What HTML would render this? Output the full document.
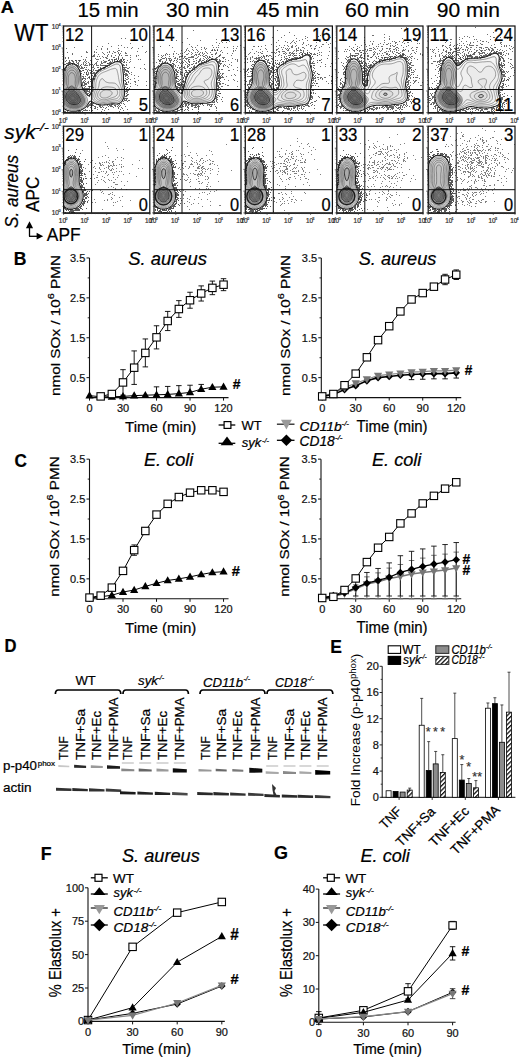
<!DOCTYPE html>
<html><head><meta charset="utf-8"><style>
html,body{margin:0;padding:0;background:#fff;}
body{width:520px;height:1059px;overflow:hidden;}
svg{display:block;}
text{font-family:"Liberation Sans", sans-serif;}
</style></head><body>
<svg width="520" height="1059" viewBox="0 0 520 1059" font-family='"Liberation Sans", sans-serif'>
<rect width="520" height="1059" fill="#fff"/>
<clipPath id="cp1"><rect x="63.60" y="26.00" width="86.20" height="86.70"/></clipPath>
<g clip-path="url(#cp1)"><g transform="translate(63.60 26.00)">
<path d="M12.0 85.2 10.8 85.3 9.6 85.3 8.4 85.3 7.4 85.2 6.4 85.0 5.3 84.8 4.4 84.5 3.6 84.3 2.8 83.9 2.0 83.5 1.2 83.1 0.4 82.6 -0.0 82.0 -0.1 80.8 -0.2 79.6 -0.2 78.4 -0.3 77.2 -0.3 76.0 -0.3 74.8 -0.3 73.6 -0.3 72.4 -0.3 71.2 -0.3 70.0 -0.3 68.8 -0.3 67.6 -0.3 66.4 -0.3 65.2 -0.3 64.0 -0.2 62.8 -0.2 61.6 -0.2 60.4 -0.2 59.2 -0.2 58.0 -0.1 56.8 -0.1 55.6 -0.1 54.4 -0.1 53.2 -0.1 52.0 -0.1 50.8 -0.1 49.6 -0.1 48.4 -0.0 47.2 -0.0 46.0 0.2 45.2 0.5 44.4 0.8 43.6 1.2 42.8 1.7 42.0 2.2 41.2 2.8 40.4 3.2 40.0 4.0 39.2 4.6 38.8 5.2 38.4 6.0 38.0 7.2 37.7 8.0 37.6 8.8 37.6 10.0 37.9 10.8 38.2 11.6 38.7 12.3 39.2 12.8 39.6 13.5 40.4 14.0 41.0 14.4 41.6 14.9 42.4 15.3 43.2 15.7 44.0 16.0 44.8 16.4 46.0 16.6 46.8 16.8 47.6 17.0 48.8 17.2 50.0 17.2 50.8 17.3 52.0 17.4 53.2 17.4 54.4 17.5 55.6 17.5 56.8 17.6 57.6 17.8 58.8 18.0 59.6 18.4 60.7 18.8 61.6 19.1 62.4 19.6 63.2 20.0 64.0 20.4 64.6 20.8 65.3 21.3 66.0 21.9 66.8 22.4 67.4 22.9 68.0 23.6 68.8 24.1 69.2 24.8 69.7 25.8 69.6 26.4 68.9 26.8 68.1 27.2 67.2 27.5 66.4 27.8 65.6 28.1 64.8 28.3 63.6 28.5 62.8 28.5 61.6 28.6 60.4 28.6 59.2 28.6 58.0 28.8 56.8 28.9 56.0 29.2 54.8 29.4 54.0 29.6 53.2 30.0 52.1 30.3 51.2 30.7 50.4 31.0 49.6 31.4 48.8 31.9 48.0 32.4 47.2 32.8 46.7 33.4 46.0 34.0 45.4 34.8 44.8 35.3 44.4 36.0 43.9 36.8 43.4 37.6 43.0 38.4 42.6 39.2 42.2 40.0 41.8 40.8 41.4 41.6 41.0 42.4 40.6 43.2 40.2 44.0 39.8 44.8 39.3 45.6 38.9 46.4 38.5 47.2 38.0 48.0 37.6 48.7 37.2 49.6 36.8 50.4 36.4 51.2 36.1 52.0 35.8 53.2 35.6 54.0 35.5 54.8 35.6 56.0 35.9 56.8 36.3 57.4 36.8 58.0 37.5 58.4 38.2 58.8 39.2 58.9 40.0 59.1 41.2 59.2 42.4 59.2 43.2 59.3 44.4 59.4 45.6 59.6 46.8 59.7 47.6 59.8 48.8 59.8 50.0 59.8 51.2 59.8 52.4 59.8 53.6 59.8 54.8 59.9 56.0 60.0 57.0 60.2 58.0 60.4 59.2 60.5 60.0 60.7 61.2 60.8 62.0 60.9 63.2 61.0 64.4 61.0 65.6 61.0 66.8 60.9 68.0 60.8 68.8 60.6 70.0 60.4 70.8 60.0 72.0 59.7 72.8 59.3 73.6 58.9 74.4 58.4 75.1 58.0 75.6 57.2 76.4 56.6 76.8 55.9 77.2 54.9 77.6 54.0 77.8 52.8 78.0 51.6 78.0 50.4 77.9 49.2 77.9 48.0 77.9 47.1 78.0 46.0 78.1 44.8 78.3 44.0 78.5 42.8 78.7 42.0 78.8 40.8 78.9 39.6 79.0 38.4 79.0 37.2 78.9 36.4 78.8 35.2 78.6 34.4 78.4 33.2 78.0 32.4 77.8 31.6 77.5 30.8 77.1 30.0 76.7 29.2 76.2 28.4 75.8 27.6 75.3 26.8 75.2 26.0 75.6 25.6 76.1 25.2 76.8 24.7 77.6 24.2 78.4 23.6 79.2 23.2 79.8 22.7 80.4 22.0 81.1 21.4 81.6 20.8 82.1 20.0 82.6 19.2 83.1 18.4 83.5 17.6 83.9 16.8 84.2 16.0 84.4 14.8 84.8 14.0 84.9 12.8 85.1 12.0 85.2Z" stroke="#1a1a1a" stroke-width="1.1" fill="#000" fill-opacity="0.02"/>
<path d="M41.2 77.6 40.0 77.7 38.8 77.7 37.6 77.6 36.8 77.5 35.6 77.3 34.8 77.1 33.9 76.8 32.9 76.4 32.1 76.0 31.4 75.6 30.8 75.1 30.0 74.4 29.6 74.0 29.1 73.2 28.7 72.4 28.5 71.2 28.5 70.0 28.7 68.8 28.9 68.0 29.2 66.8 29.4 66.0 29.7 65.2 30.0 64.0 30.1 63.2 30.3 62.0 30.3 60.8 30.3 59.6 30.3 58.4 30.4 57.2 30.5 56.4 30.8 55.2 31.0 54.4 31.2 53.6 31.6 52.5 31.9 51.6 32.3 50.8 32.7 50.0 33.1 49.2 33.6 48.5 34.0 47.9 34.6 47.2 35.2 46.7 36.0 46.0 36.6 45.6 37.2 45.2 38.0 44.8 38.8 44.4 39.6 44.0 40.5 43.6 41.3 43.2 42.2 42.8 43.0 42.4 43.8 42.0 44.6 41.6 45.5 41.2 46.3 40.8 47.1 40.4 47.9 40.0 48.7 39.6 49.5 39.2 50.4 38.8 51.2 38.5 52.0 38.2 53.2 38.0 54.4 38.1 55.2 38.5 56.0 39.2 56.4 39.9 56.7 40.8 56.8 41.6 57.0 42.8 57.1 44.0 57.2 45.2 57.3 46.0 57.5 47.2 57.6 48.2 57.7 49.2 57.8 50.4 57.8 51.6 57.8 52.8 57.8 54.0 57.9 55.2 58.0 56.0 58.3 57.2 58.4 58.0 58.7 59.2 58.9 60.0 59.2 61.2 59.3 62.0 59.5 63.2 59.6 64.4 59.6 65.2 59.6 66.4 59.6 67.2 59.4 68.4 59.2 69.5 59.0 70.4 58.7 71.2 58.4 72.1 58.0 72.9 57.6 73.6 56.9 74.4 56.4 74.9 55.6 75.5 54.8 75.9 54.0 76.2 52.8 76.4 52.0 76.5 50.8 76.5 49.6 76.5 48.4 76.5 47.2 76.6 46.1 76.8 45.2 77.0 44.0 77.2 43.2 77.4 42.0 77.5 41.2 77.6ZM12.4 84.0 11.2 84.1 10.0 84.1 8.8 84.1 8.0 84.0 6.8 83.8 5.8 83.6 4.8 83.3 4.0 83.0 3.2 82.7 2.4 82.2 1.6 81.8 0.8 81.2 0.3 80.8 -0.0 80.0 -0.1 78.8 -0.2 77.6 -0.2 76.4 -0.2 75.2 -0.2 74.0 -0.3 72.8 -0.3 71.6 -0.3 70.4 -0.3 69.2 -0.3 68.0 -0.2 66.8 -0.2 65.6 -0.2 64.4 -0.2 63.2 -0.1 62.0 -0.1 60.8 -0.1 59.6 -0.0 58.4 0.0 57.2 0.1 56.4 0.2 55.2 0.2 54.0 0.3 52.8 0.3 51.6 0.4 50.8 0.6 49.6 0.8 48.4 1.0 47.6 1.2 46.7 1.6 45.6 1.9 44.8 2.3 44.0 2.8 43.2 3.2 42.6 3.7 42.0 4.4 41.3 5.0 40.8 5.6 40.4 6.4 40.0 7.6 39.7 8.8 39.7 9.9 40.0 10.8 40.4 11.4 40.8 12.0 41.3 12.7 42.0 13.2 42.6 13.6 43.2 14.1 44.0 14.4 44.8 14.8 45.7 15.2 46.8 15.4 47.6 15.6 48.5 15.8 49.6 15.9 50.8 16.0 51.8 16.0 52.8 16.1 54.0 16.1 55.2 16.1 56.4 16.2 57.6 16.4 58.8 16.6 59.6 16.8 60.4 17.2 61.5 17.6 62.4 18.0 63.2 18.4 63.9 18.8 64.6 19.2 65.3 19.7 66.0 20.2 66.8 20.7 67.6 21.2 68.3 21.6 68.9 22.1 69.6 22.5 70.4 23.0 71.2 23.3 72.0 23.6 72.8 23.8 74.0 23.7 75.2 23.6 76.0 23.2 77.1 22.8 77.9 22.4 78.6 22.0 79.2 21.3 80.0 20.8 80.5 20.0 81.2 19.4 81.6 18.8 82.0 18.0 82.4 17.1 82.8 16.1 83.2 15.2 83.5 14.4 83.7 13.2 83.9 12.4 84.0Z" stroke="#444" stroke-width="0.6" fill="#000" fill-opacity="0.02"/>
<path d="M13.2 82.8 12.0 83.0 10.8 83.1 9.6 83.0 8.4 82.9 7.5 82.8 6.4 82.6 5.6 82.3 4.6 82.0 3.7 81.6 3.0 81.2 2.3 80.8 1.6 80.3 0.8 79.6 0.4 79.2 -0.0 78.4 -0.1 77.2 -0.1 76.0 -0.2 74.8 -0.2 73.6 -0.2 72.4 -0.2 71.2 -0.2 70.0 -0.2 68.8 -0.2 67.6 -0.2 66.4 -0.1 65.2 -0.1 64.0 -0.1 62.8 0.0 61.6 0.4 60.8 0.7 60.0 1.0 59.2 1.2 58.2 1.3 57.2 1.4 56.0 1.5 54.8 1.5 53.6 1.5 52.4 1.6 51.6 1.7 50.4 1.9 49.2 2.1 48.4 2.4 47.3 2.7 46.4 3.1 45.6 3.5 44.8 4.0 44.1 4.4 43.6 5.2 42.8 5.8 42.4 6.6 42.0 7.6 41.7 8.8 41.7 9.8 42.0 10.5 42.4 11.2 42.9 11.9 43.6 12.4 44.2 12.8 44.8 13.3 45.6 13.6 46.4 14.0 47.5 14.3 48.4 14.4 49.2 14.6 50.4 14.7 51.6 14.8 52.7 14.8 53.6 14.8 54.8 14.8 56.0 14.8 57.2 15.0 58.4 15.2 59.6 15.4 60.4 15.7 61.2 16.0 62.0 16.4 62.8 16.8 63.6 17.3 64.4 17.8 65.2 18.3 66.0 18.8 66.8 19.2 67.4 19.6 68.1 20.1 68.8 20.6 69.6 21.0 70.4 21.5 71.2 21.8 72.0 22.1 72.8 22.3 74.0 22.3 75.2 22.0 76.4 21.8 77.2 21.4 78.0 20.8 78.8 20.4 79.3 19.7 80.0 19.2 80.4 18.4 81.0 17.6 81.4 16.8 81.8 16.0 82.1 15.2 82.4 14.0 82.7 13.2 82.8ZM41.6 76.4 40.4 76.5 39.2 76.5 38.0 76.4 37.2 76.3 36.0 76.0 35.2 75.8 34.4 75.5 33.6 75.2 32.8 74.7 32.0 74.1 31.5 73.6 31.0 72.8 30.6 72.0 30.3 71.2 30.2 70.0 30.3 68.8 30.5 68.0 30.8 66.8 31.0 66.0 31.3 65.2 31.6 64.2 31.9 63.2 32.0 62.4 32.2 61.2 32.2 60.0 32.2 58.8 32.2 57.6 32.4 56.4 32.6 55.6 32.8 54.6 33.1 53.6 33.4 52.8 33.8 52.0 34.1 51.2 34.6 50.4 35.1 49.6 35.6 49.0 36.2 48.4 36.8 47.9 37.6 47.4 38.4 46.9 39.2 46.6 40.0 46.2 40.8 45.9 41.7 45.6 42.7 45.2 43.6 44.8 44.4 44.5 45.2 44.1 46.0 43.8 46.8 43.5 47.7 43.2 48.8 42.9 49.6 42.7 50.8 42.4 52.0 42.5 52.8 43.1 53.2 43.7 53.6 44.8 53.8 45.6 54.0 46.5 54.3 47.6 54.4 48.4 54.7 49.6 54.8 50.4 55.0 51.6 55.1 52.8 55.3 53.6 55.5 54.8 55.7 55.6 56.0 56.6 56.3 57.6 56.6 58.4 56.9 59.2 57.2 60.2 57.5 61.2 57.7 62.0 58.0 63.2 58.1 64.0 58.2 65.2 58.2 66.4 58.1 67.6 58.0 68.4 57.7 69.6 57.5 70.4 57.1 71.2 56.7 72.0 56.2 72.8 55.6 73.4 54.8 74.0 54.0 74.4 53.2 74.7 52.4 74.8 51.2 75.0 50.0 75.0 48.8 75.1 48.0 75.2 46.8 75.4 45.8 75.6 44.8 75.8 44.0 76.0 42.8 76.2 41.6 76.4Z" stroke="#555" stroke-width="0.55" fill="#000" fill-opacity="0.02"/>
<path d="M13.6 81.7 12.4 81.9 11.2 81.9 10.0 81.9 8.8 81.8 7.6 81.6 6.8 81.5 6.0 81.2 4.9 80.8 4.1 80.4 3.4 80.0 2.8 79.6 2.0 79.0 1.4 78.4 0.8 77.8 0.3 77.2 -0.0 76.4 -0.1 75.2 -0.1 74.0 -0.1 72.8 -0.1 71.6 -0.1 70.4 -0.1 69.2 -0.1 68.0 -0.1 66.8 -0.0 65.6 0.0 64.5 0.4 63.8 0.8 63.1 1.2 62.3 1.6 61.6 2.0 60.7 2.4 59.7 2.7 58.8 2.8 58.0 2.9 56.8 2.9 55.6 2.9 54.4 3.0 53.2 3.0 52.0 3.1 50.8 3.3 50.0 3.6 48.8 3.8 48.0 4.2 47.2 4.6 46.4 5.2 45.6 5.6 45.1 6.4 44.5 7.2 44.2 8.4 44.0 9.6 44.3 10.4 44.8 10.8 45.2 11.5 46.0 12.0 46.8 12.4 47.6 12.7 48.4 12.9 49.2 13.2 50.4 13.3 51.2 13.4 52.4 13.4 53.6 13.4 54.8 13.3 56.0 13.3 57.2 13.4 58.4 13.6 59.5 13.8 60.4 14.1 61.2 14.5 62.0 14.9 62.8 15.3 63.6 15.8 64.4 16.3 65.2 16.8 66.0 17.2 66.6 17.6 67.2 18.1 68.0 18.6 68.8 19.1 69.6 19.6 70.4 20.0 71.2 20.4 72.0 20.6 72.8 20.8 73.6 20.9 74.8 20.8 75.7 20.5 76.8 20.1 77.6 19.6 78.3 19.2 78.8 18.4 79.5 17.8 80.0 17.1 80.4 16.3 80.8 15.3 81.2 14.4 81.5 13.6 81.7ZM43.2 74.8 42.0 75.0 40.8 75.1 39.6 75.2 38.4 75.1 37.2 74.9 36.4 74.6 35.6 74.3 34.8 73.9 34.0 73.4 33.3 72.8 32.8 72.1 32.4 71.4 32.1 70.4 32.1 69.2 32.2 68.0 32.5 67.2 32.8 66.2 33.2 65.2 33.6 64.4 33.9 63.6 34.3 62.8 34.6 62.0 34.9 61.2 35.2 60.1 35.4 59.2 35.5 58.0 35.7 57.2 35.9 56.0 36.2 55.2 36.6 54.4 37.1 53.6 37.6 53.0 38.4 52.6 39.2 52.8 40.0 53.6 40.4 54.2 40.9 54.8 41.6 55.4 42.4 55.9 43.2 56.3 44.0 56.5 45.2 56.8 46.0 56.9 47.2 56.9 48.4 56.9 49.6 57.0 50.8 57.1 51.6 57.4 52.4 57.9 53.0 58.4 53.6 59.0 54.1 59.6 54.7 60.4 55.1 61.2 55.5 62.0 55.8 62.8 56.1 63.6 56.3 64.8 56.4 66.0 56.3 67.2 56.2 68.4 55.9 69.2 55.6 70.0 55.1 70.8 54.5 71.6 54.0 72.0 53.2 72.5 52.4 72.8 51.2 73.1 50.4 73.2 49.2 73.4 48.2 73.6 47.2 73.8 46.4 74.0 45.2 74.3 44.4 74.5 43.3 74.8Z" stroke="#555" stroke-width="0.55" fill="#000" fill-opacity="0.02"/>
<path d="M12.4 80.8 11.2 80.9 10.0 80.9 9.1 80.8 8.0 80.6 7.1 80.4 6.0 80.0 5.2 79.7 4.4 79.3 3.7 78.8 3.1 78.4 2.4 77.8 1.9 77.2 1.2 76.4 0.8 75.7 0.4 75.0 0.0 74.0 -0.0 73.2 -0.0 72.0 -0.0 70.8 -0.0 69.6 -0.0 68.4 0.0 67.6 0.4 66.6 0.8 65.7 1.2 64.9 1.6 64.3 2.0 63.6 2.5 62.8 3.0 62.0 3.5 61.2 3.9 60.4 4.2 59.6 4.4 58.8 4.6 57.6 4.6 56.4 4.6 55.2 4.6 54.0 4.6 52.8 4.7 51.6 4.8 50.8 5.1 49.6 5.5 48.8 5.9 48.0 6.4 47.4 7.2 46.9 8.0 46.6 9.0 46.8 9.7 47.2 10.4 47.9 10.8 48.6 11.2 49.5 11.5 50.4 11.6 51.2 11.7 52.4 11.8 53.6 11.7 54.8 11.6 56.0 11.6 56.9 11.6 57.6 11.7 58.8 12.0 60.0 12.3 60.8 12.7 61.6 13.1 62.4 13.6 63.2 14.0 63.8 14.4 64.5 14.9 65.2 15.4 66.0 16.0 66.8 16.4 67.4 16.8 68.0 17.3 68.8 17.8 69.6 18.3 70.4 18.7 71.2 19.1 72.0 19.4 72.8 19.6 74.0 19.6 74.8 19.5 75.6 19.2 76.6 18.8 77.4 18.3 78.0 17.6 78.7 17.0 79.2 16.3 79.6 15.5 80.0 14.4 80.4 13.6 80.6 12.5 80.8ZM42.4 73.6 41.2 73.8 40.0 73.8 38.8 73.7 38.0 73.5 37.0 73.2 36.2 72.8 35.6 72.4 34.8 71.6 34.4 71.0 34.0 70.0 34.0 69.2 34.0 68.4 34.3 67.2 34.7 66.4 35.1 65.6 35.6 64.9 36.0 64.3 36.7 63.6 37.2 63.1 38.0 62.4 38.7 62.0 39.5 61.6 40.4 61.3 41.2 61.1 42.4 60.9 43.6 60.8 44.8 60.9 46.0 61.0 47.2 61.1 48.0 61.2 49.2 61.4 50.0 61.6 51.0 62.0 51.8 62.4 52.4 62.9 53.1 63.6 53.5 64.4 53.8 65.2 54.0 66.4 53.9 67.6 53.6 68.5 53.2 69.2 52.4 70.0 51.9 70.4 51.1 70.8 50.1 71.2 49.2 71.5 48.4 71.8 47.6 72.0 46.5 72.4 45.6 72.7 44.8 73.0 44.0 73.2 42.8 73.5Z" stroke="#555" stroke-width="0.55" fill="#000" fill-opacity="0.025"/>
<path d="M12.8 79.6 11.6 79.8 10.4 79.8 9.2 79.7 8.4 79.5 7.2 79.2 6.4 78.9 5.6 78.5 4.8 78.1 4.1 77.6 3.6 77.2 2.9 76.4 2.4 75.8 2.0 75.2 1.6 74.4 1.2 73.5 0.9 72.4 0.8 71.4 0.8 70.4 0.9 69.6 1.1 68.4 1.4 67.6 1.8 66.8 2.2 66.0 2.7 65.2 3.2 64.4 3.6 63.9 4.2 63.2 4.8 62.5 5.3 62.0 6.0 61.2 6.4 60.8 7.2 60.1 8.0 59.8 8.8 60.1 9.6 60.8 10.0 61.2 10.7 62.0 11.2 62.6 11.7 63.2 12.3 64.0 12.8 64.6 13.3 65.2 13.9 66.0 14.4 66.7 14.8 67.2 15.3 68.0 15.9 68.8 16.4 69.6 16.8 70.2 17.2 70.9 17.6 71.7 18.0 72.8 18.2 73.6 18.2 74.8 18.0 75.9 17.6 76.7 17.2 77.3 16.5 78.0 16.0 78.4 15.2 78.8 14.4 79.2 13.2 79.5ZM41.2 72.0 40.0 72.0 39.2 71.9 38.4 71.6 37.6 71.2 36.9 70.4 36.5 69.6 36.4 68.8 36.5 68.0 36.8 67.2 37.3 66.4 38.0 65.7 38.6 65.2 39.3 64.8 40.1 64.4 41.2 64.1 42.0 63.9 43.2 63.9 44.4 64.0 45.2 64.2 46.0 64.4 46.8 64.8 47.6 65.4 48.2 66.0 48.6 66.8 48.4 68.0 48.0 68.7 47.6 69.2 46.8 69.8 46.0 70.4 45.3 70.8 44.4 71.2 43.6 71.5 42.8 71.8 41.6 72.0Z" stroke="#555" stroke-width="0.55" fill="#000" fill-opacity="0.03"/>
<path d="M12.8 78.4 11.6 78.6 10.4 78.6 9.2 78.5 8.4 78.3 7.3 78.0 6.4 77.6 5.7 77.2 5.1 76.8 4.4 76.2 3.9 75.6 3.3 74.8 2.8 74.0 2.5 73.2 2.3 72.4 2.1 71.2 2.2 70.0 2.4 68.9 2.7 68.0 3.1 67.2 3.6 66.4 4.0 65.9 4.6 65.2 5.2 64.6 6.0 64.0 6.8 63.6 7.6 63.4 8.8 63.6 9.6 63.9 10.4 64.4 10.9 64.8 11.6 65.5 12.1 66.0 12.8 66.8 13.2 67.2 13.8 68.0 14.4 68.8 14.8 69.4 15.2 70.0 15.7 70.8 16.1 71.6 16.5 72.4 16.8 73.6 16.8 74.4 16.7 75.2 16.4 76.0 15.8 76.8 15.2 77.3 14.4 77.8 13.6 78.2 12.8 78.4Z" stroke="#2a2a2a" stroke-width="0.9" fill="#000" fill-opacity="0.12"/>
<path d="M11.6 77.6 10.4 77.7 9.6 77.6 8.4 77.3 7.6 77.0 6.8 76.7 6.0 76.2 5.3 75.6 4.8 75.1 4.3 74.4 3.8 73.6 3.5 72.8 3.3 71.6 3.3 70.4 3.5 69.2 3.8 68.4 4.3 67.6 4.8 66.9 5.3 66.4 6.0 65.8 6.8 65.4 8.0 65.2 9.2 65.5 10.0 65.8 10.8 66.4 11.3 66.8 12.0 67.5 12.5 68.0 13.1 68.8 13.6 69.4 14.0 70.0 14.5 70.8 15.0 71.6 15.3 72.4 15.6 73.6 15.6 74.1 15.4 75.2 14.9 76.0 14.4 76.5 13.6 77.0 12.8 77.4 11.7 77.6Z" stroke="#444" stroke-width="0.6" fill="#000" fill-opacity="0.1"/>
<path d="M12.0 76.4 10.8 76.6 9.6 76.5 8.8 76.4 7.8 76.0 7.1 75.6 6.4 75.1 5.7 74.4 5.2 73.7 4.8 72.9 4.5 72.0 4.5 70.8 4.7 69.6 5.1 68.8 5.6 68.0 6.1 67.6 6.8 67.1 8.0 66.9 9.2 67.1 10.0 67.4 10.8 68.0 11.3 68.4 12.0 69.1 12.4 69.6 13.0 70.4 13.5 71.2 13.9 72.0 14.2 72.8 14.3 74.0 14.0 74.9 13.5 75.6 12.8 76.1 12.0 76.4Z" stroke="#444" stroke-width="0.6" fill="#000" fill-opacity="0.08"/>
<path d="M10.8 75.2 9.6 75.2 8.8 75.0 8.0 74.7 7.2 74.1 6.7 73.6 6.2 72.8 6.0 72.0 5.9 70.8 6.2 70.0 6.8 69.2 7.4 68.8 8.4 68.6 9.3 68.8 10.1 69.2 10.8 69.8 11.4 70.4 12.0 71.2 12.4 71.9 12.7 72.8 12.6 74.0 12.0 74.7 11.2 75.2Z" stroke="#555" stroke-width="0.55" fill="#000" fill-opacity="0.05"/>
<path d="M10.4 74.1 9.2 74.1 8.4 73.7 7.8 73.2 7.3 72.4 7.1 71.6 7.3 70.8 8.0 70.1 9.2 70.1 10.0 70.5 10.7 71.2 11.2 72.0 11.4 72.8 11.1 73.6 10.4 74.1Z" stroke="#666" stroke-width="0.5" fill="#000" fill-opacity="0.0"/>
<path d="M11.2 82.8 10.0 82.8 9.2 82.8 8.0 82.6 6.8 82.4 6.0 82.2 5.2 81.9 4.4 81.6 3.6 81.2 2.8 80.8 2.0 80.2 1.2 79.6 0.8 79.2 0.0 78.4 -0.0 77.6 -0.1 76.4 -0.1 75.2 -0.2 74.0 -0.2 72.8 -0.2 71.6 -0.2 70.4 -0.2 69.2 -0.2 68.0 -0.1 66.8 -0.1 65.6 -0.0 64.4 0.1 63.6 0.8 62.9 1.5 62.4 2.0 62.0 2.8 61.5 3.6 61.1 4.4 60.8 5.6 60.5 6.4 60.3 7.6 60.3 8.8 60.3 9.6 60.4 10.8 60.7 11.6 61.0 12.4 61.4 13.2 61.8 14.0 62.4 14.6 62.8 15.2 63.3 15.9 64.0 16.4 64.5 17.0 65.2 17.6 66.0 18.0 66.5 18.5 67.2 19.1 68.0 19.6 68.8 20.0 69.4 20.4 70.1 20.8 70.9 21.2 71.8 21.6 72.8 21.7 73.6 21.8 74.8 21.7 76.0 21.5 76.8 21.2 77.6 20.7 78.4 20.1 79.2 19.6 79.7 18.8 80.4 18.2 80.8 17.5 81.2 16.7 81.6 15.7 82.0 14.8 82.3 14.0 82.5 12.8 82.7 11.6 82.8Z" fill="#000" fill-opacity="0.3"/>
<path d="M10.0 64.0 8.8 64.4 7.6 64.4 6.4 64.1 5.6 63.7 4.9 63.2 4.4 62.8 3.6 62.0 3.2 61.5 2.7 60.8 2.3 60.0 1.9 59.2 1.5 58.4 1.2 57.4 0.9 56.4 0.8 55.6 0.6 54.4 0.5 53.2 0.4 52.0 0.5 50.8 0.6 49.6 0.8 48.4 0.9 47.6 1.2 46.7 1.6 45.6 1.9 44.8 2.3 44.0 2.7 43.2 3.2 42.5 3.6 42.0 4.4 41.2 4.9 40.8 5.6 40.4 6.4 40.0 7.6 39.7 8.8 39.7 10.0 40.0 10.8 40.4 11.4 40.8 12.0 41.3 12.7 42.0 13.2 42.6 13.6 43.2 14.1 44.0 14.5 44.8 14.8 45.6 15.2 46.8 15.4 47.6 15.6 48.5 15.8 49.6 15.9 50.8 15.9 52.0 15.9 53.2 15.8 54.4 15.6 55.6 15.4 56.4 15.2 57.2 14.8 58.4 14.5 59.2 14.1 60.0 13.6 60.8 13.2 61.4 12.8 62.0 12.0 62.8 11.5 63.2 10.8 63.7 10.0 64.0Z" fill="#000" fill-opacity="0.2"/>
<path d="M57 35h1M13 37h1M6 38h1M57 34h1M7 34h1M5 38h1M50 34h1M59 36h1M27 79h1M26 67h1M18 85h1M27 53h1M4 36h1M27 60h1M34 44h1M61 44h1M45 37h1M12 36h1M34 44h1M53 80h1M51 79h1M7 37h1M19 50h1M17 47h1M22 65h1M62 70h1M25 66h1M36 42h1M1 85h1M3 85h1M30 46h1M24 63h1M35 79h1M62 65h1M23 68h1M62 57h1M64 68h1M26 68h1M19 56h1M63 44h1M60 46h1M20 86h1M56 34h1M60 44h1M25 69h1M27 58h1M62 48h1M62 67h1M23 62h1M23 65h1M11 86h1M49 81h1M43 40h1M62 38h1M44 80h1M17 87h1M46 80h1M36 80h1M60 43h1M13 37h1M30 47h1M19 84h1M26 68h1M21 62h1M60 39h1M27 62h1M42 81h1M23 67h1M63 66h1M27 57h1M63 42h1M31 49h1M25 65h1M62 62h1M24 62h1M9 35h1M61 57h1M20 61h1M7 37h1M20 65h1M3 37h1M18 53h1M28 77h1M30 49h1M27 80h1M63 68h1M33 81h1M59 75h1M27 76h1M5 37h1M18 57h1M46 36h1M6 36h1M30 80h1M28 57h1M64 64h1M21 62h1M32 46h1M61 43h1M29 52h1M43 39h1M28 78h1M61 41h1M55 35h1M36 42h1M60 41h1M8 38h1M20 84h1M20 59h1M24 67h1M18 58h1M29 77h1M55 35h1M47 78h1M4 38h1M13 39h1M28 56h1M62 36h1M60 42h1M55 78h1M56 79h1M24 67h1M55 34h1M28 60h1M30 52h1M61 74h1M24 80h1M62 74h1M62 73h1M20 52h1M22 63h1M25 68h1M59 43h1M28 60h1M30 52h1M52 33h1M63 49h1M20 62h1M63 49h1M21 58h1M62 65h1M61 49h1M9 36h1M39 42h1M21 64h1M48 78h1M61 63h1M56 33h1M0 42h1M19 51h1M18 52h1M31 50h1M23 84h1M26 68h1M42 39h1M6 36h1M61 58h1M37 81h1M19 59h1M22 65h1M59 77h1M29 53h1M54 33h1M3 37h1M26 60h1M14 39h1M24 67h1M0 38h1M50 35h1M63 58h1M14 37h1M22 62h1M24 62h1M60 74h1M3 39h1M22 62h1M5 35h1M32 78h1M25 64h1M35 80h1M20 84h1M21 84h1M39 81h1M1 86h1M9 87h1M16 45h1M61 47h1M61 49h1M28 52h1M57 77h1M20 56h1M15 43h1M20 63h1M30 53h1M61 60h1M63 69h1M61 49h1M1 38h1M62 47h1M51 80h1M23 65h1M28 65h1M62 63h1M19 62h1M25 66h1M18 59h1M60 35h1M25 65h1M4 86h1M26 79h1M62 72h1M24 79h1M38 42h1M46 35h1M44 37h1M54 79h1M31 80h1M50 33h1M13 39h1M4 36h1M42 40h1M60 45h1M27 59h1M60 46h1M45 79h1M63 64h1M2 41h1M63 65h1M60 54h1M47 37h1M57 33h1M28 79h1M21 64h1M11 34h1M61 72h1M60 42h1M46 79h1M23 64h1M62 47h1M17 45h1M22 63h1M25 62h1M62 69h1M25 65h1M34 45h1M27 60h1M26 77h1M62 70h1M60 44h1M61 70h1M21 83h1M46 79h1M62 56h1M17 40h1M27 66h1M40 42h1M25 61h1M50 79h1M24 67h1M21 65h1M38 42h1M46 79h1M47 80h1M63 69h1M28 59h1M60 78h1M25 78h1M5 86h1M40 39h1M54 81h1M32 78h1M16 86h1M5 38h1M13 86h1M63 61h1M8 87h1M50 79h1M48 80h1M30 53h1M54 35h1M27 65h1M9 36h1M17 47h1M41 39h1M60 72h1M62 65h1M39 42h1M61 55h1M14 38h1M27 80h1M62 65h1M27 67h1M61 54h1M22 84h1M28 78h1M30 47h1M29 50h1M59 34h1M20 84h1M21 60h1M50 79h1M28 52h1M33 46h1M26 78h1M0 44h1M59 43h1M35 44h1M28 64h1M32 44h1M54 79h1M27 60h1M9 86h1M8 34h1M41 82h1M19 86h1M53 34h1M19 52h1M20 64h1M12 34h1M61 52h1M18 58h1M60 48h1M62 67h1M26 78h1M5 37h1M4 39h1M35 80h1M62 49h1M47 78h1M42 39h1M29 61h1M3 39h1M39 41h1M7 87h1M11 38h1M29 79h1M20 58h1M62 64h1M23 80h1M5 34h1M43 79h1M61 55h1M37 43h1M12 38h1M14 39h1M17 47h1M56 34h1M28 56h1M15 86h1M50 33h1M0 42h1M19 44h1M21 84h1M33 45h1M51 33h1M33 45h1M63 51h1M59 41h1M2 37h1M25 65h1M11 34h1M26 68h1M61 70h1M4 37h1M23 64h1M29 47h1M59 38h1M38 80h1M17 42h1M61 70h1M15 85h1M16 39h1M55 80h1M36 81h1M55 35h1M3 39h1M27 59h1M5 37h1M36 43h1M61 50h1M57 77h1M62 45h1M14 85h1M26 81h1M62 44h1M62 49h1M26 79h1M63 45h1M2 37h1M22 64h1M20 54h1M17 41h1M0 85h1M54 32h1M25 60h1M30 48h1M1 42h1M62 72h1M25 70h1M43 37h1M4 38h1M44 80h1M4 39h1M41 39h1M9 36h1M61 49h1M1 44h1M32 46h1M7 37h1M23 65h1M18 53h1M20 84h1M10 37h1M62 53h1M47 80h1M8 35h1M24 62h1M38 39h1M47 79h1M63 48h1M41 41h1M27 60h1M16 44h1M62 56h1M21 65h1M46 79h1M22 66h1M62 39h1M1 43h1M45 79h1M60 36h1M62 49h1M24 65h1M25 69h1M36 41h1M21 65h1M12 36h1M23 68h1M4 37h1M61 65h1M5 36h1M25 79h1M62 58h1M19 52h1M26 78h1M16 85h1M35 80h1M28 49h1M16 85h1M60 74h1M27 56h1M25 69h1M53 78h1M17 41h1M28 57h1M2 39h1M20 56h1M32 47h1M46 37h1M27 65h1M60 73h1M63 72h1M23 81h1M28 60h1M11 86h1M20 59h1M46 79h1M28 63h1M18 50h1M16 42h1M46 37h1M31 44h1M19 55h1M28 53h1M59 33h1M59 38h1M8 34h1M28 61h1M36 79h1M28 54h1M24 60h1M57 29h1M47 30h1M33 41h1M30 38h1M28 84h1M34 41h1M64 46h1M2 22h1M23 45h1M21 52h1M59 84h1M27 82h1M54 82h1M37 85h1M63 75h1M21 55h1M38 83h1M1 31h1M51 29h1M22 57h1M22 48h1M57 81h1M58 82h1M29 41h1M43 29h1M26 55h1M58 32h1M33 83h1M64 45h1M41 36h1M3 26h1M63 83h1M55 85h1M54 31h1M56 83h1M32 36h1M8 28h1M1 35h1M44 34h1M30 82h1M30 42h1M20 41h1M28 86h1M65 47h1M63 34h1M24 55h1M39 39h1M44 83h1M61 80h1M30 82h1M66 60h1M65 74h1M26 53h1M4 31h1M15 34h1M64 52h1M64 42h1M37 36h1M26 53h1M2 34h1M24 51h1M21 57h1M64 56h1M31 81h1M58 32h1M31 82h1M42 35h1M54 32h1M20 46h1M45 34h1M1 32h1M26 46h1M0 87h1M22 48h1M55 28h1M22 58h1M27 52h1M23 39h1M25 84h1M22 47h1M41 35h1M65 62h1M60 33h1M28 84h1M64 74h1M22 46h1M40 84h1M20 52h1M25 51h1" stroke="#333" stroke-width="1" stroke-opacity="0.75" shape-rendering="crispEdges"/>
<path d="M19 44h1M23 56h1M15 40h1M18 41h1M80 38h1M82 55h1M49 31h1M17 30h1M23 48h1M34 43h1M36 38h1M35 43h1M59 33h1M22 31h1M33 35h1M23 44h1M29 43h1M22 46h1M19 33h1M23 49h1M25 60h1M61 12h1M28 41h1M71 56h1M63 29h1M66 57h1M30 28h1M32 33h1M33 39h1M19 37h1M86 38h1M24 48h1M47 29h1M32 23h1M39 31h1M29 39h1M68 21h1M38 42h1M66 35h1M36 32h1M20 41h1M31 32h1M44 34h1M61 26h1M28 55h1M47 33h1M70 52h1M18 56h1M45 25h1M25 38h1M24 47h1M30 30h1M36 39h1M47 20h1M29 44h1M20 35h1M18 53h1M65 41h1M63 61h1M29 30h1M38 37h1M5 36h1M41 31h1M44 17h1M34 33h1M32 26h1M76 42h1M21 43h1M16 34h1M10 21h1M34 28h1M57 19h1M33 44h1M66 31h1M29 39h1M45 36h1M22 48h1M56 27h1M19 42h1M37 39h1M36 32h1M42 31h1M43 23h1M29 46h1M48 35h1M74 50h1M44 28h1M13 39h1M54 27h1M33 30h1M71 55h1M72 30h1M20 35h1M42 32h1M33 33h1M21 36h1M25 51h1M19 36h1M54 26h1M38 37h1M18 44h1M65 36h1M74 33h1M61 29h1M47 36h1M48 27h1M46 38h1M54 19h1M41 39h1M21 34h1M27 54h1M48 34h1M58 35h1M24 36h1M15 41h1M60 21h1M52 32h1M70 49h1M46 38h1M24 56h1M48 33h1M18 42h1M19 42h1M47 29h1M39 27h1M55 35h1M14 40h1M80 42h1M30 25h1M67 22h1M21 50h1M26 38h1M22 26h1M38 30h1M25 39h1M53 25h1M73 25h1M55 24h1M31 49h1M23 52h1M47 37h1M39 36h1M43 30h1M59 39h1M40 35h1M47 33h1M22 37h1M27 45h1M45 33h1M32 38h1M8 27h1M63 53h1M50 26h1M29 40h1M74 22h1M74 50h1M39 42h1M28 41h1M21 33h1M57 33h1M49 25h1M29 29h1M43 37h1M33 35h1M28 47h1M37 23h1M22 35h1M38 26h1M61 48h1M34 45h1M14 34h1M36 39h1M32 39h1M43 32h1M30 52h1M30 26h1M54 22h1M11 34h1M67 46h1M70 55h1M40 28h1M74 29h1M22 39h1M62 27h1M25 50h1M56 35h1M27 35h1M58 31h1M62 29h1M66 53h1M35 30h1M61 27h1M66 17h1M71 58h1M51 26h1M26 47h1M50 33h1M55 28h1M33 44h1M30 30h1M62 58h1M57 34h1M64 45h1M22 41h1M27 39h1M21 38h1M28 30h1M33 20h1M76 33h1M31 48h1M66 29h1M22 25h1M20 39h1M82 59h1M31 37h1M45 26h1M36 44h1M64 50h1M81 26h1M66 33h1M37 37h1M33 44h1M21 53h1M57 25h1M67 48h1M15 34h1M38 20h1M26 34h1M43 22h1M62 56h1M24 46h1M20 57h1M23 26h1M25 52h1M78 20h1M73 59h1M14 36h1M45 36h1M21 39h1M25 37h1M17 38h1M16 39h1M37 35h1M1 41h1M22 35h1M24 57h1M57 12h1M81 43h1M82 25h1M55 29h1M22 43h1M41 39h1M26 44h1M28 41h1M12 39h1M28 45h1M43 26h1M51 26h1M54 30h1M63 21h1M86 41h1M4 32h1M70 41h1M34 39h1M34 45h1M53 34h1M19 48h1M25 44h1M39 27h1M54 24h1M40 36h1M48 34h1M12 35h1M37 22h1M20 35h1M54 32h1M36 42h1M28 38h1M32 37h1M62 41h1M72 29h1M64 55h1M50 31h1M74 54h1M27 64h1M27 36h1M37 37h1M23 52h1M15 35h1M19 38h1M24 43h1M30 29h1M45 39h1M39 34h1" stroke="#333" stroke-width="1" stroke-opacity="0.7" shape-rendering="crispEdges"/>
</g></g>
<rect x="63.60" y="26.00" width="86.20" height="86.70" fill="none" stroke="#111" stroke-width="1.2"/>
<line x1="63.00" y1="113.10" x2="150.40" y2="113.10" stroke="#111" stroke-width="1.0"/>
<line x1="91.60" y1="26.00" x2="91.60" y2="112.70" stroke="#111" stroke-width="1.0"/>
<line x1="63.60" y1="89.50" x2="149.80" y2="89.50" stroke="#111" stroke-width="1.0"/>
<path d="M63.6 112.7h-2.0M63.6 112.7v2.0M63.6 106.2h-1.2M70.1 112.7v1.2M63.6 102.4h-1.2M73.9 112.7v1.2M63.6 99.7h-1.2M76.6 112.7v1.2M63.6 97.6h-1.2M78.7 112.7v1.2M63.6 95.9h-1.2M80.4 112.7v1.2M63.6 94.5h-1.2M81.8 112.7v1.2M63.6 93.2h-1.2M83.1 112.7v1.2M63.6 92.1h-1.2M84.2 112.7v1.2M63.6 91.2h-2.0M85.2 112.7v2.0M63.6 84.7h-1.2M91.6 112.7v1.2M63.6 80.9h-1.2M95.4 112.7v1.2M63.6 78.2h-1.2M98.1 112.7v1.2M63.6 76.1h-1.2M100.2 112.7v1.2M63.6 74.4h-1.2M101.9 112.7v1.2M63.6 72.9h-1.2M103.4 112.7v1.2M63.6 71.7h-1.2M104.6 112.7v1.2M63.6 70.6h-1.2M105.7 112.7v1.2M63.6 69.6h-2.0M106.7 112.7v2.0M63.6 63.1h-1.2M113.2 112.7v1.2M63.6 59.3h-1.2M117.0 112.7v1.2M63.6 56.6h-1.2M119.7 112.7v1.2M63.6 54.5h-1.2M121.8 112.7v1.2M63.6 52.8h-1.2M123.5 112.7v1.2M63.6 51.4h-1.2M124.9 112.7v1.2M63.6 50.1h-1.2M126.2 112.7v1.2M63.6 49.0h-1.2M127.3 112.7v1.2M63.6 48.0h-2.0M128.2 112.7v2.0M63.6 41.6h-1.2M134.7 112.7v1.2M63.6 37.8h-1.2M138.5 112.7v1.2M63.6 35.1h-1.2M141.2 112.7v1.2M63.6 33.0h-1.2M143.3 112.7v1.2M63.6 31.3h-1.2M145.0 112.7v1.2M63.6 29.8h-1.2M146.5 112.7v1.2M63.6 28.6h-1.2M147.7 112.7v1.2M63.6 27.5h-1.2M148.8 112.7v1.2M63.6 26.0h-2M149.8 112.7v2" stroke="#333" stroke-width=".7"/>
<text x="58.80" y="115.10" font-size="6.4" text-anchor="end" fill="#333" stroke="#333" stroke-width="0.22">10</text>
<text x="58.60" y="111.90" font-size="3.8" fill="#333" stroke="#333" stroke-width="0.22">0</text>
<text x="62.40" y="123.10" font-size="6.4" text-anchor="middle" fill="#333" stroke="#333" stroke-width="0.22">10</text>
<text x="65.20" y="119.50" font-size="3.8" fill="#333" stroke="#333" stroke-width="0.22">0</text>
<text x="58.80" y="93.55" font-size="6.4" text-anchor="end" fill="#333" stroke="#333" stroke-width="0.22">10</text>
<text x="58.60" y="90.35" font-size="3.8" fill="#333" stroke="#333" stroke-width="0.22">1</text>
<text x="83.95" y="123.10" font-size="6.4" text-anchor="middle" fill="#333" stroke="#333" stroke-width="0.22">10</text>
<text x="86.75" y="119.50" font-size="3.8" fill="#333" stroke="#333" stroke-width="0.22">1</text>
<text x="58.80" y="72.00" font-size="6.4" text-anchor="end" fill="#333" stroke="#333" stroke-width="0.22">10</text>
<text x="58.60" y="68.80" font-size="3.8" fill="#333" stroke="#333" stroke-width="0.22">2</text>
<text x="105.50" y="123.10" font-size="6.4" text-anchor="middle" fill="#333" stroke="#333" stroke-width="0.22">10</text>
<text x="108.30" y="119.50" font-size="3.8" fill="#333" stroke="#333" stroke-width="0.22">2</text>
<text x="58.80" y="50.45" font-size="6.4" text-anchor="end" fill="#333" stroke="#333" stroke-width="0.22">10</text>
<text x="58.60" y="47.25" font-size="3.8" fill="#333" stroke="#333" stroke-width="0.22">3</text>
<text x="127.05" y="123.10" font-size="6.4" text-anchor="middle" fill="#333" stroke="#333" stroke-width="0.22">10</text>
<text x="129.85" y="119.50" font-size="3.8" fill="#333" stroke="#333" stroke-width="0.22">3</text>
<text x="58.80" y="28.90" font-size="6.4" text-anchor="end" fill="#333" stroke="#333" stroke-width="0.22">10</text>
<text x="58.60" y="25.70" font-size="3.8" fill="#333" stroke="#333" stroke-width="0.22">4</text>
<text x="148.60" y="123.10" font-size="6.4" text-anchor="middle" fill="#333" stroke="#333" stroke-width="0.22">10</text>
<text x="151.40" y="119.50" font-size="3.8" fill="#333" stroke="#333" stroke-width="0.22">4</text>
<text x="64.90" y="41.20" font-size="18.33" stroke="#000" stroke-width="0.22" textLength="18.96" lengthAdjust="spacingAndGlyphs">12</text>
<text x="129.26" y="41.02" font-size="18.08" stroke="#000" stroke-width="0.22" textLength="18.70" lengthAdjust="spacingAndGlyphs">10</text>
<text x="138.73" y="111.13" font-size="17.91" stroke="#000" stroke-width="0.22" textLength="9.27" lengthAdjust="spacingAndGlyphs">5</text>
<clipPath id="cp2"><rect x="154.00" y="26.00" width="87.00" height="86.70"/></clipPath>
<g clip-path="url(#cp2)"><g transform="translate(154.00 26.00)">
<path d="M15.2 85.2 14.0 85.3 12.8 85.4 11.6 85.3 10.7 85.2 9.6 85.0 8.6 84.8 7.6 84.5 6.8 84.2 6.0 83.9 5.2 83.5 4.4 83.0 3.6 82.5 2.9 82.0 2.4 81.6 1.6 80.8 1.2 80.4 0.6 79.6 0.0 78.8 -0.1 78.0 -0.1 76.8 -0.2 75.6 -0.2 74.4 -0.2 73.2 -0.2 72.0 -0.2 70.8 -0.2 69.6 -0.2 68.4 -0.2 67.2 -0.2 66.0 -0.1 64.8 -0.1 63.6 -0.0 62.4 0.3 61.6 0.6 60.8 0.9 60.0 1.2 59.2 1.5 58.0 1.7 57.2 1.8 56.0 1.9 54.8 1.9 53.6 1.9 52.4 2.0 51.2 2.0 50.4 2.2 49.2 2.3 48.0 2.5 47.2 2.8 46.0 3.0 45.2 3.3 44.4 3.6 43.6 4.0 42.8 4.4 42.0 4.9 41.2 5.5 40.4 6.0 39.8 6.6 39.2 7.2 38.6 8.0 38.1 8.8 37.7 9.6 37.4 10.4 37.2 11.6 37.1 12.7 37.2 13.6 37.4 14.4 37.8 15.2 38.3 15.9 38.8 16.4 39.2 17.1 40.0 17.6 40.6 18.1 41.2 18.5 42.0 19.0 42.8 19.3 43.6 19.7 44.4 20.0 45.4 20.3 46.4 20.5 47.2 20.7 48.4 20.8 49.2 20.9 50.4 21.0 51.6 21.0 52.8 21.0 54.0 21.0 55.2 21.0 56.4 21.1 57.6 21.2 58.4 21.5 59.6 21.7 60.4 22.0 61.2 22.4 62.0 22.8 62.8 23.2 63.6 23.8 64.4 24.3 65.2 24.8 65.7 25.4 66.4 26.0 66.9 26.8 67.3 27.6 67.2 28.3 66.4 28.6 65.6 28.9 64.8 29.2 63.8 29.4 62.8 29.7 62.0 29.9 60.8 30.1 60.0 30.4 58.9 30.6 58.0 30.9 57.2 31.2 56.0 31.4 55.2 31.6 54.4 32.0 53.2 32.2 52.4 32.4 51.6 32.8 50.4 33.1 49.6 33.4 48.8 33.9 48.0 34.4 47.4 34.9 46.8 35.6 46.1 36.2 45.6 36.8 45.1 37.6 44.5 38.3 44.0 38.8 43.6 39.6 43.0 40.4 42.4 40.9 42.0 41.6 41.5 42.4 40.8 42.9 40.4 43.6 39.8 44.4 39.2 45.0 38.8 45.7 38.4 46.4 38.0 47.2 37.6 48.2 37.2 49.2 36.8 50.0 36.6 50.8 36.3 51.7 36.0 52.6 35.6 53.5 35.2 54.3 34.8 55.1 34.4 56.0 34.0 56.8 33.7 57.6 33.5 58.8 33.3 60.0 33.4 60.8 33.6 61.6 34.0 62.4 34.7 62.9 35.2 63.4 36.0 63.8 36.8 64.1 37.6 64.4 38.8 64.4 39.6 64.5 40.8 64.4 42.0 64.3 42.8 64.2 44.0 64.0 45.1 63.8 46.0 63.6 47.2 63.5 48.0 63.3 49.2 63.1 50.0 63.0 51.2 62.8 52.4 62.7 53.2 62.6 54.4 62.5 55.6 62.4 56.8 62.4 57.6 62.3 58.8 62.3 60.0 62.3 61.2 62.3 62.4 62.3 63.6 62.2 64.8 62.1 66.0 62.0 67.0 61.9 68.0 61.7 69.2 61.5 70.0 61.2 71.2 61.0 72.0 60.6 72.8 60.2 73.6 59.6 74.3 59.2 74.8 58.4 75.4 57.6 75.9 56.8 76.3 56.0 76.5 54.9 76.8 54.0 76.9 52.8 77.1 51.6 77.2 50.8 77.2 49.6 77.3 48.4 77.4 47.2 77.5 46.2 77.6 45.2 77.7 44.0 77.8 42.8 77.8 41.6 77.8 40.4 77.8 39.2 77.7 38.4 77.6 37.2 77.4 36.4 77.2 35.2 76.8 34.4 76.5 33.6 76.2 32.8 75.8 32.0 75.5 31.2 75.2 30.0 75.1 29.2 75.6 28.8 76.2 28.4 76.8 27.9 77.6 27.5 78.4 26.9 79.2 26.4 79.9 26.0 80.4 25.2 81.2 24.7 81.6 24.0 82.2 23.2 82.7 22.4 83.2 21.6 83.6 20.8 83.9 20.0 84.2 19.2 84.5 18.0 84.8 17.2 85.0 16.0 85.1 15.2 85.2Z" stroke="#1a1a1a" stroke-width="1.1" fill="#000" fill-opacity="0.02"/>
<path d="M45.2 76.4 44.0 76.5 42.8 76.6 41.6 76.6 40.4 76.5 39.2 76.4 38.4 76.3 37.2 76.0 36.4 75.8 35.6 75.4 34.8 75.1 34.0 74.6 33.2 74.1 32.5 73.6 32.0 73.1 31.3 72.4 30.8 71.6 30.4 70.8 30.2 70.0 30.1 68.8 30.2 67.6 30.3 66.4 30.4 65.6 30.7 64.4 30.9 63.6 31.1 62.4 31.3 61.6 31.6 60.6 31.9 59.6 32.1 58.8 32.4 58.0 32.8 56.9 33.2 56.0 33.5 55.2 33.8 54.4 34.1 53.6 34.5 52.8 34.8 52.0 35.2 51.0 35.6 50.2 36.0 49.4 36.4 48.8 37.0 48.0 37.6 47.3 38.1 46.8 38.8 46.1 39.4 45.6 40.0 45.1 40.8 44.4 41.3 44.0 42.0 43.4 42.7 42.8 43.2 42.3 44.0 41.6 44.5 41.2 45.2 40.6 46.0 40.1 46.8 39.6 47.5 39.2 48.4 38.8 49.2 38.5 50.0 38.3 51.0 38.0 52.0 37.7 52.8 37.5 53.6 37.2 54.6 36.8 55.5 36.4 56.4 36.1 57.2 35.8 58.4 35.6 59.6 35.8 60.4 36.1 61.2 36.8 61.6 37.3 62.0 38.1 62.3 39.2 62.5 40.0 62.6 41.2 62.5 42.4 62.4 43.6 62.4 44.4 62.2 45.6 62.0 46.8 61.9 47.6 61.7 48.8 61.5 49.6 61.3 50.8 61.1 51.6 60.9 52.8 60.7 53.6 60.5 54.8 60.3 55.6 60.2 56.8 60.1 58.0 60.2 59.2 60.2 60.4 60.3 61.6 60.4 62.8 60.4 64.0 60.3 65.2 60.2 66.4 60.1 67.6 59.9 68.4 59.7 69.6 59.4 70.4 59.1 71.2 58.7 72.0 58.2 72.8 57.6 73.4 56.9 74.0 56.2 74.4 55.3 74.8 54.4 75.1 53.6 75.3 52.4 75.5 51.6 75.6 50.4 75.8 49.2 76.0 48.4 76.1 47.2 76.2 46.0 76.3 45.2 76.4ZM15.6 84.0 14.4 84.1 13.2 84.1 12.0 84.1 11.2 84.0 10.0 83.8 9.1 83.6 8.0 83.3 7.2 83.0 6.4 82.6 5.6 82.2 4.8 81.7 4.1 81.2 3.6 80.8 2.8 80.1 2.4 79.6 1.7 78.8 1.2 78.1 0.8 77.5 0.4 76.8 0.0 75.9 -0.0 74.8 -0.1 73.6 -0.1 72.4 -0.1 71.2 -0.1 70.0 -0.1 68.8 -0.1 67.6 -0.0 66.4 0.0 65.6 0.4 64.6 0.8 63.7 1.2 62.9 1.6 62.1 2.0 61.2 2.3 60.4 2.6 59.6 2.8 58.8 3.1 57.6 3.2 56.5 3.2 55.6 3.3 54.4 3.3 53.2 3.3 52.0 3.4 50.8 3.5 49.6 3.6 48.8 3.8 47.6 4.0 46.8 4.4 45.6 4.7 44.8 5.1 44.0 5.5 43.2 6.0 42.5 6.4 41.9 7.1 41.2 7.6 40.7 8.4 40.1 9.2 39.7 10.0 39.4 10.9 39.2 12.0 39.2 12.8 39.3 13.6 39.6 14.4 40.0 15.2 40.6 15.9 41.2 16.4 41.8 16.9 42.4 17.4 43.2 17.9 44.0 18.2 44.8 18.5 45.6 18.8 46.4 19.1 47.6 19.3 48.4 19.5 49.6 19.6 50.8 19.6 51.6 19.6 52.8 19.6 54.0 19.6 55.0 19.6 56.0 19.6 56.8 19.7 58.0 19.9 59.2 20.1 60.0 20.4 61.1 20.8 62.0 21.2 62.8 21.6 63.6 22.0 64.3 22.4 65.0 22.8 65.6 23.4 66.4 23.9 67.2 24.4 67.9 24.8 68.4 25.4 69.2 25.9 70.0 26.4 70.8 26.8 71.6 27.1 72.4 27.2 73.3 27.2 74.2 27.1 75.2 26.8 76.3 26.5 77.2 26.1 78.0 25.6 78.8 25.2 79.3 24.6 80.0 24.0 80.6 23.3 81.2 22.7 81.6 22.0 82.0 21.2 82.5 20.4 82.8 19.4 83.2 18.4 83.5 17.6 83.7 16.4 83.9 15.6 84.0Z" stroke="#444" stroke-width="0.6" fill="#000" fill-opacity="0.02"/>
<path d="M45.2 75.2 44.0 75.3 42.8 75.4 41.6 75.4 40.4 75.3 39.3 75.2 38.4 75.0 37.5 74.8 36.5 74.4 35.6 74.0 35.0 73.6 34.4 73.2 33.6 72.5 33.2 72.0 32.6 71.2 32.3 70.4 32.0 69.6 31.8 68.4 31.7 67.2 31.8 66.0 32.0 65.0 32.2 64.0 32.4 63.2 32.8 62.0 33.0 61.2 33.3 60.4 33.6 59.6 34.0 58.7 34.4 57.9 34.8 57.1 35.2 56.4 35.7 55.6 36.1 54.8 36.6 54.0 37.0 53.2 37.4 52.4 37.8 51.6 38.2 50.8 38.6 50.0 39.1 49.2 39.6 48.6 40.1 48.0 40.8 47.2 41.2 46.8 42.0 46.1 42.5 45.6 43.2 44.9 43.8 44.4 44.4 43.7 44.9 43.2 45.6 42.6 46.2 42.0 46.8 41.6 47.6 41.1 48.4 40.6 49.2 40.3 50.1 40.0 51.2 39.7 52.0 39.5 53.2 39.3 54.0 39.2 55.2 38.9 56.0 38.8 57.2 38.7 58.2 38.8 59.0 39.2 59.6 39.9 60.0 40.7 60.2 41.6 60.4 42.8 60.4 43.6 60.4 44.8 60.4 45.6 60.3 46.8 60.1 48.0 59.9 48.8 59.6 50.0 59.4 50.8 59.1 51.6 58.8 52.5 58.4 53.5 58.1 54.4 57.8 55.2 57.5 56.0 57.3 57.2 57.3 58.4 57.5 59.6 57.6 60.4 57.9 61.6 58.1 62.4 58.2 63.6 58.3 64.8 58.2 66.0 58.1 67.2 58.0 68.0 57.6 69.2 57.3 70.0 56.9 70.8 56.4 71.6 56.0 72.0 55.2 72.6 54.4 73.1 53.6 73.5 52.8 73.8 52.0 74.0 50.8 74.3 50.0 74.5 48.8 74.7 48.0 74.8 46.8 75.0 45.6 75.2ZM16.8 82.8 15.6 83.0 14.4 83.1 13.2 83.1 12.0 83.0 10.8 82.8 10.0 82.7 9.0 82.4 8.0 82.0 7.2 81.7 6.4 81.3 5.6 80.8 5.0 80.4 4.4 79.9 3.7 79.2 3.2 78.7 2.6 78.0 2.1 77.2 1.6 76.4 1.2 75.6 0.9 74.8 0.6 74.0 0.4 72.8 0.3 72.0 0.2 70.8 0.3 69.6 0.4 68.8 0.7 67.6 0.9 66.8 1.2 65.9 1.6 65.0 2.0 64.1 2.4 63.3 2.8 62.5 3.2 61.7 3.6 60.8 3.9 60.0 4.2 59.2 4.4 58.2 4.5 57.2 4.6 56.0 4.6 54.8 4.6 53.6 4.6 52.4 4.6 51.2 4.8 50.0 4.9 49.2 5.1 48.0 5.3 47.2 5.6 46.4 6.0 45.5 6.4 44.7 6.8 44.0 7.5 43.2 8.0 42.6 8.8 42.0 9.5 41.6 10.4 41.3 11.2 41.2 12.0 41.2 13.2 41.5 14.0 41.9 14.7 42.4 15.2 42.9 15.8 43.6 16.4 44.4 16.8 45.2 17.2 46.0 17.5 46.8 17.7 47.6 18.0 48.8 18.1 49.6 18.3 50.8 18.3 52.0 18.3 53.2 18.3 54.4 18.3 55.6 18.2 56.8 18.3 58.0 18.4 59.0 18.6 60.0 18.9 60.8 19.2 61.6 19.6 62.5 20.0 63.3 20.4 64.0 20.9 64.8 21.4 65.6 21.9 66.4 22.4 67.2 22.8 67.8 23.2 68.4 23.7 69.2 24.2 70.0 24.7 70.8 25.1 71.6 25.3 72.4 25.6 73.6 25.7 74.4 25.6 75.3 25.4 76.4 25.1 77.2 24.7 78.0 24.1 78.8 23.6 79.4 23.0 80.0 22.4 80.5 21.6 81.1 20.8 81.5 20.0 81.9 19.2 82.2 18.4 82.4 17.2 82.7Z" stroke="#555" stroke-width="0.55" fill="#000" fill-opacity="0.02"/>
<path d="M44.0 74.0 42.8 74.1 41.6 74.1 40.4 74.0 39.6 73.9 38.4 73.6 37.6 73.3 36.8 72.9 36.0 72.5 35.4 72.0 34.8 71.4 34.4 70.8 33.9 70.0 33.6 69.1 33.4 68.0 33.4 66.8 33.5 65.6 33.7 64.8 34.0 63.7 34.3 62.8 34.7 62.0 35.1 61.2 35.6 60.4 36.0 59.8 36.5 59.2 37.2 58.4 37.6 57.9 38.3 57.2 38.8 56.7 39.3 56.0 39.9 55.2 40.4 54.4 40.8 53.6 41.2 52.8 41.6 52.1 42.0 51.4 42.5 50.8 43.2 50.0 43.6 49.6 44.4 48.8 44.8 48.3 45.3 47.6 45.8 46.8 46.3 46.0 46.8 45.2 47.2 44.6 47.7 44.0 48.4 43.4 49.2 42.8 50.0 42.5 50.8 42.2 51.6 42.0 52.8 41.9 54.0 41.9 54.8 42.0 56.0 42.4 56.6 42.8 57.2 43.5 57.6 44.3 57.8 45.2 57.9 46.4 57.8 47.6 57.6 48.4 57.2 49.5 56.8 50.3 56.4 51.0 55.9 51.6 55.2 52.4 54.7 52.8 54.0 53.3 53.2 53.7 52.4 54.0 51.3 54.4 50.6 54.8 50.2 55.6 50.4 56.4 50.9 57.2 51.5 58.0 52.0 58.7 52.4 59.2 53.1 60.0 53.6 60.7 54.0 61.3 54.4 62.0 54.8 62.8 55.2 63.8 55.5 64.8 55.6 66.0 55.5 67.2 55.2 68.4 54.9 69.2 54.4 70.0 54.0 70.5 53.2 71.2 52.7 71.6 52.0 72.0 51.1 72.4 50.0 72.8 49.2 73.0 48.4 73.3 47.2 73.5 46.4 73.7 45.2 73.9 44.2 74.0ZM17.2 81.6 16.0 81.8 14.8 81.9 13.6 82.0 12.4 81.9 11.2 81.7 10.4 81.5 9.2 81.2 8.4 80.9 7.6 80.5 6.8 80.1 6.1 79.6 5.5 79.2 4.8 78.5 4.3 78.0 3.6 77.2 3.2 76.6 2.8 75.9 2.4 75.1 2.0 74.0 1.8 73.2 1.6 72.1 1.5 71.2 1.6 70.0 1.7 69.2 1.9 68.0 2.1 67.2 2.4 66.4 2.8 65.5 3.2 64.7 3.6 63.9 4.0 63.2 4.5 62.4 4.9 61.6 5.3 60.8 5.6 60.0 6.0 58.8 6.1 58.0 6.2 56.8 6.2 55.6 6.1 54.4 6.1 53.2 6.1 52.0 6.2 50.8 6.3 49.6 6.5 48.8 6.8 47.9 7.2 46.9 7.6 46.1 8.0 45.5 8.6 44.8 9.2 44.3 10.0 43.8 10.8 43.6 12.0 43.5 12.8 43.8 13.6 44.2 14.3 44.8 14.8 45.3 15.3 46.0 15.7 46.8 16.1 47.6 16.4 48.7 16.6 49.6 16.8 50.8 16.8 51.6 16.8 52.8 16.8 53.8 16.7 54.8 16.7 56.0 16.6 57.2 16.7 58.4 16.8 59.3 17.1 60.4 17.4 61.2 17.8 62.0 18.2 62.8 18.6 63.6 19.1 64.4 19.6 65.2 20.0 65.8 20.4 66.4 20.9 67.2 21.5 68.0 22.0 68.8 22.4 69.4 22.8 70.1 23.2 70.8 23.6 71.7 24.0 72.8 24.2 73.6 24.2 74.8 24.1 76.0 23.8 76.8 23.4 77.6 22.9 78.4 22.4 78.9 21.6 79.6 21.1 80.0 20.4 80.4 19.6 80.8 18.7 81.2 17.6 81.5Z" stroke="#555" stroke-width="0.55" fill="#000" fill-opacity="0.02"/>
<path d="M15.6 80.8 14.4 80.9 13.2 80.9 12.3 80.8 11.2 80.6 10.4 80.4 9.2 80.0 8.4 79.7 7.6 79.2 7.0 78.8 6.4 78.4 5.6 77.7 5.1 77.2 4.5 76.4 4.0 75.6 3.6 74.8 3.3 74.0 3.0 73.2 2.8 72.0 2.8 71.2 2.8 70.0 2.9 69.2 3.2 68.0 3.4 67.2 3.8 66.4 4.1 65.6 4.6 64.8 5.1 64.0 5.6 63.2 6.0 62.6 6.4 62.0 6.9 61.2 7.3 60.4 7.6 59.6 8.0 58.4 8.0 57.6 8.0 56.4 8.0 55.6 7.9 54.4 7.8 53.2 7.8 52.0 7.9 50.8 8.0 50.0 8.4 48.8 8.8 48.0 9.2 47.4 9.8 46.8 10.4 46.4 11.6 46.1 12.6 46.4 13.2 46.8 13.9 47.6 14.4 48.4 14.7 49.2 14.9 50.0 15.1 51.2 15.2 52.4 15.1 53.6 15.0 54.8 14.8 56.0 14.8 56.8 14.7 58.0 14.8 58.8 15.1 60.0 15.4 60.8 15.9 61.6 16.3 62.4 16.8 63.2 17.2 63.8 17.6 64.4 18.2 65.2 18.7 66.0 19.2 66.7 19.6 67.3 20.1 68.0 20.6 68.8 21.2 69.6 21.6 70.3 22.0 71.1 22.4 72.0 22.7 72.8 22.9 73.6 22.9 74.8 22.8 75.7 22.4 76.8 22.0 77.5 21.6 78.0 20.8 78.8 20.3 79.2 19.6 79.6 18.8 80.0 17.7 80.4 16.8 80.6 15.9 80.8ZM45.6 72.4 44.4 72.6 43.2 72.7 42.0 72.7 40.8 72.7 39.6 72.5 38.8 72.2 38.0 71.9 37.2 71.4 36.5 70.8 36.0 70.2 35.6 69.6 35.2 68.5 35.1 67.6 35.1 66.4 35.3 65.6 35.6 64.7 36.0 63.9 36.4 63.2 37.1 62.4 37.6 62.0 38.4 61.5 39.2 61.1 40.0 60.8 41.2 60.5 42.0 60.3 43.2 60.2 44.4 60.1 45.6 60.2 46.7 60.4 47.6 60.6 48.4 60.9 49.2 61.3 50.0 61.8 50.7 62.4 51.2 62.8 51.8 63.6 52.3 64.4 52.6 65.2 52.8 66.4 52.7 67.6 52.4 68.4 52.0 69.2 51.2 70.0 50.7 70.4 50.0 70.9 49.2 71.3 48.4 71.6 47.3 72.0 46.4 72.2 45.6 72.4Z" stroke="#555" stroke-width="0.55" fill="#000" fill-opacity="0.025"/>
<path d="M16.0 79.6 14.8 79.8 13.6 79.8 12.4 79.7 11.6 79.5 10.4 79.2 9.6 78.9 8.8 78.5 8.0 78.0 7.4 77.6 6.8 77.1 6.1 76.4 5.6 75.7 5.2 75.1 4.8 74.3 4.4 73.2 4.2 72.4 4.1 71.2 4.1 70.0 4.3 68.8 4.6 68.0 4.9 67.2 5.3 66.4 5.7 65.6 6.3 64.8 6.8 64.1 7.3 63.6 8.0 62.8 8.4 62.4 9.2 61.7 9.8 61.2 10.6 60.8 11.6 60.7 12.4 61.0 13.2 61.6 13.6 62.0 14.4 62.8 14.8 63.2 15.5 64.0 16.0 64.6 16.5 65.2 17.2 66.0 17.6 66.6 18.1 67.2 18.6 68.0 19.2 68.8 19.6 69.4 20.0 70.0 20.5 70.8 20.9 71.6 21.2 72.4 21.5 73.6 21.5 74.8 21.3 76.0 20.9 76.8 20.4 77.4 19.8 78.0 19.2 78.5 18.4 78.9 17.6 79.2 16.4 79.6ZM44.0 70.9 42.8 71.0 41.6 70.9 40.7 70.8 39.6 70.4 38.8 70.0 38.4 69.6 37.8 68.8 37.5 68.0 37.5 66.8 37.8 66.0 38.4 65.2 38.8 64.8 39.6 64.3 40.6 64.0 41.6 63.8 42.8 63.6 43.6 63.6 44.8 63.6 45.6 63.6 46.8 63.9 47.6 64.2 48.4 64.7 48.9 65.2 49.4 66.0 49.5 67.2 49.2 68.1 48.7 68.8 48.0 69.4 47.2 69.9 46.4 70.2 45.6 70.5 44.4 70.8Z" stroke="#555" stroke-width="0.55" fill="#000" fill-opacity="0.03"/>
<path d="M16.0 78.5 14.8 78.6 13.6 78.6 12.4 78.5 11.6 78.3 10.6 78.0 9.7 77.6 9.0 77.2 8.4 76.8 7.6 76.1 7.1 75.6 6.5 74.8 6.1 74.0 5.8 73.2 5.6 72.4 5.4 71.2 5.5 70.0 5.6 69.2 6.0 68.1 6.4 67.3 6.8 66.6 7.3 66.0 8.0 65.2 8.5 64.8 9.2 64.3 10.0 63.9 11.2 63.7 12.4 63.9 13.2 64.3 14.0 64.8 14.5 65.2 15.2 65.8 15.7 66.4 16.4 67.1 16.8 67.6 17.4 68.4 18.0 69.2 18.4 69.8 18.8 70.4 19.3 71.2 19.6 72.0 20.0 73.1 20.1 74.0 20.0 75.2 19.7 76.0 19.2 76.7 18.7 77.2 18.0 77.7 17.2 78.1 16.2 78.4Z" stroke="#2a2a2a" stroke-width="0.9" fill="#000" fill-opacity="0.12"/>
<path d="M14.8 77.6 13.6 77.7 12.8 77.6 11.6 77.3 10.8 77.0 10.0 76.6 9.2 76.1 8.6 75.6 8.0 75.0 7.6 74.4 7.1 73.6 6.8 72.8 6.6 71.6 6.6 70.4 6.8 69.3 7.1 68.4 7.6 67.6 8.0 67.1 8.7 66.4 9.2 66.0 10.0 65.6 11.2 65.4 12.4 65.6 13.2 65.9 14.0 66.4 14.5 66.8 15.2 67.4 15.7 68.0 16.4 68.8 16.8 69.3 17.3 70.0 17.8 70.8 18.3 71.6 18.6 72.4 18.8 73.2 18.9 74.4 18.7 75.2 18.2 76.0 17.6 76.6 16.8 77.1 16.0 77.4 15.1 77.6Z" stroke="#444" stroke-width="0.6" fill="#000" fill-opacity="0.1"/>
<path d="M15.2 76.5 14.0 76.6 12.8 76.5 12.0 76.3 11.1 76.0 10.3 75.6 9.6 75.0 9.0 74.4 8.4 73.6 8.0 72.8 7.8 72.0 7.8 70.8 8.0 69.6 8.4 68.8 8.8 68.2 9.5 67.6 10.2 67.2 11.2 67.0 12.4 67.1 13.2 67.5 14.0 68.0 14.5 68.4 15.2 69.1 15.7 69.6 16.3 70.4 16.8 71.2 17.2 72.0 17.5 72.8 17.6 73.6 17.5 74.4 17.1 75.2 16.4 75.9 15.6 76.3Z" stroke="#444" stroke-width="0.6" fill="#000" fill-opacity="0.08"/>
<path d="M14.4 75.2 13.2 75.3 12.4 75.2 11.5 74.8 10.8 74.4 10.0 73.6 9.6 73.0 9.3 72.0 9.2 71.2 9.4 70.4 9.8 69.6 10.4 69.0 11.2 68.7 12.4 68.8 13.2 69.2 13.8 69.6 14.4 70.1 15.0 70.8 15.5 71.6 15.9 72.4 16.0 73.2 15.9 74.0 15.3 74.8 14.4 75.2Z" stroke="#555" stroke-width="0.55" fill="#000" fill-opacity="0.05"/>
<path d="M14.0 74.0 12.8 74.1 12.0 73.9 11.2 73.3 10.8 72.8 10.4 71.6 10.8 70.6 11.6 70.1 12.8 70.3 13.6 70.8 14.0 71.2 14.5 72.0 14.7 73.2 14.0 74.0Z" stroke="#666" stroke-width="0.5" fill="#000" fill-opacity="0.0"/>
<path d="M14.4 82.8 13.2 82.8 12.4 82.8 11.2 82.6 10.1 82.4 9.2 82.2 8.4 81.9 7.6 81.6 6.8 81.2 6.0 80.7 5.2 80.2 4.5 79.6 4.0 79.1 3.3 78.4 2.8 77.7 2.4 77.2 1.9 76.4 1.5 75.6 1.2 74.7 0.9 73.6 0.7 72.8 0.6 71.6 0.6 70.4 0.7 69.2 0.9 68.4 1.2 67.3 1.6 66.4 2.0 65.6 2.4 64.9 2.8 64.4 3.4 63.6 4.0 63.0 4.7 62.4 5.3 62.0 6.0 61.6 6.8 61.2 7.7 60.8 8.8 60.5 9.6 60.4 10.8 60.3 12.0 60.3 12.8 60.4 14.0 60.7 14.8 61.0 15.6 61.3 16.4 61.8 17.2 62.3 17.9 62.8 18.4 63.2 19.2 64.0 19.6 64.4 20.3 65.2 20.8 65.9 21.2 66.4 21.8 67.2 22.4 68.0 22.8 68.6 23.2 69.3 23.6 70.0 24.1 70.8 24.4 71.6 24.8 72.6 25.0 73.6 25.1 74.8 25.0 76.0 24.8 76.8 24.4 77.8 24.0 78.4 23.4 79.2 22.8 79.8 22.1 80.4 21.5 80.8 20.8 81.2 20.0 81.6 18.9 82.0 18.0 82.3 17.2 82.5 16.0 82.7 14.8 82.8Z" fill="#000" fill-opacity="0.3"/>
<path d="M13.2 63.6 12.0 63.9 10.8 63.9 9.7 63.6 8.8 63.2 8.2 62.8 7.6 62.4 6.8 61.6 6.4 61.1 5.9 60.4 5.4 59.6 5.0 58.8 4.6 58.0 4.3 57.2 4.0 56.1 3.8 55.2 3.6 54.1 3.5 53.2 3.4 52.0 3.4 50.8 3.5 49.6 3.6 48.8 3.8 47.6 4.0 46.8 4.4 45.6 4.7 44.8 5.1 44.0 5.5 43.2 6.0 42.4 6.4 41.9 7.0 41.2 7.6 40.7 8.4 40.1 9.2 39.7 10.0 39.4 10.8 39.2 12.0 39.2 12.8 39.3 13.6 39.6 14.4 40.0 15.2 40.6 15.9 41.2 16.4 41.7 16.9 42.4 17.4 43.2 17.9 44.0 18.2 44.8 18.5 45.6 18.8 46.4 19.1 47.6 19.3 48.4 19.4 49.6 19.5 50.8 19.5 52.0 19.5 53.2 19.3 54.4 19.2 55.2 18.9 56.4 18.6 57.2 18.3 58.0 18.0 58.8 17.6 59.6 17.1 60.4 16.5 61.2 16.0 61.8 15.3 62.4 14.8 62.8 14.0 63.3 13.2 63.6Z" fill="#000" fill-opacity="0.2"/>
<path d="M1 58h1M40 41h1M63 33h1M62 75h1M65 65h1M35 78h1M65 53h1M28 55h1M29 59h1M31 76h1M53 33h1M63 57h1M34 78h1M65 50h1M38 78h1M64 69h1M30 58h1M22 51h1M63 59h1M8 36h1M21 85h1M44 79h1M1 50h1M43 78h1M29 60h1M63 31h1M41 41h1M13 36h1M66 67h1M24 50h1M0 46h1M44 80h1M28 66h1M1 51h1M22 45h1M39 41h1M1 59h1M1 58h1M8 85h1M22 44h1M63 60h1M24 57h1M22 60h1M6 40h1M5 85h1M4 41h1M65 36h1M12 86h1M64 60h1M2 50h1M65 46h1M53 78h1M22 51h1M27 81h1M29 59h1M23 84h1M26 60h1M30 76h1M23 50h1M65 51h1M7 86h1M3 43h1M22 51h1M52 36h1M46 38h1M65 67h1M31 79h1M65 37h1M60 78h1M23 55h1M66 58h1M29 51h1M62 33h1M23 62h1M65 39h1M62 35h1M65 45h1M19 38h1M22 56h1M58 32h1M63 64h1M21 44h1M37 78h1M64 63h1M21 52h1M65 67h1M66 47h1M41 79h1M62 74h1M48 37h1M65 53h1M63 63h1M60 33h1M2 57h1M56 78h1M31 76h1M1 57h1M41 78h1M65 34h1M3 40h1M26 62h1M23 61h1M66 35h1M65 52h1M68 43h1M41 41h1M24 84h1M60 75h1M22 86h1M13 86h1M24 58h1M19 40h1M56 80h1M2 84h1M22 55h1M59 33h1M23 50h1M19 40h1M58 30h1M65 35h1M16 35h1M32 48h1M0 61h1M37 44h1M29 60h1M28 79h1M2 42h1M67 37h1M23 45h1M16 87h1M47 36h1M63 71h1M7 39h1M31 80h1M24 57h1M1 42h1M47 37h1M3 85h1M60 76h1M28 67h1M64 67h1M27 64h1M23 46h1M2 45h1M66 62h1M64 67h1M63 76h1M21 57h1M38 80h1M47 35h1M55 33h1M34 79h1M62 71h1M12 33h1M37 79h1M28 65h1M40 79h1M5 85h1M32 78h1M64 49h1M19 86h1M3 41h1M22 44h1M26 58h1M63 63h1M24 65h1M38 79h1M62 34h1M48 34h1M53 79h1M25 59h1M39 43h1M64 47h1M25 84h1M64 69h1M37 79h1M62 73h1M19 41h1M63 35h1M66 34h1M64 51h1M10 36h1M25 63h1M30 55h1M13 37h1M30 49h1M48 36h1M31 77h1M62 70h1M34 48h1M32 79h1M11 87h1M16 34h1M23 46h1M27 66h1M3 85h1M21 51h1M62 70h1M65 53h1M46 78h1M49 79h1M53 78h1M63 52h1M21 51h1M21 57h1M65 43h1M66 55h1M15 87h1M63 69h1M3 85h1M65 43h1M66 50h1M40 42h1M1 45h1M1 83h1M2 52h1M21 57h1M19 85h1M63 56h1M35 78h1M32 51h1M23 58h1M20 85h1M31 76h1M55 78h1M63 57h1M48 78h1M19 41h1M20 46h1M62 68h1M65 49h1M55 79h1M6 38h1M23 57h1M20 85h1M23 63h1M22 50h1M0 84h1M44 38h1M66 50h1M63 56h1M65 48h1M31 56h1M36 46h1M1 61h1M22 85h1M16 39h1M42 78h1M66 62h1M57 78h1M33 49h1M27 66h1M66 47h1M22 52h1M58 33h1M65 37h1M3 41h1M11 86h1M64 64h1M64 35h1M6 86h1M23 84h1M8 37h1M63 63h1M52 36h1M30 57h1M29 63h1M65 40h1M64 59h1M66 51h1M16 38h1M1 84h1M2 56h1M35 44h1M25 63h1M18 85h1M28 80h1M30 77h1M34 77h1M29 58h1M28 66h1M18 41h1M23 52h1M42 79h1M28 64h1M52 36h1M23 84h1M4 84h1M41 41h1M0 55h1M32 79h1M41 41h1M63 64h1M50 35h1M26 81h1M25 58h1M22 47h1M18 37h1M63 52h1M59 76h1M42 41h1M27 58h1M25 64h1M22 55h1M4 39h1M1 82h1M55 79h1M65 58h1M25 61h1M29 80h1M19 37h1M13 86h1M1 80h1M37 79h1M16 35h1M2 85h1M54 32h1M63 73h1M31 52h1M1 51h1M33 50h1M64 54h1M0 84h1M65 33h1M1 55h1M8 35h1M27 83h1M3 45h1M29 63h1M64 61h1M1 57h1M28 61h1M9 85h1M65 48h1M1 56h1M64 62h1M18 40h1M57 80h1M1 61h1M2 41h1M33 46h1M66 35h1M25 64h1M29 80h1M28 58h1M65 57h1M64 59h1M22 47h1M35 45h1M23 48h1M33 77h1M58 30h1M62 32h1M52 35h1M2 48h1M58 78h1M62 72h1M28 53h1M42 41h1M64 36h1M64 56h1M40 43h1M23 60h1M43 80h1M65 54h1M15 34h1M21 43h1M0 51h1M3 82h1M18 39h1M63 69h1M52 34h1M26 80h1M23 48h1M37 41h1M30 59h1M24 59h1M20 85h1M53 78h1M35 44h1M39 79h1M66 38h1M66 47h1M58 33h1M40 40h1M5 37h1M4 40h1M23 62h1M65 56h1M1 43h1M28 83h1M1 47h1M29 56h1M65 34h1M65 35h1M66 37h1M63 71h1M64 49h1M66 51h1M44 79h1M57 79h1M58 76h1M54 78h1M65 63h1M5 87h1M1 45h1M67 49h1M2 50h1M66 52h1M56 31h1M29 52h1M24 59h1M11 35h1M31 77h1M19 86h1M63 62h1M25 62h1M23 50h1M7 86h1M16 38h1M10 86h1M65 58h1M57 32h1M22 48h1M29 61h1M24 64h1M31 53h1M24 55h1M31 78h1M3 44h1M48 78h1M31 77h1M27 59h1M17 39h1M10 86h1M62 72h1M44 80h1M64 49h1M17 87h1M42 79h1M28 60h1M28 79h1M63 58h1M23 83h1M45 80h1M31 54h1M64 62h1M26 83h1M33 80h1M63 59h1M67 43h1M0 55h1M4 85h1M18 85h1M7 37h1M26 59h1M42 79h1M65 40h1M29 78h1M24 63h1M15 86h1M31 55h1M32 77h1M23 85h1M23 58h1M32 45h1M40 79h1M24 61h1M31 51h1M11 36h1M26 61h1M23 60h1M1 52h1M16 38h1M29 78h1M27 58h1M28 49h1M64 59h1M17 38h1M61 72h1M31 50h1M0 80h1M28 58h1M41 80h1M7 38h1M29 60h1M62 31h1M38 44h1M0 52h1M64 50h1M63 53h1M65 54h1M65 61h1M54 35h1M21 86h1M65 70h1M1 60h1M42 37h1M27 67h1M63 33h1M22 50h1M49 37h1M22 48h1M41 80h1M29 55h1M3 41h1M51 36h1M16 39h1M2 41h1M64 52h1M62 71h1M24 53h1M30 48h1M21 85h1M8 36h1M55 31h1M63 73h1M37 80h1M61 32h1M9 86h1M62 82h1M61 80h1M4 33h1M12 32h1M63 76h1M25 42h1M7 31h1M62 81h1M9 32h1M42 34h1M44 81h1M8 32h1M26 37h1M34 40h1M4 30h1M6 33h1M33 83h1M38 38h1M40 81h1M49 30h1M35 36h1M31 44h1M39 86h1M27 40h1M6 35h1M42 81h1M34 82h1M45 34h1M69 39h1M30 84h1M68 48h1M12 27h1M26 47h1M20 34h1M68 35h1M34 84h1M67 73h1M27 57h1M19 30h1M24 44h1M68 75h1M11 28h1M63 24h1M65 29h1M33 41h1M10 32h1M35 38h1M25 41h1M30 42h1M46 29h1M6 20h1M8 30h1M33 81h1M17 33h1M6 34h1M4 28h1M55 30h1M68 50h1M61 28h1M71 63h1M67 60h1M44 85h1M29 41h1M31 83h1M2 36h1M58 24h1M44 83h1M26 53h1M44 35h1M68 71h1M42 36h1M7 33h1M62 84h1M68 51h1M56 26h1M15 19h1M10 32h1M71 39h1M0 42h1M57 28h1M44 82h1M16 32h1M69 51h1M67 51h1M28 53h1M35 39h1M73 40h1M5 34h1M34 81h1M27 46h1M23 41h1M38 83h1M45 34h1M41 81h1M69 32h1M52 32h1M69 40h1M25 54h1M11 31h1M55 83h1" stroke="#333" stroke-width="1" stroke-opacity="0.75" shape-rendering="crispEdges"/>
<path d="M24 57h1M29 36h1M27 30h1M28 30h1M26 48h1M58 19h1M22 52h1M51 36h1M39 4h1M21 31h1M69 31h1M86 19h1M35 33h1M32 36h1M41 32h1M50 33h1M78 32h1M81 24h1M42 23h1M27 24h1M63 24h1M21 39h1M47 23h1M44 36h1M68 57h1M72 16h1M18 37h1M83 55h1M51 31h1M36 42h1M69 35h1M32 23h1M65 54h1M37 26h1M46 26h1M73 59h1M39 40h1M25 31h1M25 33h1M73 21h1M40 29h1M41 21h1M30 26h1M15 30h1M43 31h1M23 33h1M67 24h1M15 28h1M35 31h1M67 15h1M26 46h1M77 49h1M64 21h1M31 30h1M25 30h1M81 49h1M16 36h1M27 36h1M53 30h1M37 38h1M22 27h1M74 34h1M22 51h1M30 31h1M21 46h1M40 39h1M27 48h1M19 28h1M44 39h1M50 22h1M24 46h1M83 35h1M49 34h1M83 34h1M38 42h1M32 32h1M40 42h1M34 35h1M29 55h1M41 26h1M60 24h1M42 28h1M44 39h1M38 23h1M43 40h1M70 53h1M41 28h1M39 30h1M22 14h1M65 30h1M26 30h1M22 49h1M30 60h1M41 37h1M52 26h1M32 28h1M39 31h1M5 35h1M68 16h1M63 23h1M53 27h1M31 44h1M33 37h1M1 42h1M55 31h1M37 31h1M71 33h1M47 21h1M30 41h1M51 29h1M62 27h1M34 31h1M26 56h1M38 30h1M44 35h1M43 19h1M25 36h1M26 43h1M24 39h1M46 14h1M37 28h1M19 27h1M39 35h1M30 26h1M37 30h1M26 30h1M52 22h1M51 25h1M26 41h1M44 25h1M33 40h1M35 36h1M79 43h1M28 27h1M48 29h1M64 21h1M26 27h1M31 25h1M67 14h1M64 19h1M44 28h1M66 52h1M75 15h1M32 24h1M66 29h1M62 26h1M44 30h1M71 35h1M33 32h1M31 38h1M22 43h1M41 28h1M53 27h1M0 40h1M52 29h1M79 22h1M43 24h1M58 19h1M68 35h1M83 20h1M22 36h1M68 26h1M45 33h1M29 54h1M21 40h1M28 35h1M17 34h1M60 23h1M55 34h1M63 24h1M66 25h1M52 34h1M33 48h1M68 60h1M26 43h1M11 29h1M13 28h1M35 35h1M65 29h1M27 57h1M31 35h1M43 26h1M77 36h1M37 20h1M9 29h1M34 31h1M74 41h1M22 48h1M19 39h1M66 57h1M25 57h1M29 61h1M25 36h1M80 48h1M50 27h1M20 25h1M58 23h1M75 44h1M37 30h1M74 59h1M66 67h1M58 23h1M26 45h1M24 28h1M26 33h1M61 33h1M47 37h1M64 30h1M74 54h1M27 40h1M18 21h1M69 57h1M15 33h1M5 34h1M79 20h1M33 46h1M70 21h1M81 33h1M70 38h1M73 27h1M68 31h1M22 51h1M39 37h1M20 38h1M21 32h1M47 38h1M45 35h1M46 32h1M31 46h1M31 32h1M83 41h1M34 34h1M34 31h1M62 13h1M23 35h1M65 17h1M51 31h1M79 53h1M14 32h1M29 36h1M20 32h1M33 28h1M57 24h1M71 33h1M32 44h1M35 25h1M72 50h1M75 38h1M3 44h1M22 54h1M59 21h1M34 27h1M30 49h1M28 29h1M58 24h1M42 28h1M61 24h1M83 60h1M22 34h1M31 42h1M40 35h1M39 24h1M38 42h1M46 34h1M37 38h1M36 31h1M29 54h1M83 44h1M27 30h1M66 29h1M48 26h1M35 18h1M51 23h1M60 33h1M30 50h1M42 29h1M34 38h1M19 35h1M71 58h1M30 30h1M51 23h1M62 61h1M46 33h1M42 32h1M77 29h1M38 27h1M35 42h1M77 39h1M66 28h1M50 30h1M38 21h1M45 28h1M32 33h1M62 21h1M32 46h1M16 38h1M86 45h1M33 12h1M25 59h1M58 28h1M58 23h1M28 37h1M61 27h1M30 34h1M83 33h1M74 44h1M39 33h1M50 21h1M30 40h1M68 47h1M27 39h1M29 32h1M27 43h1M45 37h1M34 44h1M34 33h1M33 39h1M32 28h1M28 46h1M53 31h1M49 32h1M20 45h1M80 54h1M79 25h1M23 46h1M23 32h1M23 33h1M35 33h1M21 32h1M26 53h1M12 34h1M18 37h1M64 60h1M15 32h1M34 24h1M69 47h1M78 27h1M79 24h1M22 52h1M38 27h1M22 51h1M34 27h1M38 31h1M30 47h1M20 34h1M45 27h1M70 31h1M19 27h1M7 29h1M49 28h1M82 22h1M28 16h1M62 16h1M48 27h1M20 42h1M33 22h1" stroke="#333" stroke-width="1" stroke-opacity="0.7" shape-rendering="crispEdges"/>
</g></g>
<rect x="154.00" y="26.00" width="87.00" height="86.70" fill="none" stroke="#111" stroke-width="1.2"/>
<line x1="153.40" y1="113.10" x2="241.60" y2="113.10" stroke="#111" stroke-width="1.0"/>
<line x1="182.00" y1="26.00" x2="182.00" y2="112.70" stroke="#111" stroke-width="1.0"/>
<line x1="154.00" y1="89.50" x2="241.00" y2="89.50" stroke="#111" stroke-width="1.0"/>
<path d="M154.0 112.7h-2.0M154.0 112.7v2.0M154.0 106.2h-1.2M160.5 112.7v1.2M154.0 102.3h-1.2M164.4 112.7v1.2M154.0 99.6h-1.2M167.1 112.7v1.2M154.0 97.5h-1.2M169.2 112.7v1.2M154.0 95.8h-1.2M170.9 112.7v1.2M154.0 94.3h-1.2M172.4 112.7v1.2M154.0 93.1h-1.2M173.6 112.7v1.2M154.0 91.9h-1.2M174.8 112.7v1.2M154.0 91.0h-2.0M175.8 112.7v2.0M154.0 84.4h-1.2M182.3 112.7v1.2M154.0 80.6h-1.2M186.1 112.7v1.2M154.0 77.9h-1.2M188.8 112.7v1.2M154.0 75.7h-1.2M191.0 112.7v1.2M154.0 74.0h-1.2M192.7 112.7v1.2M154.0 72.6h-1.2M194.1 112.7v1.2M154.0 71.3h-1.2M195.4 112.7v1.2M154.0 70.2h-1.2M196.5 112.7v1.2M154.0 69.2h-2.0M197.5 112.7v2.0M154.0 62.7h-1.2M204.0 112.7v1.2M154.0 58.8h-1.2M207.9 112.7v1.2M154.0 56.1h-1.2M210.6 112.7v1.2M154.0 54.0h-1.2M212.7 112.7v1.2M154.0 52.3h-1.2M214.4 112.7v1.2M154.0 50.8h-1.2M215.9 112.7v1.2M154.0 49.6h-1.2M217.1 112.7v1.2M154.0 48.4h-1.2M218.3 112.7v1.2M154.0 47.5h-2.0M219.2 112.7v2.0M154.0 40.9h-1.2M225.8 112.7v1.2M154.0 37.1h-1.2M229.6 112.7v1.2M154.0 34.4h-1.2M232.3 112.7v1.2M154.0 32.2h-1.2M234.5 112.7v1.2M154.0 30.5h-1.2M236.2 112.7v1.2M154.0 29.1h-1.2M237.6 112.7v1.2M154.0 27.8h-1.2M238.9 112.7v1.2M154.0 26.7h-1.2M240.0 112.7v1.2M154.0 26.0h-2M241.0 112.7v2" stroke="#333" stroke-width=".7"/>
<text x="152.80" y="123.10" font-size="6.4" text-anchor="middle" fill="#333" stroke="#333" stroke-width="0.22">10</text>
<text x="155.60" y="119.50" font-size="3.8" fill="#333" stroke="#333" stroke-width="0.22">0</text>
<text x="174.55" y="123.10" font-size="6.4" text-anchor="middle" fill="#333" stroke="#333" stroke-width="0.22">10</text>
<text x="177.35" y="119.50" font-size="3.8" fill="#333" stroke="#333" stroke-width="0.22">1</text>
<text x="196.30" y="123.10" font-size="6.4" text-anchor="middle" fill="#333" stroke="#333" stroke-width="0.22">10</text>
<text x="199.10" y="119.50" font-size="3.8" fill="#333" stroke="#333" stroke-width="0.22">2</text>
<text x="218.05" y="123.10" font-size="6.4" text-anchor="middle" fill="#333" stroke="#333" stroke-width="0.22">10</text>
<text x="220.85" y="119.50" font-size="3.8" fill="#333" stroke="#333" stroke-width="0.22">3</text>
<text x="239.80" y="123.10" font-size="6.4" text-anchor="middle" fill="#333" stroke="#333" stroke-width="0.22">10</text>
<text x="242.60" y="119.50" font-size="3.8" fill="#333" stroke="#333" stroke-width="0.22">4</text>
<text x="155.28" y="41.20" font-size="18.6" stroke="#000" stroke-width="0.22" textLength="19.25" lengthAdjust="spacingAndGlyphs">14</text>
<text x="220.54" y="41.02" font-size="18.08" stroke="#000" stroke-width="0.22" textLength="18.70" lengthAdjust="spacingAndGlyphs">13</text>
<text x="230.09" y="111.13" font-size="17.66" stroke="#000" stroke-width="0.22" textLength="9.13" lengthAdjust="spacingAndGlyphs">6</text>
<clipPath id="cp3"><rect x="245.30" y="26.00" width="87.10" height="86.70"/></clipPath>
<g clip-path="url(#cp3)"><g transform="translate(245.30 26.00)">
<path d="M19.6 85.2 18.4 85.3 17.2 85.4 16.0 85.3 14.8 85.2 14.0 85.1 12.8 84.9 12.0 84.7 11.2 84.4 10.2 84.0 9.3 83.6 8.6 83.2 8.0 82.8 7.2 82.2 6.4 81.6 6.0 81.2 5.2 80.4 4.8 79.9 4.3 79.2 3.7 78.4 3.3 77.6 2.9 76.8 2.5 76.0 2.3 75.2 2.0 74.2 1.8 73.2 1.7 72.0 1.6 70.8 1.7 69.6 1.9 68.4 2.0 67.6 2.4 66.4 2.6 65.6 3.0 64.8 3.3 64.0 3.8 63.2 4.2 62.4 4.7 61.6 5.2 60.8 5.6 60.1 6.0 59.3 6.4 58.4 6.7 57.6 6.9 56.8 7.0 55.6 7.1 54.4 7.1 53.2 7.1 52.0 7.1 50.8 7.1 49.6 7.1 48.4 7.2 47.4 7.3 46.4 7.5 45.2 7.6 44.4 7.9 43.2 8.1 42.4 8.4 41.4 8.8 40.4 9.1 39.6 9.5 38.8 9.9 38.0 10.4 37.3 10.8 36.8 11.5 36.0 12.0 35.5 12.8 35.0 13.6 34.5 14.4 34.3 15.6 34.2 16.8 34.4 17.6 34.7 18.4 35.2 19.0 35.6 19.6 36.2 20.1 36.8 20.7 37.6 21.2 38.4 21.6 39.2 22.0 40.0 22.3 40.8 22.6 41.6 22.8 42.4 23.2 43.6 23.3 44.4 23.6 45.6 23.7 46.4 23.8 47.6 23.8 48.8 23.9 50.0 23.8 51.2 23.8 52.4 23.8 53.6 23.8 54.8 23.8 56.0 23.9 57.2 24.1 58.0 24.4 59.0 24.8 60.0 25.2 60.7 25.6 61.3 26.1 62.0 26.7 62.8 27.2 63.3 28.0 63.9 28.8 64.2 30.0 64.2 30.8 63.9 31.6 63.3 32.1 62.8 32.7 62.0 33.2 61.2 33.5 60.4 33.7 59.6 33.9 58.4 34.0 57.2 34.0 56.0 33.9 54.8 33.7 53.6 33.6 52.8 33.3 51.6 33.1 50.8 32.8 49.8 32.5 48.8 32.2 48.0 32.0 46.9 31.9 46.0 31.9 44.8 32.0 44.0 32.4 42.8 32.8 42.0 33.2 41.5 33.8 40.8 34.4 40.2 35.1 39.6 35.7 39.2 36.4 38.7 37.2 38.2 38.0 37.8 38.8 37.3 39.6 36.9 40.4 36.4 41.1 36.0 41.9 35.6 42.7 35.2 43.6 34.8 44.4 34.4 45.2 34.1 46.0 33.9 46.8 33.6 48.0 33.3 48.8 33.1 50.0 32.9 50.8 32.8 52.0 32.6 53.1 32.4 54.0 32.2 54.8 32.0 55.7 31.6 56.5 31.2 57.2 30.8 58.0 30.3 58.8 29.8 59.6 29.4 60.4 29.1 61.6 28.8 62.8 29.0 63.6 29.4 64.2 30.0 64.7 30.8 64.9 31.6 65.0 32.8 64.9 34.0 64.8 34.8 64.6 36.0 64.6 37.2 64.7 38.4 64.9 39.2 65.2 40.4 65.4 41.2 65.6 42.0 66.0 43.2 66.2 44.0 66.4 44.8 66.7 46.0 66.9 46.8 67.0 48.0 67.1 49.2 67.0 50.4 66.8 51.6 66.7 52.4 66.4 53.6 66.2 54.4 66.0 55.6 65.9 56.4 65.7 57.6 65.6 58.7 65.5 59.6 65.5 60.8 65.4 62.0 65.4 63.2 65.3 64.4 65.3 65.6 65.2 66.8 65.2 67.6 65.1 68.8 65.0 70.0 64.8 71.2 64.7 72.0 64.4 73.2 64.2 74.0 63.9 74.8 63.4 75.6 62.8 76.4 62.4 76.8 61.6 77.5 60.8 77.9 60.0 78.2 59.2 78.5 58.0 78.7 57.2 78.8 56.0 79.0 54.8 79.1 54.0 79.2 52.8 79.4 51.6 79.6 50.8 79.8 49.6 80.0 48.8 80.1 47.6 80.3 46.4 80.4 45.6 80.4 44.4 80.4 43.2 80.4 42.4 80.4 41.2 80.3 40.0 80.2 38.8 80.1 37.9 80.0 36.8 80.0 35.6 80.0 34.8 80.0 33.6 80.1 32.4 80.4 31.6 80.6 30.8 81.0 30.0 81.3 29.2 81.8 28.4 82.2 27.6 82.6 26.8 83.0 26.0 83.4 25.2 83.8 24.4 84.1 23.4 84.4 22.4 84.7 21.6 84.9 20.4 85.1 19.6 85.2Z" stroke="#1a1a1a" stroke-width="1.1" fill="#000" fill-opacity="0.02"/>
<path d="M19.6 84.0 18.4 84.1 17.2 84.2 16.0 84.1 15.1 84.0 14.0 83.8 13.0 83.6 12.0 83.3 11.2 83.0 10.4 82.6 9.6 82.2 8.8 81.7 8.1 81.2 7.6 80.8 6.8 80.1 6.3 79.6 5.7 78.8 5.2 78.2 4.8 77.5 4.4 76.8 4.0 75.9 3.6 74.8 3.4 74.0 3.2 73.2 3.0 72.0 3.0 70.8 3.1 69.6 3.2 68.7 3.4 67.6 3.7 66.8 4.0 65.9 4.4 65.0 4.8 64.2 5.2 63.5 5.6 62.8 6.1 62.0 6.6 61.2 7.0 60.4 7.5 59.6 7.8 58.8 8.1 58.0 8.3 56.8 8.4 55.6 8.4 54.8 8.4 54.0 8.3 52.8 8.3 51.6 8.3 50.4 8.3 49.2 8.4 48.0 8.4 47.2 8.6 46.0 8.8 44.8 9.0 44.0 9.2 43.2 9.6 42.0 9.9 41.2 10.3 40.4 10.8 39.6 11.2 39.0 11.7 38.4 12.4 37.7 13.0 37.2 13.7 36.8 14.8 36.4 15.6 36.4 16.4 36.5 17.2 36.8 18.0 37.3 18.8 37.9 19.2 38.4 19.8 39.2 20.3 40.0 20.8 40.8 21.1 41.6 21.4 42.4 21.7 43.2 22.0 44.3 22.2 45.2 22.4 46.4 22.5 47.2 22.6 48.4 22.6 49.6 22.6 50.8 22.6 52.0 22.5 53.2 22.4 54.4 22.4 55.6 22.4 56.8 22.6 58.0 22.8 58.9 23.2 60.0 23.6 60.8 24.0 61.6 24.4 62.2 24.8 62.8 25.4 63.6 26.0 64.3 26.4 64.8 27.2 65.6 27.8 66.0 28.5 66.4 29.6 66.6 30.7 66.4 31.4 66.0 32.0 65.6 32.8 64.8 33.2 64.4 33.9 63.6 34.4 62.9 34.8 62.4 35.3 61.6 35.7 60.8 36.0 60.0 36.2 58.8 36.3 57.6 36.2 56.4 36.1 55.2 36.0 54.2 35.8 53.2 35.6 52.1 35.3 51.2 35.1 50.4 34.8 49.6 34.4 48.4 34.2 47.6 34.0 46.8 33.9 45.6 34.0 44.4 34.3 43.6 34.7 42.8 35.2 42.1 35.7 41.6 36.4 40.9 37.1 40.4 37.7 40.0 38.4 39.6 39.2 39.1 40.0 38.6 40.8 38.1 41.6 37.7 42.4 37.3 43.2 36.9 44.0 36.5 44.8 36.2 45.6 35.9 46.6 35.6 47.6 35.4 48.8 35.2 49.6 35.1 50.8 35.1 52.0 35.1 53.2 35.0 54.4 34.9 55.2 34.7 56.4 34.4 57.2 34.2 58.0 34.0 59.2 33.7 60.4 33.7 61.2 34.4 61.5 35.2 61.8 36.0 62.0 36.8 62.3 38.0 62.6 38.8 62.9 39.6 63.2 40.5 63.6 41.6 63.9 42.4 64.2 43.2 64.4 44.0 64.8 45.1 65.0 46.0 65.2 46.8 65.4 48.0 65.4 49.2 65.4 50.4 65.2 51.4 65.0 52.4 64.8 53.2 64.4 54.4 64.2 55.2 64.0 56.2 63.8 57.2 63.6 58.4 63.6 59.2 63.5 60.4 63.5 61.6 63.5 62.8 63.5 64.0 63.5 65.2 63.5 66.4 63.4 67.6 63.3 68.8 63.2 69.9 63.1 70.8 62.8 72.0 62.6 72.8 62.3 73.6 61.8 74.4 61.2 75.2 60.8 75.6 60.0 76.1 59.2 76.5 58.4 76.8 57.2 77.1 56.4 77.3 55.2 77.5 54.4 77.6 53.2 77.8 52.2 78.0 51.2 78.2 50.2 78.4 49.2 78.6 48.0 78.8 47.2 78.9 46.0 79.0 44.8 79.1 43.6 79.1 42.4 79.0 41.2 78.9 40.1 78.8 39.2 78.7 38.0 78.6 36.8 78.5 35.6 78.5 34.4 78.5 33.2 78.6 32.2 78.8 31.2 79.2 30.4 79.5 29.6 80.0 28.9 80.4 28.3 80.8 27.6 81.2 26.8 81.7 26.0 82.1 25.2 82.5 24.4 82.9 23.4 83.2 22.4 83.5 21.6 83.7 20.4 83.9 19.6 84.0Z" stroke="#444" stroke-width="0.6" fill="#000" fill-opacity="0.02"/>
<path d="M20.8 82.8 19.6 83.0 18.4 83.1 17.2 83.1 16.0 83.0 14.8 82.8 14.0 82.7 13.0 82.4 12.0 82.1 11.2 81.7 10.4 81.3 9.6 80.8 9.0 80.4 8.4 79.9 7.6 79.2 7.2 78.8 6.6 78.0 6.0 77.2 5.6 76.4 5.2 75.6 4.9 74.8 4.6 74.0 4.4 72.9 4.3 72.0 4.2 70.8 4.3 69.6 4.4 68.8 4.7 67.6 5.0 66.8 5.3 66.0 5.7 65.2 6.1 64.4 6.5 63.6 7.1 62.8 7.6 62.0 8.0 61.3 8.4 60.7 8.8 59.9 9.2 59.0 9.5 58.0 9.6 57.2 9.7 56.0 9.7 54.8 9.6 53.8 9.5 52.8 9.5 51.6 9.4 50.4 9.4 49.2 9.5 48.0 9.6 47.2 9.8 46.0 10.0 45.0 10.3 44.0 10.6 43.2 10.9 42.4 11.3 41.6 11.8 40.8 12.4 40.0 12.9 39.6 13.6 39.0 14.4 38.7 15.6 38.5 16.8 38.8 17.5 39.2 18.0 39.6 18.8 40.4 19.2 41.0 19.6 41.6 20.0 42.4 20.4 43.4 20.7 44.4 20.9 45.2 21.2 46.4 21.3 47.2 21.4 48.4 21.5 49.6 21.4 50.8 21.4 52.0 21.3 53.2 21.2 54.4 21.1 55.2 21.1 56.4 21.1 57.6 21.2 58.4 21.6 59.6 21.9 60.4 22.3 61.2 22.8 62.0 23.2 62.7 23.6 63.3 24.1 64.0 24.7 64.8 25.2 65.4 25.7 66.0 26.4 66.8 26.9 67.2 27.6 67.8 28.4 68.4 29.2 68.7 30.0 68.8 30.8 68.7 31.6 68.2 32.4 67.6 32.8 67.2 33.6 66.4 34.0 66.0 34.7 65.2 35.2 64.6 35.7 64.0 36.4 63.2 36.8 62.7 37.3 62.0 37.8 61.2 38.2 60.4 38.5 59.6 38.6 58.4 38.6 57.2 38.4 56.0 38.3 55.2 38.2 54.0 38.0 52.8 37.8 52.0 37.6 51.0 37.3 50.0 37.0 49.2 36.7 48.4 36.4 47.2 36.3 46.4 36.3 45.2 36.5 44.4 36.9 43.6 37.6 42.8 38.0 42.4 38.8 41.7 39.6 41.2 40.2 40.8 40.8 40.4 41.6 39.9 42.4 39.4 43.2 39.0 44.0 38.6 44.8 38.3 46.0 38.0 46.8 37.9 48.0 37.9 48.9 38.0 50.0 38.4 50.8 38.8 51.3 39.2 52.0 39.7 52.8 40.3 53.6 40.5 54.4 40.3 55.2 39.9 56.0 39.5 56.8 39.2 58.0 39.1 58.8 39.3 59.6 39.8 60.1 40.4 60.7 41.2 61.2 41.9 61.6 42.6 62.0 43.4 62.4 44.2 62.8 45.1 63.1 46.0 63.4 46.8 63.6 48.0 63.7 48.8 63.6 50.0 63.5 50.8 63.2 52.0 63.0 52.8 62.7 53.6 62.4 54.4 62.0 55.3 61.6 56.4 61.4 57.2 61.2 58.0 61.1 59.2 61.0 60.4 61.1 61.6 61.2 62.4 61.3 63.6 61.4 64.8 61.5 66.0 61.5 67.2 61.5 68.4 61.4 69.6 61.2 70.5 60.9 71.6 60.6 72.4 60.1 73.2 59.6 73.8 59.0 74.4 58.3 74.8 57.5 75.2 56.4 75.6 55.6 75.8 54.7 76.0 53.6 76.2 52.8 76.4 51.6 76.7 50.8 76.9 49.6 77.1 48.8 77.3 47.6 77.5 46.8 77.6 45.6 77.7 44.4 77.8 43.2 77.7 42.0 77.7 41.2 77.6 40.0 77.5 38.8 77.3 38.0 77.2 36.8 77.0 35.6 76.9 34.4 76.8 33.2 76.8 32.0 77.0 31.2 77.3 30.4 77.8 29.6 78.3 29.0 78.8 28.4 79.3 27.6 79.9 26.8 80.4 26.2 80.8 25.5 81.2 24.7 81.6 23.7 82.0 22.8 82.3 22.0 82.6 20.8 82.8Z" stroke="#555" stroke-width="0.55" fill="#000" fill-opacity="0.02"/>
<path d="M21.2 81.6 20.0 81.8 18.8 81.9 17.6 82.0 16.4 81.9 15.2 81.7 14.4 81.6 13.2 81.2 12.4 80.9 11.6 80.5 10.8 80.1 10.0 79.6 9.5 79.2 8.8 78.6 8.2 78.0 7.6 77.2 7.2 76.6 6.8 76.0 6.4 75.1 6.0 74.1 5.8 73.2 5.6 72.1 5.5 71.2 5.6 70.0 5.7 69.2 5.9 68.0 6.2 67.2 6.5 66.4 6.9 65.6 7.4 64.8 7.9 64.0 8.4 63.2 8.8 62.6 9.3 62.0 9.8 61.2 10.3 60.4 10.7 59.6 11.0 58.8 11.2 58.0 11.3 56.8 11.2 55.6 11.2 54.8 11.0 53.6 10.9 52.4 10.8 51.3 10.8 50.4 10.8 49.2 10.8 48.4 11.0 47.2 11.2 46.1 11.4 45.2 11.7 44.4 12.1 43.6 12.6 42.8 13.2 42.0 13.7 41.6 14.4 41.2 15.6 41.0 16.5 41.2 17.2 41.6 18.0 42.4 18.4 42.9 18.8 43.6 19.2 44.5 19.6 45.6 19.8 46.4 20.0 47.6 20.1 48.4 20.1 49.6 20.1 50.8 20.0 52.0 19.9 52.8 19.8 54.0 19.6 55.2 19.5 56.0 19.5 57.2 19.5 58.4 19.7 59.2 20.0 60.0 20.4 60.8 20.9 61.6 21.4 62.4 21.9 63.2 22.4 63.8 22.8 64.4 23.4 65.2 24.0 66.0 24.4 66.5 25.0 67.2 25.6 67.9 26.0 68.4 26.7 69.2 27.2 69.7 27.9 70.4 28.4 70.9 29.2 71.6 29.7 72.0 30.4 72.8 30.6 73.6 30.3 74.4 29.9 75.2 29.3 76.0 28.8 76.7 28.4 77.2 27.7 78.0 27.2 78.5 26.4 79.2 25.8 79.6 25.2 80.0 24.4 80.5 23.6 80.9 22.7 81.2 21.6 81.5ZM47.2 76.0 46.0 76.2 44.8 76.3 43.6 76.3 42.4 76.2 41.2 76.1 40.4 76.0 39.2 75.7 38.4 75.6 37.2 75.3 36.4 75.1 35.6 74.8 34.4 74.4 33.6 74.0 32.9 73.6 32.4 73.2 32.3 72.0 32.7 71.2 33.2 70.4 33.6 69.7 34.0 69.1 34.5 68.4 35.0 67.6 35.6 66.9 36.0 66.4 36.7 65.6 37.2 65.0 37.8 64.4 38.4 63.9 39.1 63.2 39.6 62.8 40.4 62.0 40.8 61.6 41.4 60.8 41.8 60.0 41.9 58.8 41.7 57.6 41.5 56.8 41.3 55.6 41.2 54.6 41.2 53.6 41.2 52.4 41.2 51.2 41.2 50.6 41.2 49.6 41.0 48.4 40.8 47.3 40.8 46.4 40.9 45.6 41.3 44.8 42.0 44.1 42.6 43.6 43.3 43.2 44.4 42.9 45.6 43.2 46.0 43.7 46.4 44.6 46.7 45.6 47.0 46.4 47.4 47.2 48.0 47.8 48.8 48.3 49.6 48.6 50.8 48.8 52.0 48.7 53.0 48.4 54.0 48.0 54.8 47.7 55.6 47.3 56.4 46.9 57.2 46.5 58.0 46.3 58.8 46.4 59.6 46.8 60.2 47.6 60.6 48.4 60.7 49.6 60.5 50.8 60.3 51.6 59.8 52.4 59.2 53.2 58.8 53.6 58.0 54.2 57.2 54.5 56.0 54.7 54.8 54.5 54.0 54.3 52.8 54.2 51.6 54.3 50.8 54.7 50.3 55.2 49.7 56.0 49.2 56.8 48.8 57.5 48.5 58.4 48.4 59.2 48.6 60.0 49.2 60.6 50.0 61.2 50.8 61.5 51.6 61.8 52.5 62.0 53.6 62.2 54.4 62.4 55.6 62.8 56.4 63.1 57.0 63.6 57.6 64.2 58.0 64.8 58.4 65.7 58.7 66.8 58.8 67.6 58.8 68.8 58.8 69.6 58.4 70.8 58.0 71.6 57.6 72.1 56.9 72.8 56.3 73.2 55.6 73.6 54.7 74.0 53.6 74.4 52.8 74.6 52.0 74.9 50.8 75.2 50.0 75.4 49.2 75.6 48.0 75.9 47.2 76.0Z" stroke="#555" stroke-width="0.55" fill="#000" fill-opacity="0.02"/>
<path d="M19.6 80.8 18.4 80.9 17.2 80.9 16.2 80.8 15.2 80.6 14.3 80.4 13.2 80.0 12.4 79.7 11.6 79.2 10.9 78.8 10.4 78.4 9.6 77.7 9.1 77.2 8.5 76.4 8.0 75.6 7.6 74.9 7.3 74.0 7.0 73.2 6.8 72.0 6.8 71.2 6.8 70.0 6.9 69.2 7.2 68.1 7.5 67.2 7.9 66.4 8.3 65.6 8.8 64.9 9.2 64.3 9.7 63.6 10.4 62.8 10.8 62.3 11.4 61.6 12.0 60.9 12.4 60.3 12.9 59.6 13.3 58.8 13.5 57.6 13.4 56.4 13.2 55.5 12.9 54.4 12.7 53.6 12.5 52.4 12.4 51.6 12.3 50.4 12.3 49.2 12.4 48.1 12.6 47.2 12.8 46.4 13.2 45.5 13.7 44.8 14.4 44.1 15.2 43.8 16.3 44.0 16.9 44.4 17.5 45.2 17.9 46.0 18.2 46.8 18.4 47.6 18.6 48.8 18.6 50.0 18.6 51.2 18.4 52.4 18.2 53.2 18.0 54.2 17.7 55.2 17.5 56.0 17.2 57.2 17.3 58.4 17.6 59.4 18.0 60.1 18.4 60.8 19.0 61.6 19.6 62.3 20.0 62.8 20.6 63.6 21.2 64.3 21.6 64.8 22.2 65.6 22.8 66.3 23.2 66.8 23.8 67.6 24.4 68.4 24.8 68.9 25.4 69.6 26.0 70.4 26.4 71.0 26.8 71.6 27.2 72.4 27.6 73.6 27.7 74.4 27.5 75.2 27.2 76.1 26.8 76.8 26.2 77.6 25.6 78.3 25.0 78.8 24.4 79.2 23.6 79.7 22.8 80.0 21.8 80.4 20.8 80.7 19.9 80.8ZM47.2 74.4 46.0 74.6 44.8 74.7 43.6 74.7 42.4 74.6 41.2 74.4 40.4 74.2 39.6 74.0 38.6 73.6 37.8 73.2 37.2 72.7 36.6 72.0 36.3 71.2 36.3 70.0 36.6 69.2 37.0 68.4 37.5 67.6 38.0 66.9 38.5 66.4 39.2 65.7 39.9 65.2 40.5 64.8 41.2 64.4 42.0 64.0 43.2 63.6 44.0 63.4 45.2 63.4 46.4 63.5 47.2 63.6 48.4 63.9 49.2 64.1 50.1 64.4 51.2 64.8 52.0 65.2 52.8 65.6 53.5 66.0 54.0 66.4 54.7 67.2 55.2 68.0 55.3 68.8 55.2 69.9 54.8 70.7 54.4 71.2 53.6 71.9 52.9 72.4 52.1 72.8 51.2 73.2 50.4 73.5 49.6 73.8 48.8 74.0 47.6 74.3Z" stroke="#555" stroke-width="0.55" fill="#000" fill-opacity="0.025"/>
<path d="M20.0 79.7 18.8 79.8 17.6 79.8 16.4 79.7 15.6 79.5 14.4 79.2 13.6 78.9 12.8 78.5 12.0 78.1 11.4 77.6 10.8 77.1 10.1 76.4 9.6 75.8 9.2 75.1 8.8 74.4 8.4 73.3 8.2 72.4 8.1 71.2 8.1 70.0 8.4 68.8 8.6 68.0 9.0 67.2 9.4 66.4 10.0 65.6 10.4 65.0 11.0 64.4 11.6 63.8 12.3 63.2 12.8 62.8 13.6 62.3 14.4 62.0 15.6 61.9 16.4 62.1 17.2 62.5 18.0 63.1 18.6 63.6 19.2 64.2 19.8 64.8 20.4 65.4 20.9 66.0 21.6 66.8 22.0 67.3 22.6 68.0 23.2 68.8 23.6 69.4 24.1 70.0 24.6 70.8 25.1 71.6 25.4 72.4 25.7 73.2 25.9 74.4 25.7 75.6 25.3 76.4 24.8 77.1 24.4 77.6 23.6 78.2 22.8 78.7 22.0 79.1 21.2 79.4 20.3 79.6ZM46.4 72.4 45.2 72.6 44.0 72.6 42.8 72.5 42.0 72.2 41.2 71.9 40.4 71.3 40.0 70.8 39.8 69.6 40.0 68.8 40.5 68.0 41.2 67.4 42.0 66.9 42.8 66.5 43.6 66.3 44.8 66.1 46.0 66.2 47.2 66.3 48.0 66.6 48.8 66.9 49.6 67.4 50.3 68.0 50.7 68.8 50.6 70.0 50.0 70.8 49.5 71.2 48.8 71.6 47.9 72.0 46.8 72.3Z" stroke="#555" stroke-width="0.55" fill="#000" fill-opacity="0.03"/>
<path d="M20.0 78.5 18.8 78.6 17.6 78.7 16.4 78.5 15.6 78.3 14.5 78.0 13.6 77.6 12.9 77.2 12.4 76.8 11.6 76.1 11.1 75.6 10.5 74.8 10.1 74.0 9.8 73.2 9.5 72.4 9.4 71.2 9.5 70.0 9.7 69.2 10.0 68.3 10.4 67.5 10.8 66.8 11.5 66.0 12.0 65.5 12.8 64.9 13.6 64.5 14.4 64.2 15.6 64.2 16.6 64.4 17.4 64.8 18.0 65.2 18.8 65.8 19.5 66.4 20.0 66.9 20.6 67.6 21.2 68.3 21.6 68.8 22.2 69.6 22.8 70.4 23.2 71.0 23.6 71.8 24.0 72.7 24.2 73.6 24.2 74.8 24.0 75.6 23.5 76.4 22.8 77.2 22.2 77.6 21.4 78.0 20.4 78.4Z" stroke="#2a2a2a" stroke-width="0.9" fill="#000" fill-opacity="0.12"/>
<path d="M19.2 77.6 18.0 77.7 16.8 77.6 16.0 77.5 15.2 77.2 14.3 76.8 13.6 76.4 12.8 75.8 12.1 75.2 11.6 74.5 11.2 73.8 10.8 72.9 10.6 72.0 10.5 70.8 10.7 69.6 11.0 68.8 11.5 68.0 12.0 67.3 12.5 66.8 13.2 66.3 14.0 65.9 15.2 65.7 16.4 65.8 17.2 66.2 18.0 66.7 18.7 67.2 19.2 67.6 20.0 68.4 20.4 68.9 21.0 69.6 21.6 70.4 22.0 71.1 22.4 71.8 22.8 72.8 23.0 73.6 22.9 74.8 22.6 75.6 22.0 76.3 21.4 76.8 20.6 77.2 19.6 77.5Z" stroke="#444" stroke-width="0.6" fill="#000" fill-opacity="0.1"/>
<path d="M19.2 76.5 18.0 76.6 16.8 76.6 16.0 76.4 15.0 76.0 14.3 75.6 13.6 75.1 12.9 74.4 12.4 73.7 12.0 72.8 11.8 72.0 11.8 70.8 12.0 69.8 12.4 68.9 12.8 68.4 13.6 67.7 14.4 67.3 15.2 67.2 16.0 67.2 17.1 67.6 17.8 68.0 18.4 68.4 19.2 69.2 19.6 69.6 20.2 70.4 20.8 71.2 21.2 72.0 21.5 72.8 21.6 73.6 21.5 74.4 21.2 75.2 20.4 75.9 19.6 76.3Z" stroke="#444" stroke-width="0.6" fill="#000" fill-opacity="0.08"/>
<path d="M18.4 75.2 17.2 75.3 16.4 75.2 15.4 74.8 14.8 74.4 14.0 73.7 13.6 73.0 13.2 72.0 13.2 71.4 13.4 70.4 13.9 69.6 14.4 69.2 15.6 68.8 16.8 69.1 17.6 69.5 18.2 70.0 18.8 70.6 19.3 71.2 19.7 72.0 20.0 73.0 20.0 73.7 19.6 74.5 18.8 75.1Z" stroke="#555" stroke-width="0.55" fill="#000" fill-opacity="0.05"/>
<path d="M18.0 74.0 16.8 74.2 16.0 73.9 15.2 73.4 14.7 72.8 14.4 71.6 14.8 70.7 15.6 70.2 16.8 70.4 17.5 70.8 18.0 71.3 18.5 72.0 18.7 73.2 18.1 74.0Z" stroke="#666" stroke-width="0.5" fill="#000" fill-opacity="0.0"/>
<path d="M18.4 82.8 17.2 82.8 16.4 82.8 15.2 82.6 14.1 82.4 13.2 82.2 12.4 81.9 11.6 81.6 10.8 81.2 10.0 80.7 9.2 80.2 8.5 79.6 8.0 79.1 7.3 78.4 6.8 77.8 6.4 77.2 5.9 76.4 5.5 75.6 5.2 74.8 4.9 73.6 4.7 72.8 4.6 71.6 4.6 70.4 4.7 69.2 4.9 68.4 5.2 67.3 5.6 66.4 6.0 65.6 6.4 64.9 6.8 64.3 7.4 63.6 8.0 63.0 8.7 62.4 9.3 62.0 10.0 61.6 10.8 61.2 11.7 60.8 12.8 60.5 13.6 60.3 14.8 60.3 16.0 60.3 16.8 60.4 18.0 60.7 18.8 61.0 19.6 61.3 20.4 61.8 21.2 62.3 21.8 62.8 22.4 63.3 23.2 64.0 23.6 64.5 24.2 65.2 24.8 65.9 25.2 66.4 25.8 67.2 26.3 68.0 26.8 68.7 27.2 69.3 27.6 70.0 28.0 70.8 28.4 71.6 28.8 72.8 29.0 73.6 29.1 74.8 29.0 76.0 28.8 76.8 28.4 77.7 28.0 78.4 27.4 79.2 26.8 79.8 26.0 80.4 25.5 80.8 24.8 81.2 23.9 81.6 22.9 82.0 22.0 82.3 21.2 82.5 20.0 82.7 18.8 82.8Z" fill="#000" fill-opacity="0.3"/>
<path d="M16.8 62.4 15.6 62.7 14.4 62.5 13.6 62.2 12.8 61.7 12.2 61.2 11.6 60.6 11.1 60.0 10.6 59.2 10.2 58.4 9.8 57.6 9.5 56.8 9.2 55.8 8.9 54.8 8.8 54.0 8.6 52.8 8.4 51.6 8.4 50.8 8.3 49.6 8.4 48.4 8.4 47.6 8.5 46.4 8.7 45.2 8.9 44.4 9.2 43.2 9.5 42.4 9.8 41.6 10.1 40.8 10.5 40.0 11.0 39.2 11.6 38.5 12.0 38.0 12.8 37.3 13.6 36.8 14.4 36.5 15.2 36.4 16.0 36.4 17.2 36.8 17.9 37.2 18.4 37.6 19.2 38.4 19.6 38.9 20.1 39.6 20.6 40.4 21.0 41.2 21.3 42.0 21.6 42.9 21.9 44.0 22.1 44.8 22.3 46.0 22.4 46.8 22.5 48.0 22.6 49.2 22.5 50.4 22.5 51.6 22.4 52.4 22.2 53.6 22.0 54.6 21.8 55.6 21.5 56.4 21.2 57.3 20.8 58.2 20.4 59.0 20.0 59.6 19.4 60.4 18.8 61.1 18.3 61.6 17.6 62.1 16.8 62.4Z" fill="#000" fill-opacity="0.2"/>
<path d="M26 85h1M3 77h1M28 62h1M41 82h1M7 38h1M28 61h1M20 35h1M4 61h1M44 34h1M34 59h1M19 34h1M28 84h1M67 37h1M31 40h1M2 77h1M29 52h1M8 42h1M68 52h1M68 59h1M28 56h1M16 87h1M32 41h1M46 83h1M29 64h1M25 48h1M33 59h1M32 58h1M33 41h1M63 79h1M35 80h1M30 46h1M68 54h1M34 81h1M3 63h1M6 49h1M27 57h1M6 49h1M25 44h1M66 40h1M46 82h1M24 49h1M38 37h1M2 66h1M31 59h1M9 36h1M1 74h1M11 85h1M29 85h1M33 55h1M33 57h1M30 82h1M27 58h1M68 56h1M6 59h1M27 49h1M32 47h1M7 83h1M35 81h1M23 39h1M19 86h1M6 54h1M68 35h1M66 66h1M10 37h1M5 42h1M24 54h1M26 59h1M31 55h1M65 35h1M25 85h1M0 70h1M66 37h1M6 39h1M17 31h1M33 50h1M0 67h1M32 82h1M28 64h1M42 83h1M50 33h1M4 81h1M67 52h1M31 51h1M17 86h1M52 32h1M32 83h1M57 28h1M67 50h1M68 67h1M8 83h1M23 87h1M60 28h1M34 37h1M62 26h1M25 86h1M3 60h1M52 32h1M5 60h1M33 38h1M7 42h1M33 62h1M67 64h1M57 28h1M39 82h1M17 34h1M14 33h1M29 85h1M62 78h1M5 50h1M44 34h1M10 85h1M33 59h1M51 33h1M3 61h1M32 58h1M8 38h1M55 31h1M57 30h1M53 80h1M23 85h1M5 60h1M23 86h1M49 31h1M31 50h1M31 83h1M32 45h1M52 32h1M32 45h1M28 57h1M67 70h1M66 39h1M30 54h1M31 64h1M6 56h1M30 64h1M7 48h1M62 79h1M4 84h1M40 37h1M68 66h1M70 49h1M7 55h1M32 51h1M8 83h1M12 34h1M65 69h1M33 57h1M1 74h1M26 41h1M66 56h1M32 84h1M44 34h1M6 52h1M29 46h1M7 44h1M32 55h1M69 46h1M68 28h1M61 79h1M14 34h1M5 42h1M65 70h1M64 80h1M49 82h1M9 35h1M16 30h1M67 57h1M24 49h1M66 67h1M65 29h1M65 73h1M26 46h1M39 81h1M18 34h1M69 47h1M47 32h1M6 50h1M68 49h1M68 64h1M26 45h1M13 35h1M43 83h1M63 77h1M4 54h1M17 31h1M31 62h1M65 71h1M59 80h1M68 48h1M26 51h1M65 27h1M41 33h1M64 28h1M52 32h1M6 56h1M1 76h1M7 45h1M68 52h1M6 53h1M57 79h1M30 59h1M70 52h1M68 53h1M27 43h1M28 64h1M19 32h1M65 77h1M54 82h1M57 27h1M62 78h1M32 62h1M67 36h1M33 84h1M18 35h1M6 47h1M32 48h1M2 64h1M66 67h1M12 34h1M28 45h1M6 42h1M29 44h1M7 38h1M70 54h1M33 59h1M57 29h1M32 57h1M52 80h1M62 27h1M1 66h1M25 47h1M44 83h1M33 58h1M67 59h1M29 46h1M36 81h1M5 45h1M11 32h1M2 79h1M24 85h1M66 40h1M3 60h1M69 50h1M32 52h1M58 82h1M68 37h1M32 51h1M44 33h1M40 35h1M15 86h1M44 82h1M13 31h1M30 64h1M11 35h1M28 45h1M24 51h1M25 59h1M36 38h1M26 42h1M20 33h1M65 36h1M16 34h1M50 80h1M68 56h1M0 69h1M68 54h1M38 81h1M2 75h1M5 80h1M6 85h1M2 78h1M43 81h1M52 31h1M25 45h1M46 33h1M22 35h1M56 82h1M66 31h1M66 71h1M6 49h1M33 81h1M7 86h1M6 47h1M68 51h1M13 31h1M33 58h1M8 41h1M34 38h1M46 83h1M14 31h1M31 50h1M6 52h1M25 46h1M40 82h1M26 58h1M2 79h1M32 61h1M6 58h1M56 81h1M69 57h1M51 32h1M69 52h1M6 56h1M50 81h1M29 62h1M30 43h1M44 82h1M38 38h1M63 80h1M28 47h1M52 32h1M44 82h1M32 63h1M12 85h1M7 50h1M1 71h1M52 82h1M66 59h1M68 54h1M65 72h1M31 41h1M39 82h1M47 33h1M7 83h1M56 80h1M31 50h1M67 71h1M33 82h1M2 75h1M3 82h1M66 69h1M2 78h1M44 34h1M57 28h1M41 81h1M39 81h1M26 54h1M1 66h1M65 27h1M66 70h1M2 79h1M23 39h1M14 85h1M50 31h1M66 43h1M38 35h1M67 54h1M57 29h1M68 44h1M26 61h1M2 76h1M25 47h1M38 36h1M31 61h1M56 81h1M31 44h1M25 53h1M66 76h1M28 43h1M66 61h1M36 81h1M61 28h1M11 36h1M12 34h1M36 38h1M34 59h1M2 64h1M67 72h1M1 78h1M67 70h1M26 41h1M60 79h1M25 52h1M54 80h1M18 30h1M31 43h1M30 48h1M14 34h1M30 58h1M65 30h1M1 75h1M63 77h1M25 42h1M4 57h1M49 33h1M32 54h1M25 53h1M29 63h1M11 87h1M16 32h1M32 63h1M50 32h1M64 29h1M66 73h1M48 33h1M12 32h1M54 80h1M30 54h1M56 28h1M45 33h1M26 61h1M7 49h1M66 32h1M7 43h1M68 41h1M18 34h1M37 35h1M69 57h1M24 48h1M4 58h1M5 53h1M27 86h1M55 30h1M68 66h1M12 87h1M46 82h1M41 34h1M68 51h1M41 81h1M34 56h1M21 33h1M65 35h1M65 29h1M17 34h1M24 47h1M4 55h1M28 60h1M6 59h1M68 32h1M15 34h1M5 82h1M6 59h1M68 67h1M25 59h1M24 39h1M65 27h1M26 44h1M42 82h1M12 32h1M55 32h1M2 63h1M45 33h1M15 31h1M67 45h1M50 32h1M33 82h1M26 45h1M13 33h1M66 39h1M67 30h1M3 63h1M33 82h1M25 59h1M25 56h1M1 68h1M2 69h1M67 52h1M3 62h1M70 51h1M66 31h1M65 31h1M46 82h1M23 42h1M28 85h1M66 32h1M63 28h1M68 49h1M53 80h1M43 33h1M28 61h1M43 82h1M48 81h1M68 63h1M66 28h1M30 53h1M30 50h1M44 82h1M1 79h1M3 80h1M52 81h1M23 40h1M67 72h1M5 54h1M65 37h1M31 59h1M11 35h1M29 62h1M69 42h1M48 82h1M6 43h1M46 34h1M26 50h1M11 31h1M49 81h1M39 82h1M2 80h1M48 82h1M3 66h1M44 31h1M23 86h1M59 29h1M5 81h1M20 86h1M63 79h1M5 55h1M11 36h1M21 37h1M18 35h1M69 42h1M6 54h1M25 60h1M66 60h1M5 50h1M24 41h1M32 82h1M66 41h1M24 56h1M43 83h1M68 39h1M49 31h1M67 76h1M24 43h1M5 53h1M58 80h1M54 31h1M4 58h1M54 29h1M14 34h1M5 58h1M65 71h1M7 40h1M67 64h1M6 45h1M34 40h1M66 73h1M66 70h1M57 31h1M33 41h1M13 86h1M68 39h1M27 63h1M67 70h1M62 27h1M68 64h1M31 63h1M32 62h1M63 29h1M23 40h1M62 79h1M33 54h1M30 63h1M50 33h1M66 27h1M7 54h1M28 64h1M27 55h1M20 35h1M48 32h1M26 54h1M32 53h1M37 86h1M9 27h1M77 52h1M3 46h1M7 35h1M30 86h1M28 36h1M73 53h1M73 70h1M27 38h1M28 42h1M52 83h1M72 47h1M18 29h1M69 75h1M24 37h1M69 82h1M30 34h1M28 35h1M70 28h1M70 67h1M2 86h1M72 29h1M23 33h1M55 26h1M27 42h1M2 58h1M48 84h1M74 34h1M70 45h1M45 28h1M72 51h1M13 20h1M3 58h1M39 86h1M30 36h1M48 84h1M76 36h1M45 84h1M32 37h1M70 75h1M72 57h1M49 29h1M73 48h1M25 37h1M19 30h1M31 38h1M69 39h1M67 78h1M65 20h1M53 84h1M2 59h1M13 26h1M69 37h1M13 29h1M20 19h1M4 56h1M1 87h1M3 43h1M4 85h1M73 60h1M71 57h1M75 52h1M5 35h1M2 50h1M66 79h1M50 84h1M1 55h1M36 33h1M4 54h1M3 58h1M3 46h1M69 22h1M54 27h1M2 43h1M1 45h1M4 50h1M2 58h1M70 75h1M71 74h1M10 32h1M21 29h1M26 32h1M71 74h1M2 44h1M60 84h1M67 78h1M27 41h1M57 83h1M71 63h1M42 32h1M72 27h1M37 85h1M72 34h1M3 42h1M30 36h1M47 86h1M58 25h1M51 24h1M69 79h1M38 84h1M72 36h1M56 24h1M2 36h1M21 30h1M4 50h1M69 75h1M74 71h1M62 86h1M30 85h1" stroke="#333" stroke-width="1" stroke-opacity="0.75" shape-rendering="crispEdges"/>
<path d="M47 29h1M28 50h1M77 53h1M50 17h1M49 24h1M87 27h1M39 33h1M9 36h1M40 28h1M44 31h1M45 17h1M65 27h1M2 32h1M3 28h1M54 31h1M75 15h1M70 22h1M71 16h1M79 51h1M35 34h1M33 29h1M49 27h1M24 52h1M82 32h1M55 23h1M32 37h1M62 24h1M66 22h1M75 9h1M27 26h1M38 27h1M36 11h1M26 60h1M83 29h1M52 24h1M47 27h1M62 11h1M39 25h1M23 36h1M51 25h1M80 51h1M43 33h1M36 33h1M69 27h1M46 21h1M15 23h1M60 10h1M51 29h1M57 18h1M27 11h1M75 34h1M32 48h1M66 19h1M16 20h1M73 48h1M74 21h1M24 39h1M3 50h1M32 34h1M26 40h1M75 40h1M5 32h1M36 21h1M66 40h1M73 24h1M9 32h1M62 27h1M58 16h1M58 17h1M11 25h1M60 27h1M26 30h1M36 29h1M80 38h1M61 19h1M17 27h1M39 27h1M46 27h1M77 18h1M65 27h1M76 51h1M82 13h1M24 37h1M74 15h1M57 21h1M48 28h1M22 25h1M31 26h1M59 27h1M51 31h1M72 47h1M40 28h1M85 40h1M60 10h1M41 27h1M33 38h1M5 33h1M5 31h1M2 44h1M15 26h1M71 19h1M19 31h1M71 57h1M45 26h1M17 25h1M34 36h1M58 21h1M53 24h1M70 59h1M44 29h1M86 57h1M67 30h1M58 24h1M47 19h1M49 29h1M59 22h1M39 30h1M48 27h1M46 16h1M86 54h1M24 36h1M43 33h1M7 31h1M83 18h1M43 20h1M33 25h1M85 17h1M53 24h1M70 20h1M74 48h1M4 27h1M34 28h1M13 32h1M43 23h1M43 29h1M65 19h1M48 14h1M25 29h1M76 26h1M30 37h1M28 31h1M76 29h1M75 51h1M37 23h1M0 32h1M43 29h1M24 49h1M36 38h1M8 34h1M51 12h1M32 49h1M40 15h1M66 33h1M81 55h1M2 48h1M51 19h1M31 20h1M47 21h1M38 25h1M14 32h1M43 20h1M31 16h1M44 6h1M48 27h1M22 36h1M26 57h1M83 57h1M74 34h1M62 11h1M21 29h1M49 9h1M55 24h1M73 10h1M31 45h1M24 44h1M51 33h1M29 39h1M11 33h1M46 32h1M23 34h1M40 32h1M28 49h1M21 23h1M29 44h1M50 29h1M86 50h1M66 19h1M13 20h1M22 29h1M70 55h1M65 29h1M84 49h1M62 26h1M62 14h1M49 16h1M27 32h1M47 29h1M86 55h1M20 4h1M32 4h1M73 51h1M54 14h1M57 28h1M72 29h1M34 25h1M49 9h1M33 22h1M42 19h1M51 27h1M62 28h1M39 31h1M42 16h1M51 15h1M8 20h1M51 23h1M44 29h1M81 16h1M50 20h1M53 21h1M41 32h1M59 22h1M1 30h1M7 30h1M20 22h1M30 52h1M63 18h1M36 31h1M39 9h1M11 36h1M47 15h1M43 29h1M5 26h1M44 27h1M41 35h1M30 34h1M29 40h1M86 37h1M33 25h1M10 35h1M40 22h1M31 24h1M69 23h1M78 18h1M19 35h1M53 22h1M84 25h1M74 28h1M44 26h1M46 20h1M57 13h1M16 27h1M81 16h1M26 26h1M44 22h1M60 12h1M66 60h1M27 37h1M29 26h1M23 30h1M28 46h1M47 26h1M30 27h1M7 43h1M69 28h1M27 46h1M74 26h1M80 40h1M24 29h1M85 11h1M51 22h1M33 14h1M37 25h1M48 30h1M35 34h1M42 24h1M56 26h1M34 19h1M43 23h1M43 29h1M34 26h1M32 23h1M47 32h1M9 20h1M45 29h1M49 29h1M28 39h1M76 33h1M33 57h1M84 21h1M22 34h1M27 41h1M42 34h1M43 24h1M5 35h1M11 25h1M41 23h1M42 22h1M48 25h1M64 26h1M27 33h1M31 23h1M47 20h1M0 35h1M7 23h1M40 26h1M7 30h1M58 26h1M68 46h1M26 35h1M41 30h1M39 19h1M36 36h1M38 21h1M26 18h1M57 27h1M54 29h1M47 26h1M31 56h1M28 31h1M30 30h1M55 23h1M76 20h1M18 34h1M2 33h1M26 45h1M86 50h1" stroke="#333" stroke-width="1" stroke-opacity="0.7" shape-rendering="crispEdges"/>
</g></g>
<rect x="245.30" y="26.00" width="87.10" height="86.70" fill="none" stroke="#111" stroke-width="1.2"/>
<line x1="244.70" y1="113.10" x2="333.00" y2="113.10" stroke="#111" stroke-width="1.0"/>
<line x1="273.30" y1="26.00" x2="273.30" y2="112.70" stroke="#111" stroke-width="1.0"/>
<line x1="245.30" y1="89.50" x2="332.40" y2="89.50" stroke="#111" stroke-width="1.0"/>
<path d="M245.3 112.7h-2.0M245.3 112.7v2.0M245.3 106.1h-1.2M251.9 112.7v1.2M245.3 102.3h-1.2M255.7 112.7v1.2M245.3 99.6h-1.2M258.4 112.7v1.2M245.3 97.5h-1.2M260.5 112.7v1.2M245.3 95.8h-1.2M262.2 112.7v1.2M245.3 94.3h-1.2M263.7 112.7v1.2M245.3 93.0h-1.2M265.0 112.7v1.2M245.3 91.9h-1.2M266.1 112.7v1.2M245.3 90.9h-2.0M267.1 112.7v2.0M245.3 84.4h-1.2M273.6 112.7v1.2M245.3 80.5h-1.2M277.5 112.7v1.2M245.3 77.8h-1.2M280.2 112.7v1.2M245.3 75.7h-1.2M282.3 112.7v1.2M245.3 74.0h-1.2M284.0 112.7v1.2M245.3 72.5h-1.2M285.5 112.7v1.2M245.3 71.3h-1.2M286.7 112.7v1.2M245.3 70.1h-1.2M287.9 112.7v1.2M245.3 69.2h-2.0M288.9 112.7v2.0M245.3 62.6h-1.2M295.4 112.7v1.2M245.3 58.8h-1.2M299.2 112.7v1.2M245.3 56.0h-1.2M302.0 112.7v1.2M245.3 53.9h-1.2M304.1 112.7v1.2M245.3 52.2h-1.2M305.8 112.7v1.2M245.3 50.7h-1.2M307.3 112.7v1.2M245.3 49.5h-1.2M308.5 112.7v1.2M245.3 48.4h-1.2M309.6 112.7v1.2M245.3 47.4h-2.0M310.6 112.7v2.0M245.3 40.8h-1.2M317.2 112.7v1.2M245.3 37.0h-1.2M321.0 112.7v1.2M245.3 34.3h-1.2M323.7 112.7v1.2M245.3 32.2h-1.2M325.8 112.7v1.2M245.3 30.4h-1.2M327.6 112.7v1.2M245.3 29.0h-1.2M329.0 112.7v1.2M245.3 27.7h-1.2M330.3 112.7v1.2M245.3 26.6h-1.2M331.4 112.7v1.2M245.3 26.0h-2M332.4 112.7v2" stroke="#333" stroke-width=".7"/>
<text x="244.10" y="123.10" font-size="6.4" text-anchor="middle" fill="#333" stroke="#333" stroke-width="0.22">10</text>
<text x="246.90" y="119.50" font-size="3.8" fill="#333" stroke="#333" stroke-width="0.22">0</text>
<text x="265.88" y="123.10" font-size="6.4" text-anchor="middle" fill="#333" stroke="#333" stroke-width="0.22">10</text>
<text x="268.68" y="119.50" font-size="3.8" fill="#333" stroke="#333" stroke-width="0.22">1</text>
<text x="287.65" y="123.10" font-size="6.4" text-anchor="middle" fill="#333" stroke="#333" stroke-width="0.22">10</text>
<text x="290.45" y="119.50" font-size="3.8" fill="#333" stroke="#333" stroke-width="0.22">2</text>
<text x="309.43" y="123.10" font-size="6.4" text-anchor="middle" fill="#333" stroke="#333" stroke-width="0.22">10</text>
<text x="312.23" y="119.50" font-size="3.8" fill="#333" stroke="#333" stroke-width="0.22">3</text>
<text x="331.20" y="123.10" font-size="6.4" text-anchor="middle" fill="#333" stroke="#333" stroke-width="0.22">10</text>
<text x="334.00" y="119.50" font-size="3.8" fill="#333" stroke="#333" stroke-width="0.22">4</text>
<text x="246.62" y="41.02" font-size="18.08" stroke="#000" stroke-width="0.22" textLength="18.70" lengthAdjust="spacingAndGlyphs">16</text>
<text x="311.94" y="41.02" font-size="18.08" stroke="#000" stroke-width="0.22" textLength="18.70" lengthAdjust="spacingAndGlyphs">16</text>
<text x="321.35" y="111.30" font-size="18.17" stroke="#000" stroke-width="0.22" textLength="9.40" lengthAdjust="spacingAndGlyphs">7</text>
<clipPath id="cp4"><rect x="336.80" y="26.00" width="86.20" height="86.70"/></clipPath>
<g clip-path="url(#cp4)"><g transform="translate(336.80 26.00)">
<path d="M20.8 85.2 19.6 85.3 18.4 85.4 17.2 85.3 16.2 85.2 15.2 85.1 14.1 84.8 13.2 84.6 12.4 84.3 11.6 84.0 10.8 83.6 10.0 83.1 9.2 82.6 8.4 82.0 7.9 81.6 7.2 80.9 6.7 80.4 6.1 79.6 5.6 79.0 5.2 78.3 4.8 77.6 4.4 76.8 4.0 75.8 3.7 74.8 3.5 74.0 3.3 72.8 3.2 72.0 3.1 70.8 3.2 69.7 3.3 68.8 3.5 67.6 3.7 66.8 4.0 66.0 4.4 65.0 4.8 64.1 5.2 63.3 5.6 62.6 6.0 61.9 6.5 61.2 6.9 60.4 7.4 59.6 7.7 58.8 8.1 58.0 8.4 56.8 8.5 56.0 8.6 54.8 8.6 53.6 8.6 52.4 8.6 51.2 8.6 50.0 8.6 48.8 8.7 47.6 8.7 46.4 8.8 45.6 9.0 44.4 9.2 43.2 9.4 42.4 9.6 41.5 9.9 40.4 10.2 39.6 10.5 38.8 10.9 38.0 11.3 37.2 11.7 36.4 12.3 35.6 12.8 35.0 13.3 34.4 14.0 33.8 14.8 33.3 15.6 33.0 16.6 32.8 17.3 32.8 18.4 33.0 19.2 33.4 20.0 33.9 20.6 34.4 21.2 35.0 21.6 35.6 22.2 36.4 22.7 37.2 23.1 38.0 23.4 38.8 23.8 39.6 24.0 40.4 24.4 41.6 24.6 42.4 24.8 43.2 25.1 44.4 25.2 45.2 25.4 46.4 25.5 47.6 25.6 48.8 25.6 49.6 25.6 50.8 25.6 51.8 25.6 52.8 25.5 54.0 25.6 55.2 25.6 56.0 25.8 57.2 26.1 58.0 26.5 58.8 27.1 59.6 27.6 60.0 28.8 60.2 29.6 59.6 30.0 58.9 30.4 58.0 30.6 57.2 30.8 56.0 30.8 55.2 30.8 54.3 30.7 53.2 30.7 52.0 30.7 50.8 30.8 49.6 30.9 48.8 31.2 47.6 31.4 46.8 31.7 46.0 32.0 45.2 32.5 44.4 32.9 43.6 33.5 42.8 34.0 42.1 34.4 41.6 35.1 40.8 35.6 40.3 36.3 39.6 36.8 39.2 37.6 38.5 38.2 38.0 38.8 37.6 39.6 37.0 40.4 36.6 41.2 36.1 42.0 35.8 42.8 35.4 43.6 35.1 44.7 34.8 45.6 34.6 46.4 34.4 47.6 34.1 48.4 34.0 49.6 33.8 50.8 33.6 51.6 33.5 52.8 33.2 53.6 33.1 54.8 32.8 55.6 32.6 56.4 32.4 57.6 32.0 58.4 31.8 59.2 31.5 60.4 31.2 61.2 31.0 62.2 30.8 63.2 30.7 64.4 30.8 65.2 31.0 66.0 31.3 66.8 31.8 67.6 32.4 68.0 32.8 68.6 33.6 69.1 34.4 69.5 35.2 69.8 36.0 70.1 36.8 70.3 38.0 70.4 39.0 70.4 40.0 70.4 41.2 70.4 42.4 70.4 43.2 70.4 44.0 70.4 45.2 70.5 46.4 70.5 47.6 70.4 48.8 70.3 49.6 70.2 50.8 70.0 51.6 69.7 52.8 69.5 53.6 69.2 54.8 69.0 55.6 68.9 56.8 68.8 57.6 68.8 58.8 68.8 59.6 69.0 60.8 69.2 62.0 69.4 62.8 69.6 63.7 69.9 64.8 70.1 65.6 70.4 66.6 70.6 67.6 70.8 68.8 70.9 69.6 70.8 70.8 70.7 71.6 70.4 72.6 70.0 73.5 69.6 74.2 69.1 74.8 68.4 75.6 67.9 76.0 67.2 76.4 66.4 76.9 65.6 77.2 64.4 77.6 63.6 77.8 62.4 78.0 61.6 78.1 60.4 78.2 59.2 78.3 58.4 78.4 57.2 78.6 56.0 78.8 55.2 78.9 54.0 79.1 53.2 79.2 52.0 79.3 50.8 79.4 49.6 79.4 48.4 79.4 47.2 79.3 46.0 79.3 44.8 79.2 44.0 79.2 42.8 79.2 41.7 79.2 40.8 79.2 39.6 79.3 38.4 79.5 37.4 79.6 36.4 79.7 35.2 80.0 34.4 80.2 33.6 80.4 32.6 80.8 31.8 81.2 31.0 81.6 30.3 82.0 29.6 82.4 28.8 82.8 28.0 83.2 27.1 83.6 26.1 84.0 25.2 84.3 24.4 84.6 23.4 84.8 22.4 85.0 21.2 85.2Z" stroke="#1a1a1a" stroke-width="1.1" fill="#000" fill-opacity="0.02"/>
<path d="M21.2 84.0 20.0 84.1 18.8 84.1 17.6 84.1 16.7 84.0 15.6 83.8 14.6 83.6 13.6 83.3 12.8 83.0 12.0 82.7 11.2 82.3 10.4 81.8 9.6 81.2 9.1 80.8 8.4 80.2 7.8 79.6 7.2 78.8 6.8 78.3 6.4 77.6 5.9 76.8 5.5 76.0 5.2 75.1 4.9 74.0 4.7 73.2 4.6 72.0 4.5 70.8 4.6 69.6 4.8 68.4 4.9 67.6 5.2 66.7 5.6 65.7 6.0 64.8 6.4 64.0 6.8 63.3 7.2 62.6 7.6 62.0 8.1 61.2 8.5 60.4 9.0 59.6 9.3 58.8 9.6 57.9 9.8 56.8 9.9 55.6 10.0 54.4 9.9 53.2 9.9 52.0 9.8 50.8 9.8 49.6 9.8 48.4 9.9 47.2 10.0 46.1 10.1 45.2 10.3 44.0 10.5 43.2 10.8 42.1 11.1 41.2 11.4 40.4 11.7 39.6 12.1 38.8 12.6 38.0 13.2 37.2 13.6 36.8 14.4 36.1 15.1 35.6 16.0 35.3 16.8 35.1 17.6 35.2 18.8 35.6 19.4 36.0 20.0 36.5 20.7 37.2 21.2 37.9 21.6 38.5 22.0 39.2 22.4 40.1 22.8 41.1 23.1 42.0 23.3 42.8 23.6 43.9 23.8 44.8 24.0 46.0 24.1 46.8 24.2 48.0 24.2 49.2 24.2 50.4 24.2 51.6 24.1 52.8 24.0 54.0 24.0 54.8 24.0 56.0 24.0 56.8 24.2 58.0 24.4 58.8 24.8 59.7 25.2 60.5 25.7 61.2 26.3 62.0 26.8 62.6 27.4 63.2 28.0 63.6 28.8 64.0 29.9 64.0 30.5 63.6 31.1 62.8 31.5 62.0 31.9 61.2 32.3 60.4 32.6 59.6 33.0 58.8 33.2 58.0 33.5 56.8 33.5 55.6 33.3 54.4 33.2 53.6 33.0 52.4 32.9 51.2 32.8 50.0 33.0 48.8 33.2 47.6 33.4 46.8 33.7 46.0 34.1 45.2 34.6 44.4 35.1 43.6 35.6 42.9 36.0 42.4 36.7 41.6 37.2 41.0 37.9 40.4 38.4 39.9 39.2 39.3 39.8 38.8 40.4 38.4 41.2 38.0 42.0 37.5 42.8 37.2 43.8 36.8 44.8 36.5 45.6 36.3 46.8 36.1 47.6 35.9 48.8 35.8 50.0 35.6 50.8 35.5 52.0 35.4 53.2 35.2 54.0 35.1 55.2 34.8 56.0 34.6 56.9 34.4 58.0 34.1 58.8 33.8 59.6 33.5 60.7 33.2 61.6 33.0 62.8 32.8 64.0 32.9 65.0 33.2 65.7 33.6 66.4 34.1 67.0 34.8 67.6 35.6 68.0 36.4 68.2 37.2 68.4 38.0 68.6 39.2 68.6 40.4 68.6 41.6 68.5 42.8 68.5 44.0 68.6 45.2 68.6 46.4 68.5 47.6 68.4 48.8 68.3 49.6 68.0 50.8 67.8 51.6 67.6 52.5 67.3 53.6 67.1 54.4 67.0 55.6 66.9 56.8 67.0 58.0 67.1 59.2 67.2 60.0 67.4 61.2 67.6 62.0 67.9 63.2 68.1 64.0 68.4 65.0 68.7 66.0 68.9 66.8 69.1 68.0 69.2 68.8 69.3 70.0 69.2 70.8 68.9 72.0 68.5 72.8 68.0 73.6 67.6 74.1 66.8 74.8 66.1 75.2 65.3 75.6 64.4 75.9 63.6 76.1 62.4 76.3 61.6 76.4 60.4 76.6 59.2 76.7 58.4 76.9 57.2 77.1 56.4 77.2 55.2 77.5 54.4 77.6 53.2 77.8 52.0 78.0 51.2 78.0 50.0 78.1 48.8 78.1 47.6 78.0 46.8 78.0 45.6 77.9 44.4 77.8 43.2 77.8 42.0 77.7 40.8 77.7 39.6 77.8 38.4 77.9 37.2 78.0 36.4 78.1 35.2 78.3 34.4 78.5 33.4 78.8 32.5 79.2 31.7 79.6 31.1 80.0 30.4 80.4 29.6 80.9 28.8 81.4 28.0 81.9 27.2 82.3 26.4 82.7 25.6 83.0 24.8 83.2 23.6 83.6 22.8 83.8 21.6 84.0Z" stroke="#444" stroke-width="0.6" fill="#000" fill-opacity="0.02"/>
<path d="M22.0 82.9 20.8 83.0 19.6 83.1 18.4 83.1 17.2 83.0 16.2 82.8 15.2 82.6 14.4 82.4 13.4 82.0 12.5 81.6 11.7 81.2 11.1 80.8 10.4 80.3 9.6 79.6 9.1 79.2 8.4 78.4 8.0 77.9 7.5 77.2 7.1 76.4 6.7 75.6 6.4 74.8 6.0 73.6 5.9 72.8 5.8 71.6 5.8 70.4 5.9 69.2 6.0 68.4 6.3 67.2 6.6 66.4 7.0 65.6 7.4 64.8 7.8 64.0 8.3 63.2 8.8 62.4 9.2 61.8 9.6 61.2 10.0 60.4 10.4 59.6 10.8 58.7 11.1 57.6 11.2 56.8 11.3 55.6 11.2 54.4 11.2 53.6 11.1 52.4 11.0 51.2 11.0 50.0 11.0 48.8 11.0 47.6 11.1 46.4 11.3 45.6 11.5 44.4 11.7 43.6 12.0 42.6 12.4 41.6 12.7 40.8 13.2 40.0 13.6 39.4 14.1 38.8 14.8 38.2 15.6 37.7 16.4 37.4 17.6 37.4 18.4 37.7 19.2 38.2 19.8 38.8 20.4 39.5 20.8 40.1 21.2 40.8 21.6 41.7 22.0 42.8 22.2 43.6 22.4 44.4 22.7 45.6 22.8 46.4 22.9 47.6 23.0 48.8 23.0 50.0 22.9 51.2 22.9 52.4 22.8 53.2 22.7 54.4 22.6 55.6 22.6 56.8 22.7 58.0 22.9 58.8 23.2 59.7 23.6 60.6 24.0 61.3 24.4 62.0 25.0 62.8 25.6 63.6 26.0 64.1 26.6 64.8 27.2 65.5 27.7 66.0 28.4 66.6 29.2 67.2 30.0 67.6 30.8 67.7 31.6 67.4 32.2 66.8 32.6 66.0 33.0 65.2 33.3 64.4 33.7 63.6 34.0 62.8 34.5 62.0 35.1 61.2 35.6 60.5 36.1 60.0 36.8 59.2 37.2 58.7 37.8 58.0 38.2 57.2 38.4 56.2 38.4 55.6 38.0 54.6 37.6 54.0 36.9 53.2 36.4 52.4 36.0 51.7 35.7 50.8 35.5 50.0 35.5 48.8 35.6 47.9 35.9 46.8 36.2 46.0 36.6 45.2 37.0 44.4 37.6 43.6 38.0 43.0 38.5 42.4 39.2 41.7 39.7 41.2 40.4 40.6 41.2 40.1 42.0 39.6 42.8 39.2 43.6 38.9 44.4 38.6 45.2 38.4 46.4 38.2 47.6 38.1 48.8 38.0 49.7 38.0 50.8 38.0 52.0 38.0 53.2 37.9 54.4 37.8 55.4 37.6 56.4 37.3 57.2 37.1 58.0 36.8 59.0 36.4 60.0 36.0 60.8 35.7 61.6 35.6 62.8 35.5 63.7 35.6 64.6 36.0 65.2 36.6 65.7 37.2 66.0 38.0 66.3 39.2 66.4 40.4 66.4 41.2 66.4 42.0 66.4 43.2 66.4 44.4 66.4 45.6 66.3 46.8 66.2 48.0 66.0 48.8 65.7 50.0 65.4 50.8 65.1 51.6 64.8 52.6 64.6 53.6 64.5 54.8 64.6 56.0 64.8 56.9 65.0 58.0 65.2 58.8 65.5 60.0 65.7 60.8 66.0 61.9 66.2 62.8 66.4 63.6 66.7 64.8 67.0 65.6 67.2 66.5 67.4 67.6 67.6 68.8 67.6 69.6 67.5 70.4 67.2 71.5 66.8 72.2 66.3 72.8 65.6 73.4 64.8 73.9 64.0 74.2 63.2 74.5 62.0 74.7 61.2 74.8 60.0 75.0 58.8 75.2 58.0 75.4 57.0 75.6 56.0 75.9 55.2 76.1 54.0 76.3 53.2 76.5 52.0 76.7 50.8 76.8 50.0 76.8 48.8 76.9 47.6 76.8 46.8 76.8 45.6 76.7 44.4 76.6 43.2 76.4 42.4 76.4 41.2 76.3 40.0 76.2 38.8 76.2 37.6 76.2 36.4 76.3 35.2 76.4 34.4 76.5 33.4 76.8 32.6 77.2 32.0 77.6 31.2 78.2 30.5 78.8 30.0 79.2 29.2 79.8 28.4 80.3 27.7 80.8 27.0 81.2 26.2 81.6 25.2 82.0 24.4 82.3 23.6 82.5 22.4 82.8Z" stroke="#555" stroke-width="0.55" fill="#000" fill-opacity="0.02"/>
<path d="M22.4 81.7 21.2 81.9 20.0 82.0 18.8 81.9 17.6 81.9 16.4 81.7 15.6 81.5 14.7 81.2 13.7 80.8 12.9 80.4 12.2 80.0 11.6 79.6 10.8 79.0 10.1 78.4 9.6 77.8 9.1 77.2 8.6 76.4 8.1 75.6 7.8 74.8 7.5 74.0 7.2 72.8 7.1 72.0 7.0 70.8 7.1 69.6 7.3 68.8 7.6 67.6 7.9 66.8 8.2 66.0 8.6 65.2 9.1 64.4 9.6 63.6 10.0 63.0 10.5 62.4 11.0 61.6 11.5 60.8 12.0 60.0 12.4 59.2 12.6 58.4 12.8 57.5 12.9 56.4 12.8 55.3 12.7 54.4 12.6 53.2 12.4 52.0 12.4 51.2 12.3 50.0 12.3 48.8 12.4 47.6 12.5 46.8 12.7 45.6 12.9 44.8 13.2 43.8 13.6 42.8 14.0 42.1 14.4 41.5 15.1 40.8 15.6 40.4 16.8 40.0 18.0 40.2 18.8 40.7 19.3 41.2 19.9 42.0 20.3 42.8 20.7 43.6 20.9 44.4 21.2 45.4 21.4 46.4 21.5 47.6 21.6 48.4 21.6 49.6 21.6 50.5 21.5 51.6 21.4 52.8 21.2 54.0 21.1 54.8 21.0 56.0 20.9 57.2 21.1 58.4 21.3 59.2 21.6 60.1 22.0 60.9 22.4 61.6 23.0 62.4 23.5 63.2 24.0 63.8 24.4 64.4 25.1 65.2 25.6 65.9 26.0 66.4 26.7 67.2 27.2 67.8 27.7 68.4 28.4 69.1 28.8 69.6 29.6 70.4 30.0 70.9 30.7 71.6 31.2 72.3 31.5 73.2 31.4 74.4 31.1 75.2 30.7 76.0 30.2 76.8 29.6 77.5 29.2 78.0 28.4 78.8 27.9 79.2 27.2 79.7 26.4 80.2 25.6 80.6 24.8 81.0 24.0 81.3 22.8 81.6ZM52.0 75.2 50.8 75.4 49.6 75.5 48.4 75.5 47.2 75.4 46.0 75.3 45.2 75.2 44.0 75.0 42.8 74.8 42.0 74.7 40.8 74.4 40.0 74.3 38.8 74.0 38.0 73.8 37.1 73.6 36.2 73.2 35.5 72.8 34.9 72.0 34.8 71.2 34.8 70.4 35.1 69.2 35.3 68.4 35.6 67.3 36.0 66.4 36.4 65.6 36.8 64.9 37.2 64.4 38.0 63.6 38.4 63.2 39.2 62.5 39.9 62.0 40.4 61.5 41.2 60.8 41.7 60.4 42.4 59.7 43.0 59.2 43.6 58.8 44.4 58.2 45.2 57.8 46.0 57.6 47.2 57.4 48.4 57.4 49.6 57.4 50.8 57.4 51.8 57.2 52.4 56.7 52.7 55.6 52.5 54.4 52.4 53.6 52.2 52.4 52.4 51.3 52.8 50.5 53.3 50.0 54.0 49.5 54.8 49.1 55.6 48.8 56.8 48.4 57.6 48.1 58.4 47.7 59.1 47.2 59.6 46.8 60.4 46.3 60.5 47.2 60.3 48.0 60.0 49.1 59.8 50.0 59.6 51.2 59.5 52.0 59.6 53.2 59.7 54.0 60.0 54.8 60.5 55.6 61.0 56.4 61.6 57.2 62.0 57.8 62.4 58.4 62.8 59.2 63.2 60.0 63.6 61.0 63.9 62.0 64.2 62.8 64.4 63.6 64.7 64.8 64.9 65.6 65.1 66.8 65.2 67.6 65.3 68.8 65.2 69.6 64.8 70.5 64.2 71.2 63.6 71.7 62.8 72.1 61.8 72.4 60.8 72.7 60.0 72.9 58.9 73.2 58.0 73.5 57.2 73.7 56.4 74.0 55.3 74.4 54.4 74.7 53.6 74.9 52.4 75.2Z" stroke="#555" stroke-width="0.55" fill="#000" fill-opacity="0.02"/>
<path d="M21.2 80.8 20.0 80.9 18.8 80.9 17.8 80.8 16.8 80.6 15.8 80.4 14.8 80.1 14.0 79.7 13.2 79.3 12.4 78.8 11.9 78.4 11.2 77.8 10.6 77.2 10.0 76.4 9.6 75.8 9.2 75.0 8.8 74.1 8.5 73.2 8.4 72.4 8.3 71.2 8.3 70.0 8.4 69.2 8.7 68.0 9.0 67.2 9.4 66.4 9.8 65.6 10.3 64.8 10.8 64.1 11.2 63.6 11.9 62.8 12.4 62.1 12.9 61.6 13.5 60.8 14.0 60.1 14.4 59.5 14.8 58.8 15.1 57.6 15.1 56.4 14.8 55.3 14.6 54.4 14.4 53.6 14.1 52.4 14.0 51.6 13.9 50.4 13.8 49.2 13.9 48.0 14.0 47.1 14.3 46.0 14.6 45.2 15.0 44.4 15.6 43.6 16.1 43.2 17.2 43.0 18.0 43.3 18.7 44.0 19.2 44.8 19.5 45.6 19.8 46.4 20.0 47.6 20.1 48.4 20.1 49.6 20.0 50.8 19.9 51.6 19.7 52.8 19.5 53.6 19.2 54.8 19.0 55.6 18.8 56.4 18.7 57.6 18.8 58.5 19.2 59.5 19.6 60.2 20.0 60.8 20.6 61.6 21.2 62.4 21.6 62.9 22.2 63.6 22.8 64.3 23.2 64.8 23.8 65.6 24.4 66.3 24.8 66.8 25.4 67.6 26.0 68.4 26.4 68.9 26.9 69.6 27.5 70.4 28.0 71.1 28.4 71.8 28.8 72.7 29.1 73.6 29.1 74.8 28.8 75.8 28.4 76.7 28.0 77.3 27.4 78.0 26.8 78.5 26.0 79.1 25.2 79.6 24.4 80.0 23.6 80.3 22.8 80.5 21.6 80.8ZM50.0 74.0 48.8 74.1 47.6 74.0 46.8 73.9 45.6 73.8 44.8 73.6 43.6 73.3 42.8 73.0 42.0 72.7 41.2 72.4 40.4 71.9 39.6 71.2 39.2 70.6 38.8 69.6 38.9 68.4 39.2 67.3 39.6 66.5 40.0 65.9 40.6 65.2 41.2 64.5 41.7 64.0 42.4 63.4 43.1 62.8 43.7 62.4 44.4 61.9 45.2 61.6 46.4 61.2 47.2 61.1 48.4 61.1 49.2 61.2 50.4 61.4 51.3 61.6 52.4 61.8 53.6 61.9 54.8 61.9 56.0 61.8 56.8 61.6 58.0 61.3 59.2 61.3 60.0 61.7 60.8 62.4 61.2 63.1 61.6 64.0 61.8 64.8 62.0 66.0 61.9 67.2 61.6 68.2 61.2 68.8 60.4 69.6 59.8 70.0 59.2 70.4 58.4 70.9 57.6 71.4 56.8 71.8 56.0 72.2 55.2 72.6 54.4 73.0 53.6 73.3 52.5 73.6 51.6 73.8 50.4 74.0Z" stroke="#555" stroke-width="0.55" fill="#000" fill-opacity="0.025"/>
<path d="M21.6 79.6 20.4 79.8 19.2 79.8 18.0 79.7 17.2 79.6 16.0 79.2 15.2 78.9 14.4 78.6 13.6 78.1 12.9 77.6 12.4 77.2 11.6 76.4 11.2 75.9 10.8 75.2 10.3 74.4 10.0 73.6 9.7 72.4 9.6 71.5 9.6 70.4 9.7 69.6 10.0 68.4 10.3 67.6 10.7 66.8 11.2 66.0 11.6 65.4 12.1 64.8 12.8 64.0 13.2 63.6 14.0 63.0 14.8 62.4 15.6 62.0 16.4 61.8 17.6 61.9 18.4 62.3 19.2 62.8 19.7 63.2 20.4 63.8 21.0 64.4 21.6 65.0 22.1 65.6 22.8 66.4 23.2 66.9 23.8 67.6 24.4 68.4 24.8 68.9 25.3 69.6 25.9 70.4 26.4 71.2 26.8 72.0 27.1 72.8 27.3 73.6 27.3 74.8 27.1 75.6 26.8 76.4 26.2 77.2 25.6 77.8 24.8 78.4 24.1 78.8 23.2 79.2 22.4 79.5 21.6 79.6ZM50.8 72.1 49.6 72.3 48.4 72.3 47.2 72.2 46.2 72.0 45.2 71.7 44.4 71.3 43.6 70.8 43.2 70.4 42.6 69.6 42.4 68.4 42.7 67.2 43.2 66.4 43.6 65.8 44.2 65.2 44.8 64.8 45.6 64.3 46.4 64.0 47.6 63.8 48.8 63.8 50.0 63.9 50.8 64.1 51.7 64.4 52.8 64.8 53.6 65.1 54.4 65.5 55.2 66.0 55.6 66.4 56.0 67.2 56.0 68.2 55.6 69.1 55.2 69.6 54.4 70.4 53.9 70.8 53.2 71.2 52.4 71.6 51.2 72.0Z" stroke="#555" stroke-width="0.55" fill="#000" fill-opacity="0.03"/>
<path d="M21.6 78.4 20.4 78.6 19.2 78.6 18.0 78.5 17.2 78.4 16.1 78.0 15.2 77.6 14.5 77.2 13.9 76.8 13.2 76.2 12.6 75.6 12.0 74.8 11.6 74.0 11.3 73.2 11.1 72.4 10.9 71.2 11.0 70.0 11.2 69.1 11.6 68.0 12.0 67.3 12.4 66.7 13.0 66.0 13.6 65.4 14.4 64.8 15.1 64.4 16.0 64.1 17.2 64.1 18.3 64.4 19.1 64.8 19.7 65.2 20.4 65.8 21.0 66.4 21.6 67.0 22.2 67.6 22.8 68.3 23.2 68.8 23.8 69.6 24.3 70.4 24.8 71.2 25.2 71.9 25.5 72.8 25.7 73.6 25.7 74.8 25.5 75.6 25.0 76.4 24.4 77.1 23.7 77.6 22.9 78.0 22.0 78.3ZM49.6 69.2 48.4 69.4 47.5 69.2 46.8 68.4 47.2 67.5 48.0 67.1 49.2 67.1 50.0 67.5 50.4 68.4 50.2 68.8 49.6 69.2Z" stroke="#2a2a2a" stroke-width="0.9" fill="#000" fill-opacity="0.12"/>
<path d="M20.4 77.6 19.2 77.7 18.4 77.6 17.2 77.4 16.4 77.1 15.6 76.7 14.8 76.2 14.1 75.6 13.6 75.1 13.0 74.4 12.6 73.6 12.3 72.8 12.1 71.6 12.1 70.4 12.4 69.2 12.7 68.4 13.2 67.6 13.6 67.1 14.4 66.4 15.1 66.0 16.0 65.7 16.8 65.6 17.6 65.7 18.5 66.0 19.2 66.4 20.0 67.0 20.7 67.6 21.2 68.1 21.9 68.8 22.4 69.5 22.8 70.0 23.3 70.8 23.8 71.6 24.2 72.4 24.4 73.2 24.5 74.4 24.2 75.2 23.8 76.0 23.2 76.5 22.4 77.1 21.6 77.4 20.6 77.6Z" stroke="#444" stroke-width="0.6" fill="#000" fill-opacity="0.1"/>
<path d="M20.8 76.4 19.6 76.6 18.4 76.6 17.6 76.4 16.6 76.0 15.8 75.6 15.2 75.2 14.4 74.4 14.0 73.8 13.6 73.0 13.3 72.0 13.3 70.8 13.6 69.6 14.0 68.8 14.4 68.2 15.2 67.6 16.0 67.2 16.8 67.1 17.7 67.2 18.7 67.6 19.4 68.0 20.0 68.5 20.8 69.2 21.2 69.7 21.8 70.4 22.3 71.2 22.7 72.0 23.0 72.8 23.1 74.0 22.8 75.0 22.3 75.6 21.6 76.1 20.8 76.4Z" stroke="#444" stroke-width="0.6" fill="#000" fill-opacity="0.08"/>
<path d="M19.6 75.3 18.4 75.3 17.6 75.1 16.8 74.7 16.0 74.2 15.5 73.6 15.0 72.8 14.8 72.0 14.8 70.8 15.1 70.0 15.6 69.3 16.4 68.9 17.2 68.8 18.0 68.9 18.8 69.3 19.6 69.9 20.1 70.4 20.8 71.2 21.2 72.0 21.5 72.8 21.4 74.0 20.8 74.8 20.0 75.2Z" stroke="#555" stroke-width="0.55" fill="#000" fill-opacity="0.05"/>
<path d="M19.2 74.1 18.0 74.1 17.2 73.7 16.5 73.2 16.1 72.4 15.9 71.6 16.2 70.8 16.8 70.2 18.0 70.2 18.8 70.6 19.4 71.2 20.0 72.0 20.2 72.8 20.0 73.6 19.2 74.1Z" stroke="#666" stroke-width="0.5" fill="#000" fill-opacity="0.0"/>
<path d="M19.6 82.8 18.6 82.8 17.6 82.7 16.4 82.6 15.6 82.4 14.4 82.1 13.6 81.8 12.8 81.4 12.0 81.0 11.2 80.5 10.5 80.0 10.0 79.6 9.2 78.8 8.8 78.4 8.2 77.6 7.7 76.8 7.2 76.0 6.9 75.2 6.6 74.4 6.4 73.6 6.1 72.4 6.1 71.2 6.1 70.0 6.3 68.8 6.5 68.0 6.8 67.0 7.2 66.1 7.6 65.4 8.0 64.8 8.6 64.0 9.2 63.3 9.7 62.8 10.4 62.3 11.2 61.7 12.0 61.3 12.8 60.9 13.6 60.7 14.8 60.4 15.6 60.3 16.8 60.3 18.0 60.4 18.8 60.5 19.8 60.8 20.8 61.2 21.6 61.6 22.3 62.0 22.8 62.4 23.6 63.0 24.3 63.6 24.8 64.1 25.4 64.8 26.0 65.5 26.4 66.0 27.0 66.8 27.6 67.6 28.0 68.2 28.4 68.8 28.9 69.6 29.3 70.4 29.7 71.2 30.1 72.0 30.4 73.1 30.6 74.0 30.6 75.2 30.4 76.4 30.1 77.2 29.8 78.0 29.2 78.8 28.8 79.3 28.1 80.0 27.6 80.4 26.8 80.9 26.0 81.4 25.2 81.7 24.4 82.0 23.2 82.4 22.4 82.5 21.2 82.7 20.0 82.8Z" fill="#000" fill-opacity="0.3"/>
<path d="M18.0 62.8 16.8 63.0 15.9 62.8 15.0 62.4 14.4 62.0 13.6 61.3 13.2 60.8 12.6 60.0 12.1 59.2 11.7 58.4 11.3 57.6 11.0 56.8 10.8 56.0 10.5 54.8 10.3 54.0 10.1 52.8 10.0 52.0 9.9 50.8 9.8 49.6 9.8 48.4 9.9 47.2 10.0 46.1 10.1 45.2 10.3 44.0 10.5 43.2 10.8 42.0 11.1 41.2 11.4 40.4 11.7 39.6 12.1 38.8 12.6 38.0 13.2 37.2 13.6 36.8 14.4 36.0 15.1 35.6 16.0 35.2 16.8 35.1 17.8 35.2 18.8 35.6 19.5 36.0 20.0 36.4 20.7 37.2 21.2 37.8 21.6 38.5 22.0 39.2 22.4 40.0 22.8 41.1 23.1 42.0 23.3 42.8 23.6 44.0 23.8 44.8 23.9 46.0 24.0 46.9 24.1 48.0 24.1 49.2 24.1 50.4 24.0 51.2 23.9 52.4 23.7 53.6 23.5 54.4 23.2 55.6 23.0 56.4 22.7 57.2 22.4 58.0 22.0 58.9 21.6 59.6 21.1 60.4 20.4 61.2 20.0 61.6 19.2 62.2 18.4 62.7Z" fill="#000" fill-opacity="0.2"/>
<path d="M2 77h1M4 80h1M33 39h1M30 44h1M71 50h1M4 78h1M20 32h1M71 36h1M7 81h1M12 36h1M28 85h1M13 32h1M70 74h1M40 81h1M3 80h1M31 54h1M34 82h1M72 63h1M72 70h1M45 35h1M55 81h1M62 81h1M3 76h1M26 86h1M62 81h1M73 63h1M35 83h1M72 48h1M9 83h1M61 81h1M16 86h1M25 36h1M73 36h1M5 60h1M30 83h1M72 67h1M32 40h1M31 47h1M19 33h1M12 86h1M29 55h1M72 41h1M34 41h1M27 53h1M28 42h1M47 32h1M71 71h1M65 81h1M34 82h1M4 79h1M30 52h1M14 29h1M37 81h1M7 41h1M28 54h1M31 54h1M5 80h1M33 41h1M70 56h1M29 58h1M12 85h1M9 43h1M70 63h1M7 56h1M26 45h1M26 54h1M8 54h1M26 53h1M74 48h1M23 86h1M71 67h1M15 30h1M73 49h1M58 31h1M29 53h1M9 84h1M4 65h1M69 60h1M71 73h1M70 65h1M28 59h1M57 79h1M71 73h1M56 80h1M65 80h1M46 80h1M23 35h1M72 38h1M5 58h1M12 85h1M7 60h1M31 84h1M21 35h1M24 37h1M26 46h1M70 59h1M28 49h1M49 80h1M70 52h1M1 71h1M63 28h1M6 80h1M69 56h1M33 82h1M71 39h1M70 32h1M11 36h1M69 78h1M14 85h1M68 79h1M50 81h1M11 33h1M71 65h1M66 78h1M71 58h1M11 33h1M42 79h1M36 40h1M2 68h1M73 41h1M3 63h1M8 43h1M57 30h1M5 60h1M31 42h1M37 39h1M24 35h1M59 29h1M72 60h1M61 82h1M53 30h1M61 30h1M10 84h1M59 81h1M2 77h1M10 34h1M28 45h1M28 85h1M34 41h1M51 82h1M73 37h1M65 28h1M8 57h1M54 33h1M8 40h1M20 34h1M44 33h1M2 75h1M71 56h1M13 29h1M12 86h1M7 45h1M6 82h1M28 54h1M11 33h1M69 31h1M19 29h1M15 33h1M54 81h1M42 82h1M17 30h1M5 60h1M26 53h1M74 43h1M26 58h1M58 80h1M71 74h1M72 45h1M8 40h1M30 50h1M6 82h1M70 58h1M3 64h1M10 40h1M56 82h1M6 61h1M7 81h1M2 65h1M3 67h1M33 82h1M30 85h1M54 32h1M30 83h1M65 30h1M53 33h1M6 82h1M27 50h1M42 36h1M63 79h1M8 53h1M27 44h1M9 41h1M29 54h1M49 33h1M13 31h1M27 42h1M36 81h1M72 66h1M11 31h1M72 42h1M13 35h1M53 80h1M25 40h1M48 80h1M2 70h1M42 36h1M15 30h1M26 41h1M19 86h1M5 60h1M29 59h1M70 64h1M28 44h1M43 35h1M15 29h1M29 49h1M5 79h1M64 79h1M58 32h1M0 69h1M70 55h1M59 79h1M4 81h1M8 51h1M61 79h1M31 42h1M66 79h1M24 39h1M64 31h1M24 37h1M12 30h1M24 36h1M6 84h1M71 51h1M4 77h1M18 30h1M72 73h1M27 52h1M7 48h1M27 51h1M44 33h1M3 65h1M34 83h1M34 39h1M70 32h1M27 38h1M46 80h1M26 50h1M28 84h1M8 52h1M72 48h1M9 83h1M51 81h1M16 29h1M8 82h1M52 80h1M57 30h1M29 42h1M24 86h1M50 80h1M12 33h1M30 85h1M61 82h1M27 86h1M71 65h1M52 32h1M45 32h1M2 70h1M27 57h1M67 31h1M46 82h1M72 44h1M49 31h1M10 35h1M27 55h1M29 57h1M48 33h1M2 71h1M2 70h1M46 80h1M72 62h1M29 53h1M30 57h1M7 41h1M71 37h1M45 81h1M48 34h1M56 80h1M24 40h1M64 79h1M28 47h1M72 69h1M39 83h1M39 82h1M26 45h1M71 41h1M8 54h1M19 86h1M56 32h1M63 29h1M7 42h1M1 68h1M52 81h1M21 86h1M72 40h1M71 49h1M70 35h1M21 33h1M3 72h1M26 53h1M8 50h1M47 81h1M44 81h1M71 47h1M27 50h1M72 47h1M28 55h1M71 44h1M38 82h1M53 33h1M29 57h1M53 33h1M23 85h1M35 41h1M67 32h1M54 30h1M4 77h1M30 53h1M40 36h1M10 34h1M24 34h1M65 31h1M5 62h1M27 51h1M4 78h1M68 79h1M10 35h1M48 33h1M69 33h1M67 78h1M30 58h1M72 50h1M66 28h1M71 60h1M10 35h1M72 42h1M62 29h1M3 82h1M26 57h1M55 80h1M65 29h1M66 28h1M2 75h1M32 82h1M1 73h1M72 61h1M8 55h1M3 63h1M29 59h1M11 84h1M27 46h1M12 33h1M14 33h1M8 84h1M51 82h1M17 30h1M64 30h1M54 81h1M3 75h1M72 63h1M9 42h1M47 33h1M43 33h1M30 52h1M2 64h1M70 58h1M58 30h1M2 65h1M69 76h1M67 32h1M52 80h1M4 61h1M32 83h1M5 61h1M6 47h1M11 33h1M4 80h1M70 65h1M8 51h1M39 37h1M15 30h1M9 39h1M32 45h1M69 77h1M26 48h1M74 46h1M29 56h1M13 35h1M36 37h1M54 82h1M40 82h1M7 59h1M32 40h1M18 33h1M68 32h1M8 50h1M4 67h1M4 78h1M65 80h1M29 44h1M25 42h1M70 61h1M69 32h1M27 53h1M7 46h1M49 81h1M2 70h1M56 81h1M31 49h1M14 33h1M48 31h1M2 73h1M71 44h1M20 31h1M24 36h1M29 52h1M13 86h1M2 71h1M28 56h1M1 73h1M40 36h1M23 86h1M45 80h1M29 48h1M32 43h1M70 35h1M29 45h1M22 34h1M73 66h1M5 59h1M32 41h1M70 61h1M70 58h1M1 78h1M5 63h1M71 57h1M51 33h1M2 69h1M25 37h1M24 37h1M2 65h1M68 31h1M29 53h1M10 84h1M41 35h1M69 60h1M64 79h1M71 54h1M23 35h1M64 29h1M73 65h1M68 32h1M3 65h1M11 34h1M70 58h1M19 33h1M55 32h1M15 33h1M15 86h1M27 53h1M49 80h1M74 73h1M32 82h1M2 73h1M26 58h1M68 29h1M2 75h1M70 35h1M8 53h1M31 84h1M2 71h1M50 32h1M12 35h1M27 53h1M46 80h1M26 41h1M37 83h1M52 32h1M27 45h1M70 53h1M32 83h1M43 35h1M5 79h1M56 80h1M27 85h1M14 86h1M8 55h1M39 81h1M72 60h1M14 32h1M72 43h1M59 31h1M30 43h1M70 33h1M29 59h1M42 81h1M32 83h1M32 81h1M4 77h1M63 81h1M3 66h1M66 29h1M36 40h1M22 86h1M50 82h1M53 31h1M31 41h1M42 81h1M68 32h1M73 38h1M25 37h1M9 36h1M7 51h1M5 61h1M72 37h1M70 59h1M71 34h1M27 53h1M66 78h1M33 40h1M71 69h1M3 73h1M51 81h1M27 42h1M72 67h1M30 58h1M7 56h1M2 72h1M50 33h1M28 58h1M71 58h1M54 32h1M35 82h1M54 80h1M55 32h1M1 69h1M4 67h1M27 42h1M30 58h1M63 31h1M71 72h1M8 82h1M29 43h1M31 41h1M69 60h1M31 48h1M8 40h1M71 37h1M71 49h1M28 50h1M39 81h1M55 82h1M22 35h1M42 34h1M17 29h1M44 81h1M15 29h1M20 29h1M22 31h1M73 66h1M5 62h1M20 32h1M13 86h1M69 76h1M30 58h1M47 34h1M19 29h1M60 79h1M30 43h1M71 45h1M30 47h1M73 42h1M27 58h1M45 34h1M36 80h1M39 35h1M17 29h1M70 55h1M68 33h1M69 33h1M27 40h1M22 35h1M53 81h1M26 46h1M57 32h1M63 80h1M58 80h1M27 48h1M7 57h1M26 45h1M72 80h1M41 30h1M52 28h1M74 77h1M56 82h1M75 39h1M62 27h1M8 23h1M58 84h1M49 84h1M80 33h1M62 83h1M74 76h1M49 86h1M58 84h1M50 83h1M0 79h1M60 21h1M1 64h1M74 32h1M28 37h1M6 48h1M64 83h1M2 60h1M75 75h1M35 36h1M3 58h1M26 35h1M78 27h1M7 87h1M73 59h1M76 54h1M3 53h1M31 39h1M76 48h1M49 28h1M74 41h1M27 32h1M47 31h1M30 40h1M2 80h1M20 27h1M20 22h1M65 83h1M4 36h1M61 27h1M3 54h1M6 37h1M24 26h1M45 31h1M19 23h1M74 34h1M61 27h1M53 83h1M6 43h1M59 24h1M8 32h1M3 56h1M51 83h1M76 57h1M59 26h1M63 82h1M76 57h1M31 86h1M77 71h1M18 27h1M76 51h1M33 86h1M65 81h1M13 29h1M25 31h1M4 57h1M23 30h1M26 32h1M74 69h1M0 81h1M23 24h1M72 33h1M3 61h1M70 79h1M30 41h1M24 31h1M74 30h1M76 39h1M34 31h1M3 57h1M17 24h1M76 44h1M4 52h1M13 27h1M9 33h1M59 84h1M6 46h1M3 58h1M36 84h1M75 70h1M27 29h1M5 55h1M66 27h1M77 56h1M36 83h1M59 16h1M1 79h1M1 62h1M69 80h1M56 27h1M63 85h1M53 24h1M56 85h1M14 22h1M73 75h1M7 25h1M55 83h1M0 51h1M3 81h1M60 82h1M6 40h1M67 81h1M44 31h1M20 24h1" stroke="#333" stroke-width="1" stroke-opacity="0.75" shape-rendering="crispEdges"/>
<path d="M61 22h1M79 25h1M77 45h1M61 27h1M56 20h1M27 11h1M50 28h1M21 32h1M78 51h1M27 43h1M35 18h1M65 24h1M38 37h1M86 52h1M73 31h1M41 18h1M43 17h1M67 24h1M48 26h1M36 28h1M79 23h1M71 31h1M26 57h1M74 44h1M73 51h1M51 29h1M26 45h1M67 17h1M19 23h1M30 24h1M24 29h1M6 56h1M65 12h1M77 55h1M78 55h1M37 27h1M65 28h1M33 22h1M13 28h1M42 34h1M75 46h1M74 27h1M75 24h1M32 22h1M57 20h1M39 32h1M26 54h1M16 21h1M76 13h1M28 36h1M68 31h1M26 42h1M55 25h1M44 24h1M29 47h1M35 17h1M55 15h1M74 15h1M72 61h1M60 18h1M70 30h1M65 28h1M66 21h1M76 4h1M26 41h1M29 20h1M34 24h1M80 51h1M80 9h1M72 54h1M59 21h1M28 39h1M29 40h1M28 27h1M5 39h1M85 29h1M34 24h1M36 15h1M26 39h1M30 30h1M31 33h1M79 51h1M58 22h1M22 24h1M34 31h1M50 22h1M53 31h1M36 26h1M41 30h1M10 23h1M29 25h1M34 38h1M33 15h1M52 28h1M71 50h1M1 25h1M23 37h1M73 52h1M78 43h1M80 15h1M1 46h1M9 52h1M73 56h1M30 59h1M58 16h1M55 26h1M35 36h1M29 54h1M79 54h1M33 41h1M63 26h1M50 31h1M27 30h1M57 30h1M27 46h1M53 31h1M72 30h1M30 32h1M43 25h1M66 23h1M42 33h1M53 19h1M35 30h1M71 55h1M36 35h1M32 35h1M36 23h1M31 37h1M38 26h1M27 47h1M84 59h1M37 22h1M53 20h1M63 29h1M30 30h1M9 30h1M45 20h1M67 28h1M39 20h1M58 19h1M76 51h1M15 23h1M49 27h1M13 30h1M33 24h1M32 19h1M1 32h1M33 31h1M86 36h1M57 23h1M17 25h1M28 18h1M27 43h1M24 19h1M77 26h1M22 21h1M57 15h1M21 28h1M20 33h1M76 24h1M27 16h1M16 24h1M20 22h1M41 20h1M73 28h1M42 27h1M71 24h1M46 18h1M47 26h1M32 24h1M49 25h1M52 32h1M52 12h1M32 39h1M81 56h1M9 25h1M20 20h1M26 52h1M69 20h1M72 62h1M34 22h1M27 16h1M32 41h1M55 30h1M51 31h1M10 31h1M38 23h1M22 25h1M78 12h1M30 33h1M26 24h1M78 54h1M31 30h1M66 28h1M36 28h1M68 23h1M82 52h1M38 30h1M71 43h1M71 16h1M28 23h1M79 21h1M56 23h1M13 31h1M52 22h1M71 55h1M29 37h1M27 59h1M22 35h1M55 30h1M29 38h1M52 34h1M53 33h1M44 29h1M13 34h1M53 25h1M55 19h1M64 19h1M83 27h1M45 27h1M18 18h1M47 8h1M37 28h1M60 26h1M27 48h1M66 24h1M55 32h1M76 46h1M12 24h1M45 23h1M36 21h1M80 49h1M30 23h1M43 35h1M72 45h1M59 23h1M18 29h1M19 27h1M52 30h1M74 39h1M75 21h1M27 14h1M21 27h1M30 29h1M49 22h1M15 29h1M50 18h1M45 20h1M52 13h1M53 17h1M69 1h1M47 11h1M80 17h1M71 25h1M83 28h1M85 56h1M70 16h1M29 45h1M61 24h1M53 22h1M71 19h1M25 37h1M65 16h1M72 42h1M37 38h1M37 25h1M82 17h1M80 21h1M24 26h1M38 26h1M23 26h1M25 24h1M77 32h1M29 39h1M74 36h1M75 67h1M66 15h1M74 22h1M0 61h1M36 9h1M41 32h1M47 14h1M40 22h1M65 25h1M51 25h1M62 15h1M35 9h1M24 26h1M46 29h1M40 28h1M39 31h1M45 22h1M33 39h1M50 27h1M37 34h1M57 32h1M51 17h1M48 31h1M23 31h1M30 27h1M31 29h1M36 21h1M58 17h1M24 28h1M58 28h1M75 30h1M26 27h1M50 31h1M65 27h1M71 62h1M85 28h1M57 25h1M49 18h1M47 16h1M64 2h1M27 49h1M50 27h1M23 29h1M12 20h1M27 42h1M33 38h1M83 59h1M42 24h1M38 35h1M47 31h1M24 32h1M40 27h1M66 23h1M36 29h1M26 27h1M29 46h1M44 20h1M52 10h1M56 31h1M52 23h1" stroke="#333" stroke-width="1" stroke-opacity="0.7" shape-rendering="crispEdges"/>
</g></g>
<rect x="336.80" y="26.00" width="86.20" height="86.70" fill="none" stroke="#111" stroke-width="1.2"/>
<line x1="336.20" y1="113.10" x2="423.60" y2="113.10" stroke="#111" stroke-width="1.0"/>
<line x1="364.80" y1="26.00" x2="364.80" y2="112.70" stroke="#111" stroke-width="1.0"/>
<line x1="336.80" y1="89.50" x2="423.00" y2="89.50" stroke="#111" stroke-width="1.0"/>
<path d="M336.8 112.7h-2.0M336.8 112.7v2.0M336.8 106.2h-1.2M343.3 112.7v1.2M336.8 102.4h-1.2M347.1 112.7v1.2M336.8 99.7h-1.2M349.8 112.7v1.2M336.8 97.6h-1.2M351.9 112.7v1.2M336.8 95.9h-1.2M353.6 112.7v1.2M336.8 94.5h-1.2M355.0 112.7v1.2M336.8 93.2h-1.2M356.3 112.7v1.2M336.8 92.1h-1.2M357.4 112.7v1.2M336.8 91.2h-2.0M358.4 112.7v2.0M336.8 84.7h-1.2M364.8 112.7v1.2M336.8 80.9h-1.2M368.6 112.7v1.2M336.8 78.2h-1.2M371.3 112.7v1.2M336.8 76.1h-1.2M373.4 112.7v1.2M336.8 74.4h-1.2M375.1 112.7v1.2M336.8 72.9h-1.2M376.6 112.7v1.2M336.8 71.7h-1.2M377.8 112.7v1.2M336.8 70.6h-1.2M378.9 112.7v1.2M336.8 69.6h-2.0M379.9 112.7v2.0M336.8 63.1h-1.2M386.4 112.7v1.2M336.8 59.3h-1.2M390.2 112.7v1.2M336.8 56.6h-1.2M392.9 112.7v1.2M336.8 54.5h-1.2M395.0 112.7v1.2M336.8 52.8h-1.2M396.7 112.7v1.2M336.8 51.4h-1.2M398.1 112.7v1.2M336.8 50.1h-1.2M399.4 112.7v1.2M336.8 49.0h-1.2M400.5 112.7v1.2M336.8 48.0h-2.0M401.5 112.7v2.0M336.8 41.6h-1.2M407.9 112.7v1.2M336.8 37.8h-1.2M411.7 112.7v1.2M336.8 35.1h-1.2M414.4 112.7v1.2M336.8 33.0h-1.2M416.5 112.7v1.2M336.8 31.3h-1.2M418.2 112.7v1.2M336.8 29.8h-1.2M419.7 112.7v1.2M336.8 28.6h-1.2M420.9 112.7v1.2M336.8 27.5h-1.2M422.0 112.7v1.2M336.8 26.0h-2M423.0 112.7v2" stroke="#333" stroke-width=".7"/>
<text x="335.60" y="123.10" font-size="6.4" text-anchor="middle" fill="#333" stroke="#333" stroke-width="0.22">10</text>
<text x="338.40" y="119.50" font-size="3.8" fill="#333" stroke="#333" stroke-width="0.22">0</text>
<text x="357.15" y="123.10" font-size="6.4" text-anchor="middle" fill="#333" stroke="#333" stroke-width="0.22">10</text>
<text x="359.95" y="119.50" font-size="3.8" fill="#333" stroke="#333" stroke-width="0.22">1</text>
<text x="378.70" y="123.10" font-size="6.4" text-anchor="middle" fill="#333" stroke="#333" stroke-width="0.22">10</text>
<text x="381.50" y="119.50" font-size="3.8" fill="#333" stroke="#333" stroke-width="0.22">2</text>
<text x="400.25" y="123.10" font-size="6.4" text-anchor="middle" fill="#333" stroke="#333" stroke-width="0.22">10</text>
<text x="403.05" y="119.50" font-size="3.8" fill="#333" stroke="#333" stroke-width="0.22">3</text>
<text x="421.80" y="123.10" font-size="6.4" text-anchor="middle" fill="#333" stroke="#333" stroke-width="0.22">10</text>
<text x="424.60" y="119.50" font-size="3.8" fill="#333" stroke="#333" stroke-width="0.22">4</text>
<text x="338.08" y="41.20" font-size="18.6" stroke="#000" stroke-width="0.22" textLength="19.25" lengthAdjust="spacingAndGlyphs">14</text>
<text x="402.59" y="41.02" font-size="18.08" stroke="#000" stroke-width="0.22" textLength="18.70" lengthAdjust="spacingAndGlyphs">19</text>
<text x="412.08" y="111.13" font-size="17.66" stroke="#000" stroke-width="0.22" textLength="9.13" lengthAdjust="spacingAndGlyphs">8</text>
<clipPath id="cp5"><rect x="428.20" y="26.00" width="86.80" height="86.70"/></clipPath>
<g clip-path="url(#cp5)"><g transform="translate(428.20 26.00)">
<path d="M24.8 85.2 23.6 85.3 22.4 85.4 21.2 85.3 20.0 85.2 19.2 85.1 18.0 84.9 17.2 84.7 16.2 84.4 15.2 84.0 14.4 83.6 13.6 83.2 13.0 82.8 12.4 82.4 11.6 81.8 11.0 81.2 10.4 80.6 9.9 80.0 9.3 79.2 8.8 78.5 8.4 77.8 8.0 77.0 7.6 76.1 7.3 75.2 7.1 74.4 6.8 73.2 6.7 72.4 6.6 71.2 6.7 70.0 6.8 68.8 6.9 68.0 7.2 67.0 7.5 66.0 7.8 65.2 8.2 64.4 8.6 63.6 9.0 62.8 9.5 62.0 10.0 61.3 10.4 60.6 10.8 60.0 11.2 59.2 11.6 58.4 12.0 57.4 12.3 56.4 12.4 55.4 12.5 54.4 12.5 53.2 12.5 52.0 12.5 50.8 12.4 49.6 12.5 48.4 12.5 47.2 12.6 46.0 12.7 44.8 12.8 43.7 12.9 42.8 13.2 41.6 13.3 40.8 13.6 39.8 13.9 38.8 14.2 38.0 14.5 37.2 14.8 36.4 15.2 35.6 15.7 34.8 16.2 34.0 16.8 33.3 17.3 32.8 18.0 32.2 18.8 31.8 19.6 31.5 20.8 31.4 21.6 31.6 22.5 32.0 23.2 32.5 24.0 33.2 24.4 33.7 25.0 34.4 25.5 35.2 26.0 35.9 26.4 36.5 26.8 37.2 27.4 38.0 28.0 38.8 28.5 39.2 29.5 39.6 30.0 39.5 30.8 39.2 31.6 38.5 32.1 38.0 32.8 37.3 33.2 36.8 34.0 36.0 34.4 35.6 35.2 34.9 35.9 34.4 36.5 34.0 37.2 33.6 38.0 33.2 39.1 32.8 40.0 32.6 41.0 32.4 42.0 32.3 43.2 32.3 44.4 32.3 45.6 32.3 46.8 32.3 48.0 32.2 49.2 32.1 50.3 32.0 51.2 31.9 52.4 31.8 53.6 31.6 54.4 31.5 55.6 31.3 56.4 31.1 57.4 30.8 58.4 30.5 59.2 30.1 60.0 29.8 60.8 29.5 61.6 29.1 62.4 28.7 63.2 28.3 64.0 28.0 65.0 27.6 66.0 27.3 67.2 27.3 68.4 27.5 69.2 27.9 69.7 28.4 70.4 29.2 70.7 30.0 70.9 30.8 71.1 32.0 71.0 33.2 70.9 34.4 70.8 35.2 70.7 36.4 70.6 37.6 70.7 38.8 70.8 39.6 71.1 40.8 71.4 41.6 71.6 42.4 72.0 43.4 72.4 44.4 72.7 45.2 73.0 46.0 73.2 46.8 73.5 48.0 73.7 48.8 73.8 50.0 73.8 51.2 73.7 52.4 73.6 53.2 73.3 54.4 73.0 55.2 72.7 56.0 72.4 56.8 72.0 57.8 71.6 58.7 71.2 59.6 70.9 60.4 70.6 61.2 70.4 62.0 70.2 63.2 70.1 64.4 70.1 65.6 70.2 66.8 70.4 67.8 70.6 68.8 70.9 69.6 71.2 70.7 71.5 71.6 71.7 72.4 71.9 73.6 72.0 74.4 72.0 75.2 71.8 76.4 71.4 77.2 70.9 78.0 70.4 78.5 69.6 79.2 68.8 79.6 68.0 80.0 67.2 80.3 66.4 80.5 65.3 80.8 64.4 81.1 63.6 81.3 62.4 81.6 61.6 81.7 60.4 81.9 59.6 82.0 58.4 82.1 57.2 82.1 56.0 82.0 55.2 82.0 54.0 81.9 52.8 81.9 51.6 81.8 50.4 81.7 49.6 81.6 48.4 81.4 47.2 81.2 46.4 81.1 45.2 80.8 44.4 80.7 43.2 80.6 42.0 80.6 40.9 80.8 40.0 81.0 39.2 81.3 38.4 81.6 37.5 82.0 36.5 82.4 35.6 82.7 34.8 83.0 34.0 83.3 33.0 83.6 32.0 83.9 31.2 84.1 30.0 84.4 29.2 84.5 28.0 84.8 27.2 84.9 26.0 85.1 24.9 85.2Z" stroke="#1a1a1a" stroke-width="1.1" fill="#000" fill-opacity="0.02"/>
<path d="M25.2 84.0 24.0 84.1 22.8 84.1 21.6 84.1 20.4 84.0 19.6 83.9 18.4 83.7 17.6 83.5 16.8 83.2 15.8 82.8 15.0 82.4 14.2 82.0 13.6 81.6 12.8 81.0 12.1 80.4 11.6 79.9 11.0 79.2 10.4 78.4 10.0 77.8 9.6 77.2 9.2 76.4 8.8 75.4 8.5 74.4 8.3 73.6 8.1 72.4 8.0 71.2 8.0 70.0 8.2 68.8 8.4 67.8 8.7 66.8 9.0 66.0 9.3 65.2 9.7 64.4 10.1 63.6 10.6 62.8 11.1 62.0 11.6 61.3 12.0 60.7 12.4 60.0 12.8 59.2 13.2 58.3 13.5 57.2 13.6 56.4 13.7 55.2 13.7 54.0 13.7 52.8 13.7 51.6 13.6 50.4 13.6 49.2 13.6 48.0 13.7 46.8 13.8 45.6 13.9 44.4 14.0 43.6 14.3 42.4 14.4 41.6 14.8 40.4 15.0 39.6 15.3 38.8 15.7 38.0 16.1 37.2 16.6 36.4 17.2 35.6 17.6 35.2 18.4 34.6 19.2 34.1 20.0 33.9 21.2 34.0 22.0 34.3 22.8 34.8 23.2 35.2 24.0 36.0 24.4 36.5 24.9 37.2 25.3 38.0 25.8 38.8 26.2 39.6 26.7 40.4 27.2 41.2 27.6 41.9 28.0 42.4 28.8 43.0 29.6 43.2 30.4 43.0 31.2 42.4 31.7 42.0 32.4 41.2 32.8 40.6 33.3 40.0 33.8 39.2 34.4 38.4 34.8 37.9 35.4 37.2 36.0 36.6 36.7 36.0 37.2 35.6 38.0 35.1 38.8 34.7 39.8 34.4 40.8 34.2 42.0 34.1 43.2 34.1 44.4 34.2 45.6 34.2 46.8 34.3 48.0 34.2 49.2 34.1 50.2 34.0 51.2 33.9 52.4 33.8 53.6 33.6 54.4 33.5 55.6 33.4 56.5 33.2 57.6 33.0 58.4 32.8 59.6 32.5 60.4 32.2 61.2 32.0 62.3 31.6 63.2 31.3 64.0 31.0 64.8 30.8 66.0 30.7 66.8 30.9 67.6 31.6 67.9 32.4 68.0 33.2 68.1 34.4 68.1 35.6 68.2 36.8 68.4 38.0 68.6 38.8 68.8 39.6 69.2 40.6 69.6 41.6 69.9 42.4 70.2 43.2 70.6 44.0 70.9 44.8 71.2 45.7 71.6 46.8 71.8 47.6 72.0 48.7 72.1 49.6 72.2 50.8 72.1 52.0 71.9 52.8 71.6 54.0 71.3 54.8 71.0 55.6 70.6 56.4 70.2 57.2 69.8 58.0 69.4 58.8 69.0 59.6 68.7 60.4 68.4 61.2 68.1 62.4 68.0 63.2 67.9 64.4 68.0 65.4 68.1 66.4 68.3 67.6 68.5 68.4 68.8 69.5 69.1 70.4 69.3 71.2 69.6 72.4 69.7 73.2 69.8 74.4 69.6 75.5 69.2 76.4 68.8 76.9 68.0 77.6 67.3 78.0 66.5 78.4 65.6 78.8 64.8 79.0 64.0 79.3 62.9 79.6 62.0 79.8 61.2 80.0 60.0 80.2 58.8 80.3 57.6 80.4 56.4 80.4 55.2 80.4 54.0 80.4 52.8 80.3 51.6 80.3 50.4 80.2 49.2 80.0 48.4 79.9 47.2 79.6 46.4 79.4 45.5 79.2 44.4 79.0 43.5 78.8 42.4 78.7 41.2 78.7 40.4 78.9 39.5 79.2 38.6 79.6 37.8 80.0 37.0 80.4 36.3 80.8 35.5 81.2 34.6 81.6 33.7 82.0 32.8 82.3 32.0 82.6 31.2 82.8 30.0 83.1 29.2 83.3 28.0 83.6 27.2 83.7 26.0 83.9 25.2 84.0Z" stroke="#444" stroke-width="0.6" fill="#000" fill-opacity="0.02"/>
<path d="M26.4 82.8 25.2 83.0 24.0 83.1 22.8 83.1 21.6 83.0 20.4 82.9 19.6 82.8 18.4 82.5 17.6 82.3 16.8 82.0 16.0 81.6 15.2 81.2 14.4 80.7 13.6 80.1 13.0 79.6 12.4 79.0 11.9 78.4 11.3 77.6 10.8 76.8 10.4 76.0 10.0 75.2 9.8 74.4 9.5 73.6 9.3 72.4 9.2 71.2 9.3 70.0 9.4 68.8 9.6 68.0 10.0 66.8 10.3 66.0 10.7 65.2 11.1 64.4 11.6 63.6 12.0 62.9 12.4 62.3 12.9 61.6 13.4 60.8 13.9 60.0 14.3 59.2 14.6 58.4 14.8 57.5 14.9 56.4 15.0 55.2 14.9 54.0 14.9 52.8 14.8 51.7 14.8 50.8 14.7 49.6 14.7 48.4 14.8 47.2 14.8 46.4 14.9 45.2 15.1 44.0 15.3 43.2 15.6 42.0 15.9 41.2 16.2 40.4 16.5 39.6 17.0 38.8 17.5 38.0 18.0 37.4 18.8 36.8 19.6 36.4 20.4 36.3 21.3 36.4 22.1 36.8 22.8 37.4 23.4 38.0 24.0 38.8 24.4 39.4 24.8 40.2 25.2 41.0 25.6 41.8 26.0 42.7 26.4 43.6 26.7 44.4 26.9 45.2 27.2 46.1 27.4 47.2 27.5 48.4 27.4 49.6 27.2 50.8 27.1 51.6 26.8 52.8 26.7 53.6 26.5 54.8 26.5 56.0 26.5 57.2 26.8 58.2 27.2 59.1 27.6 59.6 28.4 60.4 29.2 60.7 30.4 60.4 30.8 60.0 31.3 59.2 31.7 58.4 32.1 57.6 32.5 56.8 32.9 56.0 33.3 55.2 33.7 54.4 34.0 53.5 34.2 52.4 34.0 51.4 33.6 50.4 33.3 49.6 32.9 48.8 32.7 48.0 32.7 46.8 32.9 46.0 33.2 45.2 33.6 44.4 34.1 43.6 34.5 42.8 34.9 42.0 35.3 41.2 35.8 40.4 36.3 39.6 36.8 38.8 37.2 38.3 37.9 37.6 38.4 37.2 39.2 36.7 40.1 36.4 41.2 36.2 42.4 36.1 43.6 36.2 44.6 36.4 45.6 36.6 46.8 36.7 48.0 36.7 49.2 36.6 50.2 36.4 51.2 36.3 52.4 36.1 53.6 36.0 54.4 35.9 55.6 35.9 56.8 35.8 58.0 35.7 58.9 35.6 60.0 35.6 61.2 35.6 62.0 35.7 62.9 36.0 63.6 36.4 64.4 37.0 65.0 37.6 65.6 38.4 66.0 38.9 66.5 39.6 67.0 40.4 67.4 41.2 67.9 42.0 68.3 42.8 68.6 43.6 69.0 44.4 69.3 45.2 69.6 46.1 69.9 47.2 70.1 48.0 70.2 49.2 70.3 50.4 70.2 51.6 70.0 52.4 69.6 53.6 69.3 54.4 68.9 55.2 68.4 56.0 68.0 56.7 67.6 57.3 67.1 58.0 66.6 58.8 66.1 59.6 65.7 60.4 65.5 61.2 65.3 62.4 65.4 63.6 65.6 64.8 65.8 65.6 66.0 66.6 66.2 67.6 66.4 68.4 66.7 69.6 66.9 70.4 67.1 71.6 67.2 72.4 67.2 73.6 67.1 74.4 66.7 75.2 66.0 76.0 65.4 76.4 64.8 76.8 63.9 77.2 63.0 77.6 62.0 77.9 61.2 78.2 60.2 78.4 59.2 78.6 58.0 78.7 56.9 78.8 56.0 78.8 54.8 78.9 53.6 78.9 52.4 78.9 51.2 78.9 50.4 78.8 49.2 78.6 48.3 78.4 47.2 78.1 46.4 77.9 45.4 77.6 44.4 77.3 43.6 77.1 42.4 76.8 41.6 76.7 40.4 76.8 39.6 76.9 38.8 77.3 38.0 77.7 37.2 78.3 36.5 78.8 36.0 79.2 35.2 79.7 34.4 80.2 33.6 80.6 32.8 81.0 32.0 81.3 31.2 81.6 30.1 82.0 29.2 82.2 28.4 82.4 27.2 82.7 26.4 82.8Z" stroke="#555" stroke-width="0.55" fill="#000" fill-opacity="0.02"/>
<path d="M26.8 81.6 25.6 81.8 24.4 81.9 23.2 82.0 22.0 81.9 20.8 81.8 19.6 81.6 18.8 81.4 18.0 81.1 17.2 80.8 16.3 80.4 15.6 80.0 14.8 79.4 14.0 78.8 13.6 78.4 12.9 77.6 12.4 76.9 12.0 76.3 11.6 75.6 11.2 74.6 10.9 73.6 10.7 72.8 10.6 71.6 10.5 70.4 10.7 69.2 10.8 68.4 11.2 67.2 11.5 66.4 11.9 65.6 12.4 64.8 12.8 64.1 13.2 63.5 13.7 62.8 14.3 62.0 14.8 61.3 15.2 60.7 15.6 60.0 16.0 59.1 16.4 58.0 16.5 57.2 16.5 56.0 16.5 54.8 16.4 54.0 16.2 52.8 16.1 51.6 16.0 50.4 16.0 49.6 16.0 48.4 16.0 47.6 16.1 46.4 16.3 45.2 16.5 44.4 16.8 43.2 17.1 42.4 17.4 41.6 17.9 40.8 18.4 40.1 18.9 39.6 19.6 39.2 20.8 39.1 21.6 39.4 22.4 40.0 22.8 40.4 23.3 41.2 23.8 42.0 24.2 42.8 24.5 43.6 24.8 44.6 25.1 45.6 25.2 46.4 25.4 47.6 25.4 48.8 25.3 50.0 25.2 51.1 25.1 52.0 24.9 53.2 24.7 54.0 24.5 55.2 24.4 56.4 24.5 57.6 24.7 58.8 25.0 59.6 25.5 60.4 26.0 61.2 26.4 61.7 27.1 62.4 27.6 62.9 28.4 63.6 28.9 64.0 29.6 64.5 30.4 64.9 31.2 65.2 32.4 65.4 33.3 65.2 34.0 64.4 34.3 63.6 34.5 62.8 34.8 61.6 35.0 60.8 35.5 60.0 36.0 59.5 36.8 59.2 37.6 59.2 38.4 59.6 39.2 60.1 40.0 60.6 40.8 61.1 41.6 61.4 42.8 61.6 44.0 61.2 44.4 60.4 44.1 59.2 43.9 58.4 43.6 57.3 43.4 56.4 43.3 55.2 43.2 54.0 43.1 53.2 42.8 52.0 42.5 51.2 42.0 50.4 41.6 49.8 41.0 49.2 40.4 48.5 40.0 48.0 39.5 47.2 39.1 46.4 38.9 45.2 38.9 44.0 39.2 42.8 39.5 42.0 39.9 41.2 40.4 40.7 41.2 40.2 42.4 40.0 43.6 40.3 44.4 40.6 45.2 41.0 46.0 41.5 46.7 42.0 47.3 42.4 48.0 43.1 48.5 43.6 49.2 44.4 49.6 44.9 50.3 45.6 51.0 46.0 52.0 46.2 53.0 46.0 53.6 45.6 54.2 44.8 54.7 44.0 55.1 43.2 55.6 42.5 56.0 42.0 56.8 41.4 57.6 40.9 58.4 40.6 59.2 40.4 60.4 40.2 61.6 40.3 62.4 40.4 63.3 40.8 64.0 41.2 64.8 41.8 65.3 42.4 65.9 43.2 66.4 44.0 66.8 44.8 67.1 45.6 67.3 46.4 67.4 47.6 67.5 48.8 67.3 50.0 67.0 50.8 66.6 51.6 66.2 52.4 65.6 53.2 65.2 53.6 64.5 54.4 64.0 55.0 63.6 55.6 63.0 56.4 62.5 57.2 62.1 58.0 61.7 58.8 61.5 59.6 61.3 60.8 61.5 62.0 61.7 62.8 62.1 63.6 62.4 64.4 62.8 65.3 63.2 66.2 63.5 67.2 63.8 68.0 64.0 68.9 64.2 70.0 64.3 71.2 64.2 72.4 64.0 73.2 63.5 74.0 62.8 74.8 62.3 75.2 61.6 75.6 60.8 76.0 59.7 76.4 58.8 76.7 58.0 76.8 56.8 77.1 55.7 77.2 54.8 77.3 53.6 77.4 52.4 77.4 51.2 77.3 50.0 77.2 49.2 77.0 48.2 76.8 47.2 76.5 46.4 76.2 45.6 75.9 44.8 75.6 44.0 75.2 43.0 74.8 42.0 74.4 41.2 74.1 40.4 73.9 39.2 73.7 38.2 74.0 37.6 74.4 36.9 75.2 36.4 75.8 36.0 76.4 35.3 77.2 34.8 77.8 34.2 78.4 33.6 78.9 32.8 79.4 32.0 79.9 31.2 80.3 30.4 80.6 29.6 80.9 28.6 81.2 27.6 81.5 26.8 81.6Z" stroke="#555" stroke-width="0.55" fill="#000" fill-opacity="0.02"/>
<path d="M25.2 80.8 24.0 80.9 22.8 80.9 21.6 80.8 20.8 80.7 19.6 80.5 18.8 80.2 18.0 79.9 17.2 79.6 16.4 79.1 15.6 78.6 14.9 78.0 14.4 77.5 13.8 76.8 13.2 76.0 12.8 75.3 12.4 74.4 12.1 73.6 11.9 72.8 11.8 71.6 11.8 70.4 11.9 69.2 12.1 68.4 12.4 67.5 12.8 66.6 13.2 65.8 13.6 65.1 14.1 64.4 14.7 63.6 15.2 63.0 15.7 62.4 16.4 61.6 16.8 61.1 17.3 60.4 17.9 59.6 18.3 58.8 18.6 58.0 18.7 56.8 18.6 55.6 18.4 54.8 18.1 53.6 17.9 52.8 17.7 51.6 17.6 50.8 17.5 49.6 17.4 48.4 17.5 47.2 17.6 46.4 17.9 45.2 18.2 44.4 18.6 43.6 19.2 42.8 19.6 42.4 20.8 42.2 21.6 42.6 22.1 43.2 22.6 44.0 23.0 44.8 23.2 45.6 23.5 46.8 23.6 47.6 23.7 48.8 23.6 49.9 23.5 50.8 23.3 52.0 23.1 52.8 22.8 53.9 22.5 54.8 22.3 55.6 22.1 56.8 22.1 58.0 22.4 58.9 22.8 59.6 23.3 60.4 23.9 61.2 24.4 61.8 24.9 62.4 25.6 63.2 26.0 63.6 26.8 64.4 27.2 64.8 28.0 65.6 28.4 66.0 29.2 66.7 29.8 67.2 30.4 67.8 31.1 68.4 31.6 68.9 32.3 69.6 32.8 70.2 33.3 70.8 33.7 71.6 34.0 72.4 34.2 73.6 34.1 74.8 33.9 75.6 33.5 76.4 33.0 77.2 32.4 77.8 31.8 78.4 31.2 78.8 30.4 79.3 29.6 79.7 28.8 80.0 27.6 80.4 26.8 80.6 25.6 80.8ZM55.2 75.7 54.0 75.8 52.8 75.9 51.6 75.9 50.4 75.8 49.5 75.6 48.4 75.3 47.6 75.0 46.8 74.6 46.0 74.2 45.2 73.7 44.4 73.2 43.9 72.8 43.2 72.1 42.7 71.6 42.2 70.8 41.9 70.0 41.9 68.8 42.2 68.0 42.8 67.3 43.4 66.8 44.1 66.4 44.9 66.0 45.9 65.6 46.8 65.3 47.6 65.0 48.4 64.7 49.2 64.4 50.2 64.0 51.0 63.6 51.8 63.2 52.5 62.8 53.2 62.3 53.9 61.6 54.0 60.8 53.6 60.1 53.1 59.6 52.4 58.9 51.9 58.4 51.2 57.7 50.7 57.2 50.1 56.4 49.9 55.6 50.0 54.8 50.8 54.0 51.6 53.6 52.4 53.3 53.2 53.1 54.4 52.8 55.2 52.7 56.4 52.7 57.2 52.9 57.9 53.6 58.2 54.4 58.3 55.6 58.1 56.8 57.8 57.6 57.5 58.4 57.1 59.2 56.6 60.0 56.4 61.2 56.9 62.0 57.6 62.7 58.1 63.2 58.8 64.0 59.2 64.4 59.8 65.2 60.3 66.0 60.8 66.8 61.1 67.6 61.4 68.4 61.6 69.4 61.7 70.4 61.6 71.2 61.2 72.3 60.8 73.0 60.2 73.6 59.6 74.1 58.8 74.6 58.0 74.9 57.2 75.2 56.0 75.5 55.2 75.7Z" stroke="#555" stroke-width="0.55" fill="#000" fill-opacity="0.025"/>
<path d="M25.6 79.6 24.4 79.8 23.2 79.8 22.0 79.8 21.0 79.6 20.0 79.4 19.2 79.1 18.4 78.8 17.6 78.4 16.8 77.9 16.0 77.3 15.5 76.8 14.8 76.0 14.4 75.5 14.0 74.8 13.6 73.9 13.3 72.8 13.1 72.0 13.1 70.8 13.2 69.6 13.4 68.8 13.6 68.0 14.0 67.1 14.4 66.4 14.9 65.6 15.5 64.8 16.0 64.3 16.7 63.6 17.2 63.2 18.0 62.5 18.8 62.1 19.6 61.8 20.8 61.7 21.6 62.0 22.4 62.5 23.2 63.1 23.8 63.6 24.4 64.2 25.1 64.8 25.6 65.3 26.3 66.0 26.8 66.6 27.4 67.2 28.0 67.8 28.5 68.4 29.2 69.1 29.6 69.6 30.3 70.4 30.8 71.2 31.2 71.8 31.6 72.8 31.8 73.6 31.8 74.8 31.6 75.8 31.2 76.5 30.7 77.2 30.0 77.8 29.2 78.4 28.4 78.8 27.6 79.1 26.8 79.4 25.7 79.6ZM54.0 74.0 52.8 74.2 51.6 74.2 50.5 74.0 49.6 73.7 48.8 73.4 48.0 73.0 47.2 72.4 46.8 72.0 46.3 71.2 46.0 70.0 46.4 69.0 46.9 68.4 47.6 67.8 48.4 67.3 49.2 66.9 50.0 66.6 50.8 66.3 51.7 66.0 52.8 65.7 53.6 65.6 54.8 65.5 55.6 65.7 56.5 66.0 57.2 66.5 57.9 67.2 58.4 67.9 58.8 68.8 58.9 69.6 58.8 70.5 58.4 71.6 58.0 72.1 57.2 72.8 56.6 73.2 55.7 73.6 54.8 73.9 54.0 74.0Z" stroke="#555" stroke-width="0.55" fill="#000" fill-opacity="0.03"/>
<path d="M25.6 78.4 24.4 78.6 23.2 78.7 22.0 78.6 20.9 78.4 20.0 78.2 19.2 77.9 18.4 77.5 17.6 77.0 16.9 76.4 16.4 75.9 15.8 75.2 15.3 74.4 14.9 73.6 14.6 72.8 14.4 71.6 14.4 70.4 14.7 69.2 14.9 68.4 15.3 67.6 15.8 66.8 16.4 66.0 16.8 65.6 17.6 64.9 18.4 64.4 19.2 64.1 20.0 64.0 20.8 64.0 21.9 64.4 22.6 64.8 23.2 65.2 24.0 65.8 24.7 66.4 25.2 66.9 25.9 67.6 26.4 68.2 27.0 68.8 27.6 69.6 28.0 70.0 28.6 70.8 29.1 71.6 29.5 72.4 29.8 73.2 29.9 74.4 29.6 75.6 29.2 76.3 28.8 76.8 28.0 77.4 27.2 77.9 26.4 78.2 25.6 78.4ZM53.2 71.6 52.0 71.7 51.2 71.4 50.5 70.8 50.4 70.1 50.8 69.4 51.6 68.9 52.4 68.6 53.6 68.5 54.4 68.8 55.1 69.6 54.8 70.7 54.3 71.2 53.3 71.6Z" stroke="#2a2a2a" stroke-width="0.9" fill="#000" fill-opacity="0.12"/>
<path d="M24.4 77.6 23.2 77.7 22.0 77.6 21.2 77.5 20.2 77.2 19.3 76.8 18.6 76.4 18.0 76.0 17.2 75.3 16.8 74.8 16.3 74.0 15.9 73.2 15.6 72.0 15.5 71.2 15.6 70.2 15.8 69.2 16.2 68.4 16.7 67.6 17.2 67.0 17.8 66.4 18.5 66.0 19.6 65.6 20.4 65.5 21.2 65.7 22.1 66.0 22.8 66.4 23.6 67.0 24.3 67.6 24.8 68.1 25.5 68.8 26.0 69.4 26.5 70.0 27.1 70.8 27.6 71.6 28.0 72.3 28.3 73.2 28.4 74.0 28.3 74.8 28.0 75.6 27.3 76.4 26.7 76.8 25.9 77.2 24.8 77.5Z" stroke="#444" stroke-width="0.6" fill="#000" fill-opacity="0.1"/>
<path d="M24.4 76.4 23.2 76.6 22.0 76.6 21.2 76.4 20.0 76.0 19.3 75.6 18.7 75.2 18.0 74.5 17.6 74.0 17.2 73.2 16.8 72.0 16.7 71.2 16.8 70.4 17.2 69.2 17.6 68.5 18.1 68.0 18.8 67.5 19.6 67.1 20.8 67.1 21.6 67.3 22.4 67.7 23.2 68.2 23.9 68.8 24.4 69.3 25.1 70.0 25.6 70.7 26.0 71.3 26.4 72.0 26.8 73.1 26.9 74.0 26.6 74.8 26.1 75.6 25.5 76.0 24.6 76.4Z" stroke="#444" stroke-width="0.6" fill="#000" fill-opacity="0.08"/>
<path d="M23.2 75.3 22.0 75.3 21.2 75.1 20.4 74.8 19.6 74.2 19.0 73.6 18.5 72.8 18.2 72.0 18.2 70.8 18.5 70.0 19.2 69.2 20.0 68.8 20.8 68.7 21.6 68.9 22.4 69.3 23.2 69.9 23.7 70.4 24.3 71.2 24.8 72.0 25.1 72.8 25.0 74.0 24.4 74.8 23.6 75.2Z" stroke="#555" stroke-width="0.55" fill="#000" fill-opacity="0.05"/>
<path d="M22.8 74.1 21.6 74.1 20.8 73.8 20.0 73.2 19.6 72.5 19.4 71.6 19.6 70.8 20.4 70.2 21.6 70.2 22.4 70.7 23.0 71.2 23.5 72.0 23.7 72.8 23.5 73.6 22.8 74.1Z" stroke="#666" stroke-width="0.5" fill="#000" fill-opacity="0.0"/>
<path d="M23.2 82.8 22.0 82.8 21.2 82.7 20.0 82.6 19.0 82.4 18.0 82.1 17.2 81.8 16.4 81.5 15.6 81.1 14.8 80.6 14.0 80.0 13.5 79.6 12.8 79.0 12.3 78.4 11.6 77.6 11.2 76.9 10.8 76.2 10.4 75.4 10.1 74.4 9.8 73.6 9.6 72.4 9.5 71.6 9.5 70.4 9.6 69.6 9.8 68.4 10.1 67.6 10.4 66.7 10.8 65.9 11.2 65.2 11.7 64.4 12.4 63.6 12.8 63.2 13.6 62.5 14.2 62.0 14.9 61.6 15.7 61.2 16.7 60.8 17.6 60.5 18.4 60.4 19.6 60.3 20.8 60.3 21.6 60.4 22.8 60.7 23.6 60.9 24.4 61.3 25.2 61.7 26.0 62.2 26.8 62.8 27.3 63.2 28.0 63.9 28.5 64.4 29.2 65.2 29.6 65.7 30.1 66.4 30.7 67.2 31.2 67.9 31.6 68.5 32.1 69.2 32.5 70.0 33.0 70.8 33.3 71.6 33.6 72.4 33.9 73.6 34.0 74.4 34.0 75.3 33.8 76.4 33.6 77.2 33.2 78.0 32.6 78.8 32.0 79.5 31.5 80.0 30.8 80.5 30.0 81.0 29.2 81.5 28.4 81.8 27.6 82.1 26.4 82.4 25.6 82.6 24.4 82.7 23.4 82.8Z" fill="#000" fill-opacity="0.3"/>
<path d="M20.4 63.2 19.6 63.1 18.8 62.8 18.0 62.3 17.3 61.6 16.8 61.0 16.4 60.4 15.9 59.6 15.5 58.8 15.2 58.0 14.8 56.8 14.6 56.0 14.3 55.2 14.1 54.0 14.0 53.2 13.8 52.0 13.7 50.8 13.6 49.6 13.6 48.4 13.6 47.2 13.7 46.0 13.8 44.8 14.0 43.6 14.1 42.8 14.4 41.7 14.6 40.8 14.9 40.0 15.2 39.1 15.6 38.1 16.0 37.3 16.4 36.7 16.9 36.0 17.6 35.2 18.0 34.8 18.8 34.3 19.6 33.9 20.8 33.9 21.6 34.1 22.4 34.5 23.2 35.1 23.6 35.6 24.2 36.4 24.7 37.2 25.1 38.0 25.5 38.8 25.8 39.6 26.1 40.4 26.4 41.6 26.6 42.4 26.8 43.6 26.9 44.4 27.1 45.6 27.2 46.8 27.2 48.0 27.2 48.8 27.2 49.6 27.1 50.8 27.0 52.0 26.9 53.2 26.7 54.0 26.5 55.2 26.3 56.0 26.0 56.9 25.6 58.0 25.3 58.8 24.9 59.6 24.4 60.4 24.0 61.0 23.5 61.6 22.8 62.3 22.0 62.8 21.2 63.1 20.4 63.2Z" fill="#000" fill-opacity="0.2"/>
<path d="M73 28h1M18 86h1M22 30h1M76 50h1M64 85h1M52 85h1M27 85h1M75 58h1M6 66h1M49 30h1M10 61h1M72 32h1M74 41h1M29 34h1M11 50h1M50 84h1M52 29h1M30 35h1M75 50h1M72 79h1M14 36h1M72 70h1M73 60h1M74 40h1M53 83h1M62 27h1M49 32h1M73 61h1M74 60h1M41 32h1M13 44h1M75 28h1M76 54h1M23 28h1M32 86h1M26 35h1M65 27h1M51 30h1M28 38h1M69 80h1M74 43h1M10 61h1M65 84h1M44 31h1M32 36h1M73 39h1M74 43h1M64 82h1M47 31h1M54 30h1M62 28h1M21 30h1M66 26h1M32 85h1M71 39h1M69 27h1M74 64h1M53 84h1M43 30h1M37 32h1M71 37h1M13 39h1M75 34h1M55 31h1M26 34h1M12 49h1M4 71h1M50 83h1M27 87h1M43 31h1M43 32h1M52 84h1M6 63h1M56 83h1M7 74h1M31 38h1M73 27h1M58 83h1M52 82h1M22 29h1M72 27h1M73 76h1M5 77h1M71 69h1M65 82h1M70 27h1M63 82h1M49 31h1M11 56h1M71 35h1M50 83h1M74 45h1M46 82h1M16 86h1M72 78h1M45 82h1M31 37h1M72 30h1M60 29h1M71 80h1M8 64h1M75 49h1M21 28h1M65 82h1M74 73h1M24 31h1M72 38h1M10 61h1M27 36h1M71 67h1M18 28h1M73 37h1M7 62h1M72 81h1M13 43h1M42 30h1M64 83h1M73 40h1M11 56h1M15 85h1M73 71h1M8 63h1M32 84h1M62 28h1M15 34h1M63 84h1M8 79h1M25 32h1M46 32h1M74 68h1M66 26h1M12 56h1M37 84h1M31 85h1M73 64h1M58 29h1M69 25h1M9 60h1M72 64h1M12 46h1M70 82h1M72 41h1M8 64h1M76 48h1M17 29h1M15 35h1M9 81h1M49 31h1M20 30h1M75 33h1M74 39h1M68 27h1M9 79h1M62 29h1M6 77h1M71 65h1M71 64h1M63 85h1M40 83h1M7 71h1M5 70h1M73 31h1M70 80h1M12 46h1M30 38h1M74 46h1M33 35h1M11 56h1M22 26h1M49 83h1M17 32h1M8 77h1M12 51h1M74 64h1M33 37h1M6 76h1M74 40h1M11 43h1M73 42h1M39 31h1M6 80h1M44 85h1M76 45h1M71 62h1M28 85h1M16 85h1M12 41h1M71 67h1M65 82h1M29 86h1M13 40h1M74 80h1M65 81h1M48 82h1M61 28h1M58 30h1M73 61h1M71 38h1M59 29h1M75 77h1M9 63h1M16 86h1M11 54h1M42 83h1M76 54h1M14 34h1M37 85h1M30 39h1M40 82h1M28 39h1M52 85h1M11 83h1M11 55h1M74 46h1M71 66h1M29 36h1M19 86h1M14 84h1M4 70h1M7 74h1M74 45h1M41 82h1M72 66h1M10 81h1M54 30h1M74 60h1M62 28h1M25 30h1M37 31h1M66 82h1M15 35h1M59 27h1M74 77h1M73 73h1M62 28h1M43 31h1M17 30h1M54 84h1M9 83h1M71 61h1M16 30h1M28 38h1M74 52h1M24 33h1M20 86h1M73 80h1M73 38h1M59 83h1M26 86h1M26 29h1M15 37h1M63 25h1M75 54h1M66 83h1M30 36h1M16 30h1M22 32h1M74 46h1M8 79h1M12 39h1M14 84h1M75 76h1M48 83h1M72 63h1M29 39h1M74 57h1M75 45h1M12 52h1M74 31h1M39 32h1M54 83h1M52 31h1M73 45h1M22 86h1M72 68h1M29 86h1M72 68h1M13 42h1M26 35h1M67 26h1M76 49h1M44 82h1M12 86h1M48 30h1M16 31h1M15 30h1M31 38h1M22 32h1M28 37h1M72 39h1M39 32h1M68 81h1M10 61h1M68 82h1M55 85h1M40 82h1M47 82h1M68 26h1M38 85h1M38 82h1M27 85h1M37 84h1M29 37h1M48 30h1M69 81h1M74 61h1M5 76h1M32 38h1M72 38h1M30 87h1M53 29h1M23 31h1M14 36h1M47 84h1M19 87h1M54 84h1M59 83h1M6 74h1M25 32h1M35 86h1M73 28h1M59 29h1M27 36h1M72 38h1M30 36h1M14 37h1M75 34h1M20 86h1M18 85h1M28 87h1M73 63h1M73 74h1M74 57h1M68 26h1M8 65h1M57 29h1M46 82h1M7 62h1M69 27h1M22 30h1M70 83h1M21 28h1M60 28h1M27 34h1M75 46h1M32 86h1M24 33h1M71 66h1M5 71h1M9 61h1M10 45h1M75 57h1M73 73h1M13 40h1M61 27h1M74 72h1M31 86h1M57 83h1M11 84h1M36 86h1M38 83h1M72 27h1M10 57h1M29 34h1M12 43h1M12 48h1M7 81h1M44 82h1M12 83h1M73 73h1M16 30h1M15 31h1M72 34h1M73 30h1M12 43h1M9 82h1M11 58h1M15 86h1M34 35h1M37 84h1M71 27h1M11 56h1M68 25h1M63 27h1M13 41h1M11 50h1M41 32h1M76 53h1M27 34h1M11 50h1M48 83h1M7 80h1M72 68h1M16 34h1M20 86h1M24 27h1M37 31h1M75 55h1M73 43h1M20 27h1M19 31h1M67 27h1M44 31h1M72 33h1M12 43h1M70 82h1M39 83h1M23 31h1M44 83h1M65 27h1M29 36h1M51 82h1M46 82h1M24 29h1M74 71h1M38 83h1M31 36h1M68 25h1M9 61h1M8 77h1M39 30h1M65 27h1M35 32h1M31 36h1M75 32h1M29 39h1M55 31h1M46 31h1M9 82h1M47 31h1M43 82h1M68 83h1M25 86h1M75 57h1M24 30h1M76 46h1M5 78h1M12 37h1M74 48h1M40 83h1M57 28h1M22 30h1M29 39h1M25 86h1M6 73h1M39 83h1M55 85h1M11 38h1M30 34h1M7 63h1M7 63h1M70 79h1M71 64h1M52 84h1M75 49h1M76 52h1M49 83h1M74 41h1M18 31h1M25 86h1M12 57h1M12 45h1M11 59h1M40 30h1M43 32h1M8 64h1M16 85h1M13 34h1M35 84h1M37 30h1M66 82h1M54 84h1M71 26h1M18 31h1M12 44h1M39 33h1M73 31h1M66 27h1M74 79h1M72 60h1M27 34h1M25 35h1M24 29h1M49 32h1M61 85h1M76 76h1M9 83h1M28 34h1M76 76h1M51 31h1M22 86h1M71 37h1M63 27h1M71 63h1M75 59h1M74 40h1M76 52h1M13 37h1M76 50h1M29 38h1M75 37h1M75 70h1M76 78h1M12 56h1M41 30h1M26 29h1M24 31h1M12 43h1M71 62h1M58 82h1M73 63h1M72 30h1M74 52h1M6 75h1M40 30h1M72 73h1M11 44h1M46 32h1M15 34h1M17 85h1M72 28h1M13 41h1M8 77h1M59 30h1M73 36h1M69 81h1M14 85h1M35 35h1M58 83h1M26 31h1M11 42h1M7 81h1M51 82h1M77 50h1M68 81h1M72 71h1M4 72h1M44 30h1M35 83h1M71 33h1M32 38h1M34 36h1M12 47h1M74 62h1M57 28h1M60 85h1M31 37h1M23 30h1M73 26h1M75 44h1M75 54h1M22 27h1M73 72h1M24 30h1M65 27h1M65 27h1M75 59h1M59 85h1M75 45h1M17 86h1M14 34h1M60 29h1M10 57h1M33 33h1M26 86h1M13 84h1M34 84h1M40 32h1M63 83h1M13 86h1M47 30h1M74 43h1M62 26h1M7 79h1M37 84h1M74 78h1M20 31h1M17 30h1M72 28h1M39 32h1M73 75h1M72 69h1M69 81h1M32 33h1M73 37h1M76 74h1M54 30h1M17 87h1M74 32h1M14 86h1M55 30h1M77 50h1M74 63h1M69 28h1M11 44h1M37 85h1M12 45h1M74 59h1M63 25h1M60 29h1M12 57h1M52 32h1M15 35h1M77 50h1M66 25h1M17 33h1M67 27h1M77 47h1M74 55h1M29 34h1M4 67h1M24 30h1M8 64h1M71 66h1M73 71h1M6 69h1M75 50h1M71 31h1M13 43h1M6 75h1M74 59h1M12 42h1M72 26h1M55 29h1M71 80h1M44 31h1M42 30h1M74 29h1M36 84h1M22 86h1M74 78h1M33 35h1M7 66h1M15 33h1M12 58h1M8 61h1M27 33h1M77 50h1M24 32h1M73 44h1M2 74h1M75 39h1M78 45h1M3 77h1M77 58h1M37 86h1M26 22h1M28 29h1M1 72h1M17 16h1M45 27h1M78 54h1M36 29h1M78 60h1M39 86h1M2 63h1M31 26h1M73 83h1M1 70h1M4 62h1M22 24h1M32 31h1M66 86h1M35 30h1M2 67h1M46 28h1M9 51h1M76 38h1M2 72h1M66 85h1M52 86h1M44 86h1M76 70h1M4 57h1M79 53h1M9 85h1M10 85h1M30 32h1M83 70h1M76 34h1M12 33h1M1 74h1M60 23h1M82 76h1M7 82h1M3 77h1M3 73h1M52 86h1M12 34h1M77 29h1M72 85h1M7 43h1M78 77h1M39 29h1M23 23h1M25 20h1M76 74h1M7 82h1M7 49h1M18 25h1M15 19h1M6 62h1M53 25h1M11 34h1M76 80h1M51 28h1M8 59h1M43 29h1M67 21h1M5 82h1M17 25h1M43 25h1M4 62h1M51 27h1M9 84h1M9 36h1M3 73h1M27 23h1M71 84h1M27 25h1M14 19h1M75 26h1M15 24h1M24 26h1M12 32h1M5 63h1M42 29h1M9 57h1M4 76h1M76 67h1M10 40h1M36 29h1M41 29h1M3 78h1M1 61h1M76 78h1M20 26h1M55 86h1M76 41h1M75 61h1M74 24h1M76 39h1M74 81h1M1 62h1M75 82h1M52 27h1M10 47h1M2 78h1M70 84h1M3 69h1M42 85h1M79 72h1M15 23h1M82 37h1M78 75h1M79 69h1M46 86h1M56 86h1M64 22h1M5 86h1M9 35h1M1 76h1M3 61h1M21 21h1M12 35h1M46 26h1M80 45h1M3 68h1M76 35h1M82 50h1" stroke="#333" stroke-width="1" stroke-opacity="0.75" shape-rendering="crispEdges"/>
<path d="M75 35h1M5 26h1M84 39h1M31 24h1M53 25h1M72 23h1M14 29h1M28 19h1M20 29h1M80 4h1M80 53h1M76 20h1M27 22h1M38 21h1M11 30h1M31 13h1M39 18h1M78 20h1M38 28h1M3 32h1M55 15h1M36 27h1M55 26h1M30 21h1M56 24h1M51 21h1M82 23h1M27 37h1M83 12h1M31 30h1M64 23h1M69 23h1M80 36h1M18 30h1M79 46h1M30 29h1M31 23h1M26 25h1M29 28h1M33 35h1M16 34h1M39 10h1M18 21h1M34 29h1M7 35h1M39 24h1M65 26h1M20 26h1M22 19h1M54 26h1M75 58h1M78 19h1M56 29h1M30 21h1M65 6h1M46 26h1M53 21h1M48 31h1M54 18h1M22 13h1M58 28h1M65 23h1M56 30h1M40 26h1M66 18h1M63 19h1M40 29h1M49 24h1M41 18h1M39 30h1M63 24h1M85 41h1M61 23h1M48 21h1M59 8h1M13 27h1M31 19h1M55 31h1M18 31h1M44 28h1M65 11h1M61 23h1M42 21h1M43 21h1M34 31h1M41 25h1M79 53h1M32 31h1M57 21h1M81 22h1M11 28h1M4 25h1M10 62h1M54 15h1M42 29h1M47 1h1M12 41h1M35 23h1M72 17h1M3 30h1M3 52h1M86 44h1M80 36h1M24 32h1M62 13h1M39 21h1M14 35h1M47 26h1M10 38h1M45 19h1M36 28h1M41 19h1M61 28h1M81 52h1M84 25h1M68 25h1M61 23h1M27 32h1M33 19h1M80 28h1M29 22h1M47 26h1M36 27h1M22 23h1M42 19h1M63 19h1M78 24h1M30 26h1M66 11h1M28 25h1M78 19h1M80 54h1M36 19h1M34 34h1M76 19h1M38 20h1M83 20h1M55 22h1M26 19h1M54 26h1M41 11h1M35 25h1M46 13h1M82 33h1M31 11h1M49 19h1M53 27h1M6 35h1M37 24h1M72 11h1M80 51h1M22 18h1M7 29h1M46 13h1M8 54h1M11 36h1M28 37h1M54 24h1M53 18h1M63 22h1M6 55h1M40 27h1M30 22h1M14 32h1M18 15h1M59 21h1M18 26h1M64 24h1M7 30h1M28 21h1M28 28h1M38 32h1M5 24h1M34 12h1M36 10h1M59 21h1M40 22h1M63 25h1M38 15h1M35 30h1M73 16h1M65 24h1M12 54h1M10 23h1M22 16h1M84 41h1M25 25h1M53 22h1M35 23h1M48 13h1M35 17h1M9 41h1M8 14h1M75 48h1M30 37h1M34 23h1M23 13h1M67 15h1M22 22h1M7 30h1M31 32h1M83 33h1M48 25h1M62 10h1M17 20h1M30 24h1M52 17h1M35 35h1M3 37h1M76 38h1M10 25h1M51 23h1M37 24h1M58 21h1M50 26h1M29 26h1M80 59h1M43 19h1M35 23h1M67 21h1M49 15h1M44 28h1M19 22h1M4 23h1M85 21h1M46 27h1M48 31h1M73 18h1M53 30h1M81 19h1M57 24h1M45 10h1M86 46h1M13 41h1M40 32h1M25 26h1M29 18h1M61 24h1M28 27h1M72 16h1M37 23h1M28 23h1M52 21h1M28 22h1M38 20h1M71 24h1M36 34h1M56 27h1M70 26h1M42 16h1M58 23h1M6 23h1M33 21h1M74 39h1M38 29h1M66 21h1M84 22h1M5 35h1M41 29h1M46 23h1M53 24h1M42 28h1M44 19h1M4 37h1M76 25h1M54 26h1M14 26h1M18 32h1M32 22h1M14 20h1M0 35h1M39 23h1M42 23h1M8 39h1M78 27h1M51 26h1M24 27h1M19 22h1M83 38h1M45 16h1M29 24h1M35 30h1M83 42h1M28 23h1M48 24h1M79 12h1M58 15h1M29 28h1M71 38h1M36 27h1M86 14h1M42 28h1M48 19h1M34 26h1M7 27h1M60 22h1M60 16h1M52 14h1M37 23h1M32 27h1M33 15h1M54 27h1M60 16h1M62 21h1M32 32h1M31 32h1M11 29h1M62 28h1M49 32h1M2 23h1M42 17h1M11 35h1M56 26h1M33 33h1M78 54h1M10 35h1M18 24h1M45 28h1M73 20h1M8 21h1M21 19h1M80 27h1M80 32h1M52 24h1M85 49h1M31 17h1M21 26h1M82 40h1M30 28h1M80 27h1" stroke="#333" stroke-width="1" stroke-opacity="0.7" shape-rendering="crispEdges"/>
</g></g>
<rect x="428.20" y="26.00" width="86.80" height="86.70" fill="none" stroke="#111" stroke-width="1.2"/>
<line x1="427.60" y1="113.10" x2="515.60" y2="113.10" stroke="#111" stroke-width="1.0"/>
<line x1="456.20" y1="26.00" x2="456.20" y2="112.70" stroke="#111" stroke-width="1.0"/>
<line x1="428.20" y1="89.50" x2="515.00" y2="89.50" stroke="#111" stroke-width="1.0"/>
<path d="M428.2 112.7h-2.0M428.2 112.7v2.0M428.2 106.2h-1.2M434.7 112.7v1.2M428.2 102.3h-1.2M438.6 112.7v1.2M428.2 99.6h-1.2M441.3 112.7v1.2M428.2 97.5h-1.2M443.4 112.7v1.2M428.2 95.8h-1.2M445.1 112.7v1.2M428.2 94.4h-1.2M446.5 112.7v1.2M428.2 93.1h-1.2M447.8 112.7v1.2M428.2 92.0h-1.2M448.9 112.7v1.2M428.2 91.0h-2.0M449.9 112.7v2.0M428.2 84.5h-1.2M456.4 112.7v1.2M428.2 80.6h-1.2M460.3 112.7v1.2M428.2 77.9h-1.2M463.0 112.7v1.2M428.2 75.8h-1.2M465.1 112.7v1.2M428.2 74.1h-1.2M466.8 112.7v1.2M428.2 72.7h-1.2M468.2 112.7v1.2M428.2 71.4h-1.2M469.5 112.7v1.2M428.2 70.3h-1.2M470.6 112.7v1.2M428.2 69.3h-2.0M471.6 112.7v2.0M428.2 62.8h-1.2M478.1 112.7v1.2M428.2 58.9h-1.2M482.0 112.7v1.2M428.2 56.2h-1.2M484.7 112.7v1.2M428.2 54.1h-1.2M486.8 112.7v1.2M428.2 52.4h-1.2M488.5 112.7v1.2M428.2 51.0h-1.2M489.9 112.7v1.2M428.2 49.7h-1.2M491.2 112.7v1.2M428.2 48.6h-1.2M492.3 112.7v1.2M428.2 47.6h-2.0M493.3 112.7v2.0M428.2 41.1h-1.2M499.8 112.7v1.2M428.2 37.2h-1.2M503.7 112.7v1.2M428.2 34.5h-1.2M506.4 112.7v1.2M428.2 32.4h-1.2M508.5 112.7v1.2M428.2 30.7h-1.2M510.2 112.7v1.2M428.2 29.3h-1.2M511.6 112.7v1.2M428.2 28.0h-1.2M512.9 112.7v1.2M428.2 26.9h-1.2M514.0 112.7v1.2M428.2 26.0h-2M515.0 112.7v2" stroke="#333" stroke-width=".7"/>
<text x="427.00" y="123.10" font-size="6.4" text-anchor="middle" fill="#333" stroke="#333" stroke-width="0.22">10</text>
<text x="429.80" y="119.50" font-size="3.8" fill="#333" stroke="#333" stroke-width="0.22">0</text>
<text x="448.70" y="123.10" font-size="6.4" text-anchor="middle" fill="#333" stroke="#333" stroke-width="0.22">10</text>
<text x="451.50" y="119.50" font-size="3.8" fill="#333" stroke="#333" stroke-width="0.22">1</text>
<text x="470.40" y="123.10" font-size="6.4" text-anchor="middle" fill="#333" stroke="#333" stroke-width="0.22">10</text>
<text x="473.20" y="119.50" font-size="3.8" fill="#333" stroke="#333" stroke-width="0.22">2</text>
<text x="492.10" y="123.10" font-size="6.4" text-anchor="middle" fill="#333" stroke="#333" stroke-width="0.22">10</text>
<text x="494.90" y="119.50" font-size="3.8" fill="#333" stroke="#333" stroke-width="0.22">3</text>
<text x="513.80" y="123.10" font-size="6.4" text-anchor="middle" fill="#333" stroke="#333" stroke-width="0.22">10</text>
<text x="516.60" y="119.50" font-size="3.8" fill="#333" stroke="#333" stroke-width="0.22">4</text>
<text x="429.48" y="41.20" font-size="18.6" stroke="#000" stroke-width="0.22" textLength="19.25" lengthAdjust="spacingAndGlyphs">11</text>
<text x="494.04" y="41.20" font-size="18.33" stroke="#000" stroke-width="0.22" textLength="18.96" lengthAdjust="spacingAndGlyphs">24</text>
<text x="494.53" y="111.30" font-size="18.17" stroke="#000" stroke-width="0.22" textLength="18.79" lengthAdjust="spacingAndGlyphs">11</text>
<clipPath id="cp6"><rect x="63.60" y="126.20" width="86.20" height="86.70"/></clipPath>
<g clip-path="url(#cp6)"><g transform="translate(63.60 126.20)">
<path d="M8.8 82.8 7.6 82.9 6.4 82.9 5.6 82.8 4.4 82.5 3.6 82.2 2.8 81.9 2.0 81.5 1.2 81.0 0.4 80.5 -0.0 80.0 -0.1 78.8 -0.2 77.6 -0.2 76.4 -0.3 75.2 -0.3 74.0 -0.3 72.8 -0.3 71.6 -0.3 70.4 -0.3 69.2 -0.3 68.0 -0.3 66.8 -0.3 65.6 -0.3 64.4 -0.3 63.2 -0.2 62.0 -0.2 60.8 -0.2 59.6 -0.1 58.4 -0.1 57.2 -0.1 56.0 -0.1 54.8 -0.1 53.6 -0.1 52.4 -0.1 51.2 -0.1 50.0 -0.1 48.8 -0.1 47.6 -0.1 46.4 -0.1 45.2 -0.1 44.0 -0.1 42.8 -0.1 41.6 -0.0 40.4 0.1 39.6 0.4 38.6 0.8 37.6 1.1 36.8 1.6 36.0 2.0 35.3 2.4 34.7 3.0 34.0 3.6 33.4 4.4 32.8 5.1 32.4 6.0 32.0 6.8 31.8 8.0 31.8 9.2 32.0 10.0 32.2 10.8 32.7 11.6 33.2 12.1 33.6 12.8 34.4 13.2 34.9 13.7 35.6 14.1 36.4 14.5 37.2 14.8 38.0 15.2 39.1 15.4 40.0 15.6 40.9 15.8 42.0 15.9 43.2 15.9 44.4 15.9 45.6 15.9 46.8 15.8 48.0 15.8 49.2 15.7 50.4 15.6 51.4 15.5 52.4 15.5 53.6 15.5 54.8 15.6 56.0 15.7 56.8 15.9 58.0 16.2 58.8 16.4 59.6 16.8 60.4 17.2 61.3 17.6 62.2 18.0 63.0 18.4 64.0 18.7 64.8 19.0 65.6 19.2 66.5 19.4 67.6 19.6 68.8 19.6 69.6 19.6 70.4 19.5 71.6 19.3 72.8 19.1 73.6 18.8 74.6 18.4 75.6 18.0 76.4 17.6 77.1 17.2 77.7 16.7 78.4 16.0 79.2 15.6 79.6 14.8 80.3 14.1 80.8 13.5 81.2 12.8 81.6 12.0 82.0 10.9 82.4 10.0 82.6 9.2 82.8Z" stroke="#1a1a1a" stroke-width="1.1" fill="#000" fill-opacity="0.02"/>
<path d="M8.4 81.6 7.2 81.6 6.4 81.6 5.2 81.4 4.4 81.2 3.4 80.8 2.6 80.4 1.9 80.0 1.2 79.5 0.4 78.8 -0.0 78.4 -0.1 77.2 -0.2 76.0 -0.2 74.8 -0.2 73.6 -0.2 72.4 -0.3 71.2 -0.3 70.0 -0.3 68.8 -0.2 67.6 -0.2 66.4 -0.2 65.2 -0.2 64.0 -0.2 62.8 -0.1 61.6 -0.1 60.4 -0.0 59.2 0.1 58.4 0.4 57.2 0.5 56.4 0.6 55.2 0.6 54.0 0.6 52.8 0.5 51.6 0.5 50.4 0.4 49.2 0.4 48.4 0.4 47.2 0.4 46.0 0.4 44.8 0.4 44.0 0.6 42.8 0.7 41.6 0.9 40.8 1.2 39.7 1.5 38.8 1.8 38.0 2.2 37.2 2.7 36.4 3.2 35.7 3.7 35.2 4.4 34.5 5.2 34.0 6.0 33.6 6.8 33.4 8.0 33.3 9.2 33.5 10.0 33.9 10.8 34.3 11.4 34.8 12.0 35.4 12.5 36.0 13.0 36.8 13.4 37.6 13.8 38.4 14.1 39.2 14.4 40.3 14.6 41.2 14.8 42.4 14.9 43.2 14.9 44.4 14.9 45.6 14.9 46.8 14.8 48.0 14.8 48.8 14.7 50.0 14.6 51.2 14.5 52.4 14.5 53.6 14.4 54.8 14.5 56.0 14.6 57.2 14.8 58.2 15.1 59.2 15.4 60.0 15.7 60.8 16.1 61.6 16.4 62.4 16.8 63.2 17.2 64.1 17.6 65.2 17.9 66.0 18.1 66.8 18.3 68.0 18.4 69.2 18.4 70.0 18.4 70.8 18.2 72.0 18.0 73.1 17.7 74.0 17.4 74.8 17.0 75.6 16.6 76.4 16.0 77.2 15.6 77.8 15.0 78.4 14.4 79.0 13.6 79.6 13.1 80.0 12.4 80.4 11.6 80.8 10.5 81.2 9.6 81.4 8.4 81.6Z" stroke="#444" stroke-width="0.6" fill="#000" fill-opacity="0.02"/>
<path d="M8.8 80.4 7.6 80.5 6.4 80.4 5.6 80.3 4.5 80.0 3.6 79.6 2.8 79.2 2.1 78.8 1.6 78.4 0.8 77.7 0.3 77.2 -0.0 76.4 -0.1 75.2 -0.1 74.0 -0.2 72.8 -0.2 71.6 -0.2 70.4 -0.2 69.2 -0.2 68.0 -0.2 66.8 -0.2 65.6 -0.1 64.4 -0.1 63.2 -0.0 62.0 0.2 61.2 0.6 60.4 0.9 59.6 1.2 58.4 1.4 57.6 1.5 56.4 1.6 55.2 1.6 54.0 1.5 52.8 1.5 51.6 1.4 50.4 1.3 49.2 1.3 48.0 1.3 46.8 1.3 45.6 1.3 44.4 1.4 43.2 1.6 42.2 1.8 41.2 2.0 40.4 2.4 39.3 2.8 38.4 3.2 37.7 3.6 37.1 4.2 36.4 4.8 35.9 5.6 35.3 6.4 35.0 7.2 34.8 8.3 34.8 9.2 35.0 10.0 35.4 10.8 36.0 11.2 36.4 11.9 37.2 12.4 38.0 12.8 38.8 13.1 39.6 13.4 40.4 13.6 41.2 13.8 42.4 13.9 43.6 14.0 44.5 14.0 45.6 14.0 46.5 14.0 47.6 13.9 48.8 13.8 50.0 13.7 51.2 13.6 52.1 13.5 53.2 13.5 54.4 13.5 55.6 13.5 56.8 13.6 57.6 13.9 58.8 14.1 59.6 14.4 60.4 14.8 61.3 15.2 62.2 15.6 63.1 16.0 63.9 16.4 64.8 16.6 65.6 16.9 66.4 17.2 67.6 17.3 68.4 17.4 69.6 17.3 70.8 17.2 71.7 17.0 72.8 16.7 73.6 16.4 74.4 16.0 75.3 15.6 76.0 15.0 76.8 14.4 77.5 13.8 78.0 13.2 78.5 12.4 79.1 11.6 79.5 10.8 79.9 10.0 80.2 8.8 80.4Z" stroke="#555" stroke-width="0.55" fill="#000" fill-opacity="0.02"/>
<path d="M8.4 79.2 7.2 79.3 6.2 79.2 5.2 79.0 4.4 78.7 3.6 78.3 2.8 77.8 2.0 77.2 1.5 76.8 0.8 76.0 0.4 75.4 0.0 74.8 -0.1 73.6 -0.1 72.4 -0.1 71.2 -0.1 70.0 -0.1 68.8 -0.1 67.6 -0.1 66.4 -0.0 65.2 0.0 64.3 0.4 63.4 0.8 62.6 1.2 61.8 1.6 60.9 1.9 60.0 2.2 59.2 2.4 58.4 2.6 57.2 2.7 56.0 2.7 54.8 2.6 53.6 2.5 52.4 2.5 51.2 2.4 50.2 2.3 49.2 2.3 48.0 2.3 46.8 2.3 45.6 2.3 44.4 2.4 43.6 2.6 42.4 2.8 41.6 3.2 40.4 3.5 39.6 4.0 38.8 4.4 38.2 4.9 37.6 5.6 37.1 6.4 36.6 7.2 36.4 8.2 36.4 9.2 36.7 10.0 37.2 10.5 37.6 11.2 38.4 11.6 39.1 12.0 39.9 12.4 40.8 12.6 41.6 12.8 42.7 12.9 43.6 13.0 44.8 13.0 46.0 13.0 47.2 12.9 48.4 12.8 49.5 12.7 50.4 12.6 51.6 12.5 52.8 12.4 54.0 12.4 54.8 12.3 56.0 12.4 57.1 12.5 58.0 12.8 59.2 13.0 60.0 13.3 60.8 13.7 61.6 14.1 62.4 14.5 63.2 14.8 64.0 15.2 64.9 15.6 65.9 15.9 66.8 16.0 67.6 16.2 68.8 16.3 70.0 16.2 71.2 16.0 72.1 15.7 73.2 15.4 74.0 14.9 74.8 14.4 75.6 14.0 76.2 13.4 76.8 12.8 77.4 12.0 77.9 11.2 78.4 10.4 78.8 9.6 79.0 8.7 79.2Z" stroke="#555" stroke-width="0.55" fill="#000" fill-opacity="0.02"/>
<path d="M8.8 78.0 7.6 78.2 6.4 78.1 5.6 77.9 4.7 77.6 3.9 77.2 3.2 76.8 2.4 76.1 1.9 75.6 1.3 74.8 0.8 74.0 0.4 73.2 0.1 72.4 -0.0 71.6 -0.0 70.4 -0.0 69.2 -0.0 68.0 0.1 67.2 0.4 66.0 0.7 65.2 1.1 64.4 1.5 63.6 1.9 62.8 2.3 62.0 2.7 61.2 3.0 60.4 3.3 59.6 3.6 58.5 3.7 57.6 3.8 56.4 3.8 55.2 3.7 54.0 3.6 52.8 3.6 52.0 3.5 50.8 3.4 49.6 3.3 48.4 3.3 47.2 3.3 46.0 3.3 44.8 3.5 43.6 3.6 42.8 4.0 41.6 4.3 40.8 4.7 40.0 5.2 39.3 5.7 38.8 6.4 38.3 7.6 38.0 8.8 38.2 9.6 38.7 10.1 39.2 10.7 40.0 11.1 40.8 11.4 41.6 11.7 42.4 11.9 43.6 12.0 44.8 12.0 45.6 12.0 46.5 11.9 47.6 11.9 48.8 11.7 50.0 11.6 51.2 11.5 52.0 11.4 53.2 11.3 54.4 11.2 55.2 11.2 56.4 11.2 57.2 11.4 58.4 11.6 59.4 12.0 60.4 12.3 61.2 12.7 62.0 13.1 62.8 13.5 63.6 13.9 64.4 14.2 65.2 14.6 66.0 14.8 66.8 15.1 68.0 15.2 69.1 15.2 70.0 15.2 70.8 14.9 72.0 14.7 72.8 14.4 73.6 13.9 74.4 13.4 75.2 12.8 75.9 12.2 76.4 11.6 76.9 10.8 77.4 10.0 77.7 9.0 78.0Z" stroke="#555" stroke-width="0.55" fill="#000" fill-opacity="0.025"/>
<path d="M8.8 76.8 7.6 77.0 6.4 76.9 5.6 76.7 4.8 76.3 4.0 75.9 3.2 75.3 2.8 74.8 2.1 74.0 1.7 73.2 1.3 72.4 1.1 71.6 0.9 70.4 0.9 69.2 1.0 68.0 1.2 67.1 1.6 66.0 1.9 65.2 2.3 64.4 2.7 63.6 3.2 62.8 3.6 62.1 4.0 61.4 4.4 60.6 4.8 59.8 5.2 58.8 5.4 58.0 5.5 56.8 5.4 55.6 5.3 54.4 5.2 53.6 5.0 52.4 4.8 51.2 4.7 50.4 4.6 49.2 4.5 48.0 4.5 46.8 4.5 45.6 4.6 44.4 4.8 43.5 5.1 42.4 5.5 41.6 6.0 40.9 6.7 40.4 7.6 40.1 8.8 40.4 9.3 40.8 9.9 41.6 10.2 42.4 10.5 43.2 10.7 44.4 10.8 45.6 10.8 46.0 10.8 47.2 10.7 48.4 10.5 49.6 10.4 50.5 10.2 51.6 10.0 52.8 9.9 53.6 9.7 54.8 9.6 55.6 9.5 56.8 9.6 57.8 9.8 58.8 10.1 59.6 10.4 60.4 10.9 61.2 11.3 62.0 11.8 62.8 12.2 63.6 12.7 64.4 13.1 65.2 13.4 66.0 13.7 66.8 14.0 68.0 14.1 68.8 14.1 70.0 14.0 71.0 13.8 72.0 13.5 72.8 13.1 73.6 12.5 74.4 12.0 75.0 11.4 75.6 10.8 76.0 10.0 76.4 8.8 76.8Z" stroke="#555" stroke-width="0.55" fill="#000" fill-opacity="0.03"/>
<path d="M7.6 51.0 6.9 50.4 6.6 49.6 6.4 48.8 6.2 47.6 6.1 46.4 6.3 45.2 6.5 44.4 6.9 43.6 7.6 43.2 8.4 43.6 8.8 44.3 9.0 45.2 9.1 46.4 9.0 47.6 8.8 48.8 8.6 49.6 8.2 50.4 7.6 51.0ZM8.4 75.6 7.2 75.7 6.4 75.6 5.2 75.2 4.6 74.8 4.0 74.4 3.3 73.6 2.8 72.9 2.4 72.0 2.1 71.2 2.0 70.3 2.0 69.2 2.0 68.4 2.3 67.2 2.6 66.4 3.0 65.6 3.4 64.8 3.9 64.0 4.4 63.3 4.8 62.8 5.5 62.0 6.0 61.4 6.8 60.9 7.6 60.7 8.4 61.0 9.1 61.6 9.6 62.1 10.2 62.8 10.8 63.6 11.2 64.2 11.6 64.8 12.0 65.6 12.4 66.5 12.8 67.6 12.9 68.4 13.0 69.6 12.9 70.8 12.7 71.6 12.4 72.4 12.0 73.2 11.3 74.0 10.8 74.5 10.0 75.1 9.2 75.4 8.4 75.6Z" stroke="#2a2a2a" stroke-width="0.9" fill="#000" fill-opacity="0.12"/>
<path d="M8.8 74.5 7.6 74.7 6.4 74.6 5.6 74.3 4.8 73.7 4.2 73.2 3.6 72.4 3.2 71.6 3.0 70.8 2.9 69.6 3.0 68.4 3.2 67.4 3.6 66.4 4.0 65.7 4.4 65.0 4.9 64.4 5.6 63.7 6.3 63.2 7.2 62.8 8.4 63.0 9.2 63.5 9.7 64.0 10.4 64.8 10.8 65.4 11.2 66.1 11.6 67.0 11.9 68.0 12.1 68.8 12.1 70.0 12.0 70.8 11.6 71.9 11.2 72.6 10.7 73.2 10.0 73.9 9.2 74.3Z" stroke="#444" stroke-width="0.6" fill="#000" fill-opacity="0.1"/>
<path d="M7.6 73.6 6.8 73.5 5.9 73.2 5.2 72.7 4.6 72.0 4.2 71.2 3.9 70.4 3.8 69.2 4.0 68.2 4.3 67.2 4.7 66.4 5.2 65.8 5.8 65.2 6.4 64.8 7.6 64.5 8.6 64.8 9.2 65.2 9.9 66.0 10.4 66.7 10.8 67.6 11.0 68.4 11.1 69.6 10.9 70.8 10.6 71.6 10.1 72.4 9.6 72.8 8.8 73.3 7.6 73.6Z" stroke="#444" stroke-width="0.6" fill="#000" fill-opacity="0.08"/>
<path d="M8.4 72.1 7.2 72.3 6.4 72.0 5.6 71.3 5.2 70.6 5.0 69.6 5.1 68.4 5.4 67.6 6.0 66.8 6.5 66.4 7.6 66.1 8.4 66.4 9.2 67.1 9.6 67.7 9.9 68.8 9.9 70.0 9.6 70.9 9.1 71.6 8.4 72.1Z" stroke="#555" stroke-width="0.55" fill="#000" fill-opacity="0.05"/>
<path d="M8.4 70.8 7.2 71.2 6.4 70.7 6.0 69.9 6.0 68.8 6.4 68.0 6.8 67.6 8.0 67.5 8.6 68.0 9.0 68.8 8.9 70.0 8.5 70.8Z" stroke="#666" stroke-width="0.5" fill="#000" fill-opacity="0.0"/>
<path d="M8.0 79.2 6.8 79.2 6.0 79.1 4.9 78.8 4.0 78.5 3.2 78.0 2.6 77.6 2.0 77.1 1.2 76.4 0.8 75.9 0.3 75.2 -0.0 74.4 -0.1 73.2 -0.1 72.0 -0.1 70.8 -0.1 69.6 -0.1 68.4 -0.1 67.2 -0.0 66.0 0.0 65.2 0.5 64.4 1.2 63.6 1.6 63.1 2.4 62.4 3.0 62.0 3.7 61.6 4.6 61.2 5.6 60.9 6.4 60.7 7.6 60.7 8.8 60.8 9.6 61.0 10.4 61.2 11.2 61.6 12.0 62.0 12.8 62.6 13.4 63.2 14.0 63.8 14.4 64.4 14.9 65.2 15.3 66.0 15.6 66.8 16.0 68.0 16.1 68.8 16.2 70.0 16.1 71.2 15.9 72.0 15.6 73.2 15.3 74.0 14.9 74.8 14.4 75.6 14.0 76.1 13.3 76.8 12.8 77.3 12.0 77.9 11.2 78.3 10.4 78.7 9.6 79.0 8.4 79.2Z" fill="#000" fill-opacity="0.18"/>
<path d="M8.4 64.1 7.2 64.2 6.4 64.0 5.6 63.6 4.8 62.8 4.4 62.4 3.9 61.6 3.5 60.8 3.1 60.0 2.8 59.2 2.4 58.0 2.2 57.2 2.0 56.2 1.8 55.2 1.7 54.0 1.6 53.2 1.4 52.0 1.3 50.8 1.3 49.6 1.2 48.4 1.2 47.6 1.2 46.4 1.2 45.2 1.2 44.4 1.3 43.2 1.5 42.0 1.7 41.2 2.0 40.1 2.3 39.2 2.7 38.4 3.1 37.6 3.6 36.9 4.0 36.4 4.8 35.7 5.5 35.2 6.4 34.8 7.2 34.6 8.4 34.6 9.2 34.8 10.0 35.2 10.8 35.8 11.4 36.4 12.0 37.1 12.4 37.7 12.8 38.5 13.2 39.4 13.5 40.4 13.7 41.2 13.9 42.4 14.0 43.2 14.1 44.4 14.1 45.6 14.1 46.8 14.0 48.0 14.0 48.8 13.9 50.0 13.7 51.2 13.6 52.3 13.5 53.2 13.3 54.4 13.2 55.2 13.0 56.4 12.8 57.2 12.4 58.4 12.2 59.2 11.9 60.0 11.5 60.8 11.1 61.6 10.5 62.4 10.0 63.0 9.3 63.6 8.5 64.0Z" fill="#000" fill-opacity="0.12"/>
<path d="M10 31h1M13 33h1M0 82h1M17 48h1M15 36h1M19 77h1M5 83h1M14 33h1M13 83h1M16 47h1M18 55h1M18 77h1M9 85h1M17 38h1M8 29h1M22 66h1M17 59h1M10 84h1M17 48h1M13 34h1M21 71h1M13 33h1M21 67h1M18 44h1M18 54h1M15 37h1M3 83h1M17 40h1M19 73h1M14 82h1M11 31h1M17 40h1M1 36h1M4 84h1M21 69h1M1 34h1M17 79h1M0 39h1M16 51h1M16 43h1M18 45h1M22 68h1M13 84h1M0 80h1M9 86h1M16 49h1M18 56h1M10 32h1M14 34h1M17 60h1M17 51h1M17 38h1M19 77h1M4 31h1M16 41h1M15 33h1M20 73h1M17 51h1M21 67h1M16 43h1M17 80h1M2 84h1M13 84h1M17 46h1M17 39h1M6 84h1M0 36h1M19 75h1M1 81h1M6 85h1M17 61h1M17 61h1M2 84h1M2 83h1M18 61h1M16 54h1M2 34h1M1 37h1M16 41h1M14 37h1M20 62h1M16 54h1M11 30h1M16 47h1M1 82h1M18 59h1M13 34h1M17 51h1M16 53h1M20 75h1M12 82h1M4 30h1M16 54h1M17 52h1M16 81h1M16 53h1M0 35h1M17 58h1M17 49h1M22 72h1M20 74h1M18 61h1M13 33h1M18 61h1M6 31h1M20 63h1M19 76h1M7 85h1M6 31h1M22 69h1M7 84h1M16 80h1M18 55h1M16 43h1M9 30h1M21 69h1M17 53h1M16 57h1M6 29h1M17 60h1M17 44h1M19 75h1M14 32h1M20 61h1M12 32h1M8 83h1M8 84h1M17 38h1M20 67h1M1 83h1M17 49h1M17 60h1M13 35h1M3 83h1M21 63h1M20 73h1M5 32h1M20 69h1M16 53h1M17 41h1M7 31h1M6 84h1M7 84h1M20 68h1M5 83h1M18 77h1M21 75h1M7 85h1M15 35h1M16 55h1M19 76h1M5 86h1M19 64h1M15 38h1M17 42h1M8 86h1M17 80h1M5 83h1M1 37h1M21 72h1M16 45h1M20 70h1M17 54h1M14 84h1M17 80h1M10 29h1M17 47h1M17 55h1M2 33h1M5 85h1M4 33h1M21 72h1M10 30h1M1 81h1M21 64h1M8 84h1M5 83h1M15 83h1M7 30h1M14 83h1M17 53h1M17 80h1M3 34h1M14 83h1M13 82h1M4 84h1M21 72h1M19 65h1M2 33h1M11 30h1M19 61h1M7 32h1M17 56h1M12 83h1M20 76h1M19 79h1M18 77h1M5 85h1M18 47h1M12 34h1M18 43h1M15 37h1M1 34h1M11 83h1M20 76h1M14 34h1M21 67h1M6 84h1M18 47h1M14 83h1M17 79h1M20 75h1M14 84h1M8 85h1M13 82h1M16 40h1M7 83h1M0 35h1M4 83h1M14 33h1M18 59h1M17 39h1M19 61h1M21 68h1M6 83h1M18 61h1M10 84h1M17 79h1M9 84h1M13 83h1M1 83h1M9 85h1M16 46h1M17 45h1M0 81h1M0 36h1M21 71h1M20 68h1M17 79h1M20 75h1M19 64h1M1 38h1M20 75h1M18 77h1M6 32h1M18 78h1M7 84h1M19 64h1M3 31h1M16 39h1M20 77h1M9 31h1M16 46h1M12 84h1M18 61h1M17 55h1M20 69h1M15 35h1M10 32h1M19 66h1M5 30h1M22 67h1M17 48h1M2 33h1M12 34h1M17 59h1M15 38h1M16 40h1M17 46h1M15 81h1M18 60h1M18 49h1M5 83h1M16 37h1M19 78h1M18 60h1M22 68h1M11 32h1M13 82h1M17 82h1M16 46h1M20 64h1M15 83h1M11 84h1M20 77h1M17 79h1M16 47h1M22 68h1M16 54h1M3 33h1M16 35h1M16 38h1M10 84h1M10 84h1M4 32h1M16 51h1M16 82h1M16 51h1M6 83h1M20 67h1M22 82h1M19 57h1M17 87h1M24 67h1M23 68h1M12 23h1M10 86h1M22 71h1M19 53h1M15 84h1M28 64h1M21 52h1M19 58h1M7 86h1M4 24h1M23 75h1M24 71h1M19 41h1M15 30h1M23 65h1M21 33h1M18 55h1M16 27h1M23 76h1M15 84h1M25 65h1M20 35h1M22 52h1M19 52h1M11 26h1M19 57h1M20 48h1M20 47h1M22 57h1M23 70h1M22 68h1M26 52h1M1 86h1M18 49h1M18 83h1" stroke="#222" stroke-width="1" stroke-opacity="0.75" shape-rendering="crispEdges"/>
<path d="M11 31h1M16 44h1M36 37h1M50 39h1M21 50h1M49 61h1M44 36h1M50 46h1M72 50h1M38 36h1M34 46h1M43 20h1M42 36h1M40 55h1M29 48h1M49 39h1M37 39h1M74 42h1M59 23h1M45 68h1M18 24h1M37 53h1M42 46h1M51 33h1M36 43h1M53 58h1M45 37h1M59 40h1M38 65h1M52 58h1M52 22h1M48 35h1M36 38h1M55 45h1M34 31h1M37 45h1M49 48h1M57 62h1M45 34h1M57 41h1M51 58h1M48 42h1M49 51h1M21 42h1M30 40h1M53 24h1M49 38h1M78 42h1M38 38h1M28 34h1M36 39h1M44 61h1M26 36h1M38 30h1M21 48h1M57 45h1M52 45h1M46 44h1M49 51h1M44 41h1M57 40h1M57 55h1M52 45h1M33 51h1M41 56h1M42 45h1M48 46h1M68 38h1M44 42h1M49 37h1M47 44h1M35 36h1M47 39h1M39 54h1M29 41h1M44 40h1M40 36h1M38 50h1M53 58h1M65 47h1M46 44h1M35 42h1M51 63h1M47 43h1M30 52h1M41 29h1M40 42h1M35 41h1M46 39h1M34 54h1M44 31h1M50 56h1M44 22h1M48 36h1M32 51h1M43 49h1M39 45h1M49 56h1M39 39h1M54 49h1M42 35h1M33 49h1M44 39h1M35 46h1M38 50h1M31 45h1M59 48h1M57 38h1M51 62h1M54 49h1M41 16h1M33 56h1M42 41h1M49 35h1M44 48h1M60 59h1M44 53h1M52 39h1M59 32h1M52 42h1M45 40h1M40 51h1M63 55h1M53 51h1M55 38h1M41 47h1M31 42h1M51 53h1M49 43h1M31 37h1M35 46h1M75 34h1M57 34h1M25 45h1M35 37h1M48 40h1M57 31h1M18 38h1M47 39h1M47 60h1M47 54h1M53 31h1M45 43h1M45 54h1M24 38h1M52 45h1M44 48h1M48 66h1M39 67h1M43 73h1M40 74h1M48 72h1M27 71h1M46 67h1M49 76h1M24 74h1M28 76h1M37 66h1M62 63h1M58 80h1M50 69h1M58 70h1M31 76h1M48 68h1M55 71h1M31 58h1M30 73h1M38 83h1M47 73h1M56 74h1M66 74h1M44 68h1M47 71h1M36 64h1M43 74h1M49 79h1M53 75h1M51 76h1" stroke="#555" stroke-width="1" stroke-opacity="0.75" shape-rendering="crispEdges"/>
</g></g>
<rect x="63.60" y="126.20" width="86.20" height="86.70" fill="none" stroke="#111" stroke-width="1.2"/>
<line x1="63.00" y1="213.30" x2="150.40" y2="213.30" stroke="#111" stroke-width="1.0"/>
<line x1="91.60" y1="126.20" x2="91.60" y2="212.90" stroke="#111" stroke-width="1.0"/>
<line x1="63.60" y1="189.70" x2="149.80" y2="189.70" stroke="#111" stroke-width="1.0"/>
<path d="M63.6 212.9h-2.0M63.6 212.9v2.0M63.6 206.4h-1.2M70.1 212.9v1.2M63.6 202.6h-1.2M73.9 212.9v1.2M63.6 199.9h-1.2M76.6 212.9v1.2M63.6 197.8h-1.2M78.7 212.9v1.2M63.6 196.1h-1.2M80.4 212.9v1.2M63.6 194.7h-1.2M81.8 212.9v1.2M63.6 193.4h-1.2M83.1 212.9v1.2M63.6 192.3h-1.2M84.2 212.9v1.2M63.6 191.3h-2.0M85.2 212.9v2.0M63.6 184.9h-1.2M91.6 212.9v1.2M63.6 181.1h-1.2M95.4 212.9v1.2M63.6 178.4h-1.2M98.1 212.9v1.2M63.6 176.3h-1.2M100.2 212.9v1.2M63.6 174.6h-1.2M101.9 212.9v1.2M63.6 173.1h-1.2M103.4 212.9v1.2M63.6 171.9h-1.2M104.6 212.9v1.2M63.6 170.8h-1.2M105.7 212.9v1.2M63.6 169.8h-2.0M106.7 212.9v2.0M63.6 163.3h-1.2M113.2 212.9v1.2M63.6 159.5h-1.2M117.0 212.9v1.2M63.6 156.8h-1.2M119.7 212.9v1.2M63.6 154.7h-1.2M121.8 212.9v1.2M63.6 153.0h-1.2M123.5 212.9v1.2M63.6 151.6h-1.2M124.9 212.9v1.2M63.6 150.3h-1.2M126.2 212.9v1.2M63.6 149.2h-1.2M127.3 212.9v1.2M63.6 148.2h-2.0M128.2 212.9v2.0M63.6 141.8h-1.2M134.7 212.9v1.2M63.6 138.0h-1.2M138.5 212.9v1.2M63.6 135.3h-1.2M141.2 212.9v1.2M63.6 133.2h-1.2M143.3 212.9v1.2M63.6 131.5h-1.2M145.0 212.9v1.2M63.6 130.0h-1.2M146.5 212.9v1.2M63.6 128.8h-1.2M147.7 212.9v1.2M63.6 127.7h-1.2M148.8 212.9v1.2M63.6 126.2h-2M149.8 212.9v2" stroke="#333" stroke-width=".7"/>
<text x="58.80" y="215.30" font-size="6.4" text-anchor="end" fill="#333" stroke="#333" stroke-width="0.22">10</text>
<text x="58.60" y="212.10" font-size="3.8" fill="#333" stroke="#333" stroke-width="0.22">0</text>
<text x="62.40" y="223.30" font-size="6.4" text-anchor="middle" fill="#333" stroke="#333" stroke-width="0.22">10</text>
<text x="65.20" y="219.70" font-size="3.8" fill="#333" stroke="#333" stroke-width="0.22">0</text>
<text x="58.80" y="193.75" font-size="6.4" text-anchor="end" fill="#333" stroke="#333" stroke-width="0.22">10</text>
<text x="58.60" y="190.55" font-size="3.8" fill="#333" stroke="#333" stroke-width="0.22">1</text>
<text x="83.95" y="223.30" font-size="6.4" text-anchor="middle" fill="#333" stroke="#333" stroke-width="0.22">10</text>
<text x="86.75" y="219.70" font-size="3.8" fill="#333" stroke="#333" stroke-width="0.22">1</text>
<text x="58.80" y="172.20" font-size="6.4" text-anchor="end" fill="#333" stroke="#333" stroke-width="0.22">10</text>
<text x="58.60" y="169.00" font-size="3.8" fill="#333" stroke="#333" stroke-width="0.22">2</text>
<text x="105.50" y="223.30" font-size="6.4" text-anchor="middle" fill="#333" stroke="#333" stroke-width="0.22">10</text>
<text x="108.30" y="219.70" font-size="3.8" fill="#333" stroke="#333" stroke-width="0.22">2</text>
<text x="58.80" y="150.65" font-size="6.4" text-anchor="end" fill="#333" stroke="#333" stroke-width="0.22">10</text>
<text x="58.60" y="147.45" font-size="3.8" fill="#333" stroke="#333" stroke-width="0.22">3</text>
<text x="127.05" y="223.30" font-size="6.4" text-anchor="middle" fill="#333" stroke="#333" stroke-width="0.22">10</text>
<text x="129.85" y="219.70" font-size="3.8" fill="#333" stroke="#333" stroke-width="0.22">3</text>
<text x="58.80" y="129.10" font-size="6.4" text-anchor="end" fill="#333" stroke="#333" stroke-width="0.22">10</text>
<text x="58.60" y="125.90" font-size="3.8" fill="#333" stroke="#333" stroke-width="0.22">4</text>
<text x="148.60" y="223.30" font-size="6.4" text-anchor="middle" fill="#333" stroke="#333" stroke-width="0.22">10</text>
<text x="151.40" y="219.70" font-size="3.8" fill="#333" stroke="#333" stroke-width="0.22">4</text>
<text x="65.35" y="141.22" font-size="18.08" stroke="#000" stroke-width="0.22" textLength="18.70" lengthAdjust="spacingAndGlyphs">29</text>
<text x="138.52" y="141.40" font-size="18.6" stroke="#000" stroke-width="0.22" textLength="9.62" lengthAdjust="spacingAndGlyphs">1</text>
<text x="138.81" y="211.33" font-size="17.66" stroke="#000" stroke-width="0.22" textLength="9.13" lengthAdjust="spacingAndGlyphs">0</text>
<ellipse cx="70.9" cy="196.3" rx="7.0" ry="7.3" fill="none" stroke="#1a1a1a" stroke-width="1.3"/>
<clipPath id="cp7"><rect x="154.00" y="126.20" width="87.00" height="86.70"/></clipPath>
<g clip-path="url(#cp7)"><g transform="translate(154.00 126.20)">
<path d="M10.8 82.8 9.6 82.9 8.4 82.9 7.6 82.8 6.4 82.5 5.6 82.2 4.8 81.9 4.0 81.5 3.2 81.0 2.4 80.5 1.8 80.0 1.2 79.4 0.6 78.8 0.0 78.0 -0.1 77.2 -0.1 76.0 -0.2 74.8 -0.2 73.6 -0.2 72.4 -0.2 71.2 -0.2 70.0 -0.2 68.8 -0.2 67.6 -0.2 66.4 -0.2 65.2 -0.2 64.0 -0.1 62.8 -0.1 61.6 -0.0 60.4 0.2 59.6 0.5 58.8 0.8 57.6 0.9 56.8 1.0 55.6 1.1 54.4 1.1 53.2 1.0 52.0 1.0 50.8 0.9 49.6 0.9 48.4 0.9 47.2 0.8 46.0 0.9 44.8 0.9 43.6 1.1 42.4 1.2 41.5 1.4 40.4 1.6 39.6 2.0 38.4 2.3 37.6 2.7 36.8 3.1 36.0 3.6 35.2 4.0 34.7 4.6 34.0 5.2 33.5 6.0 32.8 6.7 32.4 7.6 32.0 8.4 31.8 9.6 31.7 10.8 31.7 11.8 32.0 12.7 32.4 13.4 32.8 14.0 33.2 14.8 34.0 15.2 34.4 15.8 35.2 16.3 36.0 16.8 36.8 17.1 37.6 17.5 38.4 17.7 39.2 18.0 40.4 18.2 41.2 18.3 42.4 18.4 43.4 18.4 44.4 18.4 45.6 18.4 46.8 18.4 47.6 18.3 48.8 18.2 50.0 18.1 51.2 18.0 52.4 18.0 53.2 18.0 54.4 18.0 55.6 18.0 56.4 18.2 57.6 18.4 58.5 18.7 59.6 19.0 60.4 19.3 61.2 19.7 62.0 20.0 62.8 20.4 63.8 20.8 64.8 21.0 65.6 21.2 66.4 21.4 67.6 21.6 68.8 21.6 69.6 21.6 70.4 21.5 71.6 21.3 72.8 21.1 73.6 20.8 74.5 20.4 75.5 20.0 76.4 19.6 77.1 19.2 77.7 18.7 78.4 18.0 79.2 17.6 79.6 16.8 80.3 16.1 80.8 15.5 81.2 14.8 81.6 13.9 82.0 12.9 82.4 12.0 82.6 11.1 82.8Z" stroke="#1a1a1a" stroke-width="1.1" fill="#000" fill-opacity="0.02"/>
<path d="M10.0 81.6 8.8 81.6 8.0 81.5 6.8 81.3 6.0 81.0 5.2 80.7 4.4 80.3 3.6 79.8 2.8 79.2 2.4 78.8 1.6 78.0 1.2 77.6 0.6 76.8 0.1 76.0 -0.0 75.2 -0.1 74.0 -0.1 72.8 -0.1 71.6 -0.2 70.4 -0.2 69.2 -0.1 68.0 -0.1 66.8 -0.1 65.6 -0.1 64.4 0.0 63.3 0.4 62.4 0.7 61.6 1.0 60.8 1.3 60.0 1.6 59.2 1.9 58.0 2.0 57.2 2.1 56.0 2.1 54.8 2.1 53.6 2.1 52.4 2.0 51.2 2.0 50.3 1.9 49.2 1.9 48.0 1.9 46.8 1.9 45.6 1.9 44.4 2.0 43.6 2.1 42.4 2.3 41.2 2.5 40.4 2.8 39.5 3.2 38.5 3.6 37.6 4.0 36.9 4.4 36.3 4.9 35.6 5.6 34.9 6.2 34.4 6.8 34.0 7.6 33.6 8.8 33.3 9.6 33.2 10.4 33.2 11.6 33.5 12.4 33.9 13.2 34.4 13.7 34.8 14.4 35.5 14.9 36.0 15.4 36.8 15.8 37.6 16.2 38.4 16.5 39.2 16.8 40.1 17.1 41.2 17.2 42.1 17.3 43.2 17.4 44.4 17.4 45.6 17.4 46.8 17.3 48.0 17.2 49.2 17.2 50.0 17.1 51.2 17.0 52.4 16.9 53.6 16.9 54.8 16.9 56.0 17.0 57.2 17.2 58.4 17.4 59.2 17.6 60.0 18.0 61.0 18.4 62.0 18.7 62.8 19.1 63.6 19.4 64.4 19.7 65.2 20.0 66.4 20.2 67.2 20.4 68.4 20.4 69.2 20.4 70.4 20.3 71.2 20.2 72.4 20.0 73.2 19.6 74.3 19.2 75.2 18.8 76.0 18.4 76.7 18.0 77.3 17.4 78.0 16.8 78.6 16.1 79.2 15.6 79.6 14.8 80.2 14.0 80.6 13.2 80.9 12.4 81.2 11.2 81.5 10.4 81.6Z" stroke="#444" stroke-width="0.6" fill="#000" fill-opacity="0.02"/>
<path d="M10.4 80.4 9.2 80.5 8.2 80.4 7.2 80.2 6.4 80.0 5.5 79.6 4.8 79.2 4.0 78.7 3.2 78.1 2.7 77.6 2.0 76.8 1.6 76.3 1.2 75.6 0.7 74.8 0.4 74.0 0.0 72.8 -0.0 72.0 -0.0 70.8 -0.0 69.6 -0.0 68.4 -0.0 67.2 0.0 66.4 0.4 65.2 0.7 64.4 1.0 63.6 1.3 62.8 1.7 62.0 2.0 61.2 2.4 60.2 2.7 59.2 2.9 58.4 3.1 57.2 3.1 56.0 3.2 54.8 3.1 53.6 3.1 52.4 3.0 51.2 2.9 50.0 2.9 48.8 2.8 47.6 2.8 46.4 2.8 45.2 2.9 44.0 3.1 42.8 3.2 42.0 3.5 40.8 3.7 40.0 4.0 39.2 4.4 38.4 4.9 37.6 5.5 36.8 6.0 36.2 6.8 35.6 7.4 35.2 8.4 34.8 9.2 34.6 10.4 34.6 11.2 34.8 12.1 35.2 12.8 35.7 13.6 36.4 14.0 36.8 14.6 37.6 15.0 38.4 15.4 39.2 15.7 40.0 16.0 41.1 16.2 42.0 16.3 43.2 16.4 44.0 16.5 45.2 16.4 46.4 16.4 47.3 16.3 48.4 16.2 49.6 16.1 50.8 16.0 52.0 16.0 52.8 15.9 54.0 15.8 55.2 15.9 56.4 16.0 57.6 16.1 58.4 16.4 59.6 16.6 60.4 16.9 61.2 17.3 62.0 17.6 62.8 18.0 63.7 18.4 64.7 18.7 65.6 18.9 66.4 19.2 67.6 19.3 68.4 19.4 69.6 19.3 70.8 19.2 71.7 19.0 72.8 18.7 73.6 18.4 74.4 18.0 75.2 17.5 76.0 17.0 76.8 16.4 77.4 15.8 78.0 15.2 78.5 14.4 79.1 13.6 79.5 12.8 79.9 12.0 80.1 10.8 80.4Z" stroke="#555" stroke-width="0.55" fill="#000" fill-opacity="0.02"/>
<path d="M10.4 79.2 9.2 79.3 8.3 79.2 7.2 79.0 6.4 78.7 5.6 78.3 4.8 77.8 4.0 77.2 3.5 76.8 2.8 76.0 2.4 75.4 2.0 74.8 1.6 74.0 1.2 72.9 0.9 72.0 0.8 71.2 0.7 70.0 0.7 68.8 0.8 68.0 1.1 66.8 1.3 66.0 1.6 65.1 2.0 64.1 2.4 63.2 2.7 62.4 3.1 61.6 3.4 60.8 3.7 60.0 4.0 58.8 4.2 58.0 4.3 56.8 4.3 55.6 4.3 54.4 4.2 53.2 4.1 52.0 4.0 50.8 4.0 50.0 3.9 48.8 3.9 47.6 3.9 46.4 3.9 45.2 4.0 44.0 4.1 43.2 4.3 42.0 4.5 41.2 4.8 40.4 5.2 39.5 5.6 38.8 6.2 38.0 6.8 37.4 7.6 36.8 8.4 36.4 9.2 36.2 10.4 36.2 11.2 36.5 12.0 36.9 12.8 37.5 13.2 38.0 13.8 38.8 14.3 39.6 14.6 40.4 14.9 41.2 15.1 42.4 15.3 43.2 15.4 44.4 15.4 45.6 15.4 46.8 15.3 48.0 15.2 49.2 15.1 50.0 15.0 51.2 14.9 52.4 14.8 53.6 14.7 54.4 14.7 55.6 14.7 56.8 14.8 57.9 15.0 58.8 15.2 59.7 15.6 60.8 15.9 61.6 16.2 62.4 16.6 63.2 16.9 64.0 17.3 64.8 17.6 65.8 17.9 66.8 18.1 67.6 18.2 68.8 18.3 70.0 18.2 71.2 18.0 72.0 17.7 73.2 17.3 74.0 16.9 74.8 16.4 75.6 16.0 76.2 15.4 76.8 14.8 77.3 14.0 77.9 13.2 78.4 12.4 78.7 11.6 79.0 10.7 79.2Z" stroke="#555" stroke-width="0.55" fill="#000" fill-opacity="0.02"/>
<path d="M10.8 78.0 9.6 78.2 8.4 78.1 7.6 77.9 6.7 77.6 5.9 77.2 5.2 76.8 4.4 76.1 3.9 75.6 3.3 74.8 2.8 74.0 2.4 73.2 2.1 72.4 1.9 71.6 1.8 70.4 1.7 69.2 1.9 68.0 2.0 67.2 2.4 66.0 2.6 65.2 3.0 64.4 3.3 63.6 3.7 62.8 4.1 62.0 4.5 61.2 4.8 60.3 5.2 59.2 5.3 58.4 5.5 57.2 5.5 56.0 5.4 54.8 5.4 53.6 5.2 52.4 5.2 51.6 5.1 50.4 5.0 49.2 4.9 48.0 4.9 46.8 4.9 45.6 5.0 44.4 5.2 43.2 5.3 42.4 5.6 41.5 6.0 40.6 6.4 39.9 6.9 39.2 7.6 38.5 8.4 38.1 9.2 37.8 10.4 37.8 11.2 38.1 12.0 38.7 12.5 39.2 13.1 40.0 13.5 40.8 13.8 41.6 14.0 42.4 14.2 43.6 14.4 44.8 14.4 46.0 14.3 47.2 14.3 48.4 14.1 49.6 14.0 50.8 13.9 51.6 13.8 52.8 13.6 54.0 13.6 54.8 13.5 56.0 13.5 57.2 13.6 58.1 13.8 59.2 14.0 60.0 14.4 60.9 14.8 61.9 15.2 62.7 15.6 63.6 16.0 64.4 16.3 65.2 16.6 66.0 16.8 66.8 17.1 68.0 17.2 68.9 17.2 70.0 17.2 70.8 16.9 72.0 16.7 72.8 16.4 73.6 15.9 74.4 15.4 75.2 14.8 75.9 14.2 76.4 13.6 76.9 12.8 77.3 12.0 77.7 11.0 78.0Z" stroke="#555" stroke-width="0.55" fill="#000" fill-opacity="0.025"/>
<path d="M10.8 76.8 9.6 76.9 8.4 76.8 7.6 76.7 6.8 76.3 6.0 75.9 5.2 75.2 4.8 74.8 4.1 74.0 3.7 73.2 3.3 72.4 3.1 71.6 2.9 70.4 2.8 69.2 3.0 68.0 3.2 67.0 3.5 66.0 3.8 65.2 4.2 64.4 4.6 63.6 5.0 62.8 5.5 62.0 5.9 61.2 6.3 60.4 6.6 59.6 6.9 58.8 7.1 57.6 7.1 56.4 7.0 55.2 6.8 54.0 6.7 53.2 6.6 52.0 6.4 50.9 6.3 50.0 6.2 48.8 6.1 47.6 6.1 46.4 6.1 45.2 6.3 44.0 6.5 43.2 6.8 42.3 7.2 41.4 7.7 40.8 8.4 40.1 9.2 39.8 10.4 39.8 11.2 40.3 11.7 40.8 12.3 41.6 12.6 42.4 12.9 43.2 13.1 44.4 13.2 45.6 13.2 46.8 13.1 48.0 12.9 49.2 12.8 50.2 12.6 51.2 12.4 52.4 12.3 53.2 12.1 54.4 12.0 55.3 11.9 56.4 11.9 57.6 12.0 58.4 12.4 59.6 12.7 60.4 13.1 61.2 13.5 62.0 13.9 62.8 14.3 63.6 14.8 64.4 15.1 65.2 15.4 66.0 15.7 66.8 16.0 68.0 16.1 68.8 16.1 70.0 16.0 71.0 15.8 72.0 15.5 72.8 15.1 73.6 14.5 74.4 14.0 75.0 13.3 75.6 12.8 76.0 12.0 76.4 10.8 76.8Z" stroke="#555" stroke-width="0.55" fill="#000" fill-opacity="0.03"/>
<path d="M9.6 52.5 8.9 52.0 8.5 51.2 8.2 50.4 8.0 49.6 7.8 48.4 7.7 47.2 7.7 46.0 7.8 44.8 8.1 44.0 8.5 43.2 9.2 42.6 10.4 42.7 10.9 43.2 11.3 44.0 11.5 45.2 11.6 46.0 11.6 46.8 11.5 48.0 11.3 49.2 11.0 50.0 10.8 50.8 10.4 51.7 9.8 52.4ZM10.4 75.6 9.2 75.7 8.4 75.6 7.3 75.2 6.6 74.8 6.0 74.4 5.3 73.6 4.8 72.9 4.4 72.0 4.1 71.2 4.0 70.4 3.9 69.2 4.0 68.4 4.3 67.2 4.5 66.4 4.9 65.6 5.3 64.8 5.8 64.0 6.3 63.2 6.8 62.5 7.2 62.0 8.0 61.2 8.4 60.8 9.2 60.4 10.0 60.5 10.8 61.0 11.4 61.6 12.0 62.3 12.4 62.9 12.9 63.6 13.4 64.4 13.9 65.2 14.2 66.0 14.6 66.8 14.8 67.7 15.0 68.8 15.0 70.0 14.8 71.2 14.6 72.0 14.2 72.8 13.7 73.6 13.2 74.1 12.4 74.8 11.7 75.2 10.8 75.5Z" stroke="#2a2a2a" stroke-width="0.9" fill="#000" fill-opacity="0.12"/>
<path d="M10.8 74.5 9.6 74.7 8.4 74.5 7.6 74.2 6.8 73.7 6.2 73.2 5.6 72.4 5.2 71.6 5.0 70.8 4.9 69.6 4.9 68.4 5.2 67.3 5.5 66.4 6.0 65.6 6.4 64.9 6.8 64.4 7.5 63.6 8.0 63.2 8.8 62.8 10.0 62.7 10.8 63.1 11.4 63.6 12.0 64.2 12.5 64.8 13.0 65.6 13.4 66.4 13.7 67.2 14.0 68.3 14.1 69.2 14.0 70.4 13.9 71.2 13.5 72.0 13.1 72.8 12.4 73.5 11.8 74.0 11.0 74.4Z" stroke="#444" stroke-width="0.6" fill="#000" fill-opacity="0.1"/>
<path d="M10.8 73.3 9.6 73.6 8.4 73.4 7.6 73.0 6.9 72.4 6.4 71.7 6.0 70.8 5.9 70.0 5.9 68.8 6.0 68.0 6.4 66.9 6.8 66.2 7.3 65.6 8.0 64.9 8.8 64.5 9.6 64.4 10.4 64.6 11.2 65.1 11.7 65.6 12.3 66.4 12.7 67.2 12.9 68.0 13.1 69.2 13.0 70.4 12.8 71.2 12.4 72.0 11.6 72.8 11.0 73.2Z" stroke="#444" stroke-width="0.6" fill="#000" fill-opacity="0.08"/>
<path d="M10.4 72.1 9.2 72.3 8.4 72.0 7.6 71.3 7.2 70.6 7.0 69.6 7.1 68.4 7.4 67.6 8.0 66.8 8.4 66.4 9.6 66.1 10.5 66.4 11.2 67.0 11.6 67.7 11.9 68.8 11.9 70.0 11.6 70.9 11.1 71.6 10.4 72.1Z" stroke="#555" stroke-width="0.55" fill="#000" fill-opacity="0.05"/>
<path d="M10.4 70.8 9.2 71.1 8.4 70.7 8.0 69.9 8.0 68.8 8.3 68.0 8.8 67.5 10.0 67.5 10.6 68.0 11.0 68.8 10.9 70.0 10.4 70.8Z" stroke="#666" stroke-width="0.5" fill="#000" fill-opacity="0.0"/>
<path d="M10.0 79.2 8.8 79.2 8.0 79.1 6.9 78.8 6.0 78.5 5.2 78.0 4.6 77.6 4.0 77.2 3.2 76.4 2.8 75.9 2.3 75.2 1.9 74.4 1.5 73.6 1.2 72.7 0.9 71.6 0.8 70.4 0.8 69.2 1.0 68.0 1.2 67.2 1.6 66.1 2.0 65.3 2.4 64.6 2.8 64.0 3.5 63.2 4.0 62.8 4.8 62.1 5.6 61.7 6.4 61.3 7.2 61.0 8.1 60.8 9.2 60.7 10.4 60.7 11.2 60.9 12.3 61.2 13.2 61.6 13.9 62.0 14.5 62.4 15.2 63.0 15.8 63.6 16.4 64.4 16.8 65.0 17.2 65.7 17.6 66.7 17.9 67.6 18.0 68.4 18.1 69.6 18.1 70.8 18.0 71.7 17.7 72.8 17.5 73.6 17.1 74.4 16.6 75.2 16.1 76.0 15.6 76.5 14.9 77.2 14.4 77.6 13.6 78.1 12.8 78.5 12.0 78.8 10.8 79.1 10.0 79.2Z" fill="#000" fill-opacity="0.18"/>
<path d="M10.4 64.1 9.2 64.2 8.4 64.0 7.6 63.6 6.8 63.0 6.3 62.4 5.7 61.6 5.2 60.8 4.9 60.0 4.5 59.2 4.3 58.4 4.0 57.4 3.8 56.4 3.6 55.6 3.4 54.4 3.2 53.2 3.2 52.4 3.0 51.2 2.9 50.0 2.9 48.8 2.8 47.6 2.8 46.4 2.8 45.2 2.9 44.0 3.0 42.8 3.2 41.9 3.5 40.8 3.7 40.0 4.0 39.2 4.4 38.4 4.9 37.6 5.5 36.8 6.0 36.2 6.7 35.6 7.4 35.2 8.3 34.8 9.2 34.6 10.4 34.6 11.2 34.8 12.1 35.2 12.8 35.7 13.6 36.4 14.0 36.8 14.6 37.6 15.0 38.4 15.4 39.2 15.7 40.0 16.0 41.1 16.2 42.0 16.4 43.2 16.4 44.0 16.5 45.2 16.5 46.4 16.4 47.4 16.3 48.4 16.2 49.6 16.1 50.8 16.0 51.7 15.9 52.8 15.7 54.0 15.5 54.8 15.3 56.0 15.1 56.8 14.8 58.0 14.6 58.8 14.3 59.6 13.9 60.4 13.5 61.2 13.0 62.0 12.4 62.7 11.9 63.2 11.2 63.7 10.4 64.1Z" fill="#000" fill-opacity="0.12"/>
<path d="M21 75h1M8 32h1M22 67h1M1 80h1M22 66h1M20 38h1M12 32h1M24 69h1M12 84h1M18 51h1M22 68h1M22 75h1M20 57h1M18 36h1M1 58h1M19 58h1M19 60h1M0 38h1M20 61h1M19 40h1M0 51h1M8 31h1M20 61h1M11 32h1M19 79h1M21 77h1M19 80h1M18 50h1M12 32h1M1 51h1M22 73h1M19 50h1M23 64h1M5 33h1M1 44h1M23 69h1M21 62h1M17 82h1M16 83h1M10 30h1M12 30h1M0 54h1M19 53h1M1 83h1M0 59h1M1 43h1M2 38h1M23 69h1M22 75h1M20 50h1M7 30h1M21 78h1M15 83h1M20 48h1M20 51h1M0 79h1M23 67h1M22 70h1M9 86h1M3 35h1M19 41h1M2 34h1M18 82h1M18 35h1M15 82h1M2 33h1M24 66h1M5 84h1M0 52h1M2 81h1M16 33h1M19 58h1M8 83h1M18 57h1M1 47h1M22 74h1M5 84h1M3 81h1M23 65h1M22 75h1M6 83h1M1 51h1M15 34h1M22 71h1M6 84h1M1 48h1M19 44h1M19 39h1M23 68h1M11 29h1M22 77h1M0 41h1M5 82h1M11 84h1M20 61h1M23 64h1M24 72h1M10 31h1M12 30h1M22 61h1M20 57h1M19 50h1M5 84h1M18 38h1M20 46h1M19 81h1M19 81h1M6 85h1M23 64h1M23 69h1M19 35h1M20 79h1M0 80h1M16 35h1M12 84h1M20 48h1M1 80h1M16 81h1M12 31h1M16 82h1M20 46h1M21 80h1M2 35h1M6 31h1M0 44h1M18 80h1M14 34h1M21 58h1M19 80h1M0 48h1M22 69h1M4 32h1M20 54h1M19 59h1M20 79h1M1 56h1M1 83h1M10 84h1M1 40h1M1 50h1M23 67h1M18 41h1M0 55h1M6 83h1M15 31h1M22 63h1M0 41h1M23 71h1M19 47h1M19 50h1M16 83h1M5 33h1M18 37h1M19 48h1M18 38h1M24 69h1M18 38h1M8 30h1M19 54h1M19 52h1M22 67h1M21 59h1M21 66h1M0 52h1M20 80h1M2 80h1M6 84h1M17 36h1M10 30h1M22 73h1M11 86h1M9 30h1M20 47h1M15 30h1M17 81h1M0 41h1M6 33h1M1 45h1M20 41h1M20 59h1M24 72h1M22 67h1M4 33h1M17 35h1M17 33h1M11 31h1M14 32h1M6 84h1M0 47h1M19 46h1M19 40h1M5 85h1M9 31h1M19 55h1M20 79h1M7 86h1M15 85h1M1 52h1M2 38h1M24 68h1M10 29h1M16 34h1M7 31h1M0 49h1M23 73h1M22 62h1M20 41h1M6 83h1M7 85h1M20 62h1M1 81h1M21 61h1M3 82h1M22 67h1M4 32h1M2 80h1M19 39h1M23 64h1M3 82h1M21 75h1M12 83h1M8 84h1M23 68h1M6 85h1M20 78h1M19 50h1M22 76h1M17 38h1M19 82h1M4 82h1M10 84h1M15 82h1M1 52h1M19 40h1M20 58h1M19 60h1M17 35h1M19 49h1M9 84h1M22 64h1M22 69h1M12 86h1M22 66h1M17 84h1M15 82h1M10 86h1M16 81h1M19 50h1M0 58h1M16 83h1M17 36h1M3 84h1M5 33h1M20 50h1M19 60h1M3 82h1M20 79h1M19 79h1M19 45h1M18 36h1M3 83h1M1 52h1M8 30h1M10 31h1M0 53h1M0 47h1M1 43h1M7 30h1M6 85h1M1 45h1M22 75h1M14 83h1M21 64h1M15 32h1M10 29h1M14 84h1M8 32h1M12 84h1M17 84h1M1 55h1M5 85h1M19 54h1M17 81h1M17 34h1M10 29h1M12 31h1M17 36h1M10 83h1M7 85h1M22 69h1M20 61h1M2 36h1M13 85h1M10 31h1M20 62h1M8 29h1M3 83h1M19 37h1M22 67h1M16 34h1M22 52h1M17 24h1M26 65h1M26 53h1M24 74h1M4 85h1M15 26h1M24 78h1M12 23h1M23 63h1M23 48h1M28 39h1M22 57h1M2 33h1M21 40h1M23 59h1M13 24h1M17 32h1M22 37h1M25 64h1M17 85h1M1 84h1M3 29h1M29 68h1M21 41h1M26 77h1M13 27h1M12 28h1M5 27h1M21 85h1M30 77h1M21 34h1M21 52h1M18 21h1M26 72h1M10 28h1M25 79h1M27 74h1M16 30h1M23 56h1" stroke="#222" stroke-width="1" stroke-opacity="0.75" shape-rendering="crispEdges"/>
<path d="M19 51h1M23 72h1M23 69h1M36 47h1M53 68h1M36 55h1M26 43h1M51 50h1M31 40h1M35 29h1M53 34h1M53 58h1M47 44h1M56 60h1M58 37h1M45 62h1M48 56h1M47 41h1M46 49h1M64 42h1M52 62h1M49 34h1M30 53h1M43 48h1M44 47h1M46 33h1M44 55h1M34 42h1M45 42h1M45 45h1M52 29h1M63 39h1M25 41h1M34 51h1M56 34h1M59 35h1M42 36h1M47 32h1M43 49h1M43 42h1M48 32h1M33 17h1M44 40h1M43 38h1M42 34h1M38 35h1M39 40h1M21 57h1M58 35h1M46 33h1M72 18h1M56 44h1M37 38h1M27 29h1M53 60h1M45 48h1M45 57h1M43 29h1M43 41h1M21 29h1M44 48h1M30 35h1M45 40h1M44 50h1M41 48h1M51 45h1M50 42h1M48 46h1M36 26h1M32 48h1M40 36h1M48 37h1M42 53h1M64 55h1M48 45h1M55 38h1M50 42h1M44 52h1M32 54h1M64 45h1M42 44h1M47 57h1M36 60h1M43 38h1M39 47h1M44 41h1M29 64h1M31 30h1M49 36h1M49 40h1M35 40h1M56 38h1M29 48h1M56 47h1M42 27h1M53 50h1M29 37h1M47 48h1M46 47h1M56 47h1M31 54h1M62 64h1M40 48h1M45 55h1M58 28h1M49 42h1M53 43h1M45 38h1M24 42h1M30 48h1M49 42h1M54 51h1M31 35h1M29 47h1M28 37h1M48 41h1M36 38h1M30 28h1M33 20h1M50 47h1M44 42h1M28 38h1M77 44h1M38 32h1M55 33h1M27 34h1M41 48h1M54 42h1M48 66h1M51 35h1M47 42h1M34 29h1M29 42h1M48 40h1M54 52h1M55 24h1M46 34h1M48 43h1M47 47h1M37 37h1M37 34h1M49 42h1M56 42h1M63 48h1M51 43h1M48 49h1M54 56h1M33 49h1M28 41h1M54 62h1M40 48h1M37 31h1M41 62h1M56 37h1M30 48h1M60 38h1M36 53h1M45 35h1M57 25h1M46 39h1M52 60h1M38 38h1M51 53h1M35 56h1M53 50h1M43 37h1M28 50h1M53 53h1M35 41h1M58 43h1M33 53h1M41 44h1M37 78h1M33 72h1M48 80h1M47 73h1M31 65h1M39 77h1M47 73h1M33 80h1M56 75h1M40 73h1M66 79h1M65 79h1M35 73h1M56 65h1M29 72h1M56 79h1M29 69h1M33 75h1M53 73h1M55 67h1M50 66h1M44 77h1M53 68h1M35 76h1M66 79h1M60 65h1M45 67h1M36 70h1M44 71h1M35 83h1" stroke="#555" stroke-width="1" stroke-opacity="0.75" shape-rendering="crispEdges"/>
</g></g>
<rect x="154.00" y="126.20" width="87.00" height="86.70" fill="none" stroke="#111" stroke-width="1.2"/>
<line x1="153.40" y1="213.30" x2="241.60" y2="213.30" stroke="#111" stroke-width="1.0"/>
<line x1="182.00" y1="126.20" x2="182.00" y2="212.90" stroke="#111" stroke-width="1.0"/>
<line x1="154.00" y1="189.70" x2="241.00" y2="189.70" stroke="#111" stroke-width="1.0"/>
<path d="M154.0 212.9h-2.0M154.0 212.9v2.0M154.0 206.4h-1.2M160.5 212.9v1.2M154.0 202.5h-1.2M164.4 212.9v1.2M154.0 199.8h-1.2M167.1 212.9v1.2M154.0 197.7h-1.2M169.2 212.9v1.2M154.0 196.0h-1.2M170.9 212.9v1.2M154.0 194.5h-1.2M172.4 212.9v1.2M154.0 193.3h-1.2M173.6 212.9v1.2M154.0 192.1h-1.2M174.8 212.9v1.2M154.0 191.2h-2.0M175.8 212.9v2.0M154.0 184.6h-1.2M182.3 212.9v1.2M154.0 180.8h-1.2M186.1 212.9v1.2M154.0 178.1h-1.2M188.8 212.9v1.2M154.0 175.9h-1.2M191.0 212.9v1.2M154.0 174.2h-1.2M192.7 212.9v1.2M154.0 172.8h-1.2M194.1 212.9v1.2M154.0 171.5h-1.2M195.4 212.9v1.2M154.0 170.4h-1.2M196.5 212.9v1.2M154.0 169.4h-2.0M197.5 212.9v2.0M154.0 162.9h-1.2M204.0 212.9v1.2M154.0 159.0h-1.2M207.9 212.9v1.2M154.0 156.3h-1.2M210.6 212.9v1.2M154.0 154.2h-1.2M212.7 212.9v1.2M154.0 152.5h-1.2M214.4 212.9v1.2M154.0 151.0h-1.2M215.9 212.9v1.2M154.0 149.8h-1.2M217.1 212.9v1.2M154.0 148.6h-1.2M218.3 212.9v1.2M154.0 147.7h-2.0M219.2 212.9v2.0M154.0 141.1h-1.2M225.8 212.9v1.2M154.0 137.3h-1.2M229.6 212.9v1.2M154.0 134.6h-1.2M232.3 212.9v1.2M154.0 132.4h-1.2M234.5 212.9v1.2M154.0 130.7h-1.2M236.2 212.9v1.2M154.0 129.3h-1.2M237.6 212.9v1.2M154.0 128.0h-1.2M238.9 212.9v1.2M154.0 126.9h-1.2M240.0 212.9v1.2M154.0 126.2h-2M241.0 212.9v2" stroke="#333" stroke-width=".7"/>
<text x="152.80" y="223.30" font-size="6.4" text-anchor="middle" fill="#333" stroke="#333" stroke-width="0.22">10</text>
<text x="155.60" y="219.70" font-size="3.8" fill="#333" stroke="#333" stroke-width="0.22">0</text>
<text x="174.55" y="223.30" font-size="6.4" text-anchor="middle" fill="#333" stroke="#333" stroke-width="0.22">10</text>
<text x="177.35" y="219.70" font-size="3.8" fill="#333" stroke="#333" stroke-width="0.22">1</text>
<text x="196.30" y="223.30" font-size="6.4" text-anchor="middle" fill="#333" stroke="#333" stroke-width="0.22">10</text>
<text x="199.10" y="219.70" font-size="3.8" fill="#333" stroke="#333" stroke-width="0.22">2</text>
<text x="218.05" y="223.30" font-size="6.4" text-anchor="middle" fill="#333" stroke="#333" stroke-width="0.22">10</text>
<text x="220.85" y="219.70" font-size="3.8" fill="#333" stroke="#333" stroke-width="0.22">3</text>
<text x="239.80" y="223.30" font-size="6.4" text-anchor="middle" fill="#333" stroke="#333" stroke-width="0.22">10</text>
<text x="242.60" y="219.70" font-size="3.8" fill="#333" stroke="#333" stroke-width="0.22">4</text>
<text x="155.74" y="141.40" font-size="18.33" stroke="#000" stroke-width="0.22" textLength="18.96" lengthAdjust="spacingAndGlyphs">24</text>
<text x="229.72" y="141.40" font-size="18.6" stroke="#000" stroke-width="0.22" textLength="9.62" lengthAdjust="spacingAndGlyphs">1</text>
<text x="230.01" y="211.33" font-size="17.66" stroke="#000" stroke-width="0.22" textLength="9.13" lengthAdjust="spacingAndGlyphs">0</text>
<ellipse cx="163.5" cy="196.3" rx="8.3" ry="8.600000000000001" fill="none" stroke="#1a1a1a" stroke-width="1.3"/>
<clipPath id="cp8"><rect x="245.30" y="126.20" width="87.10" height="86.70"/></clipPath>
<g clip-path="url(#cp8)"><g transform="translate(245.30 126.20)">
<path d="M10.8 82.8 9.6 82.9 8.4 82.9 7.6 82.8 6.4 82.5 5.6 82.2 4.8 81.9 4.0 81.5 3.2 81.0 2.4 80.5 1.8 80.0 1.2 79.4 0.6 78.8 0.0 78.0 -0.1 77.2 -0.1 76.0 -0.2 74.8 -0.2 73.6 -0.2 72.4 -0.2 71.2 -0.2 70.0 -0.2 68.8 -0.2 67.6 -0.2 66.4 -0.2 65.2 -0.2 64.0 -0.1 62.8 -0.1 61.6 -0.0 60.4 0.2 59.6 0.4 58.8 0.7 57.6 0.8 56.8 1.0 55.6 1.0 54.4 1.0 53.2 0.9 52.0 0.9 50.8 0.9 49.6 0.8 48.4 0.8 47.6 0.8 46.4 0.8 45.2 0.8 44.4 0.9 43.2 1.0 42.0 1.2 41.0 1.4 40.0 1.6 39.2 2.0 38.1 2.4 37.2 2.8 36.4 3.2 35.7 3.6 35.1 4.1 34.4 4.8 33.7 5.3 33.2 6.0 32.7 6.8 32.2 7.6 31.9 8.8 31.6 9.6 31.5 10.6 31.6 11.6 31.8 12.4 32.1 13.2 32.6 14.0 33.1 14.6 33.6 15.2 34.3 15.6 34.8 16.2 35.6 16.7 36.4 17.1 37.2 17.4 38.0 17.7 38.8 18.0 40.0 18.2 40.8 18.3 42.0 18.4 42.8 18.5 44.0 18.5 45.2 18.5 46.4 18.4 47.6 18.4 48.4 18.3 49.6 18.2 50.8 18.1 52.0 18.0 53.2 18.0 54.4 18.0 55.6 18.1 56.8 18.3 58.0 18.5 58.8 18.8 59.8 19.2 60.8 19.5 61.6 19.8 62.4 20.2 63.2 20.5 64.0 20.8 65.0 21.1 66.0 21.3 66.8 21.5 68.0 21.6 69.2 21.6 70.4 21.5 71.6 21.3 72.8 21.1 73.6 20.8 74.5 20.4 75.5 20.0 76.3 19.6 77.0 19.2 77.6 18.6 78.4 18.0 79.1 17.5 79.6 16.8 80.3 16.1 80.8 15.5 81.2 14.8 81.6 13.9 82.0 12.8 82.4 12.0 82.6 11.0 82.8Z" stroke="#1a1a1a" stroke-width="1.1" fill="#000" fill-opacity="0.02"/>
<path d="M10.0 81.6 8.8 81.6 8.0 81.5 6.8 81.3 6.0 81.0 5.2 80.7 4.4 80.3 3.6 79.8 2.8 79.2 2.4 78.8 1.6 78.0 1.2 77.6 0.6 76.8 0.1 76.0 -0.0 75.2 -0.1 74.0 -0.1 72.8 -0.1 71.6 -0.2 70.4 -0.2 69.2 -0.1 68.0 -0.1 66.8 -0.1 65.6 -0.1 64.4 0.0 63.3 0.4 62.4 0.7 61.6 1.0 60.8 1.3 60.0 1.6 59.0 1.8 58.0 2.0 56.8 2.0 56.0 2.1 54.8 2.1 53.6 2.0 52.4 2.0 51.6 1.9 50.4 1.9 49.2 1.8 48.0 1.8 46.8 1.8 45.6 1.8 44.4 1.9 43.2 2.0 42.4 2.3 41.2 2.4 40.4 2.8 39.2 3.1 38.4 3.5 37.6 3.9 36.8 4.4 36.1 4.8 35.6 5.5 34.8 6.0 34.4 6.8 33.9 7.6 33.5 8.5 33.2 9.6 33.0 10.8 33.2 11.6 33.4 12.4 33.7 13.2 34.2 13.9 34.8 14.4 35.3 15.0 36.0 15.5 36.8 15.9 37.6 16.3 38.4 16.6 39.2 16.8 40.0 17.1 41.2 17.3 42.0 17.4 43.2 17.5 44.4 17.5 45.6 17.4 46.8 17.4 48.0 17.3 49.2 17.2 50.3 17.1 51.2 17.0 52.4 17.0 53.6 16.9 54.8 16.9 56.0 17.0 57.2 17.2 58.3 17.4 59.2 17.6 60.0 18.0 61.0 18.4 62.0 18.7 62.8 19.1 63.6 19.4 64.4 19.6 65.2 20.0 66.4 20.1 67.2 20.3 68.4 20.4 69.6 20.4 70.8 20.2 72.0 20.0 73.0 19.7 74.0 19.4 74.8 19.0 75.6 18.6 76.4 18.0 77.2 17.6 77.7 17.0 78.4 16.4 79.0 15.6 79.6 15.0 80.0 14.3 80.4 13.5 80.8 12.4 81.2 11.6 81.4 10.4 81.6Z" stroke="#444" stroke-width="0.6" fill="#000" fill-opacity="0.02"/>
<path d="M10.4 80.4 9.2 80.5 8.2 80.4 7.2 80.2 6.4 80.0 5.5 79.6 4.8 79.2 4.0 78.7 3.2 78.1 2.7 77.6 2.0 76.8 1.6 76.3 1.2 75.6 0.7 74.8 0.4 74.0 0.0 72.8 -0.0 72.0 -0.0 70.8 -0.0 69.6 -0.0 68.4 -0.0 67.2 0.0 66.4 0.4 65.2 0.7 64.4 1.0 63.6 1.3 62.8 1.7 62.0 2.0 61.2 2.4 60.0 2.6 59.2 2.8 58.4 3.0 57.2 3.1 56.0 3.1 54.8 3.0 53.6 3.0 52.4 2.9 51.2 2.8 50.0 2.8 49.2 2.7 48.0 2.7 46.8 2.7 45.6 2.8 44.4 2.9 43.6 3.0 42.4 3.2 41.5 3.5 40.4 3.8 39.6 4.1 38.8 4.5 38.0 5.0 37.2 5.6 36.5 6.1 36.0 6.8 35.4 7.6 34.9 8.4 34.6 9.6 34.4 10.8 34.6 11.6 34.8 12.4 35.2 13.2 35.8 13.8 36.4 14.4 37.2 14.8 37.8 15.2 38.5 15.6 39.5 15.9 40.4 16.1 41.2 16.3 42.4 16.4 43.2 16.5 44.4 16.5 45.6 16.5 46.8 16.4 48.0 16.4 48.8 16.3 50.0 16.2 51.2 16.1 52.4 16.0 53.3 15.9 54.4 15.9 55.6 15.9 56.8 16.0 57.6 16.2 58.8 16.4 59.6 16.8 60.8 17.1 61.6 17.4 62.4 17.8 63.2 18.1 64.0 18.4 64.8 18.8 66.0 19.0 66.8 19.2 67.9 19.3 68.8 19.3 70.0 19.3 71.2 19.1 72.0 18.8 73.2 18.6 74.0 18.2 74.8 17.8 75.6 17.2 76.4 16.8 77.0 16.2 77.6 15.6 78.2 14.8 78.8 14.2 79.2 13.4 79.6 12.4 80.0 11.6 80.2 10.7 80.4Z" stroke="#555" stroke-width="0.55" fill="#000" fill-opacity="0.02"/>
<path d="M10.4 79.2 9.2 79.3 8.3 79.2 7.2 79.0 6.4 78.7 5.6 78.3 4.8 77.8 4.0 77.2 3.6 76.8 2.8 76.0 2.4 75.4 2.0 74.8 1.6 74.0 1.2 72.9 0.9 72.0 0.8 71.1 0.7 70.0 0.7 68.8 0.8 68.0 1.1 66.8 1.3 66.0 1.6 65.0 2.0 64.0 2.3 63.2 2.7 62.4 3.0 61.6 3.3 60.8 3.6 60.0 3.9 58.8 4.1 58.0 4.2 56.8 4.2 55.6 4.1 54.4 4.1 53.2 4.0 52.0 3.9 51.2 3.9 50.0 3.8 48.8 3.7 47.6 3.7 46.4 3.8 45.2 3.9 44.0 4.0 42.9 4.2 42.0 4.4 41.2 4.8 40.1 5.2 39.2 5.6 38.5 6.0 38.0 6.7 37.2 7.3 36.8 8.0 36.4 9.2 36.0 9.9 36.0 10.8 36.1 11.6 36.5 12.4 37.0 13.1 37.6 13.6 38.2 14.0 38.9 14.4 39.6 14.8 40.6 15.1 41.6 15.3 42.4 15.4 43.6 15.5 44.8 15.5 46.0 15.5 47.2 15.4 48.4 15.3 49.6 15.2 50.5 15.1 51.6 15.0 52.8 14.9 54.0 14.8 55.2 14.8 56.0 14.8 56.9 14.9 58.0 15.1 59.2 15.3 60.0 15.6 60.8 16.0 61.8 16.4 62.8 16.8 63.6 17.1 64.4 17.4 65.2 17.7 66.0 18.0 67.2 18.1 68.0 18.2 69.2 18.2 70.4 18.1 71.6 17.9 72.4 17.6 73.3 17.2 74.2 16.8 75.0 16.4 75.6 15.8 76.4 15.2 77.0 14.4 77.6 13.9 78.0 13.2 78.4 12.2 78.8 11.2 79.1 10.4 79.2Z" stroke="#555" stroke-width="0.55" fill="#000" fill-opacity="0.02"/>
<path d="M10.8 78.0 9.6 78.1 8.4 78.1 7.6 77.9 6.7 77.6 5.9 77.2 5.2 76.8 4.4 76.1 3.9 75.6 3.3 74.8 2.8 74.0 2.4 73.2 2.1 72.4 1.9 71.6 1.8 70.4 1.7 69.2 1.9 68.0 2.0 67.2 2.3 66.0 2.6 65.2 3.0 64.4 3.3 63.6 3.7 62.8 4.0 62.0 4.4 61.2 4.8 60.1 5.0 59.2 5.2 58.4 5.3 57.2 5.3 56.0 5.3 54.8 5.2 53.7 5.1 52.8 5.0 51.6 4.9 50.4 4.8 49.2 4.8 48.4 4.7 47.2 4.7 46.0 4.8 44.8 4.9 44.0 5.1 42.8 5.3 42.0 5.6 41.1 6.0 40.2 6.4 39.6 7.0 38.8 7.6 38.3 8.4 37.8 9.2 37.6 10.3 37.6 11.2 37.9 12.0 38.4 12.4 38.8 13.0 39.6 13.5 40.4 13.8 41.2 14.1 42.0 14.3 43.2 14.4 44.0 14.5 45.2 14.5 46.4 14.4 47.6 14.4 48.4 14.3 49.6 14.1 50.8 14.0 52.0 13.9 52.8 13.8 54.0 13.7 55.2 13.6 56.4 13.7 57.6 13.8 58.8 14.0 59.6 14.4 60.8 14.7 61.6 15.1 62.4 15.4 63.2 15.8 64.0 16.1 64.8 16.5 65.6 16.8 66.7 17.0 67.6 17.2 68.8 17.2 69.6 17.2 70.4 17.0 71.6 16.8 72.4 16.4 73.5 16.0 74.2 15.6 74.9 15.0 75.6 14.4 76.2 13.7 76.8 13.0 77.2 12.2 77.6 11.2 77.9Z" stroke="#555" stroke-width="0.55" fill="#000" fill-opacity="0.025"/>
<path d="M10.4 76.9 9.2 76.9 8.2 76.8 7.2 76.5 6.4 76.1 5.6 75.6 5.2 75.2 4.4 74.4 4.0 73.8 3.6 73.1 3.2 72.0 3.0 71.2 2.8 70.0 2.9 68.8 3.0 67.6 3.2 66.8 3.6 65.7 4.0 64.8 4.4 64.0 4.8 63.2 5.2 62.4 5.6 61.6 6.0 60.8 6.3 60.0 6.6 59.2 6.8 58.0 6.9 57.2 6.8 56.0 6.8 55.2 6.6 54.0 6.4 52.8 6.3 52.0 6.2 50.8 6.1 49.6 6.0 48.8 5.9 47.6 5.9 46.4 5.9 45.2 6.0 44.4 6.3 43.2 6.5 42.4 6.9 41.6 7.3 40.8 8.0 40.1 8.8 39.6 9.6 39.4 10.6 39.6 11.3 40.0 12.0 40.8 12.4 41.4 12.8 42.3 13.1 43.2 13.2 44.0 13.3 45.2 13.3 46.4 13.3 47.6 13.2 48.5 13.1 49.6 12.9 50.8 12.8 51.6 12.6 52.8 12.4 54.0 12.3 54.8 12.1 56.0 12.1 57.2 12.2 58.4 12.4 59.3 12.8 60.4 13.1 61.2 13.5 62.0 13.9 62.8 14.4 63.6 14.8 64.4 15.1 65.2 15.4 66.0 15.7 66.8 16.0 68.0 16.1 68.8 16.1 70.0 16.0 70.9 15.7 72.0 15.5 72.8 15.0 73.6 14.5 74.4 14.0 75.0 13.3 75.6 12.7 76.0 12.0 76.4 10.8 76.8Z" stroke="#555" stroke-width="0.55" fill="#000" fill-opacity="0.03"/>
<path d="M10.0 53.7 9.0 53.6 8.5 52.8 8.2 52.0 8.0 51.2 7.7 50.0 7.5 49.2 7.4 48.0 7.3 46.8 7.4 45.6 7.6 44.4 7.8 43.6 8.2 42.8 8.8 42.2 9.6 41.9 10.4 42.1 11.1 42.8 11.5 43.6 11.7 44.4 11.9 45.6 11.9 46.8 11.8 48.0 11.6 49.2 11.4 50.0 11.2 50.9 10.8 52.0 10.5 52.8 10.0 53.6ZM10.4 75.6 9.2 75.7 8.4 75.6 7.3 75.2 6.6 74.8 6.0 74.4 5.3 73.6 4.8 72.9 4.4 72.0 4.1 71.2 4.0 70.4 3.9 69.2 4.0 68.4 4.3 67.2 4.5 66.4 4.9 65.6 5.3 64.8 5.7 64.0 6.2 63.2 6.8 62.4 7.2 61.9 7.7 61.2 8.4 60.5 9.1 60.0 9.8 60.0 10.4 60.4 11.2 61.2 11.6 61.7 12.1 62.4 12.7 63.2 13.2 64.0 13.6 64.7 14.0 65.4 14.4 66.4 14.7 67.2 14.9 68.0 15.0 69.2 14.9 70.4 14.8 71.2 14.4 72.3 14.0 73.1 13.6 73.7 12.9 74.4 12.4 74.8 11.6 75.2 10.5 75.6Z" stroke="#2a2a2a" stroke-width="0.9" fill="#000" fill-opacity="0.12"/>
<path d="M10.8 74.5 9.6 74.7 8.4 74.5 7.6 74.2 6.8 73.7 6.2 73.2 5.6 72.4 5.2 71.6 5.0 70.8 4.9 69.6 4.9 68.4 5.2 67.3 5.5 66.4 5.9 65.6 6.4 64.8 6.8 64.3 7.4 63.6 8.0 63.1 8.8 62.6 10.0 62.6 10.8 63.0 11.5 63.6 12.0 64.1 12.5 64.8 13.0 65.6 13.4 66.4 13.7 67.2 14.0 68.4 14.1 69.2 14.0 70.4 13.8 71.2 13.5 72.0 13.0 72.8 12.4 73.5 11.7 74.0 10.9 74.4Z" stroke="#444" stroke-width="0.6" fill="#000" fill-opacity="0.1"/>
<path d="M10.8 73.3 9.6 73.6 8.4 73.4 7.6 73.0 6.9 72.4 6.4 71.7 6.0 70.8 5.9 70.0 5.9 68.8 6.0 68.0 6.4 66.9 6.8 66.2 7.2 65.6 8.0 64.8 8.8 64.4 9.6 64.3 10.4 64.5 11.2 65.1 11.7 65.6 12.3 66.4 12.7 67.2 12.9 68.0 13.1 69.2 13.0 70.4 12.8 71.2 12.3 72.0 11.6 72.8 11.0 73.2Z" stroke="#444" stroke-width="0.6" fill="#000" fill-opacity="0.08"/>
<path d="M10.4 72.1 9.2 72.2 8.4 72.0 7.6 71.3 7.2 70.6 7.0 69.6 7.1 68.4 7.4 67.6 7.9 66.8 8.4 66.4 9.6 66.0 10.6 66.4 11.2 67.0 11.6 67.7 11.9 68.8 11.9 70.0 11.6 70.9 11.1 71.6 10.4 72.1Z" stroke="#555" stroke-width="0.55" fill="#000" fill-opacity="0.05"/>
<path d="M10.0 71.0 8.8 71.0 8.2 70.4 7.9 69.6 8.0 68.7 8.4 67.9 9.2 67.3 10.3 67.6 10.8 68.3 11.0 69.2 10.8 70.3 10.4 70.8Z" stroke="#666" stroke-width="0.5" fill="#000" fill-opacity="0.0"/>
<path d="M10.0 79.2 8.8 79.2 8.0 79.1 6.8 78.8 6.0 78.5 5.2 78.0 4.6 77.6 4.0 77.2 3.2 76.4 2.8 75.9 2.3 75.2 1.9 74.4 1.5 73.6 1.2 72.7 0.9 71.6 0.8 70.4 0.8 69.2 1.0 68.0 1.2 67.2 1.6 66.1 2.0 65.3 2.4 64.6 2.8 64.0 3.5 63.2 4.0 62.8 4.8 62.1 5.6 61.7 6.4 61.3 7.2 61.0 8.1 60.8 9.2 60.7 10.4 60.7 11.2 60.9 12.3 61.2 13.2 61.6 13.9 62.0 14.5 62.4 15.2 63.0 15.8 63.6 16.4 64.4 16.8 65.0 17.2 65.8 17.6 66.8 17.8 67.6 18.0 68.4 18.1 69.6 18.1 70.8 18.0 71.6 17.7 72.8 17.4 73.6 17.1 74.4 16.6 75.2 16.0 76.0 15.6 76.5 14.9 77.2 14.4 77.6 13.6 78.1 12.8 78.5 12.0 78.8 10.8 79.1 10.0 79.2Z" fill="#000" fill-opacity="0.18"/>
<path d="M10.4 64.1 9.2 64.2 8.4 64.0 7.6 63.6 6.8 63.0 6.3 62.4 5.7 61.6 5.2 60.8 4.8 60.0 4.5 59.2 4.3 58.4 4.0 57.5 3.7 56.4 3.6 55.6 3.4 54.4 3.2 53.2 3.2 52.4 3.0 51.2 2.9 50.0 2.9 48.8 2.8 47.6 2.8 46.4 2.8 45.2 2.9 44.0 3.0 42.8 3.2 41.9 3.5 40.8 3.7 40.0 4.0 39.2 4.4 38.4 4.9 37.6 5.5 36.8 6.0 36.2 6.7 35.6 7.4 35.2 8.3 34.8 9.2 34.6 10.4 34.6 11.2 34.8 12.1 35.2 12.8 35.7 13.6 36.4 14.0 36.8 14.6 37.6 15.0 38.4 15.4 39.2 15.7 40.0 16.0 41.1 16.2 42.0 16.3 43.2 16.4 44.0 16.4 45.2 16.4 46.4 16.4 47.2 16.3 48.4 16.2 49.6 16.1 50.8 16.0 51.6 15.8 52.8 15.7 54.0 15.5 54.8 15.3 56.0 15.1 56.8 14.8 58.0 14.6 58.8 14.3 59.6 13.9 60.4 13.5 61.2 13.0 62.0 12.4 62.7 11.9 63.2 11.2 63.7 10.4 64.1Z" fill="#000" fill-opacity="0.12"/>
<path d="M20 77h1M19 35h1M16 32h1M17 81h1M7 83h1M8 32h1M18 59h1M19 44h1M0 59h1M8 32h1M14 31h1M24 68h1M19 54h1M3 81h1M12 83h1M18 82h1M0 48h1M19 53h1M18 38h1M18 57h1M4 83h1M21 60h1M1 54h1M16 32h1M10 86h1M14 83h1M19 49h1M0 43h1M14 32h1M1 37h1M18 80h1M17 37h1M6 32h1M14 83h1M5 85h1M20 49h1M20 62h1M23 62h1M18 54h1M19 59h1M19 82h1M14 32h1M19 42h1M0 42h1M18 34h1M22 78h1M0 42h1M12 83h1M19 48h1M12 31h1M19 41h1M20 79h1M14 33h1M17 83h1M20 57h1M19 50h1M1 38h1M0 37h1M18 57h1M20 77h1M20 54h1M21 74h1M3 83h1M21 62h1M4 85h1M21 42h1M10 84h1M4 33h1M19 78h1M20 52h1M22 68h1M20 50h1M23 65h1M19 52h1M1 81h1M23 76h1M3 33h1M1 49h1M10 85h1M1 82h1M19 36h1M6 33h1M14 33h1M1 82h1M12 85h1M5 30h1M20 46h1M0 45h1M21 59h1M22 78h1M20 78h1M8 31h1M8 85h1M4 35h1M16 83h1M5 33h1M21 52h1M0 48h1M20 52h1M16 35h1M18 36h1M17 35h1M5 84h1M21 75h1M22 72h1M19 51h1M6 31h1M19 79h1M5 83h1M2 36h1M22 69h1M2 38h1M17 34h1M11 85h1M9 29h1M10 85h1M11 31h1M18 52h1M21 78h1M7 85h1M18 80h1M20 53h1M6 85h1M4 34h1M19 50h1M19 40h1M21 75h1M15 33h1M5 82h1M23 66h1M18 57h1M23 70h1M6 84h1M2 34h1M11 29h1M23 70h1M19 40h1M1 83h1M20 46h1M12 84h1M1 82h1M22 64h1M0 57h1M19 55h1M8 84h1M21 79h1M20 55h1M20 55h1M23 76h1M12 32h1M1 41h1M1 57h1M4 34h1M8 85h1M18 35h1M1 80h1M15 82h1M20 39h1M23 67h1M2 34h1M11 83h1M0 57h1M23 70h1M20 41h1M21 60h1M24 73h1M20 40h1M0 46h1M14 31h1M17 82h1M16 82h1M23 64h1M7 32h1M11 86h1M1 42h1M0 82h1M6 33h1M21 77h1M2 81h1M19 57h1M20 41h1M1 56h1M6 83h1M18 55h1M0 43h1M12 31h1M1 35h1M19 46h1M19 38h1M15 85h1M10 84h1M1 53h1M7 84h1M13 31h1M19 55h1M20 59h1M23 69h1M18 51h1M22 64h1M3 32h1M1 51h1M20 61h1M8 30h1M13 84h1M3 33h1M5 84h1M16 82h1M21 60h1M2 36h1M6 83h1M19 36h1M15 35h1M23 68h1M19 56h1M13 32h1M5 32h1M0 79h1M20 48h1M1 39h1M19 43h1M19 57h1M21 62h1M14 84h1M18 34h1M14 30h1M20 62h1M20 42h1M18 48h1M23 66h1M15 83h1M7 32h1M22 68h1M6 31h1M9 83h1M19 58h1M1 80h1M14 83h1M22 71h1M7 86h1M4 33h1M1 58h1M1 81h1M5 31h1M20 76h1M1 44h1M13 84h1M21 62h1M5 31h1M7 85h1M9 32h1M22 66h1M8 84h1M23 65h1M10 85h1M20 60h1M24 72h1M19 60h1M21 76h1M19 82h1M19 79h1M0 59h1M17 35h1M20 78h1M15 32h1M0 57h1M12 83h1M19 46h1M20 48h1M6 83h1M12 85h1M24 74h1M11 29h1M1 48h1M14 84h1M1 80h1M0 42h1M19 50h1M2 39h1M1 81h1M22 63h1M19 40h1M12 32h1M8 84h1M20 55h1M22 67h1M20 63h1M5 33h1M1 34h1M3 33h1M5 83h1M23 74h1M22 71h1M22 74h1M6 31h1M19 51h1M4 32h1M16 34h1M5 30h1M24 72h1M18 39h1M21 61h1M18 82h1M11 86h1M1 40h1M20 62h1M22 66h1M1 53h1M20 50h1M17 34h1M15 33h1M20 56h1M20 80h1M6 84h1M1 82h1M11 29h1M19 57h1M22 74h1M16 33h1M1 51h1M4 82h1M25 80h1M22 40h1M0 33h1M26 74h1M8 21h1M4 30h1M24 55h1M7 28h1M5 28h1M17 26h1M26 61h1M3 25h1M18 30h1M11 28h1M17 29h1M22 80h1M24 62h1M21 38h1M13 27h1M7 22h1M14 28h1M13 27h1M17 21h1M22 54h1M29 72h1M21 59h1M25 66h1M21 44h1M21 82h1M10 87h1M28 71h1M13 28h1M29 71h1M25 56h1M0 30h1M21 41h1M21 48h1M24 63h1M1 85h1M25 45h1" stroke="#222" stroke-width="1" stroke-opacity="0.75" shape-rendering="crispEdges"/>
<path d="M20 50h1M20 78h1M61 52h1M46 31h1M53 34h1M46 30h1M59 35h1M40 60h1M55 27h1M55 53h1M33 37h1M51 24h1M53 45h1M39 34h1M40 47h1M47 28h1M48 38h1M48 42h1M56 41h1M40 40h1M75 48h1M58 28h1M45 48h1M66 28h1M44 36h1M42 45h1M59 48h1M37 46h1M56 28h1M47 32h1M35 52h1M56 48h1M42 39h1M30 31h1M29 41h1M59 50h1M37 48h1M27 42h1M50 60h1M55 36h1M40 33h1M36 22h1M58 22h1M60 46h1M55 51h1M45 44h1M60 52h1M27 37h1M41 24h1M34 30h1M69 33h1M44 51h1M50 35h1M55 34h1M43 52h1M48 30h1M39 40h1M40 43h1M42 32h1M47 45h1M56 28h1M42 43h1M39 37h1M50 34h1M34 28h1M48 45h1M50 52h1M46 28h1M60 36h1M49 37h1M56 17h1M29 39h1M46 26h1M47 25h1M31 44h1M45 51h1M42 42h1M43 30h1M57 36h1M45 39h1M56 36h1M49 41h1M43 58h1M32 47h1M44 53h1M50 42h1M32 44h1M39 35h1M63 26h1M49 38h1M33 46h1M41 68h1M41 53h1M59 36h1M59 35h1M47 43h1M52 39h1M27 35h1M29 36h1M54 20h1M66 24h1M50 47h1M63 53h1M59 41h1M64 59h1M41 35h1M35 44h1M57 43h1M47 45h1M42 48h1M51 33h1M58 58h1M34 42h1M26 40h1M45 33h1M34 25h1M38 45h1M34 28h1M39 46h1M52 12h1M51 47h1M39 45h1M51 41h1M34 59h1M40 62h1M25 35h1M42 36h1M36 31h1M41 41h1M63 17h1M40 28h1M32 58h1M39 44h1M51 45h1M56 30h1M41 43h1M37 44h1M49 47h1M35 37h1M40 27h1M72 43h1M45 33h1M51 33h1M44 40h1M44 27h1M40 38h1M53 44h1M45 44h1M41 32h1M32 25h1M37 55h1M57 42h1M43 33h1M60 34h1M41 42h1M37 48h1M22 52h1M47 25h1M41 40h1M64 46h1M38 37h1M53 24h1M26 64h1M58 44h1M64 20h1M35 45h1M53 49h1M43 34h1M62 18h1M40 46h1M62 56h1M70 23h1M37 30h1M57 48h1M30 45h1M51 30h1M31 38h1M36 37h1M34 50h1M60 33h1M48 30h1M47 45h1M41 24h1M58 45h1M38 40h1M57 48h1M35 40h1M48 32h1M47 27h1M57 32h1M68 21h1M35 30h1M45 51h1M22 57h1M52 15h1M42 47h1M45 19h1M49 45h1M36 53h1M46 73h1M44 71h1M46 67h1M56 74h1M40 67h1M28 85h1M47 73h1M26 71h1M34 73h1M59 66h1M39 75h1M31 76h1M60 67h1M35 79h1M36 66h1M35 75h1M39 84h1M49 76h1M34 67h1M29 75h1M37 71h1M39 77h1M46 65h1M43 77h1M37 68h1M51 74h1M42 74h1M33 67h1M37 73h1M49 50h1M36 78h1M48 70h1M46 75h1M50 73h1M38 72h1M37 77h1" stroke="#555" stroke-width="1" stroke-opacity="0.75" shape-rendering="crispEdges"/>
</g></g>
<rect x="245.30" y="126.20" width="87.10" height="86.70" fill="none" stroke="#111" stroke-width="1.2"/>
<line x1="244.70" y1="213.30" x2="333.00" y2="213.30" stroke="#111" stroke-width="1.0"/>
<line x1="273.30" y1="126.20" x2="273.30" y2="212.90" stroke="#111" stroke-width="1.0"/>
<line x1="245.30" y1="189.70" x2="332.40" y2="189.70" stroke="#111" stroke-width="1.0"/>
<path d="M245.3 212.9h-2.0M245.3 212.9v2.0M245.3 206.3h-1.2M251.9 212.9v1.2M245.3 202.5h-1.2M255.7 212.9v1.2M245.3 199.8h-1.2M258.4 212.9v1.2M245.3 197.7h-1.2M260.5 212.9v1.2M245.3 196.0h-1.2M262.2 212.9v1.2M245.3 194.5h-1.2M263.7 212.9v1.2M245.3 193.2h-1.2M265.0 212.9v1.2M245.3 192.1h-1.2M266.1 212.9v1.2M245.3 191.1h-2.0M267.1 212.9v2.0M245.3 184.6h-1.2M273.6 212.9v1.2M245.3 180.7h-1.2M277.5 212.9v1.2M245.3 178.0h-1.2M280.2 212.9v1.2M245.3 175.9h-1.2M282.3 212.9v1.2M245.3 174.2h-1.2M284.0 212.9v1.2M245.3 172.7h-1.2M285.5 212.9v1.2M245.3 171.5h-1.2M286.7 212.9v1.2M245.3 170.3h-1.2M287.9 212.9v1.2M245.3 169.4h-2.0M288.9 212.9v2.0M245.3 162.8h-1.2M295.4 212.9v1.2M245.3 159.0h-1.2M299.2 212.9v1.2M245.3 156.2h-1.2M302.0 212.9v1.2M245.3 154.1h-1.2M304.1 212.9v1.2M245.3 152.4h-1.2M305.8 212.9v1.2M245.3 150.9h-1.2M307.3 212.9v1.2M245.3 149.7h-1.2M308.5 212.9v1.2M245.3 148.6h-1.2M309.6 212.9v1.2M245.3 147.6h-2.0M310.6 212.9v2.0M245.3 141.0h-1.2M317.2 212.9v1.2M245.3 137.2h-1.2M321.0 212.9v1.2M245.3 134.5h-1.2M323.7 212.9v1.2M245.3 132.4h-1.2M325.8 212.9v1.2M245.3 130.6h-1.2M327.6 212.9v1.2M245.3 129.2h-1.2M329.0 212.9v1.2M245.3 127.9h-1.2M330.3 212.9v1.2M245.3 126.8h-1.2M331.4 212.9v1.2M245.3 126.2h-2M332.4 212.9v2" stroke="#333" stroke-width=".7"/>
<text x="244.10" y="223.30" font-size="6.4" text-anchor="middle" fill="#333" stroke="#333" stroke-width="0.22">10</text>
<text x="246.90" y="219.70" font-size="3.8" fill="#333" stroke="#333" stroke-width="0.22">0</text>
<text x="265.88" y="223.30" font-size="6.4" text-anchor="middle" fill="#333" stroke="#333" stroke-width="0.22">10</text>
<text x="268.68" y="219.70" font-size="3.8" fill="#333" stroke="#333" stroke-width="0.22">1</text>
<text x="287.65" y="223.30" font-size="6.4" text-anchor="middle" fill="#333" stroke="#333" stroke-width="0.22">10</text>
<text x="290.45" y="219.70" font-size="3.8" fill="#333" stroke="#333" stroke-width="0.22">2</text>
<text x="309.43" y="223.30" font-size="6.4" text-anchor="middle" fill="#333" stroke="#333" stroke-width="0.22">10</text>
<text x="312.23" y="219.70" font-size="3.8" fill="#333" stroke="#333" stroke-width="0.22">3</text>
<text x="331.20" y="223.30" font-size="6.4" text-anchor="middle" fill="#333" stroke="#333" stroke-width="0.22">10</text>
<text x="334.00" y="219.70" font-size="3.8" fill="#333" stroke="#333" stroke-width="0.22">4</text>
<text x="247.05" y="141.22" font-size="18.08" stroke="#000" stroke-width="0.22" textLength="18.70" lengthAdjust="spacingAndGlyphs">28</text>
<text x="321.12" y="141.40" font-size="18.6" stroke="#000" stroke-width="0.22" textLength="9.62" lengthAdjust="spacingAndGlyphs">1</text>
<text x="321.41" y="211.33" font-size="17.66" stroke="#000" stroke-width="0.22" textLength="9.13" lengthAdjust="spacingAndGlyphs">0</text>
<ellipse cx="254.8" cy="196.3" rx="8.0" ry="8.3" fill="none" stroke="#1a1a1a" stroke-width="1.3"/>
<clipPath id="cp9"><rect x="336.80" y="126.20" width="86.20" height="86.70"/></clipPath>
<g clip-path="url(#cp9)"><g transform="translate(336.80 126.20)">
<path d="M11.2 82.8 10.0 82.9 8.8 82.8 8.0 82.7 6.8 82.5 6.0 82.2 5.2 81.9 4.4 81.5 3.6 81.0 2.8 80.4 2.3 80.0 1.6 79.3 1.1 78.8 0.5 78.0 0.0 77.3 -0.1 76.4 -0.1 75.2 -0.2 74.0 -0.2 72.8 -0.2 71.6 -0.2 70.4 -0.2 69.2 -0.2 68.0 -0.2 66.8 -0.2 65.6 -0.1 64.4 -0.1 63.2 -0.0 62.0 0.1 61.2 0.4 60.4 0.8 59.3 1.0 58.4 1.2 57.6 1.4 56.4 1.4 55.2 1.5 54.0 1.4 52.8 1.4 51.6 1.3 50.4 1.3 49.2 1.3 48.0 1.2 46.8 1.2 45.6 1.3 44.4 1.4 43.2 1.5 42.0 1.6 41.2 1.9 40.0 2.1 39.2 2.4 38.3 2.8 37.3 3.2 36.5 3.6 35.8 4.0 35.1 4.6 34.4 5.2 33.7 5.8 33.2 6.4 32.7 7.2 32.2 8.0 31.9 9.1 31.6 10.0 31.5 11.2 31.6 12.0 31.7 12.8 32.0 13.6 32.4 14.4 33.0 15.1 33.6 15.6 34.1 16.2 34.8 16.8 35.6 17.2 36.4 17.6 37.2 17.9 38.0 18.2 38.8 18.4 39.6 18.7 40.8 18.8 41.6 19.0 42.8 19.0 44.0 19.1 45.2 19.0 46.4 19.0 47.6 18.9 48.8 18.8 50.0 18.7 50.8 18.7 52.0 18.6 53.2 18.6 54.4 18.6 55.6 18.7 56.8 18.8 57.7 19.0 58.8 19.3 59.6 19.6 60.5 20.0 61.6 20.3 62.4 20.7 63.2 21.0 64.0 21.3 64.8 21.6 66.0 21.8 66.8 22.0 68.0 22.1 68.8 22.1 70.0 22.0 71.2 21.9 72.0 21.7 73.2 21.5 74.0 21.2 74.8 20.8 75.7 20.4 76.5 20.0 77.2 19.5 78.0 18.8 78.8 18.4 79.2 17.6 80.0 17.1 80.4 16.4 80.9 15.6 81.4 14.8 81.8 14.0 82.2 13.2 82.4 12.0 82.7 11.2 82.8Z" stroke="#1a1a1a" stroke-width="1.1" fill="#000" fill-opacity="0.02"/>
<path d="M10.4 81.6 9.3 81.6 8.4 81.5 7.2 81.2 6.4 81.0 5.6 80.6 4.8 80.2 4.0 79.7 3.3 79.2 2.8 78.7 2.1 78.0 1.6 77.4 1.1 76.8 0.6 76.0 0.2 75.2 -0.0 74.4 -0.1 73.2 -0.1 72.0 -0.1 70.8 -0.1 69.6 -0.1 68.4 -0.1 67.2 -0.1 66.0 -0.0 64.8 0.2 64.0 0.5 63.2 0.9 62.4 1.2 61.6 1.6 60.5 1.9 59.6 2.1 58.8 2.3 57.6 2.4 56.8 2.5 55.6 2.5 54.4 2.5 53.2 2.5 52.0 2.4 50.9 2.4 50.0 2.3 48.8 2.3 47.6 2.2 46.4 2.3 45.2 2.3 44.0 2.4 43.2 2.6 42.0 2.8 40.8 3.0 40.0 3.3 39.2 3.6 38.3 4.0 37.5 4.4 36.8 4.9 36.0 5.6 35.2 6.0 34.8 6.8 34.1 7.6 33.6 8.4 33.3 9.2 33.1 10.4 33.0 11.6 33.2 12.4 33.4 13.2 33.8 14.0 34.4 14.5 34.8 15.2 35.6 15.6 36.1 16.1 36.8 16.5 37.6 16.9 38.4 17.2 39.3 17.5 40.4 17.7 41.2 17.9 42.4 18.0 43.6 18.0 44.4 18.0 45.6 18.0 46.8 18.0 47.6 17.9 48.8 17.8 50.0 17.7 51.2 17.6 52.3 17.5 53.2 17.5 54.4 17.5 55.6 17.5 56.8 17.6 57.6 17.8 58.8 18.1 59.6 18.4 60.6 18.8 61.6 19.1 62.4 19.4 63.2 19.7 64.0 20.0 64.8 20.4 66.0 20.6 66.8 20.8 68.0 20.9 68.8 20.9 70.0 20.8 71.2 20.7 72.0 20.5 73.2 20.2 74.0 19.9 74.8 19.5 75.6 19.1 76.4 18.5 77.2 18.0 77.9 17.5 78.4 16.8 79.1 16.1 79.6 15.5 80.0 14.8 80.4 14.0 80.8 12.9 81.2 12.0 81.4 10.8 81.6Z" stroke="#444" stroke-width="0.6" fill="#000" fill-opacity="0.02"/>
<path d="M10.8 80.4 9.6 80.5 8.8 80.4 7.6 80.2 6.8 79.9 6.0 79.6 5.2 79.2 4.4 78.6 3.6 78.0 3.2 77.6 2.5 76.8 2.0 76.1 1.6 75.5 1.2 74.7 0.8 73.8 0.5 72.8 0.3 72.0 0.1 70.8 0.1 69.6 0.2 68.4 0.4 67.2 0.5 66.4 0.8 65.5 1.2 64.4 1.5 63.6 1.8 62.8 2.1 62.0 2.5 61.2 2.8 60.3 3.1 59.2 3.3 58.4 3.4 57.2 3.5 56.0 3.5 54.8 3.5 53.6 3.4 52.4 3.4 51.2 3.3 50.0 3.2 48.8 3.2 47.9 3.2 46.8 3.2 45.6 3.2 44.8 3.3 43.6 3.5 42.4 3.6 41.6 3.9 40.4 4.2 39.6 4.5 38.8 4.9 38.0 5.4 37.2 6.0 36.5 6.5 36.0 7.2 35.4 8.0 34.9 8.8 34.6 9.8 34.4 10.7 34.4 11.6 34.6 12.4 34.9 13.2 35.4 14.0 36.0 14.4 36.4 15.0 37.2 15.5 38.0 15.9 38.8 16.2 39.6 16.5 40.4 16.8 41.6 16.9 42.4 17.0 43.6 17.1 44.8 17.1 46.0 17.1 47.2 17.0 48.4 16.9 49.6 16.8 50.5 16.7 51.6 16.6 52.8 16.5 54.0 16.5 55.2 16.5 56.4 16.6 57.6 16.8 58.8 17.0 59.6 17.2 60.4 17.6 61.5 18.0 62.4 18.3 63.2 18.6 64.0 18.9 64.8 19.2 65.6 19.5 66.8 19.7 67.6 19.8 68.8 19.9 70.0 19.8 71.2 19.6 72.2 19.3 73.2 19.1 74.0 18.7 74.8 18.3 75.6 17.8 76.4 17.2 77.1 16.7 77.6 16.0 78.3 15.3 78.8 14.7 79.2 13.9 79.6 12.9 80.0 12.0 80.3 11.2 80.4Z" stroke="#555" stroke-width="0.55" fill="#000" fill-opacity="0.02"/>
<path d="M10.8 79.2 9.6 79.3 8.8 79.2 7.6 78.9 6.8 78.6 6.0 78.2 5.2 77.7 4.5 77.2 4.0 76.7 3.3 76.0 2.8 75.2 2.4 74.6 2.0 73.7 1.7 72.8 1.5 72.0 1.3 70.8 1.2 69.6 1.3 68.4 1.5 67.2 1.7 66.4 2.0 65.3 2.3 64.4 2.7 63.6 3.0 62.8 3.4 62.0 3.7 61.2 4.0 60.3 4.3 59.2 4.5 58.4 4.6 57.2 4.6 56.0 4.6 54.8 4.6 53.6 4.5 52.4 4.4 51.3 4.3 50.4 4.3 49.2 4.2 48.0 4.2 46.8 4.2 45.6 4.3 44.4 4.4 43.2 4.5 42.4 4.8 41.3 5.1 40.4 5.4 39.6 5.9 38.8 6.4 38.0 6.8 37.5 7.6 36.8 8.3 36.4 9.2 36.0 10.0 35.9 11.1 36.0 12.0 36.3 12.8 36.8 13.3 37.2 14.0 38.0 14.4 38.5 14.8 39.2 15.2 40.1 15.6 41.2 15.7 42.0 15.9 43.2 16.0 44.0 16.1 45.2 16.1 46.4 16.0 47.6 16.0 48.4 15.9 49.6 15.7 50.8 15.6 52.0 15.5 52.8 15.4 54.0 15.4 55.2 15.4 56.4 15.4 57.6 15.6 58.8 15.8 59.6 16.0 60.4 16.4 61.5 16.8 62.4 17.1 63.2 17.5 64.0 17.8 64.8 18.0 65.6 18.4 66.8 18.6 67.6 18.7 68.8 18.7 70.0 18.6 71.2 18.4 72.4 18.2 73.2 17.8 74.0 17.4 74.8 16.9 75.6 16.4 76.2 15.9 76.8 15.2 77.4 14.4 78.0 13.7 78.4 12.8 78.8 12.0 79.0 11.1 79.2Z" stroke="#555" stroke-width="0.55" fill="#000" fill-opacity="0.02"/>
<path d="M11.2 78.0 10.0 78.1 8.8 78.0 8.0 77.9 7.2 77.6 6.4 77.2 5.6 76.7 4.8 76.0 4.4 75.6 3.8 74.8 3.3 74.0 2.9 73.2 2.6 72.4 2.4 71.4 2.3 70.4 2.2 69.2 2.4 68.0 2.5 67.2 2.8 66.2 3.1 65.2 3.4 64.4 3.8 63.6 4.2 62.8 4.5 62.0 4.9 61.2 5.2 60.3 5.5 59.2 5.6 58.4 5.8 57.2 5.8 56.0 5.7 54.8 5.6 53.6 5.6 52.8 5.5 51.6 5.3 50.4 5.3 49.2 5.2 48.1 5.2 47.2 5.2 46.0 5.2 45.2 5.3 44.0 5.5 42.8 5.7 42.0 6.0 41.1 6.4 40.3 6.8 39.6 7.4 38.8 8.0 38.2 8.8 37.8 9.6 37.5 10.8 37.5 11.6 37.7 12.4 38.2 13.0 38.8 13.6 39.6 14.0 40.2 14.4 41.2 14.7 42.0 14.8 42.8 15.0 44.0 15.1 45.2 15.1 46.4 15.0 47.6 14.9 48.8 14.8 50.0 14.7 50.8 14.6 52.0 14.4 53.2 14.4 54.0 14.3 55.2 14.2 56.4 14.2 57.6 14.4 58.8 14.6 59.6 14.8 60.4 15.2 61.5 15.6 62.4 16.0 63.2 16.3 64.0 16.7 64.8 17.0 65.6 17.2 66.4 17.5 67.6 17.6 68.4 17.7 69.6 17.6 70.8 17.5 71.6 17.2 72.7 16.8 73.6 16.4 74.4 16.0 75.0 15.5 75.6 14.8 76.3 14.2 76.8 13.5 77.2 12.7 77.6 11.6 78.0Z" stroke="#555" stroke-width="0.55" fill="#000" fill-opacity="0.025"/>
<path d="M11.2 76.8 10.0 76.9 8.8 76.8 8.0 76.6 7.2 76.3 6.4 75.8 5.7 75.2 5.2 74.7 4.6 74.0 4.2 73.2 3.8 72.4 3.6 71.6 3.4 70.4 3.3 69.2 3.5 68.0 3.6 67.2 4.0 66.0 4.3 65.2 4.7 64.4 5.1 63.6 5.5 62.8 5.9 62.0 6.3 61.2 6.6 60.4 6.9 59.6 7.2 58.4 7.2 57.6 7.3 56.4 7.2 55.6 7.1 54.4 6.9 53.2 6.8 52.4 6.6 51.2 6.5 50.0 6.4 48.8 6.3 48.0 6.3 46.8 6.3 45.6 6.4 44.8 6.6 43.6 6.8 42.8 7.2 41.7 7.6 41.0 8.0 40.4 8.8 39.7 9.6 39.4 10.8 39.4 11.6 39.7 12.4 40.4 12.8 41.0 13.2 41.8 13.6 42.8 13.7 43.6 13.9 44.8 13.9 46.0 13.9 47.2 13.8 48.4 13.7 49.6 13.6 50.4 13.4 51.6 13.2 52.8 13.1 53.6 12.9 54.8 12.8 55.6 12.7 56.8 12.8 58.0 12.9 58.8 13.2 60.0 13.5 60.8 13.9 61.6 14.3 62.4 14.7 63.2 15.1 64.0 15.5 64.8 15.8 65.6 16.1 66.4 16.4 67.6 16.5 68.4 16.6 69.6 16.5 70.8 16.4 71.6 16.0 72.7 15.6 73.5 15.2 74.1 14.7 74.8 14.0 75.4 13.2 76.0 12.5 76.4 11.6 76.7Z" stroke="#555" stroke-width="0.55" fill="#000" fill-opacity="0.03"/>
<path d="M10.4 54.4 9.6 54.4 9.1 53.6 8.7 52.8 8.4 51.7 8.2 50.8 8.0 49.9 7.8 48.8 7.7 47.6 7.7 46.4 7.8 45.2 8.0 44.0 8.3 43.2 8.8 42.4 9.2 42.0 10.4 41.7 11.2 42.0 11.8 42.8 12.2 43.6 12.4 44.4 12.5 45.6 12.5 46.8 12.4 48.0 12.3 48.8 12.1 50.0 11.9 50.8 11.6 51.9 11.3 52.8 10.9 53.6 10.4 54.4ZM10.8 75.6 9.6 75.7 8.8 75.6 7.8 75.2 7.1 74.8 6.4 74.2 5.8 73.6 5.3 72.8 4.9 72.0 4.6 71.2 4.5 70.0 4.5 68.8 4.7 67.6 4.9 66.8 5.2 66.0 5.6 65.1 6.0 64.4 6.5 63.6 7.0 62.8 7.5 62.0 8.0 61.4 8.5 60.8 9.2 60.0 10.0 59.6 10.8 60.0 11.5 60.8 12.0 61.4 12.4 62.0 13.0 62.8 13.5 63.6 14.0 64.4 14.4 65.2 14.8 66.0 15.1 66.8 15.3 67.6 15.5 68.8 15.5 70.0 15.3 71.2 15.1 72.0 14.7 72.8 14.1 73.6 13.6 74.2 12.9 74.8 12.2 75.2 11.2 75.5Z" stroke="#2a2a2a" stroke-width="0.9" fill="#000" fill-opacity="0.12"/>
<path d="M11.2 74.5 10.0 74.7 8.8 74.5 8.0 74.2 7.2 73.6 6.7 73.2 6.2 72.4 5.8 71.6 5.5 70.8 5.4 69.6 5.4 68.4 5.6 67.6 6.0 66.5 6.4 65.6 6.8 65.0 7.2 64.4 7.9 63.6 8.4 63.1 9.2 62.6 10.4 62.5 11.2 62.9 12.0 63.5 12.4 64.0 13.0 64.8 13.5 65.6 13.9 66.4 14.2 67.2 14.4 68.0 14.6 69.2 14.5 70.4 14.3 71.2 14.0 72.0 13.5 72.8 12.8 73.6 12.2 74.0 11.4 74.4Z" stroke="#444" stroke-width="0.6" fill="#000" fill-opacity="0.1"/>
<path d="M11.2 73.3 10.0 73.6 8.8 73.3 8.0 72.9 7.4 72.4 6.9 71.6 6.5 70.8 6.4 70.0 6.4 68.8 6.5 68.0 6.8 67.1 7.2 66.3 7.7 65.6 8.4 64.9 9.2 64.4 10.0 64.3 10.8 64.4 11.6 64.9 12.3 65.6 12.8 66.4 13.2 67.2 13.4 68.0 13.6 68.9 13.6 69.8 13.4 70.8 13.1 71.6 12.5 72.4 12.0 72.9 11.2 73.3Z" stroke="#444" stroke-width="0.6" fill="#000" fill-opacity="0.08"/>
<path d="M10.8 72.1 9.6 72.2 8.8 71.9 8.0 71.2 7.6 70.4 7.5 69.6 7.6 68.4 7.9 67.6 8.4 66.8 8.8 66.4 9.9 66.0 10.4 66.0 11.2 66.5 11.8 67.2 12.2 68.0 12.4 68.8 12.4 70.0 12.1 70.8 11.6 71.6 11.0 72.0Z" stroke="#555" stroke-width="0.55" fill="#000" fill-opacity="0.05"/>
<path d="M10.8 70.9 9.6 71.1 8.8 70.5 8.4 69.6 8.6 68.4 9.2 67.6 10.0 67.3 10.8 67.6 11.4 68.4 11.5 69.6 11.2 70.4Z" stroke="#666" stroke-width="0.5" fill="#000" fill-opacity="0.0"/>
<path d="M10.4 79.2 9.2 79.2 8.4 79.1 7.4 78.8 6.4 78.4 5.7 78.0 5.1 77.6 4.4 77.1 3.7 76.4 3.2 75.7 2.8 75.2 2.4 74.4 2.0 73.6 1.6 72.4 1.4 71.6 1.3 70.4 1.3 69.2 1.5 68.0 1.7 67.2 2.0 66.3 2.4 65.4 2.8 64.8 3.3 64.0 4.0 63.2 4.5 62.8 5.2 62.2 6.0 61.7 6.8 61.3 7.6 61.0 8.6 60.8 9.6 60.7 10.8 60.7 11.6 60.8 12.8 61.2 13.6 61.5 14.4 62.0 15.0 62.4 15.6 62.9 16.3 63.6 16.8 64.2 17.2 64.8 17.6 65.6 18.0 66.4 18.4 67.6 18.5 68.4 18.6 69.6 18.6 70.8 18.4 72.0 18.2 72.8 18.0 73.6 17.6 74.4 17.1 75.2 16.6 76.0 16.0 76.6 15.4 77.2 14.8 77.7 14.0 78.2 13.2 78.6 12.4 78.9 11.2 79.1 10.4 79.2Z" fill="#000" fill-opacity="0.18"/>
<path d="M10.8 64.1 9.6 64.2 8.8 64.0 8.0 63.6 7.2 62.9 6.8 62.4 6.2 61.6 5.7 60.8 5.4 60.0 5.0 59.2 4.8 58.4 4.4 57.2 4.3 56.4 4.0 55.2 3.9 54.4 3.7 53.2 3.6 52.0 3.5 51.2 3.4 50.0 3.4 48.8 3.3 47.6 3.3 46.4 3.3 45.2 3.4 44.0 3.5 42.8 3.7 42.0 4.0 40.8 4.2 40.0 4.5 39.2 4.9 38.4 5.4 37.6 6.0 36.8 6.4 36.3 7.2 35.6 7.9 35.2 8.8 34.8 9.6 34.6 10.8 34.6 11.7 34.8 12.6 35.2 13.2 35.6 14.0 36.3 14.5 36.8 15.1 37.6 15.5 38.4 15.9 39.2 16.2 40.0 16.4 40.8 16.7 42.0 16.8 42.8 16.9 44.0 17.0 45.2 17.0 46.4 16.9 47.6 16.8 48.8 16.7 49.6 16.6 50.8 16.5 52.0 16.4 52.8 16.2 54.0 16.0 55.1 15.8 56.0 15.6 57.0 15.3 58.0 15.1 58.8 14.8 59.6 14.4 60.5 14.0 61.2 13.5 62.0 12.8 62.8 12.4 63.2 11.6 63.8 10.8 64.1Z" fill="#000" fill-opacity="0.12"/>
<path d="M8 31h1M21 40h1M17 34h1M1 48h1M1 36h1M18 37h1M24 69h1M22 70h1M19 55h1M24 71h1M20 79h1M1 43h1M1 44h1M4 34h1M23 69h1M20 41h1M0 57h1M16 35h1M19 49h1M3 37h1M0 54h1M11 84h1M1 56h1M14 84h1M8 31h1M14 32h1M0 48h1M10 31h1M5 32h1M19 39h1M23 68h1M13 29h1M8 32h1M21 79h1M22 61h1M23 67h1M22 72h1M3 36h1M23 69h1M11 31h1M24 69h1M7 31h1M21 46h1M12 83h1M9 85h1M19 40h1M17 32h1M21 42h1M15 82h1M1 80h1M12 84h1M11 28h1M15 31h1M5 83h1M22 64h1M0 43h1M18 82h1M20 78h1M3 37h1M21 45h1M3 34h1M2 36h1M20 48h1M21 44h1M14 30h1M1 41h1M22 61h1M20 41h1M19 37h1M1 48h1M23 78h1M10 86h1M9 86h1M20 79h1M8 31h1M3 34h1M15 84h1M2 82h1M7 30h1M18 34h1M20 81h1M19 37h1M21 78h1M20 50h1M18 82h1M24 66h1M1 53h1M22 60h1M23 66h1M20 48h1M20 56h1M21 77h1M1 58h1M22 62h1M8 84h1M4 33h1M18 36h1M15 32h1M2 39h1M20 43h1M11 84h1M0 52h1M16 33h1M0 52h1M24 72h1M5 83h1M23 76h1M20 37h1M14 31h1M20 53h1M3 83h1M9 31h1M1 39h1M18 83h1M13 85h1M14 33h1M20 54h1M4 32h1M16 83h1M6 84h1M21 78h1M5 34h1M19 45h1M18 81h1M14 82h1M23 67h1M24 71h1M20 50h1M2 37h1M1 40h1M0 56h1M20 43h1M2 36h1M14 83h1M13 29h1M4 82h1M20 40h1M22 76h1M22 75h1M8 83h1M23 75h1M21 64h1M2 35h1M21 42h1M20 54h1M0 45h1M3 82h1M1 80h1M24 67h1M6 84h1M3 36h1M5 82h1M2 82h1M7 31h1M20 47h1M2 38h1M22 67h1M7 84h1M0 50h1M22 70h1M2 41h1M23 67h1M2 35h1M11 85h1M6 84h1M23 66h1M2 37h1M23 70h1M18 80h1M24 73h1M19 56h1M1 48h1M5 84h1M0 49h1M15 30h1M13 31h1M23 74h1M1 38h1M24 66h1M14 32h1M16 30h1M24 63h1M1 40h1M3 35h1M21 46h1M1 81h1M23 74h1M22 73h1M11 31h1M23 71h1M3 35h1M19 57h1M24 74h1M18 82h1M5 84h1M1 82h1M6 85h1M19 37h1M24 73h1M20 43h1M19 56h1M14 32h1M23 73h1M22 72h1M25 70h1M20 37h1M17 35h1M13 84h1M6 83h1M24 73h1M11 84h1M23 73h1M18 83h1M21 76h1M18 33h1M23 63h1M14 83h1M2 81h1M20 47h1M20 61h1M16 34h1M22 76h1M21 77h1M1 44h1M15 83h1M19 50h1M19 52h1M18 37h1M19 50h1M21 78h1M2 80h1M20 80h1M3 35h1M17 82h1M7 32h1M10 30h1M14 31h1M1 48h1M21 59h1M0 58h1M21 59h1M21 62h1M24 67h1M21 55h1M21 59h1M25 68h1M2 41h1M19 41h1M9 28h1M19 57h1M24 72h1M6 31h1M3 35h1M19 59h1M19 49h1M21 62h1M1 82h1M22 71h1M17 81h1M1 43h1M1 54h1M19 50h1M2 36h1M9 86h1M18 80h1M11 84h1M1 49h1M22 61h1M20 40h1M13 85h1M0 61h1M12 86h1M21 78h1M1 82h1M21 55h1M9 85h1M13 83h1M1 44h1M6 85h1M1 39h1M19 36h1M1 38h1M22 72h1M1 54h1M3 34h1M21 61h1M21 50h1M4 34h1M18 82h1M22 63h1M22 65h1M11 31h1M1 54h1M1 42h1M23 71h1M20 56h1M10 31h1M17 35h1M7 30h1M1 56h1M21 49h1M19 59h1M2 38h1M18 36h1M1 80h1M1 43h1M20 57h1M5 30h1M11 31h1M2 34h1M20 60h1M0 79h1M19 45h1M2 84h1M3 35h1M1 51h1M19 56h1M16 35h1M20 52h1M21 80h1M12 84h1M8 30h1M1 43h1M1 42h1M22 67h1M20 59h1M8 86h1M21 55h1M0 38h1M23 76h1M1 49h1M23 73h1M23 73h1M18 81h1M8 84h1M20 46h1M1 80h1M4 34h1M19 40h1M18 35h1M29 71h1M20 84h1M18 27h1M29 68h1M23 78h1M17 31h1M21 38h1M24 65h1M16 30h1M22 37h1M2 84h1M21 56h1M29 74h1M9 28h1M25 68h1M20 30h1M22 36h1M29 69h1M24 59h1M6 24h1M6 86h1M3 29h1M27 73h1M17 85h1M26 75h1M22 59h1M22 47h1M21 37h1M24 82h1M24 50h1M22 58h1M23 44h1M25 62h1M23 60h1M24 48h1M28 73h1M22 83h1M30 69h1M25 84h1M23 27h1" stroke="#222" stroke-width="1" stroke-opacity="0.75" shape-rendering="crispEdges"/>
<path d="M20 46h1M20 37h1M22 77h1M66 33h1M51 38h1M66 34h1M46 28h1M43 36h1M38 54h1M36 58h1M24 74h1M71 71h1M45 27h1M36 44h1M46 40h1M26 47h1M70 32h1M42 63h1M50 22h1M31 43h1M31 54h1M34 31h1M36 28h1M30 47h1M38 20h1M48 43h1M53 20h1M37 46h1M34 60h1M47 48h1M42 28h1M36 21h1M56 50h1M50 44h1M60 55h1M67 27h1M39 27h1M56 39h1M46 23h1M37 19h1M54 57h1M50 21h1M47 52h1M62 37h1M42 25h1M44 26h1M50 26h1M37 46h1M50 23h1M44 41h1M45 27h1M53 38h1M48 32h1M54 29h1M62 29h1M56 61h1M78 33h1M42 28h1M57 34h1M63 61h1M56 43h1M57 57h1M40 15h1M47 39h1M51 64h1M57 49h1M36 50h1M50 33h1M40 42h1M26 41h1M43 27h1M62 31h1M49 37h1M61 34h1M41 25h1M60 31h1M37 37h1M30 39h1M42 74h1M42 20h1M69 48h1M44 25h1M76 49h1M64 41h1M57 40h1M53 43h1M52 30h1M37 36h1M31 42h1M67 32h1M52 42h1M43 25h1M54 40h1M27 31h1M66 35h1M47 45h1M62 28h1M50 42h1M57 49h1M43 28h1M52 11h1M41 35h1M67 30h1M73 55h1M59 24h1M54 52h1M36 52h1M32 20h1M38 27h1M28 55h1M59 24h1M55 20h1M67 49h1M67 28h1M28 38h1M57 23h1M51 38h1M42 25h1M58 52h1M38 50h1M27 48h1M76 29h1M74 52h1M52 38h1M39 39h1M32 50h1M40 46h1M39 44h1M54 24h1M28 55h1M45 41h1M54 50h1M49 41h1M49 27h1M68 35h1M50 41h1M45 60h1M48 26h1M55 37h1M28 18h1M42 47h1M20 35h1M60 41h1M51 43h1M72 43h1M26 38h1M40 45h1M39 26h1M46 18h1M56 38h1M69 26h1M58 40h1M32 35h1M52 36h1M43 51h1M60 30h1M48 49h1M52 61h1M54 57h1M64 38h1M35 36h1M63 18h1M31 14h1M39 49h1M78 53h1M33 42h1M37 38h1M36 41h1M26 45h1M53 24h1M50 41h1M49 59h1M46 41h1M61 23h1M35 41h1M31 23h1M33 52h1M41 28h1M30 42h1M32 29h1M55 51h1M35 51h1M43 42h1M55 34h1M62 51h1M40 38h1M36 17h1M50 20h1M45 22h1M38 63h1M43 42h1M58 35h1M59 26h1M70 31h1M55 52h1M60 8h1M22 40h1M40 36h1M53 29h1M46 51h1M45 35h1M32 39h1M42 40h1M65 52h1M36 44h1M62 79h1M23 17h1M67 34h1M67 17h1M33 32h1M45 42h1M53 43h1M34 39h1M38 29h1M64 54h1M56 43h1M48 38h1M26 55h1M47 31h1M31 41h1M65 46h1M50 28h1M59 50h1M44 49h1M43 23h1M52 51h1M31 48h1M48 30h1M51 49h1M48 23h1M44 43h1M50 29h1M60 36h1M40 51h1M37 60h1M52 49h1M66 49h1M28 49h1M48 63h1M30 42h1M48 60h1M56 28h1M40 75h1M45 38h1M45 34h1M67 28h1M50 50h1M44 57h1M62 46h1M61 32h1M60 47h1M84 31h1M31 38h1M54 69h1M36 46h1M57 29h1M54 34h1M59 37h1M52 55h1M60 52h1M48 53h1M24 39h1M45 55h1M54 43h1M52 52h1M33 52h1M37 44h1M58 48h1M52 43h1M23 17h1M39 21h1M38 45h1M41 38h1M37 34h1M50 37h1M57 31h1M53 41h1M59 59h1M47 39h1M30 60h1M35 39h1M59 68h1M41 42h1M32 36h1M37 22h1M32 21h1M57 40h1M59 63h1M32 52h1M32 41h1M37 35h1M51 25h1M52 37h1M36 36h1M48 34h1M53 19h1M51 51h1M29 74h1M31 61h1M34 73h1M53 60h1M57 74h1M32 65h1M46 66h1M62 69h1M62 78h1M49 71h1M29 67h1M38 67h1M43 61h1M51 67h1M33 64h1M32 73h1M59 66h1M53 71h1M64 77h1M30 83h1M41 71h1M51 84h1M32 73h1M49 73h1M38 73h1M45 68h1M52 70h1M50 72h1M47 67h1M27 82h1M45 65h1M27 69h1M50 81h1M56 79h1M40 80h1M46 63h1M32 67h1M32 68h1M36 84h1M55 77h1M55 69h1M49 74h1M50 68h1M45 55h1M41 76h1M50 60h1M42 66h1M53 68h1M26 60h1M58 78h1M42 71h1M51 65h1M28 66h1M26 67h1M28 74h1" stroke="#555" stroke-width="1" stroke-opacity="0.75" shape-rendering="crispEdges"/>
</g></g>
<rect x="336.80" y="126.20" width="86.20" height="86.70" fill="none" stroke="#111" stroke-width="1.2"/>
<line x1="336.20" y1="213.30" x2="423.60" y2="213.30" stroke="#111" stroke-width="1.0"/>
<line x1="364.80" y1="126.20" x2="364.80" y2="212.90" stroke="#111" stroke-width="1.0"/>
<line x1="336.80" y1="189.70" x2="423.00" y2="189.70" stroke="#111" stroke-width="1.0"/>
<path d="M336.8 212.9h-2.0M336.8 212.9v2.0M336.8 206.4h-1.2M343.3 212.9v1.2M336.8 202.6h-1.2M347.1 212.9v1.2M336.8 199.9h-1.2M349.8 212.9v1.2M336.8 197.8h-1.2M351.9 212.9v1.2M336.8 196.1h-1.2M353.6 212.9v1.2M336.8 194.7h-1.2M355.0 212.9v1.2M336.8 193.4h-1.2M356.3 212.9v1.2M336.8 192.3h-1.2M357.4 212.9v1.2M336.8 191.3h-2.0M358.4 212.9v2.0M336.8 184.9h-1.2M364.8 212.9v1.2M336.8 181.1h-1.2M368.6 212.9v1.2M336.8 178.4h-1.2M371.3 212.9v1.2M336.8 176.3h-1.2M373.4 212.9v1.2M336.8 174.6h-1.2M375.1 212.9v1.2M336.8 173.1h-1.2M376.6 212.9v1.2M336.8 171.9h-1.2M377.8 212.9v1.2M336.8 170.8h-1.2M378.9 212.9v1.2M336.8 169.8h-2.0M379.9 212.9v2.0M336.8 163.3h-1.2M386.4 212.9v1.2M336.8 159.5h-1.2M390.2 212.9v1.2M336.8 156.8h-1.2M392.9 212.9v1.2M336.8 154.7h-1.2M395.0 212.9v1.2M336.8 153.0h-1.2M396.7 212.9v1.2M336.8 151.6h-1.2M398.1 212.9v1.2M336.8 150.3h-1.2M399.4 212.9v1.2M336.8 149.2h-1.2M400.5 212.9v1.2M336.8 148.2h-2.0M401.5 212.9v2.0M336.8 141.8h-1.2M407.9 212.9v1.2M336.8 138.0h-1.2M411.7 212.9v1.2M336.8 135.3h-1.2M414.4 212.9v1.2M336.8 133.2h-1.2M416.5 212.9v1.2M336.8 131.5h-1.2M418.2 212.9v1.2M336.8 130.0h-1.2M419.7 212.9v1.2M336.8 128.8h-1.2M420.9 212.9v1.2M336.8 127.7h-1.2M422.0 212.9v1.2M336.8 126.2h-2M423.0 212.9v2" stroke="#333" stroke-width=".7"/>
<text x="335.60" y="223.30" font-size="6.4" text-anchor="middle" fill="#333" stroke="#333" stroke-width="0.22">10</text>
<text x="338.40" y="219.70" font-size="3.8" fill="#333" stroke="#333" stroke-width="0.22">0</text>
<text x="357.15" y="223.30" font-size="6.4" text-anchor="middle" fill="#333" stroke="#333" stroke-width="0.22">10</text>
<text x="359.95" y="219.70" font-size="3.8" fill="#333" stroke="#333" stroke-width="0.22">1</text>
<text x="378.70" y="223.30" font-size="6.4" text-anchor="middle" fill="#333" stroke="#333" stroke-width="0.22">10</text>
<text x="381.50" y="219.70" font-size="3.8" fill="#333" stroke="#333" stroke-width="0.22">2</text>
<text x="400.25" y="223.30" font-size="6.4" text-anchor="middle" fill="#333" stroke="#333" stroke-width="0.22">10</text>
<text x="403.05" y="219.70" font-size="3.8" fill="#333" stroke="#333" stroke-width="0.22">3</text>
<text x="421.80" y="223.30" font-size="6.4" text-anchor="middle" fill="#333" stroke="#333" stroke-width="0.22">10</text>
<text x="424.60" y="219.70" font-size="3.8" fill="#333" stroke="#333" stroke-width="0.22">4</text>
<text x="338.76" y="141.22" font-size="18.08" stroke="#000" stroke-width="0.22" textLength="18.70" lengthAdjust="spacingAndGlyphs">33</text>
<text x="411.88" y="141.40" font-size="18.33" stroke="#000" stroke-width="0.22" textLength="9.48" lengthAdjust="spacingAndGlyphs">2</text>
<text x="412.01" y="211.33" font-size="17.66" stroke="#000" stroke-width="0.22" textLength="9.13" lengthAdjust="spacingAndGlyphs">0</text>
<ellipse cx="346.8" cy="196.3" rx="8.0" ry="8.3" fill="none" stroke="#1a1a1a" stroke-width="1.3"/>
<clipPath id="cp10"><rect x="428.20" y="126.20" width="86.80" height="86.70"/></clipPath>
<g clip-path="url(#cp10)"><g transform="translate(428.20 126.20)">
<path d="M12.0 82.8 10.8 82.9 9.6 82.9 8.8 82.8 7.6 82.6 6.8 82.3 6.0 82.0 5.1 81.6 4.4 81.2 3.6 80.6 2.8 80.0 2.4 79.6 1.6 78.8 1.2 78.3 0.7 77.6 0.2 76.8 -0.0 76.0 -0.1 74.8 -0.1 73.6 -0.2 72.4 -0.2 71.2 -0.2 70.0 -0.2 68.8 -0.2 67.6 -0.2 66.4 -0.1 65.2 -0.1 64.0 -0.1 62.8 -0.0 61.6 -0.0 60.4 0.0 59.6 0.2 58.4 0.3 57.2 0.4 56.0 0.4 55.2 0.4 54.0 0.4 52.8 0.4 51.6 0.4 50.4 0.4 49.2 0.4 48.4 0.4 47.2 0.3 46.0 0.3 44.8 0.2 43.6 0.2 42.4 0.3 41.2 0.4 40.0 0.5 39.2 0.7 38.0 0.9 37.2 1.2 36.2 1.6 35.3 2.0 34.5 2.4 33.8 2.8 33.2 3.5 32.4 4.0 31.9 4.8 31.2 5.3 30.8 6.0 30.4 6.8 29.9 7.6 29.6 8.8 29.3 9.6 29.1 10.8 29.1 12.0 29.2 12.8 29.3 13.8 29.6 14.8 30.0 15.5 30.4 16.2 30.8 16.8 31.3 17.6 32.0 18.0 32.4 18.6 33.2 19.2 34.0 19.6 34.8 20.0 35.6 20.3 36.4 20.5 37.2 20.8 38.4 20.9 39.2 21.1 40.4 21.1 41.6 21.1 42.8 21.0 44.0 20.9 45.2 20.8 46.4 20.7 47.2 20.7 48.4 20.6 49.6 20.6 50.8 20.5 52.0 20.5 53.2 20.5 54.4 20.5 55.6 20.6 56.8 20.6 58.0 20.8 59.2 20.9 60.0 21.2 61.2 21.4 62.0 21.6 62.9 21.9 64.0 22.1 64.8 22.3 66.0 22.5 66.8 22.6 68.0 22.7 69.2 22.6 70.4 22.5 71.6 22.4 72.4 22.1 73.6 21.8 74.4 21.5 75.2 21.2 76.0 20.7 76.8 20.2 77.6 19.6 78.4 19.2 78.9 18.5 79.6 18.0 80.1 17.2 80.7 16.5 81.2 15.8 81.6 14.9 82.0 14.0 82.4 13.2 82.6 12.1 82.8Z" stroke="#1a1a1a" stroke-width="1.1" fill="#000" fill-opacity="0.02"/>
<path d="M11.2 81.6 10.0 81.6 9.2 81.6 8.0 81.4 7.2 81.1 6.4 80.8 5.6 80.4 4.8 80.0 4.0 79.4 3.3 78.8 2.8 78.3 2.2 77.6 1.6 76.8 1.2 76.2 0.8 75.4 0.4 74.6 0.1 73.6 -0.0 72.8 -0.1 71.6 -0.1 70.4 -0.1 69.2 -0.1 68.0 -0.0 66.8 -0.0 65.6 0.1 64.8 0.4 63.6 0.6 62.8 0.8 62.0 1.1 60.8 1.3 60.0 1.5 58.8 1.6 58.0 1.7 56.8 1.8 55.6 1.8 54.4 1.8 53.2 1.8 52.0 1.8 50.8 1.8 49.6 1.8 48.4 1.7 47.2 1.7 46.0 1.7 44.8 1.6 43.6 1.6 42.4 1.7 41.2 1.8 40.0 2.0 38.8 2.2 38.0 2.4 37.2 2.8 36.2 3.2 35.4 3.6 34.7 4.1 34.0 4.8 33.2 5.2 32.8 6.0 32.2 6.8 31.7 7.6 31.3 8.4 31.0 9.3 30.8 10.4 30.7 11.6 30.7 12.4 30.8 13.6 31.2 14.4 31.6 15.2 32.0 15.7 32.4 16.4 33.0 17.0 33.6 17.6 34.4 18.0 35.0 18.4 35.7 18.8 36.6 19.1 37.6 19.4 38.4 19.6 39.6 19.6 40.4 19.7 41.6 19.7 42.8 19.6 44.0 19.6 44.8 19.5 46.0 19.4 47.2 19.3 48.4 19.2 49.6 19.2 50.8 19.2 51.6 19.2 52.8 19.2 54.0 19.2 55.2 19.2 56.4 19.2 57.2 19.3 58.4 19.5 59.6 19.7 60.4 20.0 61.6 20.2 62.4 20.4 63.2 20.7 64.4 20.9 65.2 21.2 66.4 21.3 67.2 21.4 68.4 21.5 69.6 21.4 70.8 21.3 72.0 21.1 72.8 20.8 73.8 20.4 74.8 20.0 75.6 19.6 76.3 19.2 77.0 18.7 77.6 18.0 78.4 17.6 78.8 16.8 79.5 16.0 80.0 15.4 80.4 14.5 80.8 13.6 81.1 12.8 81.4 11.6 81.6Z" stroke="#444" stroke-width="0.6" fill="#000" fill-opacity="0.02"/>
<path d="M11.6 80.4 10.4 80.5 9.2 80.4 8.4 80.3 7.5 80.0 6.5 79.6 5.7 79.2 5.1 78.8 4.4 78.3 3.7 77.6 3.2 77.1 2.6 76.4 2.1 75.6 1.7 74.8 1.3 74.0 1.0 73.2 0.8 72.3 0.6 71.2 0.5 70.0 0.5 68.8 0.6 67.6 0.8 66.4 1.0 65.6 1.2 64.7 1.5 63.6 1.8 62.8 2.0 62.0 2.4 60.8 2.6 60.0 2.8 58.8 2.9 58.0 3.0 56.8 3.0 55.6 3.1 54.4 3.1 53.2 3.1 52.0 3.1 50.8 3.1 49.6 3.1 48.4 3.0 47.2 3.0 46.0 2.9 44.8 2.9 43.6 2.9 42.4 3.0 41.2 3.1 40.0 3.2 39.2 3.6 38.0 3.9 37.2 4.2 36.4 4.7 35.6 5.2 34.9 5.7 34.4 6.4 33.7 7.2 33.2 7.9 32.8 8.8 32.5 9.6 32.3 10.8 32.2 12.0 32.3 12.8 32.5 13.6 32.8 14.4 33.3 15.2 33.9 15.8 34.4 16.4 35.1 16.8 35.7 17.2 36.4 17.6 37.3 18.0 38.4 18.1 39.2 18.3 40.4 18.4 41.6 18.4 42.8 18.3 44.0 18.2 45.2 18.1 46.4 18.0 47.6 18.0 48.4 17.9 49.6 17.9 50.8 17.9 52.0 17.9 53.2 17.9 54.4 17.9 55.6 17.9 56.8 18.0 57.9 18.1 58.8 18.4 60.0 18.6 60.8 18.8 61.7 19.1 62.8 19.4 63.6 19.6 64.4 19.9 65.6 20.1 66.4 20.3 67.6 20.4 68.6 20.4 69.6 20.4 70.4 20.2 71.6 20.0 72.7 19.7 73.6 19.4 74.4 19.0 75.2 18.5 76.0 18.0 76.7 17.6 77.2 16.8 78.0 16.4 78.4 15.6 78.9 14.8 79.4 14.0 79.8 13.2 80.1 12.0 80.4Z" stroke="#555" stroke-width="0.55" fill="#000" fill-opacity="0.02"/>
<path d="M11.6 79.2 10.4 79.3 9.2 79.2 8.4 79.0 7.6 78.8 6.7 78.4 6.0 78.0 5.2 77.4 4.5 76.8 4.0 76.3 3.5 75.6 3.0 74.8 2.6 74.0 2.2 73.2 2.0 72.4 1.7 71.2 1.6 70.1 1.6 69.2 1.6 68.4 1.8 67.2 2.0 66.1 2.2 65.2 2.5 64.4 2.8 63.4 3.2 62.4 3.4 61.6 3.7 60.8 4.0 59.7 4.2 58.8 4.4 57.6 4.4 56.8 4.5 55.6 4.5 54.4 4.5 53.2 4.5 52.0 4.5 50.8 4.5 49.6 4.5 48.4 4.5 47.2 4.5 46.0 4.4 44.8 4.4 44.0 4.4 42.8 4.4 41.8 4.5 40.8 4.7 39.6 4.9 38.8 5.2 38.0 5.6 37.2 6.1 36.4 6.8 35.6 7.3 35.2 8.0 34.7 8.8 34.3 10.0 34.0 10.8 33.9 11.6 34.0 12.8 34.4 13.6 34.8 14.2 35.2 14.8 35.8 15.3 36.4 15.8 37.2 16.2 38.0 16.5 38.8 16.8 40.0 16.9 40.8 16.9 42.0 16.9 43.2 16.8 44.4 16.8 45.2 16.7 46.4 16.6 47.6 16.5 48.8 16.5 50.0 16.4 51.2 16.4 52.4 16.4 53.6 16.4 54.8 16.4 56.0 16.5 57.2 16.6 58.4 16.8 59.3 17.1 60.4 17.3 61.2 17.6 62.0 18.0 63.1 18.3 64.0 18.6 64.8 18.8 65.7 19.1 66.8 19.2 67.6 19.3 68.8 19.3 70.0 19.2 71.1 19.0 72.0 18.8 72.8 18.4 73.9 18.0 74.7 17.6 75.3 17.1 76.0 16.4 76.8 16.0 77.2 15.2 77.8 14.4 78.3 13.6 78.7 12.8 79.0 11.7 79.2Z" stroke="#555" stroke-width="0.55" fill="#000" fill-opacity="0.02"/>
<path d="M11.6 78.1 10.4 78.2 9.2 78.1 8.4 77.9 7.6 77.6 6.8 77.2 6.0 76.7 5.2 76.0 4.8 75.5 4.2 74.8 3.7 74.0 3.4 73.2 3.1 72.4 2.8 71.4 2.7 70.4 2.6 69.2 2.7 68.0 2.8 67.2 3.1 66.0 3.3 65.2 3.6 64.4 4.0 63.4 4.4 62.5 4.8 61.6 5.1 60.8 5.4 60.0 5.6 59.2 5.9 58.0 6.0 56.8 6.0 56.0 6.1 54.8 6.1 53.6 6.1 52.4 6.1 51.2 6.1 50.0 6.1 48.8 6.1 47.6 6.0 46.4 6.0 45.6 5.9 44.4 5.9 43.2 5.9 42.0 6.0 41.2 6.2 40.0 6.5 39.2 6.9 38.4 7.4 37.6 8.0 36.9 8.7 36.4 9.6 36.0 10.4 35.9 11.6 36.0 12.4 36.2 13.2 36.7 13.7 37.2 14.3 38.0 14.7 38.8 15.0 39.6 15.2 40.4 15.4 41.6 15.4 42.8 15.3 44.0 15.2 45.2 15.1 46.0 15.0 47.2 15.0 48.4 14.9 49.6 14.9 50.8 14.9 52.0 14.9 53.2 14.9 54.4 14.9 55.6 14.9 56.8 15.1 58.0 15.2 58.8 15.5 60.0 15.8 60.8 16.1 61.6 16.5 62.4 16.8 63.2 17.2 64.2 17.6 65.2 17.8 66.0 18.0 66.8 18.2 68.0 18.3 69.2 18.2 70.4 18.1 71.6 17.8 72.4 17.5 73.2 17.2 74.0 16.7 74.8 16.0 75.6 15.6 76.1 14.8 76.7 14.1 77.2 13.3 77.6 12.4 77.9 11.6 78.1Z" stroke="#555" stroke-width="0.55" fill="#000" fill-opacity="0.025"/>
<path d="M11.6 76.8 10.4 77.0 9.2 76.8 8.4 76.6 7.6 76.3 6.8 75.8 6.1 75.2 5.6 74.7 5.1 74.0 4.6 73.2 4.2 72.4 4.0 71.6 3.8 70.4 3.7 69.2 3.8 68.0 4.0 67.0 4.3 66.0 4.6 65.2 4.9 64.4 5.3 63.6 5.7 62.8 6.1 62.0 6.6 61.2 7.0 60.4 7.4 59.6 7.7 58.8 8.0 58.0 8.3 56.8 8.4 55.6 8.4 54.4 8.4 53.2 8.4 52.0 8.4 51.2 8.4 50.0 8.4 48.8 8.4 47.9 8.3 46.8 8.2 45.6 8.1 44.4 8.1 43.2 8.1 42.0 8.4 40.8 8.8 40.0 9.2 39.4 10.0 38.9 10.8 38.7 11.6 39.0 12.3 39.6 12.8 40.4 13.1 41.2 13.2 42.3 13.2 43.2 13.1 44.0 13.0 45.2 12.8 46.4 12.7 47.2 12.6 48.4 12.6 49.6 12.6 50.8 12.6 52.0 12.5 53.2 12.5 54.4 12.5 55.6 12.6 56.8 12.8 57.6 13.2 58.8 13.5 59.6 13.9 60.4 14.3 61.2 14.8 62.0 15.2 62.8 15.6 63.6 16.0 64.4 16.3 65.2 16.6 66.0 16.9 66.8 17.1 68.0 17.2 69.2 17.1 70.4 16.9 71.6 16.7 72.4 16.3 73.2 15.8 74.0 15.2 74.8 14.8 75.2 14.0 75.8 13.2 76.3 12.4 76.6 11.6 76.8Z" stroke="#555" stroke-width="0.55" fill="#000" fill-opacity="0.03"/>
<path d="M11.2 75.7 10.0 75.7 9.2 75.6 8.2 75.2 7.5 74.8 6.8 74.2 6.2 73.6 5.7 72.8 5.3 72.0 5.1 71.2 4.9 70.0 4.9 68.8 5.0 67.6 5.2 66.8 5.6 65.8 6.0 65.0 6.4 64.2 6.8 63.6 7.4 62.8 8.0 62.2 8.6 61.6 9.2 61.2 10.2 60.8 10.8 60.8 11.7 61.2 12.4 61.7 13.1 62.4 13.6 63.0 14.1 63.6 14.6 64.4 15.0 65.2 15.4 66.0 15.7 66.8 16.0 68.0 16.1 68.8 16.0 70.0 15.9 70.8 15.6 72.0 15.2 72.8 14.8 73.4 14.3 74.0 13.6 74.7 12.8 75.2 12.0 75.5 11.2 75.7Z" stroke="#2a2a2a" stroke-width="0.9" fill="#000" fill-opacity="0.12"/>
<path d="M12.0 74.4 10.8 74.7 9.6 74.6 8.8 74.4 8.0 73.9 7.2 73.2 6.8 72.8 6.4 72.0 6.0 71.1 5.8 70.0 5.8 68.8 6.0 67.6 6.2 66.8 6.6 66.0 7.1 65.2 7.6 64.5 8.0 64.0 8.8 63.4 9.6 63.0 10.8 62.9 11.8 63.2 12.4 63.6 13.2 64.4 13.6 64.8 14.1 65.6 14.5 66.4 14.8 67.2 15.1 68.4 15.1 69.6 15.0 70.8 14.7 71.6 14.3 72.4 13.7 73.2 13.2 73.7 12.4 74.2Z" stroke="#444" stroke-width="0.6" fill="#000" fill-opacity="0.1"/>
<path d="M10.4 73.6 9.6 73.5 8.8 73.2 8.0 72.6 7.5 72.0 7.1 71.2 6.8 70.1 6.7 69.2 6.8 68.4 7.2 67.2 7.6 66.4 8.0 65.8 8.6 65.2 9.2 64.8 10.4 64.5 11.6 64.8 12.3 65.2 12.8 65.7 13.3 66.4 13.7 67.2 14.0 68.0 14.2 69.2 14.1 70.4 13.8 71.2 13.4 72.0 12.8 72.7 12.0 73.2 11.2 73.5 10.4 73.6Z" stroke="#444" stroke-width="0.6" fill="#000" fill-opacity="0.08"/>
<path d="M11.2 72.2 10.0 72.2 9.2 71.9 8.5 71.2 8.1 70.4 7.9 69.6 8.0 68.5 8.3 67.6 8.8 66.9 9.5 66.4 10.4 66.1 11.4 66.4 12.0 66.8 12.6 67.6 12.9 68.4 13.0 69.6 12.8 70.5 12.4 71.3 11.6 72.0Z" stroke="#555" stroke-width="0.55" fill="#000" fill-opacity="0.05"/>
<path d="M11.2 71.0 10.0 71.1 9.2 70.5 8.9 69.6 9.1 68.4 9.6 67.7 10.4 67.4 11.2 67.6 11.8 68.4 12.0 69.2 11.9 70.0 11.4 70.8Z" stroke="#666" stroke-width="0.5" fill="#000" fill-opacity="0.0"/>
<path d="M11.2 79.2 10.0 79.2 9.2 79.1 8.0 78.9 7.2 78.6 6.4 78.2 5.6 77.6 5.0 77.2 4.4 76.6 3.9 76.0 3.3 75.2 2.9 74.4 2.5 73.6 2.2 72.8 2.0 71.9 1.8 70.8 1.8 69.6 1.9 68.4 2.1 67.6 2.4 66.6 2.8 65.6 3.2 64.9 3.6 64.3 4.2 63.6 4.8 62.9 5.4 62.4 6.0 62.0 6.8 61.5 7.6 61.2 8.8 60.8 9.6 60.7 10.8 60.7 11.8 60.8 12.8 61.0 13.6 61.3 14.4 61.7 15.2 62.2 16.0 62.8 16.4 63.2 17.1 64.0 17.6 64.7 18.0 65.4 18.4 66.3 18.7 67.2 18.9 68.0 19.1 69.2 19.1 70.4 19.0 71.6 18.8 72.4 18.4 73.6 18.0 74.4 17.6 75.2 17.2 75.8 16.7 76.4 16.0 77.1 15.4 77.6 14.8 78.0 14.0 78.4 13.1 78.8 12.0 79.1 11.2 79.2Z" fill="#000" fill-opacity="0.18"/>
<path d="M10.4 65.2 9.6 65.1 8.4 64.8 7.6 64.4 7.0 64.0 6.4 63.5 5.7 62.8 5.2 62.2 4.8 61.6 4.3 60.8 3.9 60.0 3.6 59.2 3.2 58.1 3.0 57.2 2.8 56.4 2.6 55.2 2.4 54.0 2.4 53.2 2.3 52.0 2.3 50.8 2.3 49.6 2.2 48.4 2.2 47.2 2.2 46.0 2.1 44.8 2.1 43.6 2.1 42.4 2.1 41.2 2.3 40.0 2.4 39.1 2.7 38.0 2.9 37.2 3.2 36.4 3.7 35.6 4.2 34.8 4.8 34.0 5.2 33.6 6.0 32.9 6.7 32.4 7.4 32.0 8.4 31.6 9.2 31.4 10.4 31.2 11.6 31.3 12.8 31.5 13.6 31.8 14.4 32.2 15.2 32.7 15.9 33.2 16.4 33.7 17.0 34.4 17.5 35.2 18.0 36.0 18.3 36.8 18.6 37.6 18.8 38.4 19.1 39.6 19.2 40.8 19.2 41.6 19.2 42.8 19.2 43.6 19.1 44.8 19.0 46.0 18.9 47.2 18.8 48.4 18.8 49.2 18.7 50.4 18.7 51.6 18.6 52.8 18.5 54.0 18.4 54.8 18.2 56.0 18.0 57.0 17.7 58.0 17.5 58.8 17.2 59.6 16.8 60.4 16.4 61.2 15.9 62.0 15.2 62.8 14.8 63.2 14.0 63.9 13.3 64.4 12.5 64.8 11.6 65.1 10.4 65.2Z" fill="#000" fill-opacity="0.12"/>
<path d="M10 29h1M2 80h1M14 83h1M24 51h1M14 27h1M21 54h1M15 28h1M21 31h1M21 38h1M7 85h1M22 50h1M2 33h1M9 85h1M22 48h1M3 31h1M0 81h1M0 53h1M24 46h1M23 71h1M10 84h1M20 79h1M24 67h1M16 83h1M22 42h1M13 84h1M24 70h1M4 81h1M11 84h1M2 81h1M21 52h1M5 82h1M20 80h1M24 69h1M10 27h1M23 40h1M1 80h1M16 83h1M24 76h1M22 54h1M4 82h1M19 30h1M15 28h1M22 79h1M9 85h1M22 78h1M7 85h1M23 57h1M0 35h1M5 83h1M18 82h1M22 62h1M22 41h1M17 82h1M22 77h1M17 83h1M23 63h1M22 39h1M21 40h1M3 32h1M18 28h1M11 83h1M15 82h1M21 59h1M22 53h1M1 34h1M1 82h1M23 74h1M21 36h1M22 49h1M21 77h1M23 65h1M23 61h1M23 74h1M14 29h1M17 82h1M15 28h1M13 85h1M17 82h1M21 59h1M23 63h1M6 84h1M21 47h1M4 29h1M16 30h1M2 31h1M7 84h1M20 36h1M17 30h1M15 28h1M1 81h1M22 45h1M24 56h1M17 84h1M2 33h1M22 54h1M23 70h1M13 85h1M21 46h1M0 49h1M17 84h1M21 41h1M19 81h1M23 72h1M6 83h1M23 72h1M17 28h1M22 47h1M16 83h1M12 29h1M22 63h1M21 34h1M17 84h1M20 31h1M9 83h1M10 27h1M22 57h1M18 29h1M25 67h1M22 48h1M15 28h1M22 41h1M21 53h1M15 83h1M16 30h1M18 83h1M18 30h1M23 49h1M6 28h1M14 27h1M22 39h1M19 33h1M17 31h1M23 68h1M22 41h1M22 54h1M1 32h1M0 48h1M4 82h1M17 31h1M16 82h1M17 82h1M23 76h1M5 31h1M14 27h1M23 54h1M17 82h1M3 32h1M2 31h1M23 56h1M0 81h1M1 35h1M4 32h1M0 49h1M10 86h1M18 84h1M22 44h1M2 34h1M24 47h1M1 36h1M2 80h1M23 40h1M22 44h1M22 47h1M4 82h1M23 73h1M5 30h1M21 80h1M21 79h1M1 36h1M24 70h1M22 57h1M12 28h1M6 85h1M21 78h1M22 44h1M5 83h1M21 79h1M21 61h1M21 78h1M21 48h1M23 43h1M22 43h1M23 75h1M22 58h1M15 83h1M21 48h1M8 84h1M18 32h1M22 56h1M24 58h1M13 84h1M19 31h1M18 83h1M7 29h1M12 84h1M2 30h1M18 80h1M1 34h1M2 33h1M16 85h1M21 59h1M16 82h1M17 84h1M22 49h1M21 53h1M20 31h1M8 29h1M13 28h1M22 38h1M4 31h1M24 55h1M23 40h1M21 47h1M2 83h1M22 45h1M16 30h1M21 54h1M24 66h1M4 29h1M1 81h1M22 39h1M9 27h1M23 62h1M19 30h1M22 42h1M24 73h1M24 51h1M12 29h1M22 75h1M21 49h1M21 49h1M21 32h1M19 31h1M23 55h1M18 33h1M2 81h1M21 47h1M18 29h1M25 72h1M17 30h1M22 46h1M9 28h1M2 34h1M5 29h1M4 83h1M21 78h1M1 80h1M14 83h1M24 71h1M6 30h1M21 42h1M18 32h1M23 46h1M17 29h1M12 29h1M20 36h1M20 79h1M7 83h1M18 83h1M9 85h1M8 29h1M13 83h1M21 56h1M15 30h1M11 85h1M18 30h1M23 79h1M20 30h1M23 38h1M16 84h1M6 84h1M25 73h1M2 81h1M24 44h1M22 57h1M23 77h1M9 86h1M22 76h1M5 30h1M21 54h1M22 59h1M18 32h1M1 82h1M21 58h1M23 61h1M14 28h1M22 77h1M22 58h1M23 72h1M18 83h1M10 84h1M13 27h1M12 84h1M23 67h1M21 81h1M20 82h1M21 77h1M23 58h1M5 28h1M21 33h1M21 51h1M23 57h1M21 34h1M23 65h1M11 29h1M25 64h1M0 53h1M0 49h1M21 54h1M0 47h1M21 35h1M22 50h1M23 44h1M21 47h1M24 42h1M18 30h1M8 29h1M23 71h1M22 42h1M22 60h1M22 57h1M18 30h1M7 85h1M23 57h1M23 65h1M21 78h1M25 65h1M23 63h1M22 56h1M1 35h1M5 85h1M23 68h1M16 82h1M17 82h1M18 83h1M23 65h1M22 78h1M0 40h1M6 84h1M22 54h1M21 51h1M12 29h1M23 55h1M14 28h1M22 66h1M22 40h1M2 33h1M0 80h1M19 80h1M24 74h1M16 82h1M22 37h1M21 79h1M19 33h1M6 83h1M23 38h1M24 70h1M0 44h1M12 27h1M22 51h1M17 84h1M20 35h1M0 79h1M5 30h1M5 82h1M21 77h1M0 33h1M2 34h1M24 63h1M25 74h1M23 63h1M7 83h1M23 60h1M10 85h1M23 75h1M25 70h1M24 45h1M16 27h1M22 48h1M4 31h1M21 83h1M17 20h1M27 85h1M2 84h1M16 14h1M9 25h1M24 59h1M17 85h1M9 23h1M22 28h1M24 55h1M1 28h1M28 65h1M25 41h1M27 44h1M27 79h1M24 44h1M26 67h1M24 43h1M10 25h1M30 40h1M1 84h1M2 26h1M25 75h1M3 26h1M3 86h1M1 30h1M28 69h1M25 62h1M26 67h1M24 62h1M21 85h1M0 27h1M4 25h1M24 48h1M27 39h1M11 86h1M8 23h1M29 51h1M24 54h1" stroke="#222" stroke-width="1" stroke-opacity="0.75" shape-rendering="crispEdges"/>
<path d="M17 29h1M13 29h1M14 27h1M20 35h1M21 38h1M23 71h1M24 71h1M25 67h1M25 73h1M24 72h1M73 13h1M43 42h1M66 75h1M54 21h1M50 25h1M51 39h1M44 41h1M40 42h1M54 52h1M38 26h1M25 25h1M57 33h1M47 53h1M31 35h1M29 28h1M66 28h1M38 35h1M50 51h1M48 39h1M66 50h1M51 51h1M61 49h1M43 35h1M50 34h1M42 47h1M22 10h1M46 57h1M50 54h1M36 26h1M77 45h1M44 42h1M62 43h1M58 36h1M49 31h1M33 6h1M58 34h1M51 35h1M73 52h1M30 37h1M39 20h1M35 45h1M57 36h1M46 20h1M52 36h1M37 34h1M47 11h1M40 31h1M40 38h1M46 18h1M37 64h1M34 42h1M59 29h1M55 31h1M47 53h1M33 53h1M42 48h1M34 33h1M27 41h1M54 19h1M66 47h1M80 33h1M46 56h1M69 34h1M29 7h1M55 23h1M32 31h1M29 36h1M53 38h1M54 40h1M60 18h1M36 45h1M45 36h1M40 41h1M54 27h1M37 42h1M43 33h1M40 29h1M46 40h1M61 38h1M52 39h1M53 37h1M44 66h1M50 9h1M37 30h1M54 15h1M55 38h1M57 30h1M50 39h1M60 23h1M62 12h1M43 28h1M58 49h1M41 15h1M34 38h1M13 12h1M43 54h1M51 20h1M44 34h1M44 26h1M48 17h1M49 32h1M38 28h1M64 64h1M74 28h1M42 27h1M68 29h1M56 49h1M48 28h1M58 29h1M56 59h1M29 31h1M73 56h1M29 19h1M43 37h1M44 44h1M43 59h1M52 24h1M42 42h1M67 21h1M50 37h1M37 30h1M57 34h1M27 49h1M36 27h1M66 28h1M50 32h1M59 20h1M36 53h1M62 42h1M42 26h1M48 55h1M53 40h1M54 14h1M39 39h1M54 41h1M31 40h1M57 47h1M47 31h1M24 19h1M53 50h1M40 29h1M50 50h1M56 46h1M33 30h1M60 41h1M47 26h1M55 16h1M42 24h1M60 41h1M30 34h1M35 46h1M60 30h1M49 14h1M44 27h1M46 21h1M40 46h1M67 44h1M86 18h1M56 55h1M77 36h1M30 36h1M39 23h1M64 41h1M28 47h1M80 27h1M42 46h1M83 46h1M85 42h1M71 37h1M60 48h1M27 41h1M34 25h1M42 49h1M38 21h1M78 55h1M43 20h1M47 27h1M49 29h1M34 23h1M51 26h1M60 64h1M41 31h1M51 24h1M51 27h1M80 42h1M46 34h1M66 59h1M70 26h1M57 47h1M53 30h1M38 18h1M40 25h1M66 32h1M63 49h1M59 43h1M63 20h1M78 43h1M54 2h1M49 62h1M79 32h1M51 33h1M41 14h1M59 51h1M58 45h1M71 49h1M32 12h1M56 26h1M45 34h1M40 50h1M26 46h1M61 47h1M42 29h1M35 29h1M63 44h1M59 27h1M48 35h1M61 59h1M54 27h1M78 52h1M46 26h1M35 25h1M44 41h1M72 27h1M45 32h1M65 50h1M46 34h1M39 38h1M38 43h1M66 28h1M45 49h1M29 53h1M42 38h1M62 46h1M41 62h1M18 18h1M60 24h1M43 62h1M33 34h1M36 24h1M57 4h1M50 24h1M57 48h1M40 46h1M63 29h1M54 21h1M61 23h1M44 41h1M57 46h1M50 36h1M35 34h1M34 31h1M43 36h1M61 33h1M75 29h1M48 45h1M52 29h1M43 39h1M53 45h1M66 36h1M55 14h1M51 36h1M58 20h1M60 49h1M50 19h1M42 40h1M52 48h1M49 29h1M73 40h1M58 31h1M23 30h1M54 48h1M48 22h1M43 45h1M47 26h1M43 32h1M54 24h1M24 26h1M42 76h1M70 54h1M32 52h1M55 44h1M59 41h1M42 43h1M52 35h1M30 40h1M48 32h1M45 43h1M63 44h1M49 36h1M37 39h1M64 32h1M53 30h1M66 46h1M44 50h1M67 40h1M37 24h1M40 32h1M53 35h1M44 36h1M54 52h1M39 40h1M57 29h1M55 16h1M24 33h1M60 42h1M72 18h1M56 54h1M55 17h1M55 32h1M50 50h1M48 45h1M67 24h1M76 31h1M27 14h1M67 22h1M51 35h1M52 39h1M40 23h1M27 29h1M44 48h1M53 51h1M59 41h1M50 49h1M46 24h1M38 31h1M35 8h1M56 26h1M32 32h1M63 50h1M41 50h1M60 39h1M36 14h1M56 16h1M30 43h1M50 31h1M69 22h1M32 25h1M57 31h1M66 5h1M59 47h1M72 26h1M53 52h1M63 34h1M36 48h1M54 13h1M39 36h1M76 33h1M39 33h1M34 17h1M55 23h1M57 32h1M45 24h1M66 48h1M67 33h1M67 28h1M53 25h1M57 35h1M67 34h1M49 38h1M57 24h1M31 40h1M71 36h1M47 24h1M77 31h1M58 37h1M55 30h1M74 40h1M51 34h1M49 28h1M39 38h1M58 14h1M71 30h1M65 11h1M23 29h1M32 64h1M48 41h1M37 46h1M20 20h1M69 17h1M49 21h1M60 45h1M68 37h1M43 29h1M69 54h1M31 27h1M55 65h1M69 38h1M57 35h1M35 22h1M42 12h1M37 41h1M74 23h1M31 28h1M46 23h1M66 34h1M42 41h1M69 39h1M39 45h1M30 36h1M55 59h1M35 33h1M37 32h1M42 35h1M57 37h1M49 23h1M46 50h1M57 32h1M59 44h1M37 45h1M75 59h1M51 37h1M57 62h1M32 41h1M39 56h1M69 15h1M55 49h1M56 57h1M44 73h1M23 18h1M49 29h1M49 24h1M46 44h1M44 42h1M48 28h1M55 40h1M69 22h1M62 22h1M48 35h1M33 57h1M46 42h1M41 36h1M84 44h1M68 32h1M28 46h1M46 33h1M47 19h1M66 42h1M53 37h1M35 10h1M68 14h1M45 45h1M57 55h1M38 31h1M53 47h1M52 12h1M76 50h1M40 55h1M63 37h1M58 15h1M35 54h1M58 31h1M47 46h1M33 26h1M59 51h1M59 43h1M46 55h1M40 26h1M62 24h1M41 46h1M56 53h1M58 50h1M34 9h1M29 37h1M33 47h1M49 19h1M48 61h1M62 59h1M65 67h1M54 11h1M58 44h1M64 11h1M65 30h1M69 24h1M49 19h1M74 30h1M70 22h1M54 54h1M66 58h1M47 54h1M40 51h1M40 45h1M47 61h1M57 33h1M42 32h1M27 29h1M37 27h1M52 13h1M29 54h1M34 10h1M66 62h1M51 31h1M35 30h1M55 41h1M44 37h1M27 55h1M32 19h1M59 32h1M39 15h1M28 13h1M57 31h1M36 35h1M40 51h1M75 41h1M34 55h1M32 44h1M36 31h1M31 43h1M54 36h1M48 32h1M45 70h1M37 71h1M27 76h1M34 68h1M31 70h1M34 75h1M58 66h1M44 69h1M35 68h1M29 75h1M52 68h1M38 73h1M39 69h1M29 83h1M39 70h1M55 73h1M40 67h1M50 74h1M30 77h1M36 69h1M36 79h1M42 75h1M33 74h1M36 64h1M42 71h1M34 78h1M57 76h1M48 77h1M47 69h1M38 72h1M43 80h1M44 68h1M54 64h1M44 69h1M52 76h1M25 74h1M57 75h1M30 64h1M35 62h1M45 73h1M27 78h1M47 66h1M41 74h1M35 64h1M48 66h1M52 68h1M30 66h1M51 66h1M46 66h1M53 62h1M53 67h1M34 76h1M55 67h1M57 70h1M53 76h1M39 62h1M27 67h1M42 60h1M28 70h1M58 75h1M54 73h1M48 75h1M47 77h1M45 67h1M53 74h1M52 65h1M31 72h1M51 75h1M40 64h1M39 78h1M39 75h1M39 66h1M41 79h1M28 83h1M31 66h1M41 60h1M43 61h1M43 76h1M38 68h1M47 80h1M41 72h1M29 71h1M27 76h1M48 68h1M41 77h1M58 60h1M30 70h1M35 75h1M40 76h1" stroke="#555" stroke-width="1" stroke-opacity="0.75" shape-rendering="crispEdges"/>
</g></g>
<rect x="428.20" y="126.20" width="86.80" height="86.70" fill="none" stroke="#111" stroke-width="1.2"/>
<line x1="427.60" y1="213.30" x2="515.60" y2="213.30" stroke="#111" stroke-width="1.0"/>
<line x1="456.20" y1="126.20" x2="456.20" y2="212.90" stroke="#111" stroke-width="1.0"/>
<line x1="428.20" y1="189.70" x2="515.00" y2="189.70" stroke="#111" stroke-width="1.0"/>
<path d="M428.2 212.9h-2.0M428.2 212.9v2.0M428.2 206.4h-1.2M434.7 212.9v1.2M428.2 202.5h-1.2M438.6 212.9v1.2M428.2 199.8h-1.2M441.3 212.9v1.2M428.2 197.7h-1.2M443.4 212.9v1.2M428.2 196.0h-1.2M445.1 212.9v1.2M428.2 194.6h-1.2M446.5 212.9v1.2M428.2 193.3h-1.2M447.8 212.9v1.2M428.2 192.2h-1.2M448.9 212.9v1.2M428.2 191.2h-2.0M449.9 212.9v2.0M428.2 184.7h-1.2M456.4 212.9v1.2M428.2 180.8h-1.2M460.3 212.9v1.2M428.2 178.1h-1.2M463.0 212.9v1.2M428.2 176.0h-1.2M465.1 212.9v1.2M428.2 174.3h-1.2M466.8 212.9v1.2M428.2 172.9h-1.2M468.2 212.9v1.2M428.2 171.6h-1.2M469.5 212.9v1.2M428.2 170.5h-1.2M470.6 212.9v1.2M428.2 169.5h-2.0M471.6 212.9v2.0M428.2 163.0h-1.2M478.1 212.9v1.2M428.2 159.1h-1.2M482.0 212.9v1.2M428.2 156.4h-1.2M484.7 212.9v1.2M428.2 154.3h-1.2M486.8 212.9v1.2M428.2 152.6h-1.2M488.5 212.9v1.2M428.2 151.2h-1.2M489.9 212.9v1.2M428.2 149.9h-1.2M491.2 212.9v1.2M428.2 148.8h-1.2M492.3 212.9v1.2M428.2 147.8h-2.0M493.3 212.9v2.0M428.2 141.3h-1.2M499.8 212.9v1.2M428.2 137.4h-1.2M503.7 212.9v1.2M428.2 134.7h-1.2M506.4 212.9v1.2M428.2 132.6h-1.2M508.5 212.9v1.2M428.2 130.9h-1.2M510.2 212.9v1.2M428.2 129.5h-1.2M511.6 212.9v1.2M428.2 128.2h-1.2M512.9 212.9v1.2M428.2 127.1h-1.2M514.0 212.9v1.2M428.2 126.2h-2M515.0 212.9v2" stroke="#333" stroke-width=".7"/>
<text x="427.00" y="223.30" font-size="6.4" text-anchor="middle" fill="#333" stroke="#333" stroke-width="0.22">10</text>
<text x="429.80" y="219.70" font-size="3.8" fill="#333" stroke="#333" stroke-width="0.22">0</text>
<text x="448.70" y="223.30" font-size="6.4" text-anchor="middle" fill="#333" stroke="#333" stroke-width="0.22">10</text>
<text x="451.50" y="219.70" font-size="3.8" fill="#333" stroke="#333" stroke-width="0.22">1</text>
<text x="470.40" y="223.30" font-size="6.4" text-anchor="middle" fill="#333" stroke="#333" stroke-width="0.22">10</text>
<text x="473.20" y="219.70" font-size="3.8" fill="#333" stroke="#333" stroke-width="0.22">2</text>
<text x="492.10" y="223.30" font-size="6.4" text-anchor="middle" fill="#333" stroke="#333" stroke-width="0.22">10</text>
<text x="494.90" y="219.70" font-size="3.8" fill="#333" stroke="#333" stroke-width="0.22">3</text>
<text x="513.80" y="223.30" font-size="6.4" text-anchor="middle" fill="#333" stroke="#333" stroke-width="0.22">10</text>
<text x="516.60" y="219.70" font-size="3.8" fill="#333" stroke="#333" stroke-width="0.22">4</text>
<text x="430.16" y="141.22" font-size="18.08" stroke="#000" stroke-width="0.22" textLength="18.70" lengthAdjust="spacingAndGlyphs">37</text>
<text x="503.89" y="141.22" font-size="18.08" stroke="#000" stroke-width="0.22" textLength="9.35" lengthAdjust="spacingAndGlyphs">3</text>
<text x="504.01" y="211.33" font-size="17.66" stroke="#000" stroke-width="0.22" textLength="9.13" lengthAdjust="spacingAndGlyphs">0</text>
<ellipse cx="438.7" cy="196.3" rx="7.2" ry="7.5" fill="none" stroke="#1a1a1a" stroke-width="1.3"/>
<text x="0.85" y="13.20" font-size="16.28" font-weight="bold" stroke="#000" stroke-width="0.22" textLength="13.13" lengthAdjust="spacingAndGlyphs">A</text>
<text x="14.20" y="40.60" font-size="23.4" stroke="#000" stroke-width="0.22" textLength="34.10" lengthAdjust="spacingAndGlyphs">WT</text>
<text x="4.35" y="139.06" font-size="19.95" font-style="italic" stroke="#000" stroke-width="0.22" textLength="31.28" lengthAdjust="spacingAndGlyphs">syk</text>
<text x="35.30" y="131.00" font-size="10.5" font-style="italic" stroke="#000" stroke-width="0.22" textLength="13.5" lengthAdjust="spacingAndGlyphs">-/-</text>
<text x="18.42" y="227.88" font-size="18.64" font-style="italic" stroke="#000" stroke-width="0.22" transform="rotate(-90 18.42 227.88)" textLength="73.03" lengthAdjust="spacingAndGlyphs">S. aureus</text>
<text x="39.22" y="211.93" font-size="18.36" stroke="#000" stroke-width="0.22" transform="rotate(-90 39.22 211.93)" textLength="35.39" lengthAdjust="spacingAndGlyphs">APC</text>
<text x="46.87" y="240.75" font-size="18.17" stroke="#000" stroke-width="0.22" textLength="33.73" lengthAdjust="spacingAndGlyphs">APF</text>
<line x1="29.50" y1="227.00" x2="29.50" y2="236.30" stroke="#000" stroke-width="1.3"/>
<line x1="29.00" y1="236.30" x2="37.50" y2="236.30" stroke="#000" stroke-width="1.3"/>
<path d="M29.5 221.3L25.9 228.3L33.1 228.3Z" stroke="none" stroke-width="1" fill="#000"/>
<path d="M43.2 236.2L36.6 232.8L36.6 239.6Z" stroke="none" stroke-width="1" fill="#000"/>
<text x="77.55" y="17.10" font-size="20.97" stroke="#000" stroke-width="0.22" textLength="61.07" lengthAdjust="spacingAndGlyphs">15 min</text>
<text x="166.10" y="17.10" font-size="20.97" stroke="#000" stroke-width="0.22" textLength="62.96" lengthAdjust="spacingAndGlyphs">30 min</text>
<text x="256.42" y="17.10" font-size="20.97" stroke="#000" stroke-width="0.22" textLength="62.63" lengthAdjust="spacingAndGlyphs">45 min</text>
<text x="345.12" y="17.10" font-size="20.97" stroke="#000" stroke-width="0.22" textLength="63.97" lengthAdjust="spacingAndGlyphs">60 min</text>
<text x="436.71" y="17.10" font-size="20.97" stroke="#000" stroke-width="0.22" textLength="63.15" lengthAdjust="spacingAndGlyphs">90 min</text>
<text x="13.63" y="264.70" font-size="18.02" font-weight="bold" stroke="#000" stroke-width="0.22" textLength="12.67" lengthAdjust="spacingAndGlyphs">B</text>
<line x1="89.50" y1="257.95" x2="89.50" y2="398.10" stroke="#111" stroke-width="1.1"/>
<line x1="89.00" y1="397.60" x2="228.54" y2="397.60" stroke="#111" stroke-width="1.1"/>
<line x1="86.50" y1="377.65" x2="89.50" y2="377.65" stroke="#111" stroke-width="1.0"/>
<text x="85.30" y="381.55" font-size="11" text-anchor="end" fill="#111" stroke="#111" stroke-width="0.22">0.5</text>
<line x1="86.50" y1="337.75" x2="89.50" y2="337.75" stroke="#111" stroke-width="1.0"/>
<text x="85.30" y="341.65" font-size="11" text-anchor="end" fill="#111" stroke="#111" stroke-width="0.22">1.5</text>
<line x1="86.50" y1="297.85" x2="89.50" y2="297.85" stroke="#111" stroke-width="1.0"/>
<text x="85.30" y="301.75" font-size="11" text-anchor="end" fill="#111" stroke="#111" stroke-width="0.22">2.5</text>
<line x1="86.50" y1="257.95" x2="89.50" y2="257.95" stroke="#111" stroke-width="1.0"/>
<text x="85.30" y="261.85" font-size="11" text-anchor="end" fill="#111" stroke="#111" stroke-width="0.22">3.5</text>
<line x1="87.70" y1="357.70" x2="89.50" y2="357.70" stroke="#111" stroke-width="0.9"/>
<line x1="87.70" y1="317.80" x2="89.50" y2="317.80" stroke="#111" stroke-width="0.9"/>
<line x1="87.70" y1="277.90" x2="89.50" y2="277.90" stroke="#111" stroke-width="0.9"/>
<line x1="89.50" y1="397.60" x2="89.50" y2="400.60" stroke="#111" stroke-width="1.0"/>
<text x="89.50" y="411.60" font-size="11" text-anchor="middle" fill="#111" stroke="#111" stroke-width="0.22">0</text>
<line x1="123.01" y1="397.60" x2="123.01" y2="400.60" stroke="#111" stroke-width="1.0"/>
<text x="123.01" y="411.60" font-size="11" text-anchor="middle" fill="#111" stroke="#111" stroke-width="0.22">30</text>
<line x1="156.52" y1="397.60" x2="156.52" y2="400.60" stroke="#111" stroke-width="1.0"/>
<text x="156.52" y="411.60" font-size="11" text-anchor="middle" fill="#111" stroke="#111" stroke-width="0.22">60</text>
<line x1="190.03" y1="397.60" x2="190.03" y2="400.60" stroke="#111" stroke-width="1.0"/>
<text x="190.03" y="411.60" font-size="11" text-anchor="middle" fill="#111" stroke="#111" stroke-width="0.22">90</text>
<line x1="223.54" y1="397.60" x2="223.54" y2="400.60" stroke="#111" stroke-width="1.0"/>
<text x="223.54" y="411.60" font-size="11" text-anchor="middle" fill="#111" stroke="#111" stroke-width="0.22">120</text>
<text x="59.60" y="396.10" font-size="13.4" stroke="#000" stroke-width="0.22" transform="rotate(-90 59.60 396.10)" textLength="141.2" lengthAdjust="spacingAndGlyphs">nmol SOx / 10<tspan font-size="9.5" dy="-5.5">6</tspan><tspan dy="5.5"> PMN</tspan></text>
<text x="128.18" y="265.02" font-size="18.22" font-style="italic" stroke="#000" stroke-width="0.22" textLength="78.70" lengthAdjust="spacingAndGlyphs">S. aureus</text>
<path d="M156.52 394.81V386.83M153.77 386.83h5.5" stroke="#000" stroke-width="0.9" fill="none"/>
<path d="M167.69 394.41V386.43M164.94 386.43h5.5" stroke="#000" stroke-width="0.9" fill="none"/>
<path d="M178.86 393.61V385.63M176.11 385.63h5.5" stroke="#000" stroke-width="0.9" fill="none"/>
<path d="M190.03 392.41V385.23M187.28 385.23h5.5" stroke="#000" stroke-width="0.9" fill="none"/>
<path d="M201.20 389.22V384.43M198.45 384.43h5.5" stroke="#000" stroke-width="0.9" fill="none"/>
<path d="M89.50 395.61L100.67 396.80L111.84 396.80L123.01 396.40L134.18 395.61L145.35 395.21L156.52 394.81L167.69 394.41L178.86 393.61L190.03 392.41L201.20 389.22L212.37 387.23L223.54 386.83" stroke="#000" stroke-width="1.0" fill="none"/>
<path d="M89.50 391.29L85.40 398.49L93.60 398.49Z" fill="#000"/>
<path d="M100.67 392.48L96.57 399.68L104.77 399.68Z" fill="#000"/>
<path d="M111.84 392.48L107.74 399.68L115.94 399.68Z" fill="#000"/>
<path d="M123.01 392.08L118.91 399.28L127.11 399.28Z" fill="#000"/>
<path d="M134.18 391.29L130.08 398.49L138.28 398.49Z" fill="#000"/>
<path d="M145.35 390.89L141.25 398.09L149.45 398.09Z" fill="#000"/>
<path d="M156.52 390.49L152.42 397.69L160.62 397.69Z" fill="#000"/>
<path d="M167.69 390.09L163.59 397.29L171.79 397.29Z" fill="#000"/>
<path d="M178.86 389.29L174.76 396.49L182.96 396.49Z" fill="#000"/>
<path d="M190.03 388.09L185.93 395.29L194.13 395.29Z" fill="#000"/>
<path d="M201.20 384.90L197.10 392.10L205.30 392.10Z" fill="#000"/>
<path d="M212.37 382.91L208.27 390.11L216.47 390.11Z" fill="#000"/>
<path d="M223.54 382.51L219.44 389.71L227.64 389.71Z" fill="#000"/>
<path d="M123.01 369.67V395.21M120.26 369.67h5.5M120.26 395.21h5.5" stroke="#000" stroke-width="0.9" fill="none"/>
<path d="M134.18 350.92V384.43M131.43 350.92h5.5M131.43 384.43h5.5" stroke="#000" stroke-width="0.9" fill="none"/>
<path d="M145.35 338.95V366.88M142.60 338.95h5.5M142.60 366.88h5.5" stroke="#000" stroke-width="0.9" fill="none"/>
<path d="M156.52 325.78V348.92M153.77 325.78h5.5M153.77 348.92h5.5" stroke="#000" stroke-width="0.9" fill="none"/>
<path d="M167.69 311.42V330.57M164.94 311.42h5.5M164.94 330.57h5.5" stroke="#000" stroke-width="0.9" fill="none"/>
<path d="M178.86 300.64V317.40M176.11 300.64h5.5M176.11 317.40h5.5" stroke="#000" stroke-width="0.9" fill="none"/>
<path d="M190.03 292.26V308.22M187.28 292.26h5.5M187.28 308.22h5.5" stroke="#000" stroke-width="0.9" fill="none"/>
<path d="M201.20 285.88V301.04M198.45 285.88h5.5M198.45 301.04h5.5" stroke="#000" stroke-width="0.9" fill="none"/>
<path d="M212.37 281.09V294.66M209.62 281.09h5.5M209.62 294.66h5.5" stroke="#000" stroke-width="0.9" fill="none"/>
<path d="M223.54 278.70V290.67M220.79 278.70h5.5M220.79 290.67h5.5" stroke="#000" stroke-width="0.9" fill="none"/>
<path d="M100.67 396.40L111.84 394.01L123.01 382.44L134.18 367.68L145.35 352.91L156.52 337.35L167.69 320.99L178.86 309.02L190.03 300.24L201.20 293.46L212.37 287.88L223.54 284.68" stroke="#000" stroke-width="1.0" fill="none"/>
<rect x="96.97" y="392.70" width="7.4" height="7.4" fill="#fff" stroke="#000" stroke-width="1.1"/>
<rect x="108.14" y="390.31" width="7.4" height="7.4" fill="#fff" stroke="#000" stroke-width="1.1"/>
<rect x="119.31" y="378.74" width="7.4" height="7.4" fill="#fff" stroke="#000" stroke-width="1.1"/>
<rect x="130.48" y="363.98" width="7.4" height="7.4" fill="#fff" stroke="#000" stroke-width="1.1"/>
<rect x="141.65" y="349.21" width="7.4" height="7.4" fill="#fff" stroke="#000" stroke-width="1.1"/>
<rect x="152.82" y="333.65" width="7.4" height="7.4" fill="#fff" stroke="#000" stroke-width="1.1"/>
<rect x="163.99" y="317.29" width="7.4" height="7.4" fill="#fff" stroke="#000" stroke-width="1.1"/>
<rect x="175.16" y="305.32" width="7.4" height="7.4" fill="#fff" stroke="#000" stroke-width="1.1"/>
<rect x="186.33" y="296.54" width="7.4" height="7.4" fill="#fff" stroke="#000" stroke-width="1.1"/>
<rect x="197.50" y="289.76" width="7.4" height="7.4" fill="#fff" stroke="#000" stroke-width="1.1"/>
<rect x="208.67" y="284.18" width="7.4" height="7.4" fill="#fff" stroke="#000" stroke-width="1.1"/>
<rect x="219.84" y="280.98" width="7.4" height="7.4" fill="#fff" stroke="#000" stroke-width="1.1"/>
<text x="232.66" y="388.70" font-size="14.53" font-weight="bold" stroke="#000" stroke-width="0.22" textLength="7.76" lengthAdjust="spacingAndGlyphs">#</text>
<line x1="321.30" y1="257.95" x2="321.30" y2="398.10" stroke="#111" stroke-width="1.1"/>
<line x1="320.80" y1="397.60" x2="461.24" y2="397.60" stroke="#111" stroke-width="1.1"/>
<line x1="318.30" y1="377.65" x2="321.30" y2="377.65" stroke="#111" stroke-width="1.0"/>
<text x="317.10" y="381.55" font-size="11" text-anchor="end" fill="#111" stroke="#111" stroke-width="0.22">0.5</text>
<line x1="318.30" y1="337.75" x2="321.30" y2="337.75" stroke="#111" stroke-width="1.0"/>
<text x="317.10" y="341.65" font-size="11" text-anchor="end" fill="#111" stroke="#111" stroke-width="0.22">1.5</text>
<line x1="318.30" y1="297.85" x2="321.30" y2="297.85" stroke="#111" stroke-width="1.0"/>
<text x="317.10" y="301.75" font-size="11" text-anchor="end" fill="#111" stroke="#111" stroke-width="0.22">2.5</text>
<line x1="318.30" y1="257.95" x2="321.30" y2="257.95" stroke="#111" stroke-width="1.0"/>
<text x="317.10" y="261.85" font-size="11" text-anchor="end" fill="#111" stroke="#111" stroke-width="0.22">3.5</text>
<line x1="319.50" y1="357.70" x2="321.30" y2="357.70" stroke="#111" stroke-width="0.9"/>
<line x1="319.50" y1="317.80" x2="321.30" y2="317.80" stroke="#111" stroke-width="0.9"/>
<line x1="319.50" y1="277.90" x2="321.30" y2="277.90" stroke="#111" stroke-width="0.9"/>
<line x1="322.20" y1="397.60" x2="322.20" y2="400.60" stroke="#111" stroke-width="1.0"/>
<text x="322.20" y="411.60" font-size="11" text-anchor="middle" fill="#111" stroke="#111" stroke-width="0.22">0</text>
<line x1="355.71" y1="397.60" x2="355.71" y2="400.60" stroke="#111" stroke-width="1.0"/>
<text x="355.71" y="411.60" font-size="11" text-anchor="middle" fill="#111" stroke="#111" stroke-width="0.22">30</text>
<line x1="389.22" y1="397.60" x2="389.22" y2="400.60" stroke="#111" stroke-width="1.0"/>
<text x="389.22" y="411.60" font-size="11" text-anchor="middle" fill="#111" stroke="#111" stroke-width="0.22">60</text>
<line x1="422.73" y1="397.60" x2="422.73" y2="400.60" stroke="#111" stroke-width="1.0"/>
<text x="422.73" y="411.60" font-size="11" text-anchor="middle" fill="#111" stroke="#111" stroke-width="0.22">90</text>
<line x1="456.24" y1="397.60" x2="456.24" y2="400.60" stroke="#111" stroke-width="1.0"/>
<text x="456.24" y="411.60" font-size="11" text-anchor="middle" fill="#111" stroke="#111" stroke-width="0.22">120</text>
<text x="289.90" y="396.10" font-size="13.4" stroke="#000" stroke-width="0.22" transform="rotate(-90 289.90 396.10)" textLength="141.2" lengthAdjust="spacingAndGlyphs">nmol SOx / 10<tspan font-size="9.5" dy="-5.5">6</tspan><tspan dy="5.5"> PMN</tspan></text>
<text x="358.69" y="265.02" font-size="18.22" font-style="italic" stroke="#000" stroke-width="0.22" textLength="77.69" lengthAdjust="spacingAndGlyphs">S. aureus</text>
<path d="M411.56 374.46V379.65M408.81 379.65h5.5" stroke="#000" stroke-width="0.9" fill="none"/>
<path d="M422.73 374.06V379.25M419.98 379.25h5.5" stroke="#000" stroke-width="0.9" fill="none"/>
<path d="M433.90 373.66V378.85M431.15 378.85h5.5" stroke="#000" stroke-width="0.9" fill="none"/>
<path d="M445.07 373.66V378.85M442.32 378.85h5.5" stroke="#000" stroke-width="0.9" fill="none"/>
<path d="M456.24 372.86V378.05M453.49 378.05h5.5" stroke="#000" stroke-width="0.9" fill="none"/>
<path d="M322.20 396.40L333.37 394.41L344.54 389.62L355.71 385.63L366.88 380.84L378.05 377.65L389.22 376.45L400.39 375.26L411.56 374.46L422.73 374.06L433.90 373.66L445.07 373.66L456.24 372.86" stroke="#000" stroke-width="1.6" fill="none"/>
<path d="M322.20 392.60L326.00 396.40L322.20 400.20L318.40 396.40Z" fill="#000"/>
<path d="M333.37 390.61L337.17 394.41L333.37 398.21L329.57 394.41Z" fill="#000"/>
<path d="M344.54 385.82L348.34 389.62L344.54 393.42L340.74 389.62Z" fill="#000"/>
<path d="M355.71 381.83L359.51 385.63L355.71 389.43L351.91 385.63Z" fill="#000"/>
<path d="M366.88 377.04L370.68 380.84L366.88 384.64L363.08 380.84Z" fill="#000"/>
<path d="M378.05 373.85L381.85 377.65L378.05 381.45L374.25 377.65Z" fill="#000"/>
<path d="M389.22 372.65L393.02 376.45L389.22 380.25L385.42 376.45Z" fill="#000"/>
<path d="M400.39 371.46L404.19 375.26L400.39 379.06L396.59 375.26Z" fill="#000"/>
<path d="M411.56 370.66L415.36 374.46L411.56 378.26L407.76 374.46Z" fill="#000"/>
<path d="M422.73 370.26L426.53 374.06L422.73 377.86L418.93 374.06Z" fill="#000"/>
<path d="M433.90 369.86L437.70 373.66L433.90 377.46L430.10 373.66Z" fill="#000"/>
<path d="M445.07 369.86L448.87 373.66L445.07 377.46L441.27 373.66Z" fill="#000"/>
<path d="M456.24 369.06L460.04 372.86L456.24 376.66L452.44 372.86Z" fill="#000"/>
<path d="M322.20 395.61L333.37 393.61L344.54 387.62L355.71 383.24L366.88 379.25L378.05 375.66L389.22 374.46L400.39 373.26L411.56 372.06L422.73 371.67L433.90 370.87L445.07 370.87L456.24 370.07" stroke="#888" stroke-width="1.2" fill="none"/>
<path d="M322.20 399.93L318.10 392.73L326.30 392.73Z" fill="#777"/>
<path d="M333.37 397.93L329.27 390.73L337.47 390.73Z" fill="#777"/>
<path d="M344.54 391.94L340.44 384.75L348.64 384.75Z" fill="#777"/>
<path d="M355.71 387.56L351.61 380.36L359.81 380.36Z" fill="#777"/>
<path d="M366.88 383.57L362.78 376.37L370.98 376.37Z" fill="#777"/>
<path d="M378.05 379.98L373.95 372.78L382.15 372.78Z" fill="#777"/>
<path d="M389.22 378.78L385.12 371.58L393.32 371.58Z" fill="#777"/>
<path d="M400.39 377.58L396.29 370.38L404.49 370.38Z" fill="#777"/>
<path d="M411.56 376.38L407.46 369.18L415.66 369.18Z" fill="#777"/>
<path d="M422.73 375.99L418.63 368.79L426.83 368.79Z" fill="#777"/>
<path d="M433.90 375.19L429.80 367.99L438.00 367.99Z" fill="#777"/>
<path d="M445.07 375.19L440.97 367.99L449.17 367.99Z" fill="#777"/>
<path d="M456.24 374.39L452.14 367.19L460.34 367.19Z" fill="#777"/>
<path d="M445.07 274.31V284.68M442.32 274.31h5.5M442.32 284.68h5.5" stroke="#000" stroke-width="0.9" fill="none"/>
<path d="M456.24 269.92V279.50M453.49 269.92h5.5M453.49 279.50h5.5" stroke="#000" stroke-width="0.9" fill="none"/>
<path d="M322.20 396.40L333.37 394.01L344.54 385.23L355.71 373.66L366.88 357.30L378.05 340.14L389.22 326.18L400.39 311.42L411.56 299.45L422.73 293.06L433.90 286.68L445.07 279.50L456.24 274.71" stroke="#000" stroke-width="1.0" fill="none"/>
<rect x="318.50" y="392.70" width="7.4" height="7.4" fill="#fff" stroke="#000" stroke-width="1.1"/>
<rect x="329.67" y="390.31" width="7.4" height="7.4" fill="#fff" stroke="#000" stroke-width="1.1"/>
<rect x="340.84" y="381.53" width="7.4" height="7.4" fill="#fff" stroke="#000" stroke-width="1.1"/>
<rect x="352.01" y="369.96" width="7.4" height="7.4" fill="#fff" stroke="#000" stroke-width="1.1"/>
<rect x="363.18" y="353.60" width="7.4" height="7.4" fill="#fff" stroke="#000" stroke-width="1.1"/>
<rect x="374.35" y="336.44" width="7.4" height="7.4" fill="#fff" stroke="#000" stroke-width="1.1"/>
<rect x="385.52" y="322.48" width="7.4" height="7.4" fill="#fff" stroke="#000" stroke-width="1.1"/>
<rect x="396.69" y="307.72" width="7.4" height="7.4" fill="#fff" stroke="#000" stroke-width="1.1"/>
<rect x="407.86" y="295.75" width="7.4" height="7.4" fill="#fff" stroke="#000" stroke-width="1.1"/>
<rect x="419.03" y="289.36" width="7.4" height="7.4" fill="#fff" stroke="#000" stroke-width="1.1"/>
<rect x="430.20" y="282.98" width="7.4" height="7.4" fill="#fff" stroke="#000" stroke-width="1.1"/>
<rect x="441.37" y="275.80" width="7.4" height="7.4" fill="#fff" stroke="#000" stroke-width="1.1"/>
<rect x="452.54" y="271.01" width="7.4" height="7.4" fill="#fff" stroke="#000" stroke-width="1.1"/>
<text x="464.77" y="374.80" font-size="14.39" font-weight="bold" stroke="#000" stroke-width="0.22" textLength="7.55" lengthAdjust="spacingAndGlyphs">#</text>
<text x="125.06" y="431.52" font-size="15.35" stroke="#000" stroke-width="0.22" textLength="71.26" lengthAdjust="spacingAndGlyphs">Time (min)</text>
<text x="356.57" y="431.76" font-size="15.67" stroke="#000" stroke-width="0.22" textLength="70.95" lengthAdjust="spacingAndGlyphs">Time (min)</text>
<line x1="218.60" y1="425.00" x2="235.30" y2="425.00" stroke="#000" stroke-width="1.3"/>
<rect x="224.10" y="421.60" width="6.8" height="6.8" fill="#fff" stroke="#000" stroke-width="1.2"/>
<text x="241.44" y="430.40" font-size="13.37" stroke="#000" stroke-width="0.22" textLength="20.15" lengthAdjust="spacingAndGlyphs">WT</text>
<line x1="218.60" y1="443.30" x2="235.30" y2="443.30" stroke="#000" stroke-width="1.3"/>
<path d="M227.0 436.6L220.6 445.2L233.4 445.2Z" stroke="none" stroke-width="1" fill="#000"/>
<text x="241.67" y="446.78" font-size="13.09" font-style="italic" stroke="#000" stroke-width="0.22" textLength="19.68" lengthAdjust="spacingAndGlyphs">syk</text>
<text x="262.00" y="442.60" font-size="7" font-style="italic" stroke="#000" stroke-width="0.22" textLength="6.8" lengthAdjust="spacingAndGlyphs">-/-</text>
<line x1="276.90" y1="424.20" x2="294.50" y2="424.20" stroke="#222" stroke-width="1.3"/>
<path d="M286.4 429.6L281.0 419.8L291.8 419.8Z" stroke="none" stroke-width="1" fill="#999"/>
<text x="299.55" y="430.67" font-size="12.94" font-style="italic" stroke="#000" stroke-width="0.22" textLength="42.16" lengthAdjust="spacingAndGlyphs">CD11b</text>
<text x="341.50" y="425.80" font-size="7" font-style="italic" stroke="#000" stroke-width="0.22" textLength="7.5" lengthAdjust="spacingAndGlyphs">-/-</text>
<line x1="276.90" y1="440.30" x2="294.50" y2="440.30" stroke="#000" stroke-width="1.3"/>
<path d="M286.40 434.50L292.20 440.30L286.40 446.10L280.60 440.30Z" fill="#000"/>
<text x="299.54" y="445.75" font-size="15.11" font-style="italic" stroke="#000" stroke-width="0.22" textLength="35.24" lengthAdjust="spacingAndGlyphs">CD18</text>
<text x="335.00" y="439.80" font-size="7" font-style="italic" stroke="#000" stroke-width="0.22" textLength="7.5" lengthAdjust="spacingAndGlyphs">-/-</text>
<text x="14.60" y="467.13" font-size="17.51" font-weight="bold" stroke="#000" stroke-width="0.22" textLength="12.37" lengthAdjust="spacingAndGlyphs">C</text>
<line x1="89.50" y1="459.15" x2="89.50" y2="599.30" stroke="#111" stroke-width="1.1"/>
<line x1="89.00" y1="598.80" x2="228.54" y2="598.80" stroke="#111" stroke-width="1.1"/>
<line x1="86.50" y1="578.85" x2="89.50" y2="578.85" stroke="#111" stroke-width="1.0"/>
<text x="85.30" y="582.75" font-size="11" text-anchor="end" fill="#111" stroke="#111" stroke-width="0.22">0.5</text>
<line x1="86.50" y1="538.95" x2="89.50" y2="538.95" stroke="#111" stroke-width="1.0"/>
<text x="85.30" y="542.85" font-size="11" text-anchor="end" fill="#111" stroke="#111" stroke-width="0.22">1.5</text>
<line x1="86.50" y1="499.05" x2="89.50" y2="499.05" stroke="#111" stroke-width="1.0"/>
<text x="85.30" y="502.95" font-size="11" text-anchor="end" fill="#111" stroke="#111" stroke-width="0.22">2.5</text>
<line x1="86.50" y1="459.15" x2="89.50" y2="459.15" stroke="#111" stroke-width="1.0"/>
<text x="85.30" y="463.05" font-size="11" text-anchor="end" fill="#111" stroke="#111" stroke-width="0.22">3.5</text>
<line x1="87.70" y1="558.90" x2="89.50" y2="558.90" stroke="#111" stroke-width="0.9"/>
<line x1="87.70" y1="519.00" x2="89.50" y2="519.00" stroke="#111" stroke-width="0.9"/>
<line x1="87.70" y1="479.10" x2="89.50" y2="479.10" stroke="#111" stroke-width="0.9"/>
<line x1="89.50" y1="598.80" x2="89.50" y2="601.80" stroke="#111" stroke-width="1.0"/>
<text x="89.50" y="612.80" font-size="11" text-anchor="middle" fill="#111" stroke="#111" stroke-width="0.22">0</text>
<line x1="123.01" y1="598.80" x2="123.01" y2="601.80" stroke="#111" stroke-width="1.0"/>
<text x="123.01" y="612.80" font-size="11" text-anchor="middle" fill="#111" stroke="#111" stroke-width="0.22">30</text>
<line x1="156.52" y1="598.80" x2="156.52" y2="601.80" stroke="#111" stroke-width="1.0"/>
<text x="156.52" y="612.80" font-size="11" text-anchor="middle" fill="#111" stroke="#111" stroke-width="0.22">60</text>
<line x1="190.03" y1="598.80" x2="190.03" y2="601.80" stroke="#111" stroke-width="1.0"/>
<text x="190.03" y="612.80" font-size="11" text-anchor="middle" fill="#111" stroke="#111" stroke-width="0.22">90</text>
<line x1="223.54" y1="598.80" x2="223.54" y2="601.80" stroke="#111" stroke-width="1.0"/>
<text x="223.54" y="612.80" font-size="11" text-anchor="middle" fill="#111" stroke="#111" stroke-width="0.22">120</text>
<text x="59.00" y="596.80" font-size="13.4" stroke="#000" stroke-width="0.22" transform="rotate(-90 59.00 596.80)" textLength="140.5" lengthAdjust="spacingAndGlyphs">nmol SOx / 10<tspan font-size="9.5" dy="-5.5">6</tspan><tspan dy="5.5"> PMN</tspan></text>
<text x="144.04" y="465.63" font-size="17.84" font-style="italic" stroke="#000" stroke-width="0.22" textLength="49.35" lengthAdjust="spacingAndGlyphs">E. coli</text>
<path d="M89.50 598.00L100.67 596.80L111.84 595.21L123.01 592.02L134.18 590.02L145.35 586.43L156.52 583.24L167.69 580.45L178.86 578.85L190.03 576.85L201.20 574.46L212.37 572.47L223.54 571.67" stroke="#000" stroke-width="1.0" fill="none"/>
<path d="M89.50 593.68L85.40 600.88L93.60 600.88Z" fill="#000"/>
<path d="M100.67 592.48L96.57 599.68L104.77 599.68Z" fill="#000"/>
<path d="M111.84 590.89L107.74 598.09L115.94 598.09Z" fill="#000"/>
<path d="M123.01 587.70L118.91 594.90L127.11 594.90Z" fill="#000"/>
<path d="M134.18 585.70L130.08 592.90L138.28 592.90Z" fill="#000"/>
<path d="M145.35 582.11L141.25 589.31L149.45 589.31Z" fill="#000"/>
<path d="M156.52 578.92L152.42 586.12L160.62 586.12Z" fill="#000"/>
<path d="M167.69 576.13L163.59 583.33L171.79 583.33Z" fill="#000"/>
<path d="M178.86 574.53L174.76 581.73L182.96 581.73Z" fill="#000"/>
<path d="M190.03 572.53L185.93 579.73L194.13 579.73Z" fill="#000"/>
<path d="M201.20 570.14L197.10 577.34L205.30 577.34Z" fill="#000"/>
<path d="M212.37 568.15L208.27 575.35L216.47 575.35Z" fill="#000"/>
<path d="M223.54 567.35L219.44 574.55L227.64 574.55Z" fill="#000"/>
<path d="M134.18 544.93V555.31M131.43 544.93h5.5M131.43 555.31h5.5" stroke="#000" stroke-width="0.9" fill="none"/>
<path d="M145.35 527.78V534.16M142.60 527.78h5.5M142.60 534.16h5.5" stroke="#000" stroke-width="0.9" fill="none"/>
<path d="M89.50 597.60L100.67 595.61L111.84 587.63L123.01 570.87L134.18 550.12L145.35 530.97L156.52 514.61L167.69 503.84L178.86 497.05L190.03 492.67L201.20 490.27L212.37 490.27L223.54 491.87" stroke="#000" stroke-width="1.0" fill="none"/>
<rect x="85.80" y="593.90" width="7.4" height="7.4" fill="#fff" stroke="#000" stroke-width="1.1"/>
<rect x="96.97" y="591.91" width="7.4" height="7.4" fill="#fff" stroke="#000" stroke-width="1.1"/>
<rect x="108.14" y="583.93" width="7.4" height="7.4" fill="#fff" stroke="#000" stroke-width="1.1"/>
<rect x="119.31" y="567.17" width="7.4" height="7.4" fill="#fff" stroke="#000" stroke-width="1.1"/>
<rect x="130.48" y="546.42" width="7.4" height="7.4" fill="#fff" stroke="#000" stroke-width="1.1"/>
<rect x="141.65" y="527.27" width="7.4" height="7.4" fill="#fff" stroke="#000" stroke-width="1.1"/>
<rect x="152.82" y="510.91" width="7.4" height="7.4" fill="#fff" stroke="#000" stroke-width="1.1"/>
<rect x="163.99" y="500.14" width="7.4" height="7.4" fill="#fff" stroke="#000" stroke-width="1.1"/>
<rect x="175.16" y="493.35" width="7.4" height="7.4" fill="#fff" stroke="#000" stroke-width="1.1"/>
<rect x="186.33" y="488.97" width="7.4" height="7.4" fill="#fff" stroke="#000" stroke-width="1.1"/>
<rect x="197.50" y="486.57" width="7.4" height="7.4" fill="#fff" stroke="#000" stroke-width="1.1"/>
<rect x="208.67" y="486.57" width="7.4" height="7.4" fill="#fff" stroke="#000" stroke-width="1.1"/>
<rect x="219.84" y="488.17" width="7.4" height="7.4" fill="#fff" stroke="#000" stroke-width="1.1"/>
<text x="231.85" y="575.60" font-size="14.97" font-weight="bold" stroke="#000" stroke-width="0.22" textLength="8.19" lengthAdjust="spacingAndGlyphs">#</text>
<line x1="321.00" y1="459.15" x2="321.00" y2="599.30" stroke="#111" stroke-width="1.1"/>
<line x1="320.50" y1="598.80" x2="461.24" y2="598.80" stroke="#111" stroke-width="1.1"/>
<line x1="318.00" y1="578.85" x2="321.00" y2="578.85" stroke="#111" stroke-width="1.0"/>
<text x="316.80" y="582.75" font-size="11" text-anchor="end" fill="#111" stroke="#111" stroke-width="0.22">0.5</text>
<line x1="318.00" y1="538.95" x2="321.00" y2="538.95" stroke="#111" stroke-width="1.0"/>
<text x="316.80" y="542.85" font-size="11" text-anchor="end" fill="#111" stroke="#111" stroke-width="0.22">1.5</text>
<line x1="318.00" y1="499.05" x2="321.00" y2="499.05" stroke="#111" stroke-width="1.0"/>
<text x="316.80" y="502.95" font-size="11" text-anchor="end" fill="#111" stroke="#111" stroke-width="0.22">2.5</text>
<line x1="318.00" y1="459.15" x2="321.00" y2="459.15" stroke="#111" stroke-width="1.0"/>
<text x="316.80" y="463.05" font-size="11" text-anchor="end" fill="#111" stroke="#111" stroke-width="0.22">3.5</text>
<line x1="319.20" y1="558.90" x2="321.00" y2="558.90" stroke="#111" stroke-width="0.9"/>
<line x1="319.20" y1="519.00" x2="321.00" y2="519.00" stroke="#111" stroke-width="0.9"/>
<line x1="319.20" y1="479.10" x2="321.00" y2="479.10" stroke="#111" stroke-width="0.9"/>
<line x1="322.20" y1="598.80" x2="322.20" y2="601.80" stroke="#111" stroke-width="1.0"/>
<text x="322.20" y="612.80" font-size="11" text-anchor="middle" fill="#111" stroke="#111" stroke-width="0.22">0</text>
<line x1="355.71" y1="598.80" x2="355.71" y2="601.80" stroke="#111" stroke-width="1.0"/>
<text x="355.71" y="612.80" font-size="11" text-anchor="middle" fill="#111" stroke="#111" stroke-width="0.22">30</text>
<line x1="389.22" y1="598.80" x2="389.22" y2="601.80" stroke="#111" stroke-width="1.0"/>
<text x="389.22" y="612.80" font-size="11" text-anchor="middle" fill="#111" stroke="#111" stroke-width="0.22">60</text>
<line x1="422.73" y1="598.80" x2="422.73" y2="601.80" stroke="#111" stroke-width="1.0"/>
<text x="422.73" y="612.80" font-size="11" text-anchor="middle" fill="#111" stroke="#111" stroke-width="0.22">90</text>
<line x1="456.24" y1="598.80" x2="456.24" y2="601.80" stroke="#111" stroke-width="1.0"/>
<text x="456.24" y="612.80" font-size="11" text-anchor="middle" fill="#111" stroke="#111" stroke-width="0.22">120</text>
<text x="289.40" y="596.80" font-size="13.4" stroke="#000" stroke-width="0.22" transform="rotate(-90 289.40 596.80)" textLength="140.5" lengthAdjust="spacingAndGlyphs">nmol SOx / 10<tspan font-size="9.5" dy="-5.5">6</tspan><tspan dy="5.5"> PMN</tspan></text>
<text x="372.04" y="465.63" font-size="17.84" font-style="italic" stroke="#000" stroke-width="0.22" textLength="49.35" lengthAdjust="spacingAndGlyphs">E. coli</text>
<path d="M355.71 584.83V598.80M352.96 584.83h5.5M352.96 598.80h5.5" stroke="#777" stroke-width="1.0" fill="none"/>
<path d="M366.88 576.85V598.80M364.13 576.85h5.5M364.13 598.80h5.5" stroke="#777" stroke-width="1.0" fill="none"/>
<path d="M378.05 572.87V598.80M375.30 572.87h5.5M375.30 598.80h5.5" stroke="#777" stroke-width="1.0" fill="none"/>
<path d="M389.22 568.08V598.80M386.47 568.08h5.5M386.47 598.80h5.5" stroke="#777" stroke-width="1.0" fill="none"/>
<path d="M400.39 564.49V598.80M397.64 564.49h5.5M397.64 598.80h5.5" stroke="#777" stroke-width="1.0" fill="none"/>
<path d="M411.56 560.50V598.80M408.81 560.50h5.5M408.81 598.80h5.5" stroke="#777" stroke-width="1.0" fill="none"/>
<path d="M422.73 558.10V598.80M419.98 558.10h5.5M419.98 598.80h5.5" stroke="#777" stroke-width="1.0" fill="none"/>
<path d="M433.90 555.31V598.80M431.15 555.31h5.5M431.15 598.80h5.5" stroke="#777" stroke-width="1.0" fill="none"/>
<path d="M445.07 554.11V598.80M442.32 554.11h5.5M442.32 598.80h5.5" stroke="#777" stroke-width="1.0" fill="none"/>
<path d="M456.24 552.12V598.80M453.49 552.12h5.5M453.49 598.80h5.5" stroke="#777" stroke-width="1.0" fill="none"/>
<path d="M355.71 579.65V596.01M352.96 579.65h5.5M352.96 596.01h5.5" stroke="#111" stroke-width="0.9" fill="none"/>
<path d="M366.88 572.47V596.01M364.13 572.47h5.5M364.13 596.01h5.5" stroke="#111" stroke-width="0.9" fill="none"/>
<path d="M378.05 568.48V596.01M375.30 568.48h5.5M375.30 596.01h5.5" stroke="#111" stroke-width="0.9" fill="none"/>
<path d="M389.22 562.89V596.01M386.47 562.89h5.5M386.47 596.01h5.5" stroke="#111" stroke-width="0.9" fill="none"/>
<path d="M400.39 555.71V596.01M397.64 555.71h5.5M397.64 596.01h5.5" stroke="#111" stroke-width="0.9" fill="none"/>
<path d="M411.56 551.32V596.01M408.81 551.32h5.5M408.81 596.01h5.5" stroke="#111" stroke-width="0.9" fill="none"/>
<path d="M422.73 548.92V596.01M419.98 548.92h5.5M419.98 596.01h5.5" stroke="#111" stroke-width="0.9" fill="none"/>
<path d="M433.90 546.13V596.01M431.15 546.13h5.5M431.15 596.01h5.5" stroke="#111" stroke-width="0.9" fill="none"/>
<path d="M445.07 544.54V596.01M442.32 544.54h5.5M442.32 596.01h5.5" stroke="#111" stroke-width="0.9" fill="none"/>
<path d="M456.24 542.54V596.01M453.49 542.54h5.5M453.49 596.01h5.5" stroke="#111" stroke-width="0.9" fill="none"/>
<path d="M322.20 598.00L333.37 596.41L344.54 593.61L355.71 588.82L366.88 584.04L378.05 581.64L389.22 578.45L400.39 576.46L411.56 574.06L422.73 572.47L433.90 571.27L445.07 570.07L456.24 568.08" stroke="#777" stroke-width="1.6" fill="none"/>
<path d="M322.20 602.32L318.10 595.12L326.30 595.12Z" fill="#777"/>
<path d="M333.37 600.73L329.27 593.53L337.47 593.53Z" fill="#777"/>
<path d="M344.54 597.93L340.44 590.73L348.64 590.73Z" fill="#777"/>
<path d="M355.71 593.14L351.61 585.94L359.81 585.94Z" fill="#777"/>
<path d="M366.88 588.36L362.78 581.16L370.98 581.16Z" fill="#777"/>
<path d="M378.05 585.96L373.95 578.76L382.15 578.76Z" fill="#777"/>
<path d="M389.22 582.77L385.12 575.57L393.32 575.57Z" fill="#777"/>
<path d="M400.39 580.78L396.29 573.58L404.49 573.58Z" fill="#777"/>
<path d="M411.56 578.38L407.46 571.18L415.66 571.18Z" fill="#777"/>
<path d="M422.73 576.79L418.63 569.59L426.83 569.59Z" fill="#777"/>
<path d="M433.90 575.59L429.80 568.39L438.00 568.39Z" fill="#777"/>
<path d="M445.07 574.39L440.97 567.19L449.17 567.19Z" fill="#777"/>
<path d="M456.24 572.40L452.14 565.20L460.34 565.20Z" fill="#777"/>
<path d="M322.20 598.00L333.37 595.61L344.54 592.81L355.71 587.63L366.88 583.24L378.05 580.45L389.22 577.25L400.39 572.47L411.56 569.27L422.73 566.48L433.90 564.09L445.07 562.09L456.24 559.70" stroke="#000" stroke-width="1.3" fill="none"/>
<path d="M322.20 594.20L326.00 598.00L322.20 601.80L318.40 598.00Z" fill="#000"/>
<path d="M333.37 591.81L337.17 595.61L333.37 599.41L329.57 595.61Z" fill="#000"/>
<path d="M344.54 589.01L348.34 592.81L344.54 596.61L340.74 592.81Z" fill="#000"/>
<path d="M355.71 583.83L359.51 587.63L355.71 591.43L351.91 587.63Z" fill="#000"/>
<path d="M366.88 579.44L370.68 583.24L366.88 587.04L363.08 583.24Z" fill="#000"/>
<path d="M378.05 576.65L381.85 580.45L378.05 584.25L374.25 580.45Z" fill="#000"/>
<path d="M389.22 573.45L393.02 577.25L389.22 581.05L385.42 577.25Z" fill="#000"/>
<path d="M400.39 568.67L404.19 572.47L400.39 576.27L396.59 572.47Z" fill="#000"/>
<path d="M411.56 565.47L415.36 569.27L411.56 573.07L407.76 569.27Z" fill="#000"/>
<path d="M422.73 562.68L426.53 566.48L422.73 570.28L418.93 566.48Z" fill="#000"/>
<path d="M433.90 560.29L437.70 564.09L433.90 567.89L430.10 564.09Z" fill="#000"/>
<path d="M445.07 558.29L448.87 562.09L445.07 565.89L441.27 562.09Z" fill="#000"/>
<path d="M456.24 555.90L460.04 559.70L456.24 563.50L452.44 559.70Z" fill="#000"/>
<path d="M322.20 598.00L333.37 596.80L344.54 590.02L355.71 578.45L366.88 562.09L378.05 547.73L389.22 536.95L400.39 523.39L411.56 513.41L422.73 503.44L433.90 495.86L445.07 488.68L456.24 482.29" stroke="#000" stroke-width="1.0" fill="none"/>
<rect x="318.50" y="594.30" width="7.4" height="7.4" fill="#fff" stroke="#000" stroke-width="1.1"/>
<rect x="329.67" y="593.10" width="7.4" height="7.4" fill="#fff" stroke="#000" stroke-width="1.1"/>
<rect x="340.84" y="586.32" width="7.4" height="7.4" fill="#fff" stroke="#000" stroke-width="1.1"/>
<rect x="352.01" y="574.75" width="7.4" height="7.4" fill="#fff" stroke="#000" stroke-width="1.1"/>
<rect x="363.18" y="558.39" width="7.4" height="7.4" fill="#fff" stroke="#000" stroke-width="1.1"/>
<rect x="374.35" y="544.03" width="7.4" height="7.4" fill="#fff" stroke="#000" stroke-width="1.1"/>
<rect x="385.52" y="533.25" width="7.4" height="7.4" fill="#fff" stroke="#000" stroke-width="1.1"/>
<rect x="396.69" y="519.69" width="7.4" height="7.4" fill="#fff" stroke="#000" stroke-width="1.1"/>
<rect x="407.86" y="509.71" width="7.4" height="7.4" fill="#fff" stroke="#000" stroke-width="1.1"/>
<rect x="419.03" y="499.74" width="7.4" height="7.4" fill="#fff" stroke="#000" stroke-width="1.1"/>
<rect x="430.20" y="492.16" width="7.4" height="7.4" fill="#fff" stroke="#000" stroke-width="1.1"/>
<rect x="441.37" y="484.98" width="7.4" height="7.4" fill="#fff" stroke="#000" stroke-width="1.1"/>
<rect x="452.54" y="478.59" width="7.4" height="7.4" fill="#fff" stroke="#000" stroke-width="1.1"/>
<text x="462.46" y="563.60" font-size="14.97" font-weight="bold" stroke="#000" stroke-width="0.22" textLength="7.76" lengthAdjust="spacingAndGlyphs">#</text>
<text x="462.46" y="574.90" font-size="14.09" font-weight="bold" stroke="#000" stroke-width="0.22" textLength="7.76" lengthAdjust="spacingAndGlyphs">#</text>
<text x="125.06" y="632.52" font-size="15.35" stroke="#000" stroke-width="0.22" textLength="71.26" lengthAdjust="spacingAndGlyphs">Time (min)</text>
<text x="356.57" y="632.76" font-size="15.67" stroke="#000" stroke-width="0.22" textLength="70.95" lengthAdjust="spacingAndGlyphs">Time (min)</text>
<text x="4.59" y="652.10" font-size="18.02" font-weight="bold" stroke="#000" stroke-width="0.22" textLength="12.01" lengthAdjust="spacingAndGlyphs">D</text>
<path d="M55.4 694.0Q55.4 690.0 58.4 690.0H117.8Q120.8 690.0 120.8 694.0" stroke="#000" stroke-width="1.7" fill="none"/>
<path d="M123.0 694.0Q123.0 690.0 126.0 690.0H185.4Q188.4 690.0 188.4 694.0" stroke="#000" stroke-width="1.7" fill="none"/>
<path d="M200.0 694.0Q200.0 690.0 203.0 690.0H262.0Q265.0 690.0 265.0 694.0" stroke="#000" stroke-width="1.7" fill="none"/>
<path d="M267.0 694.0Q267.0 690.0 270.0 690.0H329.8Q332.8 690.0 332.8 694.0" stroke="#000" stroke-width="1.7" fill="none"/>
<text x="75.40" y="685.40" font-size="13.3" stroke="#000" stroke-width="0.22" textLength="20.4" lengthAdjust="spacingAndGlyphs">WT</text>
<text x="138.00" y="685.40" font-size="13.3" font-style="italic" stroke="#000" stroke-width="0.22">syk</text>
<text x="157.50" y="680.00" font-size="7" font-style="italic" stroke="#000" stroke-width="0.22">-/-</text>
<text x="203.00" y="686.50" font-size="13.3" font-style="italic" stroke="#000" stroke-width="0.22" textLength="40" lengthAdjust="spacingAndGlyphs">CD11b</text>
<text x="243.50" y="680.50" font-size="7" font-style="italic" stroke="#000" stroke-width="0.22">-/-</text>
<text x="275.00" y="686.50" font-size="13.3" font-style="italic" stroke="#000" stroke-width="0.22" textLength="32" lengthAdjust="spacingAndGlyphs">CD18</text>
<text x="307.50" y="680.50" font-size="7" font-style="italic" stroke="#000" stroke-width="0.22">-/-</text>
<text x="68.30" y="760.00" font-size="13" stroke="#000" stroke-width="0.22" transform="rotate(-90 68.30 760.00)" textLength="23.6" lengthAdjust="spacingAndGlyphs">TNF</text>
<text x="84.60" y="760.00" font-size="13" stroke="#000" stroke-width="0.22" transform="rotate(-90 84.60 760.00)" textLength="51.2" lengthAdjust="spacingAndGlyphs">TNF+Sa</text>
<text x="101.30" y="760.00" font-size="13" stroke="#000" stroke-width="0.22" transform="rotate(-90 101.30 760.00)" textLength="49.1" lengthAdjust="spacingAndGlyphs">TNF+Ec</text>
<text x="118.00" y="760.00" font-size="13" stroke="#000" stroke-width="0.22" transform="rotate(-90 118.00 760.00)" textLength="62.6" lengthAdjust="spacingAndGlyphs">TNF+PMA</text>
<text x="132.30" y="760.00" font-size="13" stroke="#000" stroke-width="0.22" transform="rotate(-90 132.30 760.00)" textLength="23.6" lengthAdjust="spacingAndGlyphs">TNF</text>
<text x="149.70" y="760.00" font-size="13" stroke="#000" stroke-width="0.22" transform="rotate(-90 149.70 760.00)" textLength="51.2" lengthAdjust="spacingAndGlyphs">TNF+Sa</text>
<text x="167.00" y="760.00" font-size="13" stroke="#000" stroke-width="0.22" transform="rotate(-90 167.00 760.00)" textLength="49.1" lengthAdjust="spacingAndGlyphs">TNF+Ec</text>
<text x="184.30" y="760.00" font-size="13" stroke="#000" stroke-width="0.22" transform="rotate(-90 184.30 760.00)" textLength="62.6" lengthAdjust="spacingAndGlyphs">TNF+PMA</text>
<text x="209.50" y="760.00" font-size="13" stroke="#000" stroke-width="0.22" transform="rotate(-90 209.50 760.00)" textLength="23.6" lengthAdjust="spacingAndGlyphs">TNF</text>
<text x="225.70" y="760.00" font-size="13" stroke="#000" stroke-width="0.22" transform="rotate(-90 225.70 760.00)" textLength="51.2" lengthAdjust="spacingAndGlyphs">TNF+Sa</text>
<text x="242.30" y="760.00" font-size="13" stroke="#000" stroke-width="0.22" transform="rotate(-90 242.30 760.00)" textLength="49.1" lengthAdjust="spacingAndGlyphs">TNF+Ec</text>
<text x="260.30" y="760.00" font-size="13" stroke="#000" stroke-width="0.22" transform="rotate(-90 260.30 760.00)" textLength="62.6" lengthAdjust="spacingAndGlyphs">TNF+PMA</text>
<text x="276.70" y="760.00" font-size="13" stroke="#000" stroke-width="0.22" transform="rotate(-90 276.70 760.00)" textLength="23.6" lengthAdjust="spacingAndGlyphs">TNF</text>
<text x="294.00" y="760.00" font-size="13" stroke="#000" stroke-width="0.22" transform="rotate(-90 294.00 760.00)" textLength="51.2" lengthAdjust="spacingAndGlyphs">TNF+Sa</text>
<text x="309.90" y="760.00" font-size="13" stroke="#000" stroke-width="0.22" transform="rotate(-90 309.90 760.00)" textLength="49.1" lengthAdjust="spacingAndGlyphs">TNF+Ec</text>
<text x="327.20" y="760.00" font-size="13" stroke="#000" stroke-width="0.22" transform="rotate(-90 327.20 760.00)" textLength="62.6" lengthAdjust="spacingAndGlyphs">TNF+PMA</text>
<text x="3.00" y="770.10" font-size="13" stroke="#000" stroke-width="0.22" textLength="34" lengthAdjust="spacingAndGlyphs">p-p40</text>
<text x="37.70" y="765.50" font-size="8" stroke="#000" stroke-width="0.22">phox</text>
<text x="3.00" y="792.00" font-size="13.5" stroke="#000" stroke-width="0.22" textLength="28.6" lengthAdjust="spacingAndGlyphs">actin</text>
<filter id="blur1" x="-20%" y="-100%" width="140%" height="300%"><feGaussianBlur stdDeviation="0.7"/></filter>
<g filter="url(#blur1)">
<path d="M58.3 764.9L69.3 765.7L69.3 767.3L58.3 767.1Z" fill="#c8c8c8" fill-opacity="1.0"/>
<path d="M74.1 764.8L86.1 765.7L86.1 767.9L74.1 767.8Z" fill="#2a2a2a" fill-opacity="1.0"/>
<path d="M90.8 765.3L102.8 766.1L102.8 768.1L90.8 767.9Z" fill="#9a9a9a" fill-opacity="1.0"/>
<path d="M107.0 765.3L120.0 766.2L120.0 768.8L107.0 768.7Z" fill="#1a1a1a" fill-opacity="1.0"/>
<path d="M121.3 768.4L134.3 769.2L134.3 771.3L121.3 771.2Z" fill="#888" fill-opacity="1.0"/>
<path d="M138.7 768.5L151.7 769.4L151.7 771.6L138.7 771.5Z" fill="#666" fill-opacity="1.0"/>
<path d="M156.5 768.6L168.5 769.5L168.5 771.5L156.5 771.4Z" fill="#9a9a9a" fill-opacity="1.0"/>
<path d="M172.8 768.3L186.8 769.3L186.8 772.5L172.8 772.5Z" fill="#0a0a0a" fill-opacity="1.0"/>
<path d="M198.5 769.0L211.5 769.8L211.5 771.6L198.5 771.4Z" fill="#999" fill-opacity="1.0"/>
<path d="M215.7 768.7L226.7 769.5L226.7 771.5L215.7 771.3Z" fill="#6a6a6a" fill-opacity="1.0"/>
<path d="M232.3 768.9L243.3 769.7L243.3 771.7L232.3 771.5Z" fill="#7a7a7a" fill-opacity="1.0"/>
<path d="M249.3 767.7L262.3 768.8L262.3 772.6L249.3 772.7Z" fill="#0a0a0a" fill-opacity="1.0"/>
<path d="M265.7 771.2L278.7 772.0L278.7 774.0L265.7 773.8Z" fill="#a8a8a8" fill-opacity="1.0"/>
<path d="M283.0 771.1L296.0 772.0L296.0 774.0L283.0 773.9Z" fill="#8a8a8a" fill-opacity="1.0"/>
<path d="M299.4 771.2L311.4 772.0L311.4 774.0L299.4 773.8Z" fill="#a8a8a8" fill-opacity="1.0"/>
<path d="M315.2 769.9L330.2 771.0L330.2 774.6L315.2 774.7Z" fill="#050505" fill-opacity="1.0"/>
<path d="M121.8 762.1L133.8 762.1L133.8 763.9L121.8 763.9Z" fill="#d4d4d4" fill-opacity="1.0"/>
<path d="M139.2 762.1L151.2 762.1L151.2 763.9L139.2 763.9Z" fill="#d4d4d4" fill-opacity="1.0"/>
<path d="M156.5 762.1L168.5 762.1L168.5 763.9L156.5 763.9Z" fill="#d4d4d4" fill-opacity="1.0"/>
<path d="M173.8 762.1L185.8 762.1L185.8 763.9L173.8 763.9Z" fill="#d4d4d4" fill-opacity="1.0"/>
<path d="M266.2 765.1L278.2 765.1L278.2 766.9L266.2 766.9Z" fill="#d4d4d4" fill-opacity="1.0"/>
<path d="M283.5 765.1L295.5 765.1L295.5 766.9L283.5 766.9Z" fill="#d4d4d4" fill-opacity="1.0"/>
<path d="M299.4 765.1L311.4 765.1L311.4 766.9L299.4 766.9Z" fill="#d4d4d4" fill-opacity="1.0"/>
<path d="M316.7 765.1L328.7 765.1L328.7 766.9L316.7 766.9Z" fill="#d4d4d4" fill-opacity="1.0"/>
<path d="M56.0 787.7L71.5 788.6L71.5 791.0L56.0 790.8Z" fill="#333" fill-opacity="1.0"/>
<path d="M72.3 788.0L87.8 788.9L87.8 791.3L72.3 791.0Z" fill="#2a2a2a" fill-opacity="1.0"/>
<path d="M89.0 788.3L104.5 789.2L104.5 791.6L89.0 791.4Z" fill="#333" fill-opacity="1.0"/>
<path d="M105.8 788.6L121.2 789.5L121.2 791.9L105.8 791.6Z" fill="#3a3a3a" fill-opacity="1.0"/>
<path d="M120.0 791.2L135.6 792.1L135.6 794.5L120.0 794.2Z" fill="#1a1a1a" fill-opacity="1.0"/>
<path d="M137.4 791.5L152.9 792.4L152.9 794.8L137.4 794.5Z" fill="#222" fill-opacity="1.0"/>
<path d="M154.8 791.8L170.2 792.7L170.2 795.1L154.8 794.9Z" fill="#222" fill-opacity="1.0"/>
<path d="M172.1 792.1L187.6 793.0L187.6 795.4L172.1 795.1Z" fill="#4a4a4a" fill-opacity="1.0"/>
<path d="M197.2 791.9L212.8 792.8L212.8 795.2L197.2 794.9Z" fill="#2a2a2a" fill-opacity="1.0"/>
<path d="M213.4 792.1L228.9 793.1L228.9 795.5L213.4 795.2Z" fill="#2a2a2a" fill-opacity="1.0"/>
<path d="M230.1 792.5L245.6 793.4L245.6 795.8L230.1 795.5Z" fill="#333" fill-opacity="1.0"/>
<path d="M248.1 792.8L263.6 793.7L263.6 796.1L248.1 795.8Z" fill="#3a3a3a" fill-opacity="1.0"/>
<path d="M264.4 794.1L279.9 795.0L279.9 797.4L264.4 797.1Z" fill="#2a2a2a" fill-opacity="1.0"/>
<path d="M281.8 794.4L297.2 795.3L297.2 797.7L281.8 797.4Z" fill="#2a2a2a" fill-opacity="1.0"/>
<path d="M297.6 794.7L313.1 795.6L313.1 798.0L297.6 797.8Z" fill="#2a2a2a" fill-opacity="1.0"/>
<path d="M314.9 795.0L330.4 795.9L330.4 798.3L314.9 798.0Z" fill="#3a3a3a" fill-opacity="1.0"/>
</g>
<path d="M272 784L276 788L274.5 791L277 796L273.5 795L272.5 790Z" stroke="none" stroke-width="1" fill="#333"/>
<text x="330.13" y="653.40" font-size="18.17" font-weight="bold" stroke="#000" stroke-width="0.22" textLength="11.65" lengthAdjust="spacingAndGlyphs">E</text>
<pattern id="hatch" patternUnits="userSpaceOnUse" width="3.2" height="3.2" patternTransform="rotate(45)"><rect width="3.2" height="3.2" fill="#fff"/><rect width="1.3" height="3.2" fill="#111"/></pattern>
<line x1="382.20" y1="666.30" x2="382.20" y2="797.80" stroke="#111" stroke-width="1.0"/>
<line x1="381.70" y1="797.30" x2="515.40" y2="797.30" stroke="#111" stroke-width="1.0"/>
<line x1="379.60" y1="797.30" x2="382.20" y2="797.30" stroke="#111" stroke-width="0.9"/>
<text x="378.80" y="801.20" font-size="11" text-anchor="end" fill="#111" stroke="#111" stroke-width="0.22">0</text>
<line x1="379.60" y1="771.10" x2="382.20" y2="771.10" stroke="#111" stroke-width="0.9"/>
<text x="378.80" y="775.00" font-size="11" text-anchor="end" fill="#111" stroke="#111" stroke-width="0.22">4</text>
<line x1="379.60" y1="744.90" x2="382.20" y2="744.90" stroke="#111" stroke-width="0.9"/>
<text x="378.80" y="748.80" font-size="11" text-anchor="end" fill="#111" stroke="#111" stroke-width="0.22">8</text>
<line x1="379.60" y1="718.70" x2="382.20" y2="718.70" stroke="#111" stroke-width="0.9"/>
<text x="378.80" y="722.60" font-size="11" text-anchor="end" fill="#111" stroke="#111" stroke-width="0.22">12</text>
<line x1="379.60" y1="692.50" x2="382.20" y2="692.50" stroke="#111" stroke-width="0.9"/>
<text x="378.80" y="696.40" font-size="11" text-anchor="end" fill="#111" stroke="#111" stroke-width="0.22">16</text>
<line x1="379.60" y1="666.30" x2="382.20" y2="666.30" stroke="#111" stroke-width="0.9"/>
<text x="378.80" y="670.20" font-size="11" text-anchor="end" fill="#111" stroke="#111" stroke-width="0.22">20</text>
<line x1="380.70" y1="784.20" x2="382.20" y2="784.20" stroke="#111" stroke-width="0.8"/>
<line x1="380.70" y1="758.00" x2="382.20" y2="758.00" stroke="#111" stroke-width="0.8"/>
<line x1="380.70" y1="731.80" x2="382.20" y2="731.80" stroke="#111" stroke-width="0.8"/>
<line x1="380.70" y1="705.60" x2="382.20" y2="705.60" stroke="#111" stroke-width="0.8"/>
<line x1="380.70" y1="679.40" x2="382.20" y2="679.40" stroke="#111" stroke-width="0.8"/>
<rect x="386.10" y="790.75" width="5.0" height="6.55" fill="#fff" stroke="#000" stroke-width="0.8"/>
<rect x="393.10" y="791.40" width="5.0" height="5.89" fill="#000" stroke="#000" stroke-width="0.8"/>
<rect x="400.10" y="792.06" width="5.0" height="5.24" fill="#8c8c8c" stroke="#000" stroke-width="0.8"/>
<path d="M409.70 790.09V788.13M408.20 788.13h3.0" stroke="#222" stroke-width="0.8" fill="none"/>
<rect x="407.20" y="790.09" width="5.0" height="7.21" fill="url(#hatch)" stroke="#000" stroke-width="0.8"/>
<line x1="399.10" y1="797.30" x2="399.10" y2="799.90" stroke="#111" stroke-width="0.9"/>
<path d="M421.70 725.25V698.39M420.20 698.39h3.0" stroke="#222" stroke-width="0.8" fill="none"/>
<rect x="419.20" y="725.25" width="5.0" height="72.05" fill="#fff" stroke="#000" stroke-width="0.8"/>
<path d="M428.70 770.44V741.62M427.20 741.62h3.0" stroke="#222" stroke-width="0.8" fill="none"/>
<rect x="426.20" y="770.44" width="5.0" height="26.85" fill="#000" stroke="#000" stroke-width="0.8"/>
<path d="M435.70 763.89V751.45M434.20 751.45h3.0" stroke="#222" stroke-width="0.8" fill="none"/>
<rect x="433.20" y="763.89" width="5.0" height="33.40" fill="#8c8c8c" stroke="#000" stroke-width="0.8"/>
<path d="M442.80 772.41V754.72M441.30 754.72h3.0" stroke="#222" stroke-width="0.8" fill="none"/>
<rect x="440.30" y="772.41" width="5.0" height="24.89" fill="url(#hatch)" stroke="#000" stroke-width="0.8"/>
<line x1="432.20" y1="797.30" x2="432.20" y2="799.90" stroke="#111" stroke-width="0.9"/>
<path d="M454.80 738.61V693.15M453.30 693.15h3.0" stroke="#222" stroke-width="0.8" fill="none"/>
<rect x="452.30" y="738.61" width="5.0" height="58.69" fill="#fff" stroke="#000" stroke-width="0.8"/>
<path d="M461.80 780.07V764.55M460.30 764.55h3.0" stroke="#222" stroke-width="0.8" fill="none"/>
<rect x="459.30" y="780.07" width="5.0" height="17.23" fill="#000" stroke="#000" stroke-width="0.8"/>
<path d="M468.80 783.54V778.50M467.30 778.50h3.0" stroke="#222" stroke-width="0.8" fill="none"/>
<rect x="466.30" y="783.54" width="5.0" height="13.76" fill="#8c8c8c" stroke="#000" stroke-width="0.8"/>
<path d="M475.90 787.80V780.60M474.40 780.60h3.0" stroke="#222" stroke-width="0.8" fill="none"/>
<rect x="473.40" y="787.80" width="5.0" height="9.50" fill="url(#hatch)" stroke="#000" stroke-width="0.8"/>
<line x1="465.30" y1="797.30" x2="465.30" y2="799.90" stroke="#111" stroke-width="0.9"/>
<path d="M487.90 708.22V702.98M486.40 702.98h3.0" stroke="#222" stroke-width="0.8" fill="none"/>
<rect x="485.40" y="708.22" width="5.0" height="89.08" fill="#fff" stroke="#000" stroke-width="0.8"/>
<path d="M494.90 703.63V697.74M493.40 697.74h3.0" stroke="#222" stroke-width="0.8" fill="none"/>
<rect x="492.40" y="703.63" width="5.0" height="93.67" fill="#000" stroke="#000" stroke-width="0.8"/>
<path d="M501.90 742.28V704.94M500.40 704.94h3.0" stroke="#222" stroke-width="0.8" fill="none"/>
<rect x="499.40" y="742.28" width="5.0" height="55.02" fill="#8c8c8c" stroke="#000" stroke-width="0.8"/>
<path d="M509.00 712.15V672.19M507.50 672.19h3.0" stroke="#222" stroke-width="0.8" fill="none"/>
<rect x="506.50" y="712.15" width="5.0" height="85.15" fill="url(#hatch)" stroke="#000" stroke-width="0.8"/>
<line x1="498.40" y1="797.30" x2="498.40" y2="799.90" stroke="#111" stroke-width="0.9"/>
<text x="428.30" y="735.60" font-size="12.5" text-anchor="middle" fill="#333" stroke="#333" stroke-width="0.22">*</text>
<text x="435.50" y="735.60" font-size="12.5" text-anchor="middle" fill="#333" stroke="#333" stroke-width="0.22">*</text>
<text x="442.60" y="735.60" font-size="12.5" text-anchor="middle" fill="#333" stroke="#333" stroke-width="0.22">*</text>
<text x="462.00" y="763.60" font-size="12.5" text-anchor="middle" fill="#333" stroke="#333" stroke-width="0.22">*</text>
<text x="468.70" y="770.60" font-size="12.5" text-anchor="middle" fill="#333" stroke="#333" stroke-width="0.22">*</text>
<text x="477.20" y="781.10" font-size="12.5" text-anchor="middle" fill="#333" stroke="#333" stroke-width="0.22">**</text>
<text x="402.50" y="812.30" font-size="13.5" text-anchor="end" stroke="#000" stroke-width="0.22" transform="rotate(-45 402.50 812.30)" textLength="24.8" lengthAdjust="spacingAndGlyphs">TNF</text>
<text x="436.20" y="812.50" font-size="13.5" text-anchor="end" stroke="#000" stroke-width="0.22" transform="rotate(-45 436.20 812.50)" textLength="49.5" lengthAdjust="spacingAndGlyphs">TNF+Sa</text>
<text x="470.00" y="812.00" font-size="13.5" text-anchor="end" stroke="#000" stroke-width="0.22" transform="rotate(-45 470.00 812.00)" textLength="50.3" lengthAdjust="spacingAndGlyphs">TNF+Ec</text>
<text x="501.00" y="810.50" font-size="13.5" text-anchor="end" stroke="#000" stroke-width="0.22" transform="rotate(-45 501.00 810.50)" textLength="63.5" lengthAdjust="spacingAndGlyphs">TNF+PMA</text>
<text x="360.1" y="806.4" font-size="13" transform="rotate(-90 360.1 806.4)" textLength="152.7" lengthAdjust="spacingAndGlyphs">Fold Increase (p-p40<tspan font-size="9" dy="-3.6">phox</tspan><tspan dy="3.6">)</tspan></text>
<rect x="388.2" y="645.8" width="12.4" height="7.6" fill="#fff" stroke="#000" stroke-width="1.1"/>
<rect x="388.2" y="656.4" width="12.4" height="8.0" fill="#000" stroke="#000" stroke-width="1.1"/>
<rect x="435.8" y="645.8" width="13.0" height="7.6" fill="#8c8c8c" stroke="#333" stroke-width="1.1"/>
<rect x="435.8" y="656.4" width="13.0" height="8.0" fill="url(#hatch)" stroke="#333" stroke-width="1.1"/>
<text x="402.30" y="653.70" font-size="12" stroke="#000" stroke-width="0.22" textLength="18.5" lengthAdjust="spacingAndGlyphs">WT</text>
<text x="403.10" y="663.60" font-size="12" font-style="italic" stroke="#000" stroke-width="0.22">syk</text>
<text x="420.60" y="659.00" font-size="6.5" font-style="italic" stroke="#000" stroke-width="0.22">-/-</text>
<text x="451.40" y="653.70" font-size="12" font-style="italic" stroke="#000" stroke-width="0.22" textLength="34.3" lengthAdjust="spacingAndGlyphs">CD11b</text>
<text x="486.00" y="649.00" font-size="6.5" font-style="italic" stroke="#000" stroke-width="0.22">-/-</text>
<text x="451.40" y="663.80" font-size="12" font-style="italic" stroke="#000" stroke-width="0.22" textLength="26.5" lengthAdjust="spacingAndGlyphs">CD18</text>
<text x="478.20" y="659.00" font-size="6.5" font-style="italic" stroke="#000" stroke-width="0.22">-/-</text>
<line x1="88.00" y1="887.80" x2="88.00" y2="1021.90" stroke="#111" stroke-width="1.1"/>
<line x1="87.50" y1="1021.40" x2="224.80" y2="1021.40" stroke="#111" stroke-width="1.1"/>
<line x1="85.00" y1="1021.40" x2="88.00" y2="1021.40" stroke="#111" stroke-width="1.0"/>
<text x="84.20" y="1025.30" font-size="11" text-anchor="end" fill="#111" stroke="#111" stroke-width="0.22">0</text>
<line x1="85.00" y1="988.00" x2="88.00" y2="988.00" stroke="#111" stroke-width="1.0"/>
<text x="84.20" y="991.90" font-size="11" text-anchor="end" fill="#111" stroke="#111" stroke-width="0.22">25</text>
<line x1="85.00" y1="954.60" x2="88.00" y2="954.60" stroke="#111" stroke-width="1.0"/>
<text x="84.20" y="958.50" font-size="11" text-anchor="end" fill="#111" stroke="#111" stroke-width="0.22">50</text>
<line x1="85.00" y1="921.20" x2="88.00" y2="921.20" stroke="#111" stroke-width="1.0"/>
<text x="84.20" y="925.10" font-size="11" text-anchor="end" fill="#111" stroke="#111" stroke-width="0.22">75</text>
<line x1="85.00" y1="887.80" x2="88.00" y2="887.80" stroke="#111" stroke-width="1.0"/>
<text x="84.20" y="891.70" font-size="11" text-anchor="end" fill="#111" stroke="#111" stroke-width="0.22">100</text>
<line x1="88.00" y1="1021.40" x2="88.00" y2="1024.40" stroke="#111" stroke-width="1.0"/>
<text x="88.00" y="1035.60" font-size="11" text-anchor="middle" fill="#111" stroke="#111" stroke-width="0.22">0</text>
<line x1="132.60" y1="1021.40" x2="132.60" y2="1024.40" stroke="#111" stroke-width="1.0"/>
<text x="132.60" y="1035.60" font-size="11" text-anchor="middle" fill="#111" stroke="#111" stroke-width="0.22">30</text>
<line x1="177.20" y1="1021.40" x2="177.20" y2="1024.40" stroke="#111" stroke-width="1.0"/>
<text x="177.20" y="1035.60" font-size="11" text-anchor="middle" fill="#111" stroke="#111" stroke-width="0.22">60</text>
<line x1="221.80" y1="1021.40" x2="221.80" y2="1024.40" stroke="#111" stroke-width="1.0"/>
<text x="221.80" y="1035.60" font-size="11" text-anchor="middle" fill="#111" stroke="#111" stroke-width="0.22">90</text>
<text x="122.38" y="1053.50" font-size="14.49" stroke="#000" stroke-width="0.22" textLength="68.72" lengthAdjust="spacingAndGlyphs">Time (min)</text>
<text x="61.14" y="997.12" font-size="16.61" stroke="#000" stroke-width="0.22" transform="rotate(-90 61.14 997.12)" textLength="88.94" lengthAdjust="spacingAndGlyphs">% Elastolux +</text>
<text x="121.99" y="862.43" font-size="17.66" font-style="italic" stroke="#000" stroke-width="0.22" textLength="77.79" lengthAdjust="spacingAndGlyphs">S. aureus</text>
<text x="40.71" y="859.90" font-size="18.17" font-weight="bold" stroke="#000" stroke-width="0.22" textLength="10.84" lengthAdjust="spacingAndGlyphs">F</text>
<path d="M88.00 1020.06L132.60 946.85L177.20 912.65L221.80 901.96" stroke="#000" stroke-width="1.0" fill="none"/>
<rect x="84.30" y="1016.36" width="7.4" height="7.4" fill="#fff" stroke="#000" stroke-width="1.1"/>
<rect x="128.90" y="943.15" width="7.4" height="7.4" fill="#fff" stroke="#000" stroke-width="1.1"/>
<rect x="173.50" y="908.95" width="7.4" height="7.4" fill="#fff" stroke="#000" stroke-width="1.1"/>
<rect x="218.10" y="898.26" width="7.4" height="7.4" fill="#fff" stroke="#000" stroke-width="1.1"/>
<path d="M88.00 1020.06L132.60 1007.64L177.20 962.22L221.80 936.43" stroke="#000" stroke-width="1.0" fill="none"/>
<path d="M88.00 1015.74L83.90 1022.94L92.10 1022.94Z" fill="#000"/>
<path d="M132.60 1003.32L128.50 1010.52L136.70 1010.52Z" fill="#000"/>
<path d="M177.20 957.90L173.10 965.10L181.30 965.10Z" fill="#000"/>
<path d="M221.80 932.11L217.70 939.31L225.90 939.31Z" fill="#000"/>
<path d="M88.00 1020.06L132.60 1013.38L177.20 1004.03L221.80 986.00" stroke="#000" stroke-width="1.0" fill="none"/>
<path d="M88.00 1016.26L91.80 1020.06L88.00 1023.86L84.20 1020.06Z" fill="#000"/>
<path d="M132.60 1009.58L136.40 1013.38L132.60 1017.18L128.80 1013.38Z" fill="#000"/>
<path d="M177.20 1000.23L181.00 1004.03L177.20 1007.83L173.40 1004.03Z" fill="#000"/>
<path d="M221.80 982.20L225.60 986.00L221.80 989.80L218.00 986.00Z" fill="#000"/>
<path d="M88.00 1020.06L132.60 1015.39L177.20 1002.96L221.80 985.33" stroke="#888" stroke-width="1.2" fill="none"/>
<path d="M88.00 1024.38L83.90 1017.18L92.10 1017.18Z" fill="#777"/>
<path d="M132.60 1019.71L128.50 1012.51L136.70 1012.51Z" fill="#777"/>
<path d="M177.20 1007.28L173.10 1000.08L181.30 1000.08Z" fill="#777"/>
<path d="M221.80 989.65L217.70 982.45L225.90 982.45Z" fill="#777"/>
<text x="230.24" y="939.70" font-size="15.71" font-weight="bold" stroke="#000" stroke-width="0.22" textLength="8.51" lengthAdjust="spacingAndGlyphs">#</text>
<text x="230.55" y="983.90" font-size="15.27" font-weight="bold" stroke="#000" stroke-width="0.22" textLength="8.19" lengthAdjust="spacingAndGlyphs">#</text>
<line x1="90.80" y1="877.80" x2="107.80" y2="877.80" stroke="#000" stroke-width="1.3"/>
<rect x="95.00" y="874.30" width="7.0" height="7.0" fill="#fff" stroke="#000" stroke-width="1.2"/>
<text x="113.14" y="882.50" font-size="13.08" stroke="#000" stroke-width="0.22" textLength="20.87" lengthAdjust="spacingAndGlyphs">WT</text>
<line x1="90.80" y1="894.00" x2="107.80" y2="894.00" stroke="#000" stroke-width="1.3"/>
<path d="M99.3 887.2L93.1 895.0L105.5 895.0Z" fill="#000"/>
<text x="113.47" y="897.36" font-size="13.2" font-style="italic" stroke="#000" stroke-width="0.22" textLength="19.39" lengthAdjust="spacingAndGlyphs">syk</text>
<text x="133.60" y="892.80" font-size="7.5" font-style="italic" stroke="#000" stroke-width="0.22" textLength="8" lengthAdjust="spacingAndGlyphs">-/-</text>
<line x1="90.80" y1="908.00" x2="107.80" y2="908.00" stroke="#222" stroke-width="1.3"/>
<path d="M99.3 914.2L93.7 905.0L104.9 905.0Z" fill="#999"/>
<text x="113.59" y="915.57" font-size="12.94" font-style="italic" stroke="#000" stroke-width="0.22" textLength="39.90" lengthAdjust="spacingAndGlyphs">CD11b</text>
<text x="153.30" y="910.50" font-size="7.5" font-style="italic" stroke="#000" stroke-width="0.22" textLength="8" lengthAdjust="spacingAndGlyphs">-/-</text>
<line x1="90.80" y1="925.00" x2="107.80" y2="925.00" stroke="#000" stroke-width="1.3"/>
<path d="M99.30 918.80L105.50 925.00L99.30 931.20L93.10 925.00Z" fill="#000"/>
<text x="113.55" y="931.77" font-size="12.99" font-style="italic" stroke="#000" stroke-width="0.22" textLength="34.73" lengthAdjust="spacingAndGlyphs">CD18</text>
<text x="148.40" y="926.80" font-size="7.5" font-style="italic" stroke="#000" stroke-width="0.22" textLength="8" lengthAdjust="spacingAndGlyphs">-/-</text>
<line x1="318.80" y1="889.10" x2="318.80" y2="1022.80" stroke="#111" stroke-width="1.1"/>
<line x1="318.30" y1="1022.30" x2="455.60" y2="1022.30" stroke="#111" stroke-width="1.1"/>
<line x1="315.80" y1="1022.30" x2="318.80" y2="1022.30" stroke="#111" stroke-width="1.0"/>
<text x="315.00" y="1026.20" font-size="11" text-anchor="end" fill="#111" stroke="#111" stroke-width="0.22">0</text>
<line x1="315.80" y1="989.00" x2="318.80" y2="989.00" stroke="#111" stroke-width="1.0"/>
<text x="315.00" y="992.90" font-size="11" text-anchor="end" fill="#111" stroke="#111" stroke-width="0.22">10</text>
<line x1="315.80" y1="955.70" x2="318.80" y2="955.70" stroke="#111" stroke-width="1.0"/>
<text x="315.00" y="959.60" font-size="11" text-anchor="end" fill="#111" stroke="#111" stroke-width="0.22">20</text>
<line x1="315.80" y1="922.40" x2="318.80" y2="922.40" stroke="#111" stroke-width="1.0"/>
<text x="315.00" y="926.30" font-size="11" text-anchor="end" fill="#111" stroke="#111" stroke-width="0.22">30</text>
<line x1="315.80" y1="889.10" x2="318.80" y2="889.10" stroke="#111" stroke-width="1.0"/>
<text x="315.00" y="893.00" font-size="11" text-anchor="end" fill="#111" stroke="#111" stroke-width="0.22">40</text>
<line x1="318.80" y1="1022.30" x2="318.80" y2="1025.30" stroke="#111" stroke-width="1.0"/>
<text x="318.80" y="1036.50" font-size="11" text-anchor="middle" fill="#111" stroke="#111" stroke-width="0.22">0</text>
<line x1="363.40" y1="1022.30" x2="363.40" y2="1025.30" stroke="#111" stroke-width="1.0"/>
<text x="363.40" y="1036.50" font-size="11" text-anchor="middle" fill="#111" stroke="#111" stroke-width="0.22">30</text>
<line x1="408.00" y1="1022.30" x2="408.00" y2="1025.30" stroke="#111" stroke-width="1.0"/>
<text x="408.00" y="1036.50" font-size="11" text-anchor="middle" fill="#111" stroke="#111" stroke-width="0.22">60</text>
<line x1="452.60" y1="1022.30" x2="452.60" y2="1025.30" stroke="#111" stroke-width="1.0"/>
<text x="452.60" y="1036.50" font-size="11" text-anchor="middle" fill="#111" stroke="#111" stroke-width="0.22">90</text>
<text x="353.18" y="1053.50" font-size="14.49" stroke="#000" stroke-width="0.22" textLength="68.72" lengthAdjust="spacingAndGlyphs">Time (min)</text>
<text x="291.94" y="997.12" font-size="16.61" stroke="#000" stroke-width="0.22" transform="rotate(-90 291.94 997.12)" textLength="88.94" lengthAdjust="spacingAndGlyphs">% Elastolux +</text>
<text x="360.54" y="862.33" font-size="17.7" font-style="italic" stroke="#000" stroke-width="0.22" textLength="49.35" lengthAdjust="spacingAndGlyphs">E. coli</text>
<text x="273.96" y="858.72" font-size="18.08" font-weight="bold" stroke="#000" stroke-width="0.22" textLength="13.95" lengthAdjust="spacingAndGlyphs">G</text>
<path d="M318.80 1011.64V1024.30M316.05 1011.64h5.5M316.05 1024.30h5.5" stroke="#000" stroke-width="0.9" fill="none"/>
<path d="M408.00 983.67V998.99M405.25 983.67h5.5M405.25 998.99h5.5" stroke="#000" stroke-width="0.9" fill="none"/>
<path d="M452.60 921.40V929.39M449.85 921.40h5.5M449.85 929.39h5.5" stroke="#000" stroke-width="0.9" fill="none"/>
<path d="M318.80 1017.97L363.40 1010.31L408.00 991.33L452.60 925.40" stroke="#000" stroke-width="1.0" fill="none"/>
<rect x="315.10" y="1014.27" width="7.4" height="7.4" fill="#fff" stroke="#000" stroke-width="1.1"/>
<rect x="359.70" y="1006.61" width="7.4" height="7.4" fill="#fff" stroke="#000" stroke-width="1.1"/>
<rect x="404.30" y="987.63" width="7.4" height="7.4" fill="#fff" stroke="#000" stroke-width="1.1"/>
<rect x="448.90" y="921.70" width="7.4" height="7.4" fill="#fff" stroke="#000" stroke-width="1.1"/>
<path d="M452.60 946.71V960.03M449.85 946.71h5.5M449.85 960.03h5.5" stroke="#000" stroke-width="0.9" fill="none"/>
<path d="M318.80 1018.30L363.40 1012.31L408.00 999.99L452.60 953.37" stroke="#000" stroke-width="1.0" fill="none"/>
<path d="M318.80 1013.98L314.70 1021.18L322.90 1021.18Z" fill="#000"/>
<path d="M363.40 1007.99L359.30 1015.19L367.50 1015.19Z" fill="#000"/>
<path d="M408.00 995.67L403.90 1002.87L412.10 1002.87Z" fill="#000"/>
<path d="M452.60 949.05L448.50 956.25L456.70 956.25Z" fill="#000"/>
<path d="M318.80 1018.97L363.40 1016.97L408.00 1011.64L452.60 992.33" stroke="#000" stroke-width="1.0" fill="none"/>
<path d="M318.80 1015.17L322.60 1018.97L318.80 1022.77L315.00 1018.97Z" fill="#000"/>
<path d="M363.40 1013.17L367.20 1016.97L363.40 1020.77L359.60 1016.97Z" fill="#000"/>
<path d="M408.00 1007.84L411.80 1011.64L408.00 1015.44L404.20 1011.64Z" fill="#000"/>
<path d="M452.60 988.53L456.40 992.33L452.60 996.13L448.80 992.33Z" fill="#000"/>
<path d="M452.60 988.67V998.66M449.85 988.67h5.5M449.85 998.66h5.5" stroke="#333" stroke-width="0.9" fill="none"/>
<path d="M318.80 1018.97L363.40 1016.64L408.00 1011.64L452.60 993.66" stroke="#888" stroke-width="1.2" fill="none"/>
<path d="M318.80 1023.29L314.70 1016.09L322.90 1016.09Z" fill="#777"/>
<path d="M363.40 1020.96L359.30 1013.76L367.50 1013.76Z" fill="#777"/>
<path d="M408.00 1015.96L403.90 1008.76L412.10 1008.76Z" fill="#777"/>
<path d="M452.60 997.98L448.50 990.78L456.70 990.78Z" fill="#777"/>
<text x="461.56" y="956.10" font-size="14.83" font-weight="bold" stroke="#000" stroke-width="0.22" textLength="7.87" lengthAdjust="spacingAndGlyphs">#</text>
<text x="461.56" y="995.20" font-size="14.53" font-weight="bold" stroke="#000" stroke-width="0.22" textLength="7.87" lengthAdjust="spacingAndGlyphs">#</text>
<line x1="323.10" y1="877.80" x2="340.10" y2="877.80" stroke="#000" stroke-width="1.3"/>
<rect x="327.30" y="874.30" width="7.0" height="7.0" fill="#fff" stroke="#000" stroke-width="1.2"/>
<text x="345.44" y="882.50" font-size="13.08" stroke="#000" stroke-width="0.22" textLength="20.87" lengthAdjust="spacingAndGlyphs">WT</text>
<line x1="323.10" y1="894.00" x2="340.10" y2="894.00" stroke="#000" stroke-width="1.3"/>
<path d="M331.6 887.2L325.4 895.0L337.8 895.0Z" fill="#000"/>
<text x="345.77" y="897.36" font-size="13.2" font-style="italic" stroke="#000" stroke-width="0.22" textLength="19.39" lengthAdjust="spacingAndGlyphs">syk</text>
<text x="365.90" y="892.80" font-size="7.5" font-style="italic" stroke="#000" stroke-width="0.22" textLength="8" lengthAdjust="spacingAndGlyphs">-/-</text>
<line x1="323.10" y1="908.00" x2="340.10" y2="908.00" stroke="#222" stroke-width="1.3"/>
<path d="M331.6 914.2L326.0 905.0L337.2 905.0Z" fill="#999"/>
<text x="345.89" y="915.57" font-size="12.94" font-style="italic" stroke="#000" stroke-width="0.22" textLength="39.90" lengthAdjust="spacingAndGlyphs">CD11b</text>
<text x="385.60" y="910.50" font-size="7.5" font-style="italic" stroke="#000" stroke-width="0.22" textLength="8" lengthAdjust="spacingAndGlyphs">-/-</text>
<line x1="323.10" y1="925.00" x2="340.10" y2="925.00" stroke="#000" stroke-width="1.3"/>
<path d="M331.60 918.80L337.80 925.00L331.60 931.20L325.40 925.00Z" fill="#000"/>
<text x="345.85" y="931.77" font-size="12.99" font-style="italic" stroke="#000" stroke-width="0.22" textLength="34.73" lengthAdjust="spacingAndGlyphs">CD18</text>
<text x="380.70" y="926.80" font-size="7.5" font-style="italic" stroke="#000" stroke-width="0.22" textLength="8" lengthAdjust="spacingAndGlyphs">-/-</text>
</svg></body></html>
